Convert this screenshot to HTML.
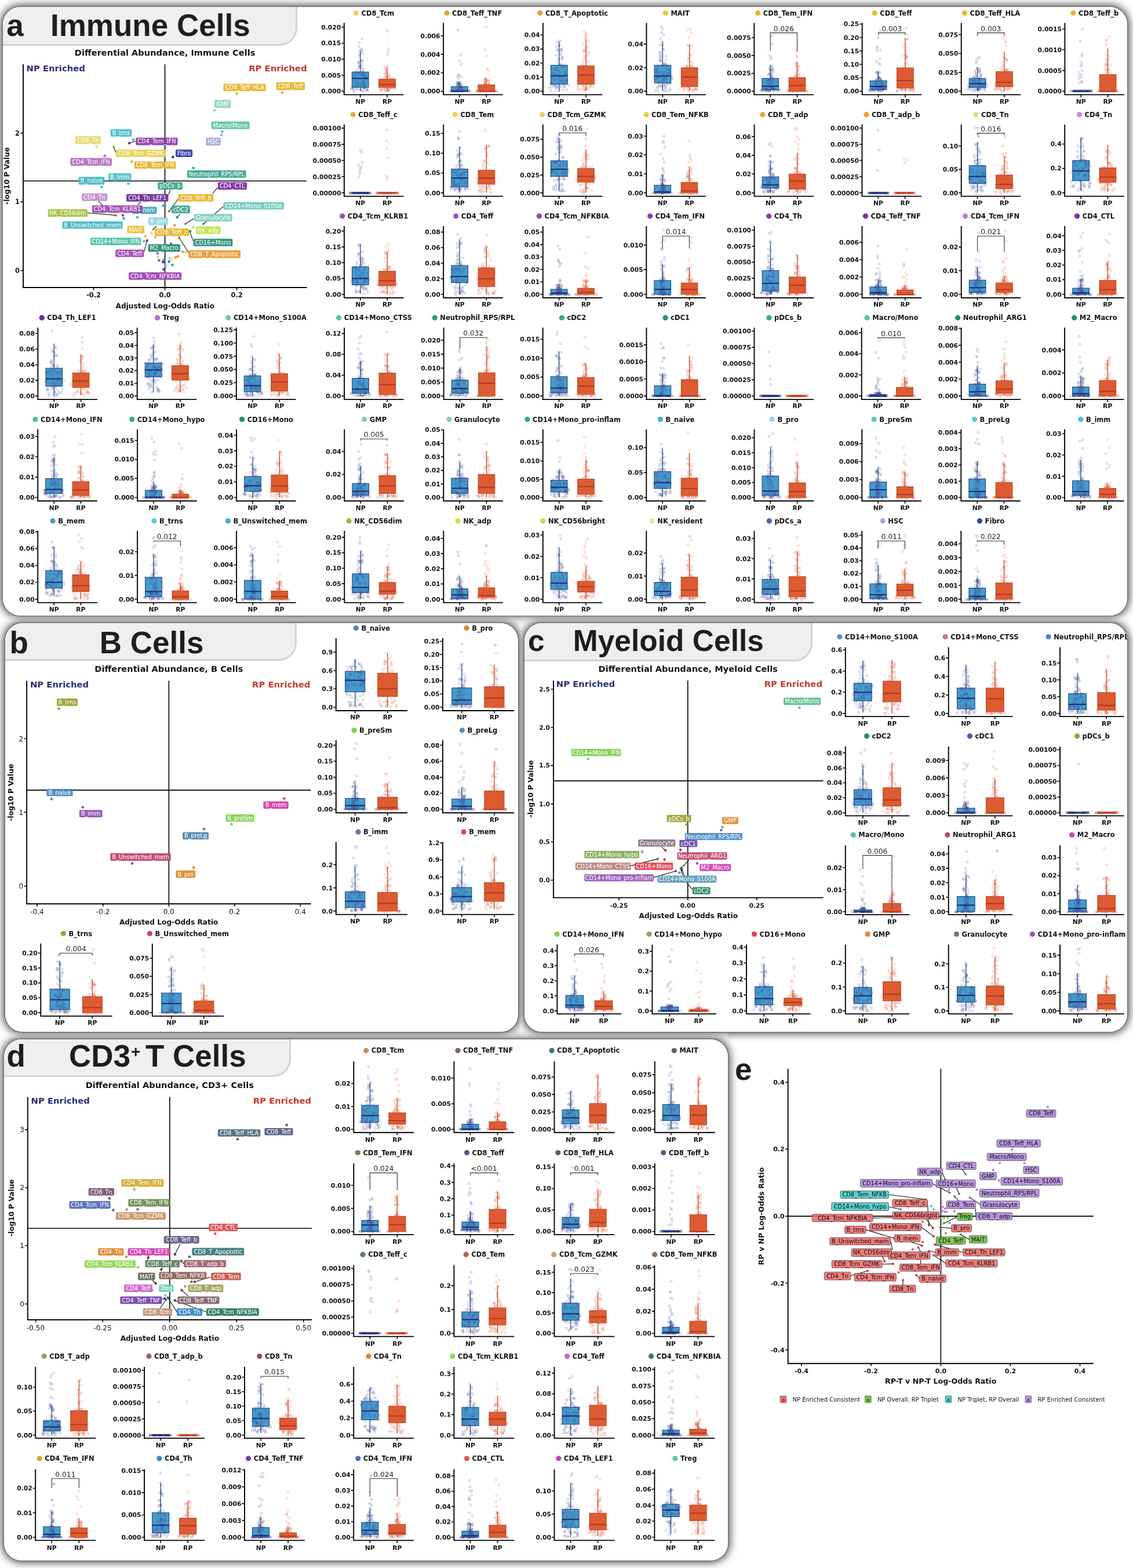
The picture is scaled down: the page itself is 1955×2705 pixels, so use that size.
<!DOCTYPE html><html><head><meta charset="utf-8"><style>
html,body{margin:0;padding:0;background:#fff;}
body{width:1955px;height:2705px;position:relative;overflow:hidden;font-family:"DejaVu Sans","Liberation Sans",sans-serif;}
.sh{position:absolute;border-radius:30px;box-shadow:0 0 0 1.5px #767473,0 0 14px 4px rgba(58,55,55,.85);}
.pn{position:absolute;background:#fff;border-radius:30px;overflow:hidden;}
.gs{position:absolute;background:rgba(255,255,255,.25);filter:blur(1px);}
.tab{position:absolute;left:0;top:0;background:#efefee;border-right:3.5px solid #d4d4d4;border-bottom:3.5px solid #d4d4d4;border-bottom-right-radius:31px;}
.ttl{position:absolute;font-family:"Liberation Sans",Arial,sans-serif;font-weight:bold;font-size:52px;color:#1e1e1e;line-height:1;white-space:nowrap;}
svg{position:absolute;left:0;top:0;}
.t{font-family:"DejaVu Sans",sans-serif;font-weight:bold;fill:#111;}
.k{font-family:"DejaVu Sans",sans-serif;font-weight:bold;fill:#111;}
.kr{font-family:"DejaVu Sans",sans-serif;fill:#111;}
.s{font-family:"DejaVu Sans",sans-serif;font-size:12.2px;fill:#222;}
.lb{font-family:"DejaVu Sans",sans-serif;}
.sp{stroke:#000;stroke-width:1.9;fill:none;}
.tk{stroke:#000;stroke-width:1.6;fill:none;}
</style></head><body><div class="sh" style="left:4.5px;top:11.5px;width:1940.5px;height:1050px"></div><div class="sh" style="left:9px;top:1074.5px;width:885px;height:705.8px"></div><div class="sh" style="left:904.5px;top:1074.5px;width:1040.5px;height:705.8px"></div><div class="sh" style="left:6.5px;top:1792.5px;width:1249.5px;height:899.5px"></div><div class="gs" style="left:4.5px;top:1063px;width:1940.5px;height:10px"></div><div class="gs" style="left:895.5px;top:1073px;width:7.5px;height:708.8px"></div><div class="gs" style="left:6.5px;top:1781.8px;width:1249.5px;height:9.2px"></div><div class="pn" style="left:4.5px;top:11.5px;width:1940.5px;height:1050px"><div class="tab" style="width:505.2px;height:64.4px"></div></div><div class="pn" style="left:9px;top:1074.5px;width:885px;height:705.8px"><div class="tab" style="width:500px;height:62px"></div></div><div class="pn" style="left:904.5px;top:1074.5px;width:1040.5px;height:705.8px"><div class="tab" style="width:494.8px;height:63.1px"></div></div><div class="pn" style="left:6.5px;top:1792.5px;width:1249.5px;height:899.5px"><div class="tab" style="width:492.2px;height:62.3px"></div></div><div class="ttl" style="left:11.2px;top:16.7px;font-size:53px">a</div><div class="ttl" style="left:87px;top:16.7px;font-size:53px">Immune Cells</div><div class="ttl" style="left:16.5px;top:1081.6px;font-size:53px">b</div><div class="ttl" style="left:171.7px;top:1081.6px;font-size:53px">B Cells</div><div class="ttl" style="left:911.1px;top:1080px;font-size:51.5px">c</div><div class="ttl" style="left:988.8px;top:1080px;font-size:51.5px">Myeloid Cells</div><div class="ttl" style="left:11.5px;top:1795.4px;font-size:53px">d</div><div class="ttl" style="left:119.1px;top:1795.4px;font-size:53px">CD3</div><div class="ttl" style="left:226px;top:1801.3px;font-size:28px">+</div><div class="ttl" style="left:250.9px;top:1795.4px;font-size:53px">T Cells</div><div class="ttl" style="left:1268.1px;top:1818.4px;font-size:53px">e</div><svg width="1955" height="2705" viewBox="0 0 1955 2705"><defs><clipPath id="clipc"><rect x="904.5" y="1074.5" width="1040.5" height="706" rx="30"/></clipPath><marker id="mn" markerWidth="8" markerHeight="8" refX="4" refY="4" markerUnits="userSpaceOnUse" overflow="visible"><circle cx="4" cy="4" r="1.75" fill="none" stroke="#404e94" stroke-width="0.6" stroke-opacity="0.6"/></marker><marker id="mr" markerWidth="8" markerHeight="8" refX="4" refY="4" markerUnits="userSpaceOnUse" overflow="visible"><circle cx="4" cy="4" r="1.75" fill="none" stroke="#dc6040" stroke-width="0.6" stroke-opacity="0.6"/></marker></defs><circle cx="614.4" cy="22.5" r="4.6" fill="#e6d760"/><text x="623.5" y="26.6" class="t" style="font-size:11.5px">CD8_Tcm</text><path d="M621.7 88.3V124.2M621.7 150.8V157.4" stroke="#21457e" stroke-width="1.3" fill="none"/><rect x="607.4" y="124.2" width="28.6" height="26.5" fill="#449bcd" stroke="#21457e" stroke-width="1.1"/><path d="M668 115.9V136.4M668 150.8V157.4" stroke="#b8482a" stroke-width="1.3" fill="none"/><rect x="653.7" y="136.4" width="28.6" height="14.4" fill="#dc5b2f" stroke="#b8482a" stroke-width="1.1"/><path d="M593.8 39.6V163.4H696.4" class="sp"/><text x="588.3" y="161.3" class="k" style="font-size:10.75px" text-anchor="end">0.000</text><text x="588.3" y="133.6" class="k" style="font-size:10.75px" text-anchor="end">0.005</text><text x="588.3" y="106" class="k" style="font-size:10.75px" text-anchor="end">0.010</text><text x="588.3" y="78.3" class="k" style="font-size:10.75px" text-anchor="end">0.015</text><text x="588.3" y="50.7" class="k" style="font-size:10.75px" text-anchor="end">0.020</text><text x="621.7" y="178.7" class="k" style="font-size:10.75px" text-anchor="middle">NP</text><text x="668" y="178.7" class="k" style="font-size:10.75px" text-anchor="middle">RP</text><path d="M593.8 157.4h-4.5M593.8 129.8h-4.5M593.8 102.1h-4.5M593.8 74.5h-4.5M593.8 46.8h-4.5M621.7 163.4v4.5M668 163.4v4.5" class="tk"/><circle cx="771" cy="22.5" r="4.6" fill="#e5a236"/><text x="780.1" y="26.6" class="t" style="font-size:11.5px">CD8_Teff_TNF</text><path d="M793 141.5V149.4M793 157.4V157.4" stroke="#21457e" stroke-width="1.3" fill="none"/><rect x="778.7" y="149.4" width="28.6" height="8" fill="#449bcd" stroke="#21457e" stroke-width="1.1"/><path d="M839.3 135.1V146.2M839.3 157.4V157.4" stroke="#b8482a" stroke-width="1.3" fill="none"/><rect x="825" y="146.2" width="28.6" height="11.2" fill="#dc5b2f" stroke="#b8482a" stroke-width="1.1"/><path d="M765.1 39.6V163.4H867.7" class="sp"/><text x="759.6" y="161.3" class="k" style="font-size:10.75px" text-anchor="end">0.000</text><text x="759.6" y="129.4" class="k" style="font-size:10.75px" text-anchor="end">0.002</text><text x="759.6" y="97.5" class="k" style="font-size:10.75px" text-anchor="end">0.004</text><text x="759.6" y="65.6" class="k" style="font-size:10.75px" text-anchor="end">0.006</text><text x="793" y="178.7" class="k" style="font-size:10.75px" text-anchor="middle">NP</text><text x="839.3" y="178.7" class="k" style="font-size:10.75px" text-anchor="middle">RP</text><path d="M765.1 157.4h-4.5M765.1 125.5h-4.5M765.1 93.6h-4.5M765.1 61.7h-4.5M793 163.4v4.5M839.3 163.4v4.5" class="tk"/><circle cx="931.8" cy="22.5" r="4.6" fill="#e49f36"/><text x="940.9" y="26.6" class="t" style="font-size:11.5px">CD8_T_Apoptotic</text><path d="M964.8 72.4V112.5M964.8 145.3V157.4" stroke="#21457e" stroke-width="1.3" fill="none"/><rect x="950.5" y="112.5" width="28.6" height="32.8" fill="#449bcd" stroke="#21457e" stroke-width="1.1"/><path d="M1011.1 67.6V113.7M1011.1 145.3V156.2" stroke="#b8482a" stroke-width="1.3" fill="none"/><rect x="996.8" y="113.7" width="28.6" height="31.6" fill="#dc5b2f" stroke="#b8482a" stroke-width="1.1"/><path d="M936.9 39.6V163.4H1039.5" class="sp"/><text x="931.4" y="161.3" class="k" style="font-size:10.75px" text-anchor="end">0.00</text><text x="931.4" y="137" class="k" style="font-size:10.75px" text-anchor="end">0.01</text><text x="931.4" y="112.7" class="k" style="font-size:10.75px" text-anchor="end">0.02</text><text x="931.4" y="88.4" class="k" style="font-size:10.75px" text-anchor="end">0.03</text><text x="931.4" y="64.2" class="k" style="font-size:10.75px" text-anchor="end">0.04</text><text x="964.8" y="178.7" class="k" style="font-size:10.75px" text-anchor="middle">NP</text><text x="1011.1" y="178.7" class="k" style="font-size:10.75px" text-anchor="middle">RP</text><path d="M936.9 157.4h-4.5M936.9 133.1h-4.5M936.9 108.8h-4.5M936.9 84.6h-4.5M936.9 60.3h-4.5M964.8 163.4v4.5M1011.1 163.4v4.5" class="tk"/><circle cx="1148.3" cy="22.5" r="4.6" fill="#e6c83c"/><text x="1157.4" y="26.6" class="t" style="font-size:11.5px">MAIT</text><path d="M1143.4 72V112.7M1143.4 143.2V157.4" stroke="#21457e" stroke-width="1.3" fill="none"/><rect x="1129.1" y="112.7" width="28.6" height="30.5" fill="#449bcd" stroke="#21457e" stroke-width="1.1"/><path d="M1189.7 78.1V116.8M1189.7 149.3V157.4" stroke="#b8482a" stroke-width="1.3" fill="none"/><rect x="1175.4" y="116.8" width="28.6" height="32.5" fill="#dc5b2f" stroke="#b8482a" stroke-width="1.1"/><path d="M1115.5 39.6V163.4H1218.1" class="sp"/><text x="1110" y="161.3" class="k" style="font-size:10.75px" text-anchor="end">0.00</text><text x="1110" y="120.6" class="k" style="font-size:10.75px" text-anchor="end">0.02</text><text x="1110" y="80" class="k" style="font-size:10.75px" text-anchor="end">0.04</text><text x="1143.4" y="178.7" class="k" style="font-size:10.75px" text-anchor="middle">NP</text><text x="1189.7" y="178.7" class="k" style="font-size:10.75px" text-anchor="middle">RP</text><path d="M1115.5 157.4h-4.5M1115.5 116.8h-4.5M1115.5 76.1h-4.5M1143.4 163.4v4.5M1189.7 163.4v4.5" class="tk"/><circle cx="1307.7" cy="22.5" r="4.6" fill="#e6b933"/><text x="1316.8" y="26.6" class="t" style="font-size:11.5px">CD8_Tem_IFN</text><path d="M1329.2 112.9V135.2M1329.2 154.9V157.4" stroke="#21457e" stroke-width="1.3" fill="none"/><rect x="1314.9" y="135.2" width="28.6" height="19.8" fill="#449bcd" stroke="#21457e" stroke-width="1.1"/><path d="M1375.5 106.7V133.9M1375.5 157.4V157.4" stroke="#b8482a" stroke-width="1.3" fill="none"/><rect x="1361.2" y="133.9" width="28.6" height="23.5" fill="#dc5b2f" stroke="#b8482a" stroke-width="1.1"/><path d="M1301.3 39.6V163.4H1403.9" class="sp"/><text x="1295.8" y="161.3" class="k" style="font-size:10.75px" text-anchor="end">0.0000</text><text x="1295.8" y="130.4" class="k" style="font-size:10.75px" text-anchor="end">0.0025</text><text x="1295.8" y="99.5" class="k" style="font-size:10.75px" text-anchor="end">0.0050</text><text x="1295.8" y="68.6" class="k" style="font-size:10.75px" text-anchor="end">0.0075</text><text x="1329.2" y="178.7" class="k" style="font-size:10.75px" text-anchor="middle">NP</text><text x="1375.5" y="178.7" class="k" style="font-size:10.75px" text-anchor="middle">RP</text><path d="M1301.3 157.4h-4.5M1301.3 126.5h-4.5M1301.3 95.6h-4.5M1301.3 64.7h-4.5M1329.2 163.4v4.5M1375.5 163.4v4.5" class="tk"/><path d="M1329.2 87.4V56.6H1375.5V89" stroke="#333" stroke-width="1.1" fill="none"/><text x="1352.3" y="53.6" class="s" text-anchor="middle">0.026</text><circle cx="1509.2" cy="22.5" r="4.6" fill="#e6bc30"/><text x="1518.3" y="26.6" class="t" style="font-size:11.5px">CD8_Teff</text><path d="M1515.6 124V139.3M1515.6 154.6V157.4" stroke="#21457e" stroke-width="1.3" fill="none"/><rect x="1501.3" y="139.3" width="28.6" height="15.3" fill="#449bcd" stroke="#21457e" stroke-width="1.1"/><path d="M1561.9 67V117.1M1561.9 151.8V157.4" stroke="#b8482a" stroke-width="1.3" fill="none"/><rect x="1547.6" y="117.1" width="28.6" height="34.8" fill="#dc5b2f" stroke="#b8482a" stroke-width="1.1"/><path d="M1487.7 39.6V163.4H1590.3" class="sp"/><text x="1482.2" y="161.3" class="k" style="font-size:10.75px" text-anchor="end">0.00</text><text x="1482.2" y="138.1" class="k" style="font-size:10.75px" text-anchor="end">0.05</text><text x="1482.2" y="114.9" class="k" style="font-size:10.75px" text-anchor="end">0.10</text><text x="1482.2" y="91.7" class="k" style="font-size:10.75px" text-anchor="end">0.15</text><text x="1482.2" y="68.5" class="k" style="font-size:10.75px" text-anchor="end">0.20</text><text x="1482.2" y="45.4" class="k" style="font-size:10.75px" text-anchor="end">0.25</text><text x="1515.6" y="178.7" class="k" style="font-size:10.75px" text-anchor="middle">NP</text><text x="1561.9" y="178.7" class="k" style="font-size:10.75px" text-anchor="middle">RP</text><path d="M1487.7 157.4h-4.5M1487.7 134.2h-4.5M1487.7 111h-4.5M1487.7 87.9h-4.5M1487.7 64.7h-4.5M1487.7 41.5h-4.5M1515.6 163.4v4.5M1561.9 163.4v4.5" class="tk"/><path d="M1515.6 60V56.6H1561.9V60" stroke="#333" stroke-width="1.1" fill="none"/><text x="1538.7" y="53.6" class="s" text-anchor="middle">0.003</text><circle cx="1664.4" cy="22.5" r="4.6" fill="#e6bd33"/><text x="1673.5" y="26.6" class="t" style="font-size:11.5px">CD8_Teff_HLA</text><path d="M1686.6 117.1V135.3M1686.6 150.9V157.4" stroke="#21457e" stroke-width="1.3" fill="none"/><rect x="1672.3" y="135.3" width="28.6" height="15.6" fill="#449bcd" stroke="#21457e" stroke-width="1.1"/><path d="M1732.9 89.7V123.6M1732.9 149.6V157.4" stroke="#b8482a" stroke-width="1.3" fill="none"/><rect x="1718.6" y="123.6" width="28.6" height="26" fill="#dc5b2f" stroke="#b8482a" stroke-width="1.1"/><path d="M1658.7 39.6V163.4H1761.3" class="sp"/><text x="1653.2" y="161.3" class="k" style="font-size:10.75px" text-anchor="end">0.000</text><text x="1653.2" y="128.7" class="k" style="font-size:10.75px" text-anchor="end">0.025</text><text x="1653.2" y="96.2" class="k" style="font-size:10.75px" text-anchor="end">0.050</text><text x="1653.2" y="63.7" class="k" style="font-size:10.75px" text-anchor="end">0.075</text><text x="1686.6" y="178.7" class="k" style="font-size:10.75px" text-anchor="middle">NP</text><text x="1732.9" y="178.7" class="k" style="font-size:10.75px" text-anchor="middle">RP</text><path d="M1658.7 157.4h-4.5M1658.7 124.9h-4.5M1658.7 92.3h-4.5M1658.7 59.8h-4.5M1686.6 163.4v4.5M1732.9 163.4v4.5" class="tk"/><path d="M1686.6 62.2V56.6H1732.9V62.2" stroke="#333" stroke-width="1.1" fill="none"/><text x="1709.7" y="53.6" class="s" text-anchor="middle">0.003</text><circle cx="1851.9" cy="22.5" r="4.6" fill="#e3b831"/><text x="1861" y="26.6" class="t" style="font-size:11.5px">CD8_Teff_b</text><path d="M1865.3 157.4V157.4M1865.3 157.4V157.4" stroke="#21457e" stroke-width="1.3" fill="none"/><rect x="1851" y="157.4" width="28.6" height="0" fill="#449bcd" stroke="#21457e" stroke-width="1.1"/><path d="M1911.6 84.4V128.8M1911.6 157.4V157.4" stroke="#b8482a" stroke-width="1.3" fill="none"/><rect x="1897.3" y="128.8" width="28.6" height="28.6" fill="#dc5b2f" stroke="#b8482a" stroke-width="1.1"/><path d="M1837.4 39.6V163.4H1940" class="sp"/><text x="1831.9" y="161.3" class="k" style="font-size:10.75px" text-anchor="end">0.0000</text><text x="1831.9" y="125.5" class="k" style="font-size:10.75px" text-anchor="end">0.0005</text><text x="1831.9" y="89.7" class="k" style="font-size:10.75px" text-anchor="end">0.0010</text><text x="1831.9" y="53.9" class="k" style="font-size:10.75px" text-anchor="end">0.0015</text><text x="1865.3" y="178.7" class="k" style="font-size:10.75px" text-anchor="middle">NP</text><text x="1911.6" y="178.7" class="k" style="font-size:10.75px" text-anchor="middle">RP</text><path d="M1837.4 157.4h-4.5M1837.4 121.6h-4.5M1837.4 85.8h-4.5M1837.4 50h-4.5M1865.3 163.4v4.5M1911.6 163.4v4.5" class="tk"/><circle cx="609.1" cy="197.7" r="4.6" fill="#e3b42e"/><text x="618.2" y="201.8" class="t" style="font-size:11.5px">CD8_Teff_c</text><path d="M621.8 332.6V332.6M621.8 332.6V332.6" stroke="#21457e" stroke-width="1.3" fill="none"/><rect x="607.5" y="332.6" width="28.6" height="0" fill="#449bcd" stroke="#21457e" stroke-width="1.1"/><path d="M668.1 332.6V332.6M668.1 332.6V332.6" stroke="#b8482a" stroke-width="1.3" fill="none"/><rect x="653.8" y="332.6" width="28.6" height="0" fill="#dc5b2f" stroke="#b8482a" stroke-width="1.1"/><path d="M593.9 214.8V338.6H696.5" class="sp"/><text x="588.4" y="336.5" class="k" style="font-size:10.75px" text-anchor="end">0.00000</text><text x="588.4" y="308.6" class="k" style="font-size:10.75px" text-anchor="end">0.00025</text><text x="588.4" y="280.7" class="k" style="font-size:10.75px" text-anchor="end">0.00050</text><text x="588.4" y="252.8" class="k" style="font-size:10.75px" text-anchor="end">0.00075</text><text x="588.4" y="224.9" class="k" style="font-size:10.75px" text-anchor="end">0.00100</text><text x="621.8" y="353.9" class="k" style="font-size:10.75px" text-anchor="middle">NP</text><text x="668.1" y="353.9" class="k" style="font-size:10.75px" text-anchor="middle">RP</text><path d="M593.9 332.6h-4.5M593.9 304.7h-4.5M593.9 276.8h-4.5M593.9 248.9h-4.5M593.9 221h-4.5M621.8 338.6v4.5M668.1 338.6v4.5" class="tk"/><circle cx="785.3" cy="197.7" r="4.6" fill="#e6d455"/><text x="794.4" y="201.8" class="t" style="font-size:11.5px">CD8_Tem</text><path d="M793.1 254.1V291.6M793.1 322.4V331.2" stroke="#21457e" stroke-width="1.3" fill="none"/><rect x="778.8" y="291.6" width="28.6" height="30.7" fill="#449bcd" stroke="#21457e" stroke-width="1.1"/><path d="M839.4 250.7V293.7M839.4 317.6V332.6" stroke="#b8482a" stroke-width="1.3" fill="none"/><rect x="825.1" y="293.7" width="28.6" height="23.9" fill="#dc5b2f" stroke="#b8482a" stroke-width="1.1"/><path d="M765.2 214.8V338.6H867.8" class="sp"/><text x="759.7" y="336.5" class="k" style="font-size:10.75px" text-anchor="end">0.00</text><text x="759.7" y="302.3" class="k" style="font-size:10.75px" text-anchor="end">0.05</text><text x="759.7" y="268.2" class="k" style="font-size:10.75px" text-anchor="end">0.10</text><text x="759.7" y="234.1" class="k" style="font-size:10.75px" text-anchor="end">0.15</text><text x="793.1" y="353.9" class="k" style="font-size:10.75px" text-anchor="middle">NP</text><text x="839.4" y="353.9" class="k" style="font-size:10.75px" text-anchor="middle">RP</text><path d="M765.2 332.6h-4.5M765.2 298.5h-4.5M765.2 264.3h-4.5M765.2 230.2h-4.5M793.1 338.6v4.5M839.4 338.6v4.5" class="tk"/><circle cx="935.5" cy="197.7" r="4.6" fill="#e6d45a"/><text x="944.6" y="201.8" class="t" style="font-size:11.5px">CD8_Tcm_GZMK</text><path d="M964.7 237.9V277.3M964.7 304.3V330.1" stroke="#21457e" stroke-width="1.3" fill="none"/><rect x="950.4" y="277.3" width="28.6" height="27" fill="#449bcd" stroke="#21457e" stroke-width="1.1"/><path d="M1011 258.8V290.8M1011 314.2V332.6" stroke="#b8482a" stroke-width="1.3" fill="none"/><rect x="996.7" y="290.8" width="28.6" height="23.4" fill="#dc5b2f" stroke="#b8482a" stroke-width="1.1"/><path d="M936.8 214.8V338.6H1039.4" class="sp"/><text x="931.3" y="336.5" class="k" style="font-size:10.75px" text-anchor="end">0.000</text><text x="931.3" y="305.7" class="k" style="font-size:10.75px" text-anchor="end">0.025</text><text x="931.3" y="275" class="k" style="font-size:10.75px" text-anchor="end">0.050</text><text x="931.3" y="244.3" class="k" style="font-size:10.75px" text-anchor="end">0.075</text><text x="964.7" y="353.9" class="k" style="font-size:10.75px" text-anchor="middle">NP</text><text x="1011" y="353.9" class="k" style="font-size:10.75px" text-anchor="middle">RP</text><path d="M936.8 332.6h-4.5M936.8 301.9h-4.5M936.8 271.1h-4.5M936.8 240.4h-4.5M964.7 338.6v4.5M1011 338.6v4.5" class="tk"/><path d="M964.7 234V229.3H1011V235" stroke="#333" stroke-width="1.1" fill="none"/><text x="987.8" y="226.3" class="s" text-anchor="middle">0.016</text><circle cx="1115" cy="197.7" r="4.6" fill="#e6cf4a"/><text x="1124.1" y="201.8" class="t" style="font-size:11.5px">CD8_Tem_NFKB</text><path d="M1143.2 301.6V319.5M1143.2 332.6V332.6" stroke="#21457e" stroke-width="1.3" fill="none"/><rect x="1128.9" y="319.5" width="28.6" height="13.1" fill="#449bcd" stroke="#21457e" stroke-width="1.1"/><path d="M1189.5 287.6V314.7M1189.5 332.6V332.6" stroke="#b8482a" stroke-width="1.3" fill="none"/><rect x="1175.2" y="314.7" width="28.6" height="17.9" fill="#dc5b2f" stroke="#b8482a" stroke-width="1.1"/><path d="M1115.3 214.8V338.6H1217.9" class="sp"/><text x="1109.8" y="336.5" class="k" style="font-size:10.75px" text-anchor="end">0.00</text><text x="1109.8" y="303.8" class="k" style="font-size:10.75px" text-anchor="end">0.01</text><text x="1109.8" y="271.2" class="k" style="font-size:10.75px" text-anchor="end">0.02</text><text x="1109.8" y="238.6" class="k" style="font-size:10.75px" text-anchor="end">0.03</text><text x="1143.2" y="353.9" class="k" style="font-size:10.75px" text-anchor="middle">NP</text><text x="1189.5" y="353.9" class="k" style="font-size:10.75px" text-anchor="middle">RP</text><path d="M1115.3 332.6h-4.5M1115.3 300h-4.5M1115.3 267.3h-4.5M1115.3 234.7h-4.5M1143.2 338.6v4.5M1189.5 338.6v4.5" class="tk"/><circle cx="1315.9" cy="197.7" r="4.6" fill="#e5a83a"/><text x="1325" y="201.8" class="t" style="font-size:11.5px">CD8_T_adp</text><path d="M1329.5 277.6V305.1M1329.5 324.5V332.6" stroke="#21457e" stroke-width="1.3" fill="none"/><rect x="1315.2" y="305.1" width="28.6" height="19.4" fill="#449bcd" stroke="#21457e" stroke-width="1.1"/><path d="M1375.8 264.7V300.3M1375.8 326.1V332.6" stroke="#b8482a" stroke-width="1.3" fill="none"/><rect x="1361.5" y="300.3" width="28.6" height="25.9" fill="#dc5b2f" stroke="#b8482a" stroke-width="1.1"/><path d="M1301.6 214.8V338.6H1404.2" class="sp"/><text x="1296.1" y="336.5" class="k" style="font-size:10.75px" text-anchor="end">0.00</text><text x="1296.1" y="304.1" class="k" style="font-size:10.75px" text-anchor="end">0.02</text><text x="1296.1" y="271.8" class="k" style="font-size:10.75px" text-anchor="end">0.04</text><text x="1296.1" y="239.5" class="k" style="font-size:10.75px" text-anchor="end">0.06</text><text x="1329.5" y="353.9" class="k" style="font-size:10.75px" text-anchor="middle">NP</text><text x="1375.8" y="353.9" class="k" style="font-size:10.75px" text-anchor="middle">RP</text><path d="M1301.6 332.6h-4.5M1301.6 300.3h-4.5M1301.6 267.9h-4.5M1301.6 235.6h-4.5M1329.5 338.6v4.5M1375.8 338.6v4.5" class="tk"/><circle cx="1494.8" cy="197.7" r="4.6" fill="#e4a535"/><text x="1503.9" y="201.8" class="t" style="font-size:11.5px">CD8_T_adp_b</text><path d="M1515.4 332.6V332.6M1515.4 332.6V332.6" stroke="#21457e" stroke-width="1.3" fill="none"/><rect x="1501.1" y="332.6" width="28.6" height="0" fill="#449bcd" stroke="#21457e" stroke-width="1.1"/><path d="M1561.7 332.6V332.6M1561.7 332.6V332.6" stroke="#b8482a" stroke-width="1.3" fill="none"/><rect x="1547.4" y="332.6" width="28.6" height="0" fill="#dc5b2f" stroke="#b8482a" stroke-width="1.1"/><path d="M1487.5 214.8V338.6H1590.1" class="sp"/><text x="1482" y="336.5" class="k" style="font-size:10.75px" text-anchor="end">0.00000</text><text x="1482" y="308.6" class="k" style="font-size:10.75px" text-anchor="end">0.00025</text><text x="1482" y="280.7" class="k" style="font-size:10.75px" text-anchor="end">0.00050</text><text x="1482" y="252.8" class="k" style="font-size:10.75px" text-anchor="end">0.00075</text><text x="1482" y="224.9" class="k" style="font-size:10.75px" text-anchor="end">0.00100</text><text x="1515.4" y="353.9" class="k" style="font-size:10.75px" text-anchor="middle">NP</text><text x="1561.7" y="353.9" class="k" style="font-size:10.75px" text-anchor="middle">RP</text><path d="M1487.5 332.6h-4.5M1487.5 304.7h-4.5M1487.5 276.8h-4.5M1487.5 248.9h-4.5M1487.5 221h-4.5M1515.4 338.6v4.5M1561.7 338.6v4.5" class="tk"/><circle cx="1683.9" cy="197.7" r="4.6" fill="#e6dc78"/><text x="1693" y="201.8" class="t" style="font-size:11.5px">CD8_Tn</text><path d="M1686.6 246V285.7M1686.6 316.4V331" stroke="#21457e" stroke-width="1.3" fill="none"/><rect x="1672.3" y="285.7" width="28.6" height="30.7" fill="#449bcd" stroke="#21457e" stroke-width="1.1"/><path d="M1732.9 269.5V301.9M1732.9 325.3V332.6" stroke="#b8482a" stroke-width="1.3" fill="none"/><rect x="1718.6" y="301.9" width="28.6" height="23.5" fill="#dc5b2f" stroke="#b8482a" stroke-width="1.1"/><path d="M1658.7 214.8V338.6H1761.3" class="sp"/><text x="1653.2" y="336.5" class="k" style="font-size:10.75px" text-anchor="end">0.00</text><text x="1653.2" y="296" class="k" style="font-size:10.75px" text-anchor="end">0.05</text><text x="1653.2" y="255.6" class="k" style="font-size:10.75px" text-anchor="end">0.10</text><text x="1686.6" y="353.9" class="k" style="font-size:10.75px" text-anchor="middle">NP</text><text x="1732.9" y="353.9" class="k" style="font-size:10.75px" text-anchor="middle">RP</text><path d="M1658.7 332.6h-4.5M1658.7 292.1h-4.5M1658.7 251.7h-4.5M1686.6 338.6v4.5M1732.9 338.6v4.5" class="tk"/><path d="M1686.6 232V229.9H1732.9V233.5" stroke="#333" stroke-width="1.1" fill="none"/><text x="1709.7" y="226.9" class="s" text-anchor="middle">0.016</text><circle cx="1862.4" cy="197.7" r="4.6" fill="#c08fd0"/><text x="1871.5" y="201.8" class="t" style="font-size:11.5px">CD4_Tn</text><path d="M1865.1 238V276.9M1865.1 311.6V328.4" stroke="#21457e" stroke-width="1.3" fill="none"/><rect x="1850.8" y="276.9" width="28.6" height="34.7" fill="#449bcd" stroke="#21457e" stroke-width="1.1"/><path d="M1911.4 250.6V289.5M1911.4 314.7V330.5" stroke="#b8482a" stroke-width="1.3" fill="none"/><rect x="1897.1" y="289.5" width="28.6" height="25.2" fill="#dc5b2f" stroke="#b8482a" stroke-width="1.1"/><path d="M1837.2 214.8V338.6H1939.8" class="sp"/><text x="1831.7" y="336.5" class="k" style="font-size:10.75px" text-anchor="end">0.0</text><text x="1831.7" y="294.4" class="k" style="font-size:10.75px" text-anchor="end">0.2</text><text x="1831.7" y="252.4" class="k" style="font-size:10.75px" text-anchor="end">0.4</text><text x="1865.1" y="353.9" class="k" style="font-size:10.75px" text-anchor="middle">NP</text><text x="1911.4" y="353.9" class="k" style="font-size:10.75px" text-anchor="middle">RP</text><path d="M1837.2 332.6h-4.5M1837.2 290.6h-4.5M1837.2 248.5h-4.5M1865.1 338.6v4.5M1911.4 338.6v4.5" class="tk"/><circle cx="590.7" cy="372.8" r="4.6" fill="#9b4bb8"/><text x="599.8" y="376.9" class="t" style="font-size:11.5px">CD4_Tcm_KLRB1</text><path d="M621.8 421.5V460.2M621.8 491.3V506.6" stroke="#21457e" stroke-width="1.3" fill="none"/><rect x="607.5" y="460.2" width="28.6" height="31.1" fill="#449bcd" stroke="#21457e" stroke-width="1.1"/><path d="M668.1 434.1V467.9M668.1 493V507.7" stroke="#b8482a" stroke-width="1.3" fill="none"/><rect x="653.8" y="467.9" width="28.6" height="25.1" fill="#dc5b2f" stroke="#b8482a" stroke-width="1.1"/><path d="M593.9 389.9V513.7H696.5" class="sp"/><text x="588.4" y="511.6" class="k" style="font-size:10.75px" text-anchor="end">0.00</text><text x="588.4" y="484.3" class="k" style="font-size:10.75px" text-anchor="end">0.05</text><text x="588.4" y="457" class="k" style="font-size:10.75px" text-anchor="end">0.10</text><text x="588.4" y="429.7" class="k" style="font-size:10.75px" text-anchor="end">0.15</text><text x="588.4" y="402.5" class="k" style="font-size:10.75px" text-anchor="end">0.20</text><text x="621.8" y="529" class="k" style="font-size:10.75px" text-anchor="middle">NP</text><text x="668.1" y="529" class="k" style="font-size:10.75px" text-anchor="middle">RP</text><path d="M593.9 507.7h-4.5M593.9 480.4h-4.5M593.9 453.1h-4.5M593.9 425.9h-4.5M593.9 398.6h-4.5M621.8 513.7v4.5M668.1 513.7v4.5" class="tk"/><circle cx="786.7" cy="372.8" r="4.6" fill="#a052bf"/><text x="795.8" y="376.9" class="t" style="font-size:11.5px">CD4_Teff</text><path d="M793.1 413.8V458.1M793.1 487.6V507.7" stroke="#21457e" stroke-width="1.3" fill="none"/><rect x="778.8" y="458.1" width="28.6" height="29.5" fill="#449bcd" stroke="#21457e" stroke-width="1.1"/><path d="M839.4 424.5V462.1M839.4 494.3V507.7" stroke="#b8482a" stroke-width="1.3" fill="none"/><rect x="825.1" y="462.1" width="28.6" height="32.2" fill="#dc5b2f" stroke="#b8482a" stroke-width="1.1"/><path d="M765.2 389.9V513.7H867.8" class="sp"/><text x="759.7" y="511.6" class="k" style="font-size:10.75px" text-anchor="end">0.00</text><text x="759.7" y="484.7" class="k" style="font-size:10.75px" text-anchor="end">0.02</text><text x="759.7" y="457.9" class="k" style="font-size:10.75px" text-anchor="end">0.04</text><text x="759.7" y="431.1" class="k" style="font-size:10.75px" text-anchor="end">0.06</text><text x="759.7" y="404.3" class="k" style="font-size:10.75px" text-anchor="end">0.08</text><text x="793.1" y="529" class="k" style="font-size:10.75px" text-anchor="middle">NP</text><text x="839.4" y="529" class="k" style="font-size:10.75px" text-anchor="middle">RP</text><path d="M765.2 507.7h-4.5M765.2 480.9h-4.5M765.2 454h-4.5M765.2 427.2h-4.5M765.2 400.4h-4.5M793.1 513.7v4.5M839.4 513.7v4.5" class="tk"/><circle cx="930.4" cy="372.8" r="4.6" fill="#9b42b7"/><text x="939.5" y="376.9" class="t" style="font-size:11.5px">CD4_Tcm_NFKBIA</text><path d="M964.7 490.5V499.1M964.7 507.7V507.7" stroke="#21457e" stroke-width="1.3" fill="none"/><rect x="950.4" y="499.1" width="28.6" height="8.6" fill="#449bcd" stroke="#21457e" stroke-width="1.1"/><path d="M1011 484.1V497.4M1011 507.7V507.7" stroke="#b8482a" stroke-width="1.3" fill="none"/><rect x="996.7" y="497.4" width="28.6" height="10.3" fill="#dc5b2f" stroke="#b8482a" stroke-width="1.1"/><path d="M936.8 389.9V513.7H1039.4" class="sp"/><text x="931.3" y="511.6" class="k" style="font-size:10.75px" text-anchor="end">0.00</text><text x="931.3" y="490.1" class="k" style="font-size:10.75px" text-anchor="end">0.01</text><text x="931.3" y="468.6" class="k" style="font-size:10.75px" text-anchor="end">0.02</text><text x="931.3" y="447.2" class="k" style="font-size:10.75px" text-anchor="end">0.03</text><text x="931.3" y="425.7" class="k" style="font-size:10.75px" text-anchor="end">0.04</text><text x="931.3" y="404.3" class="k" style="font-size:10.75px" text-anchor="end">0.05</text><text x="964.7" y="529" class="k" style="font-size:10.75px" text-anchor="middle">NP</text><text x="1011" y="529" class="k" style="font-size:10.75px" text-anchor="middle">RP</text><path d="M936.8 507.7h-4.5M936.8 486.2h-4.5M936.8 464.8h-4.5M936.8 443.3h-4.5M936.8 421.9h-4.5M936.8 400.4h-4.5M964.7 513.7v4.5M1011 513.7v4.5" class="tk"/><circle cx="1121.7" cy="372.8" r="4.6" fill="#8e3aae"/><text x="1130.8" y="376.9" class="t" style="font-size:11.5px">CD4_Tem_IFN</text><path d="M1143.2 456.6V483.9M1143.2 507.7V507.7" stroke="#21457e" stroke-width="1.3" fill="none"/><rect x="1128.9" y="483.9" width="28.6" height="23.8" fill="#449bcd" stroke="#21457e" stroke-width="1.1"/><path d="M1189.5 460.9V488.1M1189.5 507.7V507.7" stroke="#b8482a" stroke-width="1.3" fill="none"/><rect x="1175.2" y="488.1" width="28.6" height="19.6" fill="#dc5b2f" stroke="#b8482a" stroke-width="1.1"/><path d="M1115.3 389.9V513.7H1217.9" class="sp"/><text x="1109.8" y="511.6" class="k" style="font-size:10.75px" text-anchor="end">0.000</text><text x="1109.8" y="469" class="k" style="font-size:10.75px" text-anchor="end">0.005</text><text x="1109.8" y="426.5" class="k" style="font-size:10.75px" text-anchor="end">0.010</text><text x="1143.2" y="529" class="k" style="font-size:10.75px" text-anchor="middle">NP</text><text x="1189.5" y="529" class="k" style="font-size:10.75px" text-anchor="middle">RP</text><path d="M1115.3 507.7h-4.5M1115.3 465.1h-4.5M1115.3 422.6h-4.5M1143.2 513.7v4.5M1189.5 513.7v4.5" class="tk"/><path d="M1143.2 429.7V407.3H1189.5V428.2" stroke="#333" stroke-width="1.1" fill="none"/><text x="1166.3" y="404.3" class="s" text-anchor="middle">0.014</text><circle cx="1326.8" cy="372.8" r="4.6" fill="#8e3aae"/><text x="1335.9" y="376.9" class="t" style="font-size:11.5px">CD4_Th</text><path d="M1329.5 416V466.8M1329.5 502.2V507.7" stroke="#21457e" stroke-width="1.3" fill="none"/><rect x="1315.2" y="466.8" width="28.6" height="35.4" fill="#449bcd" stroke="#21457e" stroke-width="1.1"/><path d="M1375.8 439.2V477.9M1375.8 505.5V507.7" stroke="#b8482a" stroke-width="1.3" fill="none"/><rect x="1361.5" y="477.9" width="28.6" height="27.6" fill="#dc5b2f" stroke="#b8482a" stroke-width="1.1"/><path d="M1301.6 389.9V513.7H1404.2" class="sp"/><text x="1296.1" y="511.6" class="k" style="font-size:10.75px" text-anchor="end">0.0000</text><text x="1296.1" y="483.9" class="k" style="font-size:10.75px" text-anchor="end">0.0025</text><text x="1296.1" y="456.3" class="k" style="font-size:10.75px" text-anchor="end">0.0050</text><text x="1296.1" y="428.7" class="k" style="font-size:10.75px" text-anchor="end">0.0075</text><text x="1296.1" y="401.1" class="k" style="font-size:10.75px" text-anchor="end">0.0100</text><text x="1329.5" y="529" class="k" style="font-size:10.75px" text-anchor="middle">NP</text><text x="1375.8" y="529" class="k" style="font-size:10.75px" text-anchor="middle">RP</text><path d="M1301.6 507.7h-4.5M1301.6 480.1h-4.5M1301.6 452.4h-4.5M1301.6 424.8h-4.5M1301.6 397.2h-4.5M1329.5 513.7v4.5M1375.8 513.7v4.5" class="tk"/><circle cx="1493.4" cy="372.8" r="4.6" fill="#7a30a8"/><text x="1502.5" y="376.9" class="t" style="font-size:11.5px">CD4_Teff_TNF</text><path d="M1515.4 482.2V495M1515.4 507.7V507.7" stroke="#21457e" stroke-width="1.3" fill="none"/><rect x="1501.1" y="495" width="28.6" height="12.7" fill="#449bcd" stroke="#21457e" stroke-width="1.1"/><path d="M1561.7 492.7V500.2M1561.7 507.7V507.7" stroke="#b8482a" stroke-width="1.3" fill="none"/><rect x="1547.4" y="500.2" width="28.6" height="7.5" fill="#dc5b2f" stroke="#b8482a" stroke-width="1.1"/><path d="M1487.5 389.9V513.7H1590.1" class="sp"/><text x="1482" y="511.6" class="k" style="font-size:10.75px" text-anchor="end">0.000</text><text x="1482" y="481.6" class="k" style="font-size:10.75px" text-anchor="end">0.002</text><text x="1482" y="451.6" class="k" style="font-size:10.75px" text-anchor="end">0.004</text><text x="1482" y="421.7" class="k" style="font-size:10.75px" text-anchor="end">0.006</text><text x="1515.4" y="529" class="k" style="font-size:10.75px" text-anchor="middle">NP</text><text x="1561.7" y="529" class="k" style="font-size:10.75px" text-anchor="middle">RP</text><path d="M1487.5 507.7h-4.5M1487.5 477.7h-4.5M1487.5 447.8h-4.5M1487.5 417.8h-4.5M1515.4 513.7v4.5M1561.7 513.7v4.5" class="tk"/><circle cx="1665.6" cy="372.8" r="4.6" fill="#b880cc"/><text x="1674.7" y="376.9" class="t" style="font-size:11.5px">CD4_Tcm_IFN</text><path d="M1686.6 460.8V483.2M1686.6 504.4V507.7" stroke="#21457e" stroke-width="1.3" fill="none"/><rect x="1672.3" y="483.2" width="28.6" height="21.2" fill="#449bcd" stroke="#21457e" stroke-width="1.1"/><path d="M1732.9 475.9V488.1M1732.9 504.4V507.7" stroke="#b8482a" stroke-width="1.3" fill="none"/><rect x="1718.6" y="488.1" width="28.6" height="16.3" fill="#dc5b2f" stroke="#b8482a" stroke-width="1.1"/><path d="M1658.7 389.9V513.7H1761.3" class="sp"/><text x="1653.2" y="511.6" class="k" style="font-size:10.75px" text-anchor="end">0.00</text><text x="1653.2" y="470.8" class="k" style="font-size:10.75px" text-anchor="end">0.01</text><text x="1653.2" y="430" class="k" style="font-size:10.75px" text-anchor="end">0.02</text><text x="1686.6" y="529" class="k" style="font-size:10.75px" text-anchor="middle">NP</text><text x="1732.9" y="529" class="k" style="font-size:10.75px" text-anchor="middle">RP</text><path d="M1658.7 507.7h-4.5M1658.7 466.9h-4.5M1658.7 426.1h-4.5M1686.6 513.7v4.5M1732.9 513.7v4.5" class="tk"/><path d="M1686.6 433.3V407.3H1732.9V434.2" stroke="#333" stroke-width="1.1" fill="none"/><text x="1709.7" y="404.3" class="s" text-anchor="middle">0.021</text><circle cx="1858.6" cy="372.8" r="4.6" fill="#7a30a8"/><text x="1867.7" y="376.9" class="t" style="font-size:11.5px">CD4_CTL</text><path d="M1865.1 482.4V497.1M1865.1 507.7V507.7" stroke="#21457e" stroke-width="1.3" fill="none"/><rect x="1850.8" y="497.1" width="28.6" height="10.6" fill="#449bcd" stroke="#21457e" stroke-width="1.1"/><path d="M1911.4 452.1V483.7M1911.4 507.7V507.7" stroke="#b8482a" stroke-width="1.3" fill="none"/><rect x="1897.1" y="483.7" width="28.6" height="24" fill="#dc5b2f" stroke="#b8482a" stroke-width="1.1"/><path d="M1837.2 389.9V513.7H1939.8" class="sp"/><text x="1831.7" y="511.6" class="k" style="font-size:10.75px" text-anchor="end">0.00</text><text x="1831.7" y="486.3" class="k" style="font-size:10.75px" text-anchor="end">0.01</text><text x="1831.7" y="461.1" class="k" style="font-size:10.75px" text-anchor="end">0.02</text><text x="1831.7" y="435.8" class="k" style="font-size:10.75px" text-anchor="end">0.03</text><text x="1831.7" y="410.6" class="k" style="font-size:10.75px" text-anchor="end">0.04</text><text x="1865.1" y="529" class="k" style="font-size:10.75px" text-anchor="middle">NP</text><text x="1911.4" y="529" class="k" style="font-size:10.75px" text-anchor="middle">RP</text><path d="M1837.2 507.7h-4.5M1837.2 482.4h-4.5M1837.2 457.2h-4.5M1837.2 431.9h-4.5M1837.2 406.7h-4.5M1865.1 513.7v4.5M1911.4 513.7v4.5" class="tk"/><circle cx="72.2" cy="548.2" r="4.6" fill="#6a2a9a"/><text x="81.3" y="552.3" class="t" style="font-size:11.5px">CD4_Th_LEF1</text><path d="M93.3 594.1V635.2M93.3 666.2V683.1" stroke="#21457e" stroke-width="1.3" fill="none"/><rect x="79" y="635.2" width="28.6" height="31" fill="#449bcd" stroke="#21457e" stroke-width="1.1"/><path d="M139.6 613V643.3M139.6 668.3V681.8" stroke="#b8482a" stroke-width="1.3" fill="none"/><rect x="125.3" y="643.3" width="28.6" height="25" fill="#dc5b2f" stroke="#b8482a" stroke-width="1.1"/><path d="M65.4 565.3V689.1H168" class="sp"/><text x="59.9" y="687" class="k" style="font-size:10.75px" text-anchor="end">0.00</text><text x="59.9" y="660" class="k" style="font-size:10.75px" text-anchor="end">0.02</text><text x="59.9" y="633" class="k" style="font-size:10.75px" text-anchor="end">0.04</text><text x="59.9" y="606" class="k" style="font-size:10.75px" text-anchor="end">0.06</text><text x="59.9" y="579.1" class="k" style="font-size:10.75px" text-anchor="end">0.08</text><text x="93.3" y="704.4" class="k" style="font-size:10.75px" text-anchor="middle">NP</text><text x="139.6" y="704.4" class="k" style="font-size:10.75px" text-anchor="middle">RP</text><path d="M65.4 683.1h-4.5M65.4 656.1h-4.5M65.4 629.2h-4.5M65.4 602.2h-4.5M65.4 575.2h-4.5M93.3 689.1v4.5M139.6 689.1v4.5" class="tk"/><circle cx="271.6" cy="548.2" r="4.6" fill="#b070c8"/><text x="280.7" y="552.3" class="t" style="font-size:11.5px">Treg</text><path d="M264.6 595.7V626.3M264.6 650.3V676.5" stroke="#21457e" stroke-width="1.3" fill="none"/><rect x="250.3" y="626.3" width="28.6" height="24" fill="#449bcd" stroke="#21457e" stroke-width="1.1"/><path d="M310.9 595.7V630.7M310.9 655.8V676.5" stroke="#b8482a" stroke-width="1.3" fill="none"/><rect x="296.6" y="630.7" width="28.6" height="25.1" fill="#dc5b2f" stroke="#b8482a" stroke-width="1.1"/><path d="M236.7 565.3V689.1H339.3" class="sp"/><text x="231.2" y="687" class="k" style="font-size:10.75px" text-anchor="end">0.00</text><text x="231.2" y="665.1" class="k" style="font-size:10.75px" text-anchor="end">0.01</text><text x="231.2" y="643.3" class="k" style="font-size:10.75px" text-anchor="end">0.02</text><text x="231.2" y="621.5" class="k" style="font-size:10.75px" text-anchor="end">0.03</text><text x="231.2" y="599.6" class="k" style="font-size:10.75px" text-anchor="end">0.04</text><text x="231.2" y="577.8" class="k" style="font-size:10.75px" text-anchor="end">0.05</text><text x="264.6" y="704.4" class="k" style="font-size:10.75px" text-anchor="middle">NP</text><text x="310.9" y="704.4" class="k" style="font-size:10.75px" text-anchor="middle">RP</text><path d="M236.7 683.1h-4.5M236.7 661.3h-4.5M236.7 639.4h-4.5M236.7 617.6h-4.5M236.7 595.7h-4.5M236.7 573.9h-4.5M264.6 689.1v4.5M310.9 689.1v4.5" class="tk"/><circle cx="393.9" cy="548.2" r="4.6" fill="#70c8b0"/><text x="402.9" y="552.3" class="t" style="font-size:11.5px">CD14+Mono_S100A</text><path d="M435.7 615.5V648.4M435.7 675.8V683.1" stroke="#21457e" stroke-width="1.3" fill="none"/><rect x="421.4" y="648.4" width="28.6" height="27.4" fill="#449bcd" stroke="#21457e" stroke-width="1.1"/><path d="M482 611.8V644.7M482 674.9V683.1" stroke="#b8482a" stroke-width="1.3" fill="none"/><rect x="467.7" y="644.7" width="28.6" height="30.1" fill="#dc5b2f" stroke="#b8482a" stroke-width="1.1"/><path d="M407.8 565.3V689.1H510.4" class="sp"/><text x="402.3" y="687" class="k" style="font-size:10.75px" text-anchor="end">0.000</text><text x="402.3" y="664.1" class="k" style="font-size:10.75px" text-anchor="end">0.025</text><text x="402.3" y="641.3" class="k" style="font-size:10.75px" text-anchor="end">0.050</text><text x="402.3" y="618.5" class="k" style="font-size:10.75px" text-anchor="end">0.075</text><text x="402.3" y="595.6" class="k" style="font-size:10.75px" text-anchor="end">0.100</text><text x="402.3" y="572.8" class="k" style="font-size:10.75px" text-anchor="end">0.125</text><text x="435.7" y="704.4" class="k" style="font-size:10.75px" text-anchor="middle">NP</text><text x="482" y="704.4" class="k" style="font-size:10.75px" text-anchor="middle">RP</text><path d="M407.8 683.1h-4.5M407.8 660.3h-4.5M407.8 637.4h-4.5M407.8 614.6h-4.5M407.8 591.7h-4.5M407.8 568.9h-4.5M435.7 689.1v4.5M482 689.1v4.5" class="tk"/><circle cx="584.6" cy="548.2" r="4.6" fill="#5cc0a0"/><text x="593.7" y="552.3" class="t" style="font-size:11.5px">CD14+Mono_CTSS</text><path d="M622 623V652.6M622 678.6V683.1" stroke="#21457e" stroke-width="1.3" fill="none"/><rect x="607.7" y="652.6" width="28.6" height="26" fill="#449bcd" stroke="#21457e" stroke-width="1.1"/><path d="M668.3 609.5V643.6M668.3 680.4V683.1" stroke="#b8482a" stroke-width="1.3" fill="none"/><rect x="654" y="643.6" width="28.6" height="36.8" fill="#dc5b2f" stroke="#b8482a" stroke-width="1.1"/><path d="M594.1 565.3V689.1H696.7" class="sp"/><text x="588.6" y="687" class="k" style="font-size:10.75px" text-anchor="end">0.00</text><text x="588.6" y="651.1" class="k" style="font-size:10.75px" text-anchor="end">0.04</text><text x="588.6" y="615.2" class="k" style="font-size:10.75px" text-anchor="end">0.08</text><text x="588.6" y="579.3" class="k" style="font-size:10.75px" text-anchor="end">0.12</text><text x="622" y="704.4" class="k" style="font-size:10.75px" text-anchor="middle">NP</text><text x="668.3" y="704.4" class="k" style="font-size:10.75px" text-anchor="middle">RP</text><path d="M594.1 683.1h-4.5M594.1 647.2h-4.5M594.1 611.3h-4.5M594.1 575.4h-4.5M622 689.1v4.5M668.3 689.1v4.5" class="tk"/><circle cx="750.2" cy="548.2" r="4.6" fill="#3a9880"/><text x="759.3" y="552.3" class="t" style="font-size:11.5px">Neutrophil_RPS/RPL</text><path d="M793.6 635.9V655.7M793.6 678.3V683.1" stroke="#21457e" stroke-width="1.3" fill="none"/><rect x="779.3" y="655.7" width="28.6" height="22.6" fill="#449bcd" stroke="#21457e" stroke-width="1.1"/><path d="M839.9 598.8V643.1M839.9 683.1V683.1" stroke="#b8482a" stroke-width="1.3" fill="none"/><rect x="825.6" y="643.1" width="28.6" height="40" fill="#dc5b2f" stroke="#b8482a" stroke-width="1.1"/><path d="M765.7 565.3V689.1H868.3" class="sp"/><text x="760.2" y="687" class="k" style="font-size:10.75px" text-anchor="end">0.000</text><text x="760.2" y="662.9" class="k" style="font-size:10.75px" text-anchor="end">0.005</text><text x="760.2" y="638.8" class="k" style="font-size:10.75px" text-anchor="end">0.010</text><text x="760.2" y="614.7" class="k" style="font-size:10.75px" text-anchor="end">0.015</text><text x="760.2" y="590.7" class="k" style="font-size:10.75px" text-anchor="end">0.020</text><text x="793.6" y="704.4" class="k" style="font-size:10.75px" text-anchor="middle">NP</text><text x="839.9" y="704.4" class="k" style="font-size:10.75px" text-anchor="middle">RP</text><path d="M765.7 683.1h-4.5M765.7 659h-4.5M765.7 635h-4.5M765.7 610.9h-4.5M765.7 586.8h-4.5M793.6 689.1v4.5M839.9 689.1v4.5" class="tk"/><path d="M793.6 601.7V582.3H839.9V585" stroke="#333" stroke-width="1.1" fill="none"/><text x="816.7" y="579.3" class="s" text-anchor="middle">0.032</text><circle cx="969.4" cy="548.2" r="4.6" fill="#3aa890"/><text x="978.5" y="552.3" class="t" style="font-size:11.5px">cDC2</text><path d="M964.6 606.8V649.8M964.6 677.9V683.1" stroke="#21457e" stroke-width="1.3" fill="none"/><rect x="950.3" y="649.8" width="28.6" height="28" fill="#449bcd" stroke="#21457e" stroke-width="1.1"/><path d="M1010.9 627.7V651.2M1010.9 679.8V683.1" stroke="#b8482a" stroke-width="1.3" fill="none"/><rect x="996.6" y="651.2" width="28.6" height="28.7" fill="#dc5b2f" stroke="#b8482a" stroke-width="1.1"/><path d="M936.7 565.3V689.1H1039.3" class="sp"/><text x="931.2" y="687" class="k" style="font-size:10.75px" text-anchor="end">0.000</text><text x="931.2" y="654.4" class="k" style="font-size:10.75px" text-anchor="end">0.005</text><text x="931.2" y="621.8" class="k" style="font-size:10.75px" text-anchor="end">0.010</text><text x="931.2" y="589.2" class="k" style="font-size:10.75px" text-anchor="end">0.015</text><text x="964.6" y="704.4" class="k" style="font-size:10.75px" text-anchor="middle">NP</text><text x="1010.9" y="704.4" class="k" style="font-size:10.75px" text-anchor="middle">RP</text><path d="M936.7 683.1h-4.5M936.7 650.5h-4.5M936.7 617.9h-4.5M936.7 585.3h-4.5M964.6 689.1v4.5M1010.9 689.1v4.5" class="tk"/><circle cx="1148.2" cy="548.2" r="4.6" fill="#2a9070"/><text x="1157.3" y="552.3" class="t" style="font-size:11.5px">cDC1</text><path d="M1143.4 644.9V665.5M1143.4 683.1V683.1" stroke="#21457e" stroke-width="1.3" fill="none"/><rect x="1129.1" y="665.5" width="28.6" height="17.6" fill="#449bcd" stroke="#21457e" stroke-width="1.1"/><path d="M1189.7 615.5V654.9M1189.7 683.1V683.1" stroke="#b8482a" stroke-width="1.3" fill="none"/><rect x="1175.4" y="654.9" width="28.6" height="28.2" fill="#dc5b2f" stroke="#b8482a" stroke-width="1.1"/><path d="M1115.5 565.3V689.1H1218.1" class="sp"/><text x="1110" y="687" class="k" style="font-size:10.75px" text-anchor="end">0.0000</text><text x="1110" y="657.6" class="k" style="font-size:10.75px" text-anchor="end">0.0005</text><text x="1110" y="628.2" class="k" style="font-size:10.75px" text-anchor="end">0.0010</text><text x="1110" y="598.8" class="k" style="font-size:10.75px" text-anchor="end">0.0015</text><text x="1143.4" y="704.4" class="k" style="font-size:10.75px" text-anchor="middle">NP</text><text x="1189.7" y="704.4" class="k" style="font-size:10.75px" text-anchor="middle">RP</text><path d="M1115.5 683.1h-4.5M1115.5 653.7h-4.5M1115.5 624.3h-4.5M1115.5 594.9h-4.5M1143.4 689.1v4.5M1189.7 689.1v4.5" class="tk"/><circle cx="1327" cy="548.2" r="4.6" fill="#3aa888"/><text x="1336.1" y="552.3" class="t" style="font-size:11.5px">pDCs_b</text><path d="M1329.4 683.1V683.1M1329.4 683.1V683.1" stroke="#21457e" stroke-width="1.3" fill="none"/><rect x="1315.1" y="683.1" width="28.6" height="0" fill="#449bcd" stroke="#21457e" stroke-width="1.1"/><path d="M1375.7 683.1V683.1M1375.7 683.1V683.1" stroke="#b8482a" stroke-width="1.3" fill="none"/><rect x="1361.4" y="683.1" width="28.6" height="0" fill="#dc5b2f" stroke="#b8482a" stroke-width="1.1"/><path d="M1301.5 565.3V689.1H1404.1" class="sp"/><text x="1296" y="687" class="k" style="font-size:10.75px" text-anchor="end">0.00000</text><text x="1296" y="659" class="k" style="font-size:10.75px" text-anchor="end">0.00025</text><text x="1296" y="631.1" class="k" style="font-size:10.75px" text-anchor="end">0.00050</text><text x="1296" y="603.1" class="k" style="font-size:10.75px" text-anchor="end">0.00075</text><text x="1296" y="575.2" class="k" style="font-size:10.75px" text-anchor="end">0.00100</text><text x="1329.4" y="704.4" class="k" style="font-size:10.75px" text-anchor="middle">NP</text><text x="1375.7" y="704.4" class="k" style="font-size:10.75px" text-anchor="middle">RP</text><path d="M1301.5 683.1h-4.5M1301.5 655.1h-4.5M1301.5 627.2h-4.5M1301.5 599.2h-4.5M1301.5 571.3h-4.5M1329.4 689.1v4.5M1375.7 689.1v4.5" class="tk"/><circle cx="1496.1" cy="548.2" r="4.6" fill="#60c0a8"/><text x="1505.2" y="552.3" class="t" style="font-size:11.5px">Macro/Mono</text><path d="M1514.6 677.6V680.4M1514.6 683.1V683.1" stroke="#21457e" stroke-width="1.3" fill="none"/><rect x="1500.3" y="680.4" width="28.6" height="2.7" fill="#449bcd" stroke="#21457e" stroke-width="1.1"/><path d="M1560.9 650.3V668.2M1560.9 683.1V683.1" stroke="#b8482a" stroke-width="1.3" fill="none"/><rect x="1546.6" y="668.2" width="28.6" height="14.9" fill="#dc5b2f" stroke="#b8482a" stroke-width="1.1"/><path d="M1486.7 565.3V689.1H1589.3" class="sp"/><text x="1481.2" y="687" class="k" style="font-size:10.75px" text-anchor="end">0.000</text><text x="1481.2" y="650.6" class="k" style="font-size:10.75px" text-anchor="end">0.002</text><text x="1481.2" y="614.2" class="k" style="font-size:10.75px" text-anchor="end">0.004</text><text x="1481.2" y="577.8" class="k" style="font-size:10.75px" text-anchor="end">0.006</text><text x="1514.6" y="704.4" class="k" style="font-size:10.75px" text-anchor="middle">NP</text><text x="1560.9" y="704.4" class="k" style="font-size:10.75px" text-anchor="middle">RP</text><path d="M1486.7 683.1h-4.5M1486.7 646.7h-4.5M1486.7 610.3h-4.5M1486.7 573.9h-4.5M1514.6 689.1v4.5M1560.9 689.1v4.5" class="tk"/><path d="M1514.6 584V582.6H1560.9V584" stroke="#333" stroke-width="1.1" fill="none"/><text x="1537.7" y="579.6" class="s" text-anchor="middle">0.010</text><circle cx="1652.7" cy="548.2" r="4.6" fill="#2a8870"/><text x="1661.8" y="552.3" class="t" style="font-size:11.5px">Neutrophil_ARG1</text><path d="M1686.5 633.5V662.7M1686.5 683.1V683.1" stroke="#21457e" stroke-width="1.3" fill="none"/><rect x="1672.2" y="662.7" width="28.6" height="20.4" fill="#449bcd" stroke="#21457e" stroke-width="1.1"/><path d="M1732.8 626.3V656.9M1732.8 678.7V683.1" stroke="#b8482a" stroke-width="1.3" fill="none"/><rect x="1718.5" y="656.9" width="28.6" height="21.9" fill="#dc5b2f" stroke="#b8482a" stroke-width="1.1"/><path d="M1658.6 565.3V689.1H1761.2" class="sp"/><text x="1653.1" y="687" class="k" style="font-size:10.75px" text-anchor="end">0.000</text><text x="1653.1" y="657.8" class="k" style="font-size:10.75px" text-anchor="end">0.002</text><text x="1653.1" y="628.7" class="k" style="font-size:10.75px" text-anchor="end">0.004</text><text x="1653.1" y="599.5" class="k" style="font-size:10.75px" text-anchor="end">0.006</text><text x="1653.1" y="570.4" class="k" style="font-size:10.75px" text-anchor="end">0.008</text><text x="1686.5" y="704.4" class="k" style="font-size:10.75px" text-anchor="middle">NP</text><text x="1732.8" y="704.4" class="k" style="font-size:10.75px" text-anchor="middle">RP</text><path d="M1658.6 683.1h-4.5M1658.6 654h-4.5M1658.6 624.8h-4.5M1658.6 595.6h-4.5M1658.6 566.5h-4.5M1686.5 689.1v4.5M1732.8 689.1v4.5" class="tk"/><circle cx="1853.7" cy="548.2" r="4.6" fill="#2a9070"/><text x="1862.8" y="552.3" class="t" style="font-size:11.5px">M2_Macro</text><path d="M1864.9 649.3V667.6M1864.9 683.1V683.1" stroke="#21457e" stroke-width="1.3" fill="none"/><rect x="1850.6" y="667.6" width="28.6" height="15.5" fill="#449bcd" stroke="#21457e" stroke-width="1.1"/><path d="M1911.2 621.5V656.3M1911.2 683.1V683.1" stroke="#b8482a" stroke-width="1.3" fill="none"/><rect x="1896.9" y="656.3" width="28.6" height="26.8" fill="#dc5b2f" stroke="#b8482a" stroke-width="1.1"/><path d="M1837 565.3V689.1H1939.6" class="sp"/><text x="1831.5" y="687" class="k" style="font-size:10.75px" text-anchor="end">0.000</text><text x="1831.5" y="647.2" class="k" style="font-size:10.75px" text-anchor="end">0.002</text><text x="1831.5" y="607.5" class="k" style="font-size:10.75px" text-anchor="end">0.004</text><text x="1864.9" y="704.4" class="k" style="font-size:10.75px" text-anchor="middle">NP</text><text x="1911.2" y="704.4" class="k" style="font-size:10.75px" text-anchor="middle">RP</text><path d="M1837 683.1h-4.5M1837 643.4h-4.5M1837 603.6h-4.5M1864.9 689.1v4.5M1911.2 689.1v4.5" class="tk"/><circle cx="61" cy="723.4" r="4.6" fill="#50c0a0"/><text x="70.1" y="727.5" class="t" style="font-size:11.5px">CD14+Mono_IFN</text><path d="M93.1 789.7V825.6M93.1 851.3V858.3" stroke="#21457e" stroke-width="1.3" fill="none"/><rect x="78.8" y="825.6" width="28.6" height="25.7" fill="#449bcd" stroke="#21457e" stroke-width="1.1"/><path d="M139.4 803.8V830.9M139.4 854.8V858.3" stroke="#b8482a" stroke-width="1.3" fill="none"/><rect x="125.1" y="830.9" width="28.6" height="23.9" fill="#dc5b2f" stroke="#b8482a" stroke-width="1.1"/><path d="M65.2 740.5V864.3H167.8" class="sp"/><text x="59.7" y="862.2" class="k" style="font-size:10.75px" text-anchor="end">0.00</text><text x="59.7" y="827" class="k" style="font-size:10.75px" text-anchor="end">0.01</text><text x="59.7" y="791.8" class="k" style="font-size:10.75px" text-anchor="end">0.02</text><text x="59.7" y="756.7" class="k" style="font-size:10.75px" text-anchor="end">0.03</text><text x="93.1" y="879.6" class="k" style="font-size:10.75px" text-anchor="middle">NP</text><text x="139.4" y="879.6" class="k" style="font-size:10.75px" text-anchor="middle">RP</text><path d="M65.2 858.3h-4.5M65.2 823.1h-4.5M65.2 788h-4.5M65.2 752.8h-4.5M93.1 864.3v4.5M139.4 864.3v4.5" class="tk"/><circle cx="227.8" cy="723.4" r="4.6" fill="#3aa888"/><text x="236.9" y="727.5" class="t" style="font-size:11.5px">CD14+Mono_hypo</text><path d="M265 833.3V845.8M265 858.3V858.3" stroke="#21457e" stroke-width="1.3" fill="none"/><rect x="250.7" y="845.8" width="28.6" height="12.5" fill="#449bcd" stroke="#21457e" stroke-width="1.1"/><path d="M311.3 846.5V852.4M311.3 858.3V858.3" stroke="#b8482a" stroke-width="1.3" fill="none"/><rect x="297" y="852.4" width="28.6" height="5.9" fill="#dc5b2f" stroke="#b8482a" stroke-width="1.1"/><path d="M237.1 740.5V864.3H339.7" class="sp"/><text x="231.6" y="862.2" class="k" style="font-size:10.75px" text-anchor="end">0.000</text><text x="231.6" y="829.3" class="k" style="font-size:10.75px" text-anchor="end">0.005</text><text x="231.6" y="796.4" class="k" style="font-size:10.75px" text-anchor="end">0.010</text><text x="231.6" y="763.6" class="k" style="font-size:10.75px" text-anchor="end">0.015</text><text x="265" y="879.6" class="k" style="font-size:10.75px" text-anchor="middle">NP</text><text x="311.3" y="879.6" class="k" style="font-size:10.75px" text-anchor="middle">RP</text><path d="M237.1 858.3h-4.5M237.1 825.4h-4.5M237.1 792.6h-4.5M237.1 759.7h-4.5M265 864.3v4.5M311.3 864.3v4.5" class="tk"/><circle cx="417.6" cy="723.4" r="4.6" fill="#2a8a70"/><text x="426.7" y="727.5" class="t" style="font-size:11.5px">CD16+Mono</text><path d="M436 788.4V822M436 847.5V858.3" stroke="#21457e" stroke-width="1.3" fill="none"/><rect x="421.7" y="822" width="28.6" height="25.6" fill="#449bcd" stroke="#21457e" stroke-width="1.1"/><path d="M482.3 778.9V819.3M482.3 848.9V858.3" stroke="#b8482a" stroke-width="1.3" fill="none"/><rect x="468" y="819.3" width="28.6" height="29.6" fill="#dc5b2f" stroke="#b8482a" stroke-width="1.1"/><path d="M408.1 740.5V864.3H510.7" class="sp"/><text x="402.6" y="862.2" class="k" style="font-size:10.75px" text-anchor="end">0.00</text><text x="402.6" y="835.3" class="k" style="font-size:10.75px" text-anchor="end">0.01</text><text x="402.6" y="808.4" class="k" style="font-size:10.75px" text-anchor="end">0.02</text><text x="402.6" y="781.5" class="k" style="font-size:10.75px" text-anchor="end">0.03</text><text x="402.6" y="754.6" class="k" style="font-size:10.75px" text-anchor="end">0.04</text><text x="436" y="879.6" class="k" style="font-size:10.75px" text-anchor="middle">NP</text><text x="482.3" y="879.6" class="k" style="font-size:10.75px" text-anchor="middle">RP</text><path d="M408.1 858.3h-4.5M408.1 831.4h-4.5M408.1 804.5h-4.5M408.1 777.6h-4.5M408.1 750.7h-4.5M436 864.3v4.5M482.3 864.3v4.5" class="tk"/><circle cx="628.7" cy="723.4" r="4.6" fill="#80d0c0"/><text x="637.8" y="727.5" class="t" style="font-size:11.5px">GMP</text><path d="M622.2 804.6V834.1M622.2 854.3V858.3" stroke="#21457e" stroke-width="1.3" fill="none"/><rect x="607.9" y="834.1" width="28.6" height="20.3" fill="#449bcd" stroke="#21457e" stroke-width="1.1"/><path d="M668.5 782.8V820.5M668.5 851.3V858.3" stroke="#b8482a" stroke-width="1.3" fill="none"/><rect x="654.2" y="820.5" width="28.6" height="30.8" fill="#dc5b2f" stroke="#b8482a" stroke-width="1.1"/><path d="M594.3 740.5V864.3H696.9" class="sp"/><text x="588.8" y="862.2" class="k" style="font-size:10.75px" text-anchor="end">0.00</text><text x="588.8" y="822.4" class="k" style="font-size:10.75px" text-anchor="end">0.02</text><text x="588.8" y="782.7" class="k" style="font-size:10.75px" text-anchor="end">0.04</text><text x="622.2" y="879.6" class="k" style="font-size:10.75px" text-anchor="middle">NP</text><text x="668.5" y="879.6" class="k" style="font-size:10.75px" text-anchor="middle">RP</text><path d="M594.3 858.3h-4.5M594.3 818.5h-4.5M594.3 778.8h-4.5M622.2 864.3v4.5M668.5 864.3v4.5" class="tk"/><path d="M622.2 760.3V757.3H668.5V760.3" stroke="#333" stroke-width="1.1" fill="none"/><text x="645.3" y="754.3" class="s" text-anchor="middle">0.005</text><circle cx="775" cy="723.4" r="4.6" fill="#80d0c0"/><text x="784.1" y="727.5" class="t" style="font-size:11.5px">Granulocyte</text><path d="M793.2 796.4V824.9M793.2 851.3V858.3" stroke="#21457e" stroke-width="1.3" fill="none"/><rect x="778.9" y="824.9" width="28.6" height="26.4" fill="#449bcd" stroke="#21457e" stroke-width="1.1"/><path d="M839.5 778.9V818.6M839.5 851.3V858.3" stroke="#b8482a" stroke-width="1.3" fill="none"/><rect x="825.2" y="818.6" width="28.6" height="32.7" fill="#dc5b2f" stroke="#b8482a" stroke-width="1.1"/><path d="M765.3 740.5V864.3H867.9" class="sp"/><text x="759.8" y="862.2" class="k" style="font-size:10.75px" text-anchor="end">0.00</text><text x="759.8" y="838.8" class="k" style="font-size:10.75px" text-anchor="end">0.01</text><text x="759.8" y="815.4" class="k" style="font-size:10.75px" text-anchor="end">0.02</text><text x="759.8" y="792.1" class="k" style="font-size:10.75px" text-anchor="end">0.03</text><text x="759.8" y="768.7" class="k" style="font-size:10.75px" text-anchor="end">0.04</text><text x="759.8" y="745.4" class="k" style="font-size:10.75px" text-anchor="end">0.05</text><text x="793.2" y="879.6" class="k" style="font-size:10.75px" text-anchor="middle">NP</text><text x="839.5" y="879.6" class="k" style="font-size:10.75px" text-anchor="middle">RP</text><path d="M765.3 858.3h-4.5M765.3 834.9h-4.5M765.3 811.6h-4.5M765.3 788.2h-4.5M765.3 764.9h-4.5M765.3 741.5h-4.5M793.2 864.3v4.5M839.5 864.3v4.5" class="tk"/><circle cx="910" cy="723.4" r="4.6" fill="#3aa888"/><text x="919.1" y="727.5" class="t" style="font-size:11.5px">CD14+Mono_pro-inflam</text><path d="M964.7 810.8V828.5M964.7 848.8V858.3" stroke="#21457e" stroke-width="1.3" fill="none"/><rect x="950.4" y="828.5" width="28.6" height="20.3" fill="#449bcd" stroke="#21457e" stroke-width="1.1"/><path d="M1011 793.7V826.6M1011 852.6V858.3" stroke="#b8482a" stroke-width="1.3" fill="none"/><rect x="996.7" y="826.6" width="28.6" height="26" fill="#dc5b2f" stroke="#b8482a" stroke-width="1.1"/><path d="M936.8 740.5V864.3H1039.4" class="sp"/><text x="931.3" y="862.2" class="k" style="font-size:10.75px" text-anchor="end">0.000</text><text x="931.3" y="830.5" class="k" style="font-size:10.75px" text-anchor="end">0.005</text><text x="931.3" y="798.8" class="k" style="font-size:10.75px" text-anchor="end">0.010</text><text x="931.3" y="767.2" class="k" style="font-size:10.75px" text-anchor="end">0.015</text><text x="964.7" y="879.6" class="k" style="font-size:10.75px" text-anchor="middle">NP</text><text x="1011" y="879.6" class="k" style="font-size:10.75px" text-anchor="middle">RP</text><path d="M936.8 858.3h-4.5M936.8 826.6h-4.5M936.8 795h-4.5M936.8 763.3h-4.5M964.7 864.3v4.5M1011 864.3v4.5" class="tk"/><circle cx="1139.5" cy="723.4" r="4.6" fill="#48b8c8"/><text x="1148.6" y="727.5" class="t" style="font-size:11.5px">B_naive</text><path d="M1143.2 774V813.6M1143.2 842.8V856.6" stroke="#21457e" stroke-width="1.3" fill="none"/><rect x="1128.9" y="813.6" width="28.6" height="29.2" fill="#449bcd" stroke="#21457e" stroke-width="1.1"/><path d="M1189.5 782.6V824.8M1189.5 854.9V858.3" stroke="#b8482a" stroke-width="1.3" fill="none"/><rect x="1175.2" y="824.8" width="28.6" height="30.1" fill="#dc5b2f" stroke="#b8482a" stroke-width="1.1"/><path d="M1115.3 740.5V864.3H1217.9" class="sp"/><text x="1109.8" y="862.2" class="k" style="font-size:10.75px" text-anchor="end">0.00</text><text x="1109.8" y="819.2" class="k" style="font-size:10.75px" text-anchor="end">0.05</text><text x="1109.8" y="776.2" class="k" style="font-size:10.75px" text-anchor="end">0.10</text><text x="1143.2" y="879.6" class="k" style="font-size:10.75px" text-anchor="middle">NP</text><text x="1189.5" y="879.6" class="k" style="font-size:10.75px" text-anchor="middle">RP</text><path d="M1115.3 858.3h-4.5M1115.3 815.3h-4.5M1115.3 772.3h-4.5M1143.2 864.3v4.5M1189.5 864.3v4.5" class="tk"/><circle cx="1332.4" cy="723.4" r="4.6" fill="#90d8e0"/><text x="1341.5" y="727.5" class="t" style="font-size:11.5px">B_pro</text><path d="M1329.4 770.7V821.2M1329.4 854.7V858.3" stroke="#21457e" stroke-width="1.3" fill="none"/><rect x="1315.1" y="821.2" width="28.6" height="33.5" fill="#449bcd" stroke="#21457e" stroke-width="1.1"/><path d="M1375.7 797.5V833M1375.7 858.3V858.3" stroke="#b8482a" stroke-width="1.3" fill="none"/><rect x="1361.4" y="833" width="28.6" height="25.3" fill="#dc5b2f" stroke="#b8482a" stroke-width="1.1"/><path d="M1301.5 740.5V864.3H1404.1" class="sp"/><text x="1296" y="862.2" class="k" style="font-size:10.75px" text-anchor="end">0.000</text><text x="1296" y="836.4" class="k" style="font-size:10.75px" text-anchor="end">0.005</text><text x="1296" y="810.6" class="k" style="font-size:10.75px" text-anchor="end">0.010</text><text x="1296" y="784.8" class="k" style="font-size:10.75px" text-anchor="end">0.015</text><text x="1296" y="759.1" class="k" style="font-size:10.75px" text-anchor="end">0.020</text><text x="1329.4" y="879.6" class="k" style="font-size:10.75px" text-anchor="middle">NP</text><text x="1375.7" y="879.6" class="k" style="font-size:10.75px" text-anchor="middle">RP</text><path d="M1301.5 858.3h-4.5M1301.5 832.5h-4.5M1301.5 806.8h-4.5M1301.5 781h-4.5M1301.5 755.2h-4.5M1329.4 864.3v4.5M1375.7 864.3v4.5" class="tk"/><circle cx="1508.1" cy="723.4" r="4.6" fill="#60c8d0"/><text x="1517.2" y="727.5" class="t" style="font-size:11.5px">B_preSm</text><path d="M1515.2 806.7V831.5M1515.2 858.3V858.3" stroke="#21457e" stroke-width="1.3" fill="none"/><rect x="1500.9" y="831.5" width="28.6" height="26.8" fill="#449bcd" stroke="#21457e" stroke-width="1.1"/><path d="M1561.5 813.9V839.7M1561.5 858.3V858.3" stroke="#b8482a" stroke-width="1.3" fill="none"/><rect x="1547.2" y="839.7" width="28.6" height="18.6" fill="#dc5b2f" stroke="#b8482a" stroke-width="1.1"/><path d="M1487.3 740.5V864.3H1589.9" class="sp"/><text x="1481.8" y="862.2" class="k" style="font-size:10.75px" text-anchor="end">0.000</text><text x="1481.8" y="831.2" class="k" style="font-size:10.75px" text-anchor="end">0.003</text><text x="1481.8" y="800.2" class="k" style="font-size:10.75px" text-anchor="end">0.006</text><text x="1481.8" y="769.3" class="k" style="font-size:10.75px" text-anchor="end">0.009</text><text x="1515.2" y="879.6" class="k" style="font-size:10.75px" text-anchor="middle">NP</text><text x="1561.5" y="879.6" class="k" style="font-size:10.75px" text-anchor="middle">RP</text><path d="M1487.3 858.3h-4.5M1487.3 827.3h-4.5M1487.3 796.4h-4.5M1487.3 765.4h-4.5M1515.2 864.3v4.5M1561.5 864.3v4.5" class="tk"/><circle cx="1681.5" cy="723.4" r="4.6" fill="#60c8d0"/><text x="1690.6" y="727.5" class="t" style="font-size:11.5px">B_preLg</text><path d="M1686.2 796.7V826.1M1686.2 858.3V858.3" stroke="#21457e" stroke-width="1.3" fill="none"/><rect x="1671.9" y="826.1" width="28.6" height="32.2" fill="#449bcd" stroke="#21457e" stroke-width="1.1"/><path d="M1732.5 799.5V832.3M1732.5 858.3V858.3" stroke="#b8482a" stroke-width="1.3" fill="none"/><rect x="1718.2" y="832.3" width="28.6" height="26" fill="#dc5b2f" stroke="#b8482a" stroke-width="1.1"/><path d="M1658.3 740.5V864.3H1760.9" class="sp"/><text x="1652.8" y="862.2" class="k" style="font-size:10.75px" text-anchor="end">0.000</text><text x="1652.8" y="834.2" class="k" style="font-size:10.75px" text-anchor="end">0.001</text><text x="1652.8" y="806.2" class="k" style="font-size:10.75px" text-anchor="end">0.002</text><text x="1652.8" y="778.2" class="k" style="font-size:10.75px" text-anchor="end">0.003</text><text x="1652.8" y="750.2" class="k" style="font-size:10.75px" text-anchor="end">0.004</text><text x="1686.2" y="879.6" class="k" style="font-size:10.75px" text-anchor="middle">NP</text><text x="1732.5" y="879.6" class="k" style="font-size:10.75px" text-anchor="middle">RP</text><path d="M1658.3 858.3h-4.5M1658.3 830.3h-4.5M1658.3 802.3h-4.5M1658.3 774.3h-4.5M1658.3 746.3h-4.5M1686.2 864.3v4.5M1732.5 864.3v4.5" class="tk"/><circle cx="1864.8" cy="723.4" r="4.6" fill="#50c0c8"/><text x="1873.9" y="727.5" class="t" style="font-size:11.5px">B_imm</text><path d="M1864.9 794.1V829.3M1864.9 854.6V858.3" stroke="#21457e" stroke-width="1.3" fill="none"/><rect x="1850.6" y="829.3" width="28.6" height="25.3" fill="#449bcd" stroke="#21457e" stroke-width="1.1"/><path d="M1911.2 833.4V842.5M1911.2 858.3V858.3" stroke="#b8482a" stroke-width="1.3" fill="none"/><rect x="1896.9" y="842.5" width="28.6" height="15.8" fill="#dc5b2f" stroke="#b8482a" stroke-width="1.1"/><path d="M1837 740.5V864.3H1939.6" class="sp"/><text x="1831.5" y="862.2" class="k" style="font-size:10.75px" text-anchor="end">0.00</text><text x="1831.5" y="825.5" class="k" style="font-size:10.75px" text-anchor="end">0.01</text><text x="1831.5" y="788.8" class="k" style="font-size:10.75px" text-anchor="end">0.02</text><text x="1831.5" y="752.2" class="k" style="font-size:10.75px" text-anchor="end">0.03</text><text x="1864.9" y="879.6" class="k" style="font-size:10.75px" text-anchor="middle">NP</text><text x="1911.2" y="879.6" class="k" style="font-size:10.75px" text-anchor="middle">RP</text><path d="M1837 858.3h-4.5M1837 821.6h-4.5M1837 785h-4.5M1837 748.3h-4.5M1864.9 864.3v4.5M1911.2 864.3v4.5" class="tk"/><circle cx="91.1" cy="898.7" r="4.6" fill="#40a8b0"/><text x="100.2" y="902.8" class="t" style="font-size:11.5px">B_mem</text><path d="M93.1 943.5V984.2M93.1 1014.7V1027.8" stroke="#21457e" stroke-width="1.3" fill="none"/><rect x="78.8" y="984.2" width="28.6" height="30.5" fill="#449bcd" stroke="#21457e" stroke-width="1.1"/><path d="M139.4 968.2V991.5M139.4 1020.5V1033.6" stroke="#b8482a" stroke-width="1.3" fill="none"/><rect x="125.1" y="991.5" width="28.6" height="29" fill="#dc5b2f" stroke="#b8482a" stroke-width="1.1"/><path d="M65.2 915.8V1039.6H167.8" class="sp"/><text x="59.7" y="1037.5" class="k" style="font-size:10.75px" text-anchor="end">0.00</text><text x="59.7" y="1008.4" class="k" style="font-size:10.75px" text-anchor="end">0.02</text><text x="59.7" y="979.4" class="k" style="font-size:10.75px" text-anchor="end">0.04</text><text x="59.7" y="950.3" class="k" style="font-size:10.75px" text-anchor="end">0.06</text><text x="59.7" y="921.3" class="k" style="font-size:10.75px" text-anchor="end">0.08</text><text x="93.1" y="1054.9" class="k" style="font-size:10.75px" text-anchor="middle">NP</text><text x="139.4" y="1054.9" class="k" style="font-size:10.75px" text-anchor="middle">RP</text><path d="M65.2 1033.6h-4.5M65.2 1004.5h-4.5M65.2 975.5h-4.5M65.2 946.4h-4.5M65.2 917.4h-4.5M93.1 1039.6v4.5M139.4 1039.6v4.5" class="tk"/><circle cx="265.8" cy="898.7" r="4.6" fill="#60c8d8"/><text x="274.9" y="902.8" class="t" style="font-size:11.5px">B_trns</text><path d="M265 955.8V995.9M265 1029.5V1033.6" stroke="#21457e" stroke-width="1.3" fill="none"/><rect x="250.7" y="995.9" width="28.6" height="33.6" fill="#449bcd" stroke="#21457e" stroke-width="1.1"/><path d="M311.3 1005.8V1019.3M311.3 1033.6V1033.6" stroke="#b8482a" stroke-width="1.3" fill="none"/><rect x="297" y="1019.3" width="28.6" height="14.3" fill="#dc5b2f" stroke="#b8482a" stroke-width="1.1"/><path d="M237.1 915.8V1039.6H339.7" class="sp"/><text x="231.6" y="1037.5" class="k" style="font-size:10.75px" text-anchor="end">0.00</text><text x="231.6" y="996.5" class="k" style="font-size:10.75px" text-anchor="end">0.01</text><text x="231.6" y="955.6" class="k" style="font-size:10.75px" text-anchor="end">0.02</text><text x="265" y="1054.9" class="k" style="font-size:10.75px" text-anchor="middle">NP</text><text x="311.3" y="1054.9" class="k" style="font-size:10.75px" text-anchor="middle">RP</text><path d="M237.1 1033.6h-4.5M237.1 992.6h-4.5M237.1 951.7h-4.5M265 1039.6v4.5M311.3 1039.6v4.5" class="tk"/><path d="M265 935V933.2H311.3V942.2" stroke="#333" stroke-width="1.1" fill="none"/><text x="288.1" y="930.2" class="s" text-anchor="middle">0.012</text><circle cx="393.4" cy="898.7" r="4.6" fill="#40b0c0"/><text x="402.5" y="902.8" class="t" style="font-size:11.5px">B_Unswitched_mem</text><path d="M436 955.2V1001.1M436 1033.6V1033.6" stroke="#21457e" stroke-width="1.3" fill="none"/><rect x="421.7" y="1001.1" width="28.6" height="32.5" fill="#449bcd" stroke="#21457e" stroke-width="1.1"/><path d="M482.3 1002.6V1019.6M482.3 1033.6V1033.6" stroke="#b8482a" stroke-width="1.3" fill="none"/><rect x="468" y="1019.6" width="28.6" height="14" fill="#dc5b2f" stroke="#b8482a" stroke-width="1.1"/><path d="M408.1 915.8V1039.6H510.7" class="sp"/><text x="402.6" y="1037.5" class="k" style="font-size:10.75px" text-anchor="end">0.000</text><text x="402.6" y="1007.9" class="k" style="font-size:10.75px" text-anchor="end">0.002</text><text x="402.6" y="978.3" class="k" style="font-size:10.75px" text-anchor="end">0.004</text><text x="402.6" y="948.8" class="k" style="font-size:10.75px" text-anchor="end">0.006</text><text x="436" y="1054.9" class="k" style="font-size:10.75px" text-anchor="middle">NP</text><text x="482.3" y="1054.9" class="k" style="font-size:10.75px" text-anchor="middle">RP</text><path d="M408.1 1033.6h-4.5M408.1 1004h-4.5M408.1 974.5h-4.5M408.1 944.9h-4.5M436 1039.6v4.5M482.3 1039.6v4.5" class="tk"/><circle cx="602.1" cy="898.7" r="4.6" fill="#a0b840"/><text x="611.2" y="902.8" class="t" style="font-size:11.5px">NK_CD56dim</text><path d="M622.2 950.9V989.9M622.2 1022.4V1033.6" stroke="#21457e" stroke-width="1.3" fill="none"/><rect x="607.9" y="989.9" width="28.6" height="32.5" fill="#449bcd" stroke="#21457e" stroke-width="1.1"/><path d="M668.5 977.6V1004.8M668.5 1025.1V1033.6" stroke="#b8482a" stroke-width="1.3" fill="none"/><rect x="654.2" y="1004.8" width="28.6" height="20.3" fill="#dc5b2f" stroke="#b8482a" stroke-width="1.1"/><path d="M594.3 915.8V1039.6H696.9" class="sp"/><text x="588.8" y="1037.5" class="k" style="font-size:10.75px" text-anchor="end">0.00</text><text x="588.8" y="1010.8" class="k" style="font-size:10.75px" text-anchor="end">0.05</text><text x="588.8" y="984.1" class="k" style="font-size:10.75px" text-anchor="end">0.10</text><text x="588.8" y="957.4" class="k" style="font-size:10.75px" text-anchor="end">0.15</text><text x="588.8" y="930.8" class="k" style="font-size:10.75px" text-anchor="end">0.20</text><text x="622.2" y="1054.9" class="k" style="font-size:10.75px" text-anchor="middle">NP</text><text x="668.5" y="1054.9" class="k" style="font-size:10.75px" text-anchor="middle">RP</text><path d="M594.3 1033.6h-4.5M594.3 1006.9h-4.5M594.3 980.2h-4.5M594.3 953.6h-4.5M594.3 926.9h-4.5M622.2 1039.6v4.5M668.5 1039.6v4.5" class="tk"/><circle cx="790.1" cy="898.7" r="4.6" fill="#c8e048"/><text x="799.2" y="902.8" class="t" style="font-size:11.5px">NK_adp</text><path d="M793.2 994.3V1015.8M793.2 1032.3V1033.6" stroke="#21457e" stroke-width="1.3" fill="none"/><rect x="778.9" y="1015.8" width="28.6" height="16.5" fill="#449bcd" stroke="#21457e" stroke-width="1.1"/><path d="M839.5 993V1013.9M839.5 1030.5V1033.6" stroke="#b8482a" stroke-width="1.3" fill="none"/><rect x="825.2" y="1013.9" width="28.6" height="16.5" fill="#dc5b2f" stroke="#b8482a" stroke-width="1.1"/><path d="M765.3 915.8V1039.6H867.9" class="sp"/><text x="759.8" y="1037.5" class="k" style="font-size:10.75px" text-anchor="end">0.00</text><text x="759.8" y="1011.2" class="k" style="font-size:10.75px" text-anchor="end">0.01</text><text x="759.8" y="985" class="k" style="font-size:10.75px" text-anchor="end">0.02</text><text x="759.8" y="958.8" class="k" style="font-size:10.75px" text-anchor="end">0.03</text><text x="759.8" y="932.6" class="k" style="font-size:10.75px" text-anchor="end">0.04</text><text x="793.2" y="1054.9" class="k" style="font-size:10.75px" text-anchor="middle">NP</text><text x="839.5" y="1054.9" class="k" style="font-size:10.75px" text-anchor="middle">RP</text><path d="M765.3 1033.6h-4.5M765.3 1007.4h-4.5M765.3 981.1h-4.5M765.3 954.9h-4.5M765.3 928.7h-4.5M793.2 1039.6v4.5M839.5 1039.6v4.5" class="tk"/><circle cx="936.8" cy="898.7" r="4.6" fill="#c0dc50"/><text x="945.9" y="902.8" class="t" style="font-size:11.5px">NK_CD56bright</text><path d="M964.7 945V987.4M964.7 1017V1031.8" stroke="#21457e" stroke-width="1.3" fill="none"/><rect x="950.4" y="987.4" width="28.6" height="29.5" fill="#449bcd" stroke="#21457e" stroke-width="1.1"/><path d="M1011 976.4V1002.9M1011 1021.4V1033.6" stroke="#b8482a" stroke-width="1.3" fill="none"/><rect x="996.7" y="1002.9" width="28.6" height="18.5" fill="#dc5b2f" stroke="#b8482a" stroke-width="1.1"/><path d="M936.8 915.8V1039.6H1039.4" class="sp"/><text x="931.3" y="1037.5" class="k" style="font-size:10.75px" text-anchor="end">0.00</text><text x="931.3" y="1000.5" class="k" style="font-size:10.75px" text-anchor="end">0.01</text><text x="931.3" y="963.6" class="k" style="font-size:10.75px" text-anchor="end">0.02</text><text x="931.3" y="926.7" class="k" style="font-size:10.75px" text-anchor="end">0.03</text><text x="964.7" y="1054.9" class="k" style="font-size:10.75px" text-anchor="middle">NP</text><text x="1011" y="1054.9" class="k" style="font-size:10.75px" text-anchor="middle">RP</text><path d="M936.8 1033.6h-4.5M936.8 996.7h-4.5M936.8 959.7h-4.5M936.8 922.8h-4.5M964.7 1039.6v4.5M1011 1039.6v4.5" class="tk"/><circle cx="1125.2" cy="898.7" r="4.6" fill="#d8eca0"/><text x="1134.3" y="902.8" class="t" style="font-size:11.5px">NK_resident</text><path d="M1143.2 972V1004.6M1143.2 1027.6V1033.6" stroke="#21457e" stroke-width="1.3" fill="none"/><rect x="1128.9" y="1004.6" width="28.6" height="23.1" fill="#449bcd" stroke="#21457e" stroke-width="1.1"/><path d="M1189.5 956.1V995.8M1189.5 1028.8V1033.6" stroke="#b8482a" stroke-width="1.3" fill="none"/><rect x="1175.2" y="995.8" width="28.6" height="33" fill="#dc5b2f" stroke="#b8482a" stroke-width="1.1"/><path d="M1115.3 915.8V1039.6H1217.9" class="sp"/><text x="1109.8" y="1037.5" class="k" style="font-size:10.75px" text-anchor="end">0.00</text><text x="1109.8" y="997.7" class="k" style="font-size:10.75px" text-anchor="end">0.01</text><text x="1109.8" y="958" class="k" style="font-size:10.75px" text-anchor="end">0.02</text><text x="1143.2" y="1054.9" class="k" style="font-size:10.75px" text-anchor="middle">NP</text><text x="1189.5" y="1054.9" class="k" style="font-size:10.75px" text-anchor="middle">RP</text><path d="M1115.3 1033.6h-4.5M1115.3 993.8h-4.5M1115.3 954.1h-4.5M1143.2 1039.6v4.5M1189.5 1039.6v4.5" class="tk"/><circle cx="1327.3" cy="898.7" r="4.6" fill="#5060b8"/><text x="1336.4" y="902.8" class="t" style="font-size:11.5px">pDCs_a</text><path d="M1329.4 965.4V999.3M1329.4 1025.6V1033.6" stroke="#21457e" stroke-width="1.3" fill="none"/><rect x="1315.1" y="999.3" width="28.6" height="26.2" fill="#449bcd" stroke="#21457e" stroke-width="1.1"/><path d="M1375.7 951.4V994.8M1375.7 1029.4V1033.6" stroke="#b8482a" stroke-width="1.3" fill="none"/><rect x="1361.4" y="994.8" width="28.6" height="34.6" fill="#dc5b2f" stroke="#b8482a" stroke-width="1.1"/><path d="M1301.5 915.8V1039.6H1404.1" class="sp"/><text x="1296" y="1037.5" class="k" style="font-size:10.75px" text-anchor="end">0.00</text><text x="1296" y="1002.5" class="k" style="font-size:10.75px" text-anchor="end">0.01</text><text x="1296" y="967.5" class="k" style="font-size:10.75px" text-anchor="end">0.02</text><text x="1296" y="932.6" class="k" style="font-size:10.75px" text-anchor="end">0.03</text><text x="1329.4" y="1054.9" class="k" style="font-size:10.75px" text-anchor="middle">NP</text><text x="1375.7" y="1054.9" class="k" style="font-size:10.75px" text-anchor="middle">RP</text><path d="M1301.5 1033.6h-4.5M1301.5 998.6h-4.5M1301.5 963.7h-4.5M1301.5 928.7h-4.5M1329.4 1039.6v4.5M1375.7 1039.6v4.5" class="tk"/><circle cx="1523.2" cy="898.7" r="4.6" fill="#a0a8d8"/><text x="1532.3" y="902.8" class="t" style="font-size:11.5px">HSC</text><path d="M1515.2 975.1V1007.1M1515.2 1032.5V1033.6" stroke="#21457e" stroke-width="1.3" fill="none"/><rect x="1500.9" y="1007.1" width="28.6" height="25.4" fill="#449bcd" stroke="#21457e" stroke-width="1.1"/><path d="M1561.5 980.7V1007.6M1561.5 1028.1V1033.6" stroke="#b8482a" stroke-width="1.3" fill="none"/><rect x="1547.2" y="1007.6" width="28.6" height="20.5" fill="#dc5b2f" stroke="#b8482a" stroke-width="1.1"/><path d="M1487.3 915.8V1039.6H1589.9" class="sp"/><text x="1481.8" y="1037.5" class="k" style="font-size:10.75px" text-anchor="end">0.00</text><text x="1481.8" y="1015.4" class="k" style="font-size:10.75px" text-anchor="end">0.01</text><text x="1481.8" y="993.3" class="k" style="font-size:10.75px" text-anchor="end">0.02</text><text x="1481.8" y="971.3" class="k" style="font-size:10.75px" text-anchor="end">0.03</text><text x="1481.8" y="949.2" class="k" style="font-size:10.75px" text-anchor="end">0.04</text><text x="1481.8" y="927.2" class="k" style="font-size:10.75px" text-anchor="end">0.05</text><text x="1515.2" y="1054.9" class="k" style="font-size:10.75px" text-anchor="middle">NP</text><text x="1561.5" y="1054.9" class="k" style="font-size:10.75px" text-anchor="middle">RP</text><path d="M1487.3 1033.6h-4.5M1487.3 1011.5h-4.5M1487.3 989.5h-4.5M1487.3 967.4h-4.5M1487.3 945.4h-4.5M1487.3 923.3h-4.5M1515.2 1039.6v4.5M1561.5 1039.6v4.5" class="tk"/><path d="M1515.2 946.4V933.2H1561.5V947.3" stroke="#333" stroke-width="1.1" fill="none"/><text x="1538.3" y="930.2" class="s" text-anchor="middle">0.011</text><circle cx="1690.5" cy="898.7" r="4.6" fill="#3040a0"/><text x="1699.6" y="902.8" class="t" style="font-size:11.5px">Fibro</text><path d="M1686.2 997.9V1014.5M1686.2 1033.6V1033.6" stroke="#21457e" stroke-width="1.3" fill="none"/><rect x="1671.9" y="1014.5" width="28.6" height="19.1" fill="#449bcd" stroke="#21457e" stroke-width="1.1"/><path d="M1732.5 966.9V1005.5M1732.5 1033.6V1033.6" stroke="#b8482a" stroke-width="1.3" fill="none"/><rect x="1718.2" y="1005.5" width="28.6" height="28.1" fill="#dc5b2f" stroke="#b8482a" stroke-width="1.1"/><path d="M1658.3 915.8V1039.6H1760.9" class="sp"/><text x="1652.8" y="1037.5" class="k" style="font-size:10.75px" text-anchor="end">0.000</text><text x="1652.8" y="1013.6" class="k" style="font-size:10.75px" text-anchor="end">0.001</text><text x="1652.8" y="989.8" class="k" style="font-size:10.75px" text-anchor="end">0.002</text><text x="1652.8" y="966" class="k" style="font-size:10.75px" text-anchor="end">0.003</text><text x="1652.8" y="942.2" class="k" style="font-size:10.75px" text-anchor="end">0.004</text><text x="1686.2" y="1054.9" class="k" style="font-size:10.75px" text-anchor="middle">NP</text><text x="1732.5" y="1054.9" class="k" style="font-size:10.75px" text-anchor="middle">RP</text><path d="M1658.3 1033.6h-4.5M1658.3 1009.8h-4.5M1658.3 985.9h-4.5M1658.3 962.1h-4.5M1658.3 938.3h-4.5M1686.2 1039.6v4.5M1732.5 1039.6v4.5" class="tk"/><path d="M1686.2 934.7V933.2H1732.5V939.8" stroke="#333" stroke-width="1.1" fill="none"/><text x="1709.3" y="930.2" class="s" text-anchor="middle">0.022</text><text x="284.6" y="96.2" class="t" style="font-size:14.6px" text-anchor="middle">Differential Abundance, Immune Cells</text><text x="45.5" y="123.2" class="t" style="font-size:14.8px;fill:#2a2d78">NP Enriched</text><text x="529.5" y="123.2" class="t" style="font-size:14.8px;fill:#c0392b" text-anchor="end">RP Enriched</text><path d="M40 111V496H529.5" class="sp"/><path d="M284.6 111V496M40 312.3H529.5" stroke="#000" stroke-width="1.6" fill="none"/><text x="161.6" y="513.1" class="k" style="font-size:11.4px" text-anchor="middle">-0.2</text><text x="284.6" y="513.1" class="k" style="font-size:11.4px" text-anchor="middle">0.0</text><text x="408.6" y="513.1" class="k" style="font-size:11.4px" text-anchor="middle">0.2</text><text x="34" y="470.8" class="k" style="font-size:11.4px" text-anchor="end">0</text><text x="34" y="352.2" class="k" style="font-size:11.4px" text-anchor="end">1</text><text x="34" y="233.7" class="k" style="font-size:11.4px" text-anchor="end">2</text><path d="M161.6 496v4.5M284.6 496v4.5M408.6 496v4.5M40 466.7h-4.5M40 348.1h-4.5M40 229.6h-4.5" class="tk"/><text x="284.8" y="531.6" class="t" style="font-size:12.2px" text-anchor="middle">Adjusted Log-Odds Ratio</text><text transform="translate(11.3 303.5) rotate(-90)" class="t" style="font-size:12.2px" text-anchor="middle" y="4.4">-log10 P Value</text><circle cx="408.6" cy="161.6" r="2.3" fill="#e6b52c"/><circle cx="486.9" cy="159.9" r="2.3" fill="#e6b52c"/><circle cx="370" cy="190.3" r="2.3" fill="#8fd4c2"/><circle cx="383.3" cy="227.2" r="2.3" fill="#5ec2a8"/><circle cx="382" cy="233" r="2.3" fill="#a6acdc"/><circle cx="229.9" cy="240.9" r="2.3" fill="#4bbfc9"/><circle cx="223.1" cy="247" r="2.3" fill="#8b3aa8"/><circle cx="166.4" cy="252.8" r="2.3" fill="#e6d76c"/><circle cx="195.8" cy="252.8" r="2.3" fill="#e6d152"/><circle cx="180.7" cy="268.9" r="2.3" fill="#b46ec0"/><circle cx="298.3" cy="270.9" r="2.3" fill="#2e3c9c"/><circle cx="227.2" cy="278.8" r="2.3" fill="#e6b030"/><circle cx="333.8" cy="289.7" r="2.3" fill="#3aa58c"/><circle cx="175.6" cy="322.5" r="2.3" fill="#44b8c6"/><circle cx="221.4" cy="316.7" r="2.3" fill="#4bc0c8"/><circle cx="284.6" cy="353.4" r="2.3" fill="#3aa68c"/><circle cx="291.4" cy="364.8" r="2.3" fill="#e6b52c"/><circle cx="200.4" cy="371.7" r="2.3" fill="#a6bf3c"/><circle cx="212.1" cy="371.4" r="2.3" fill="#9b4ab0"/><circle cx="213.6" cy="376.7" r="2.3" fill="#3aa8b3"/><circle cx="237" cy="374.7" r="2.3" fill="#40b6c6"/><circle cx="305.5" cy="375" r="2.3" fill="#3aa68c"/><circle cx="301.3" cy="388.5" r="2.3" fill="#e89a2e"/><circle cx="319.3" cy="386.5" r="2.3" fill="#7fd0bf"/><circle cx="350.9" cy="386.5" r="2.3" fill="#6ecab6"/><circle cx="333.4" cy="392.3" r="2.3" fill="#c6df46"/><circle cx="264.3" cy="396.1" r="2.3" fill="#8fd6e0"/><circle cx="261.7" cy="401.9" r="2.3" fill="#e6d76c"/><circle cx="267.8" cy="409.5" r="2.3" fill="#e6c23a"/><circle cx="251" cy="407.5" r="2.3" fill="#e6c23a"/><circle cx="328" cy="399.1" r="2.3" fill="#2a8f78"/><circle cx="309" cy="409.8" r="2.3" fill="#e89a2e"/><circle cx="253.8" cy="414.7" r="2.3" fill="#a04ab8"/><circle cx="248.4" cy="416.2" r="2.3" fill="#52c2a8"/><circle cx="295.2" cy="420.5" r="2.3" fill="#2a8a72"/><circle cx="315.1" cy="434.2" r="2.3" fill="#a6bf3c"/><circle cx="320.4" cy="434.7" r="2.3" fill="#e6d152"/><circle cx="271.9" cy="437.3" r="2.3" fill="#b070c8"/><circle cx="272.4" cy="443.1" r="2.3" fill="#e6d76c"/><circle cx="302.9" cy="444.1" r="2.3" fill="#e89a2e"/><circle cx="307" cy="442.3" r="2.3" fill="#e89a2e"/><circle cx="293" cy="445.7" r="2.3" fill="#8fd6e0"/><circle cx="297.5" cy="448" r="2.3" fill="#d8eca0"/><circle cx="274.4" cy="449" r="2.3" fill="#9b4ab0"/><circle cx="282.7" cy="448.7" r="2.3" fill="#3aa68c"/><circle cx="281.2" cy="452.1" r="2.3" fill="#6a2a9a"/><circle cx="291.7" cy="451.3" r="2.3" fill="#5060b8"/><circle cx="286.1" cy="458.6" r="2.3" fill="#80d0c0"/><circle cx="297.5" cy="457.1" r="2.3" fill="#3aa888"/><circle cx="282" cy="464.7" r="2.3" fill="#9b40b0"/><circle cx="176.6" cy="280" r="2.3" fill="#b46ec0"/><circle cx="281.7" cy="354.8" r="2.3" fill="#3aa888"/><path d="M223.1 247L234.4 243.3M195.8 252.8L199.9 263M151 367.3L200.2 371.4M293.7 328L290.5 336M243.4 348.5L237.3 353.4M307.5 343.5L291.4 364.8M375.3 323.6L366.9 333.9M310.5 369.4L305.5 375M386 355.7L350.9 386.5M334.9 377L319.3 386.5M270.1 390L264.3 396.1M328 401.4L333.4 415.9M309 409.8L325.8 436.5M253.8 414.7L248.7 434.2M169.8 346.8L177 354.3" stroke="#111" stroke-width="1.1" fill="none"/><rect x="385.4" y="144.5" width="73.8" height="12.7" rx="2.2" fill="#e6b52c" fill-opacity="0.92"/><text x="422.3" y="154.4" class="lb" style="font-size:9.8px" fill="#fff" text-anchor="middle">CD8_Teff_HLA</text><rect x="476.6" y="141.8" width="49.5" height="13.6" rx="2.2" fill="#e6b52c" fill-opacity="0.92"/><text x="501.4" y="152.1" class="lb" style="font-size:9.8px" fill="#fff" text-anchor="middle">CD8_Teff</text><rect x="370" y="172.5" width="28.4" height="13.7" rx="2.2" fill="#8fd4c2" fill-opacity="0.92"/><text x="384.2" y="182.9" class="lb" style="font-size:9.8px" fill="#fff" text-anchor="middle">GMP</text><rect x="364.5" y="209.4" width="66" height="13.4" rx="2.2" fill="#5ec2a8" fill-opacity="0.92"/><text x="397.5" y="219.6" class="lb" style="font-size:9.8px" fill="#fff" text-anchor="middle">Macro/Mono</text><rect x="355.3" y="237.4" width="25.7" height="13.7" rx="2.2" fill="#a6acdc" fill-opacity="0.92"/><text x="368.1" y="247.8" class="lb" style="font-size:9.8px" fill="#fff" text-anchor="middle">HSC</text><rect x="190.6" y="222.8" width="36.9" height="12.9" rx="2.2" fill="#4bbfc9" fill-opacity="0.92"/><text x="209.1" y="232.8" class="lb" style="font-size:9.8px" fill="#fff" text-anchor="middle">B_trns</text><rect x="129.8" y="235" width="44.4" height="13.4" rx="2.2" fill="#e6d76c" fill-opacity="0.92"/><text x="152" y="245.2" class="lb" style="font-size:9.8px" fill="#fff" text-anchor="middle">CD8_Tn</text><rect x="234.4" y="237.4" width="72.1" height="13" rx="2.2" fill="#8b3aa8" fill-opacity="0.92"/><text x="270.4" y="247.4" class="lb" style="font-size:9.8px" fill="#fff" text-anchor="middle">CD4_Tem_IFN</text><rect x="199.9" y="257.9" width="86.4" height="13" rx="2.2" fill="#e6d152" fill-opacity="0.92"/><text x="243.1" y="267.9" class="lb" style="font-size:9.8px" fill="#fff" text-anchor="middle">CD8_Tcm_GZMK</text><rect x="303" y="257.9" width="29.1" height="13" rx="2.2" fill="#2e3c9c" fill-opacity="0.92"/><text x="317.6" y="267.9" class="lb" style="font-size:9.8px" fill="#fff" text-anchor="middle">Fibro</text><rect x="121.3" y="272.6" width="71.7" height="13.4" rx="2.2" fill="#b46ec0" fill-opacity="0.92"/><text x="157.2" y="282.8" class="lb" style="font-size:9.8px" fill="#fff" text-anchor="middle">CD4_Tcm_IFN</text><rect x="231.6" y="278.4" width="71.8" height="12.7" rx="2.2" fill="#e6b030" fill-opacity="0.92"/><text x="267.5" y="288.3" class="lb" style="font-size:9.8px" fill="#fff" text-anchor="middle">CD8_Tem_IFN</text><rect x="322.9" y="293.8" width="101.8" height="13" rx="2.2" fill="#3aa58c" fill-opacity="0.92"/><text x="373.8" y="303.8" class="lb" style="font-size:9.8px" fill="#fff" text-anchor="middle">Neutrophil_RPS/RPL</text><rect x="187.2" y="299" width="39.3" height="12.9" rx="2.2" fill="#4bc0c8" fill-opacity="0.92"/><text x="206.8" y="309" class="lb" style="font-size:9.8px" fill="#fff" text-anchor="middle">B_imm</text><rect x="135.6" y="305.1" width="44.8" height="13.3" rx="2.2" fill="#44b8c6" fill-opacity="0.92"/><text x="158" y="315.3" class="lb" style="font-size:9.8px" fill="#fff" text-anchor="middle">B_naive</text><rect x="272.3" y="314.3" width="42.7" height="13" rx="2.2" fill="#3aa68c" fill-opacity="0.92"/><text x="293.6" y="324.3" class="lb" style="font-size:9.8px" fill="#fff" text-anchor="middle">pDCs_b</text><rect x="375.8" y="314.3" width="50.2" height="13" rx="2.2" fill="#7a2fa0" fill-opacity="0.92"/><text x="400.9" y="324.3" class="lb" style="font-size:9.8px" fill="#fff" text-anchor="middle">CD4_CTL</text><rect x="141.1" y="333.8" width="44.1" height="13" rx="2.2" fill="#c08ccb" fill-opacity="0.92"/><text x="163.1" y="343.8" class="lb" style="font-size:9.8px" fill="#fff" text-anchor="middle">CD4_Tn</text><rect x="228.2" y="356.7" width="42.4" height="12.3" rx="2.2" fill="#3aa8b3" fill-opacity="0.92"/><text x="249.4" y="366.4" class="lb" style="font-size:9.8px" fill="#fff" text-anchor="middle">B_mem</text><rect x="158.9" y="354.3" width="87.1" height="13" rx="2.2" fill="#9b4ab0" fill-opacity="0.92"/><text x="202.4" y="364.3" class="lb" style="font-size:9.8px" fill="#fff" text-anchor="middle">CD4_Tcm_KLRB1</text><rect x="218" y="334.8" width="72.4" height="13" rx="2.2" fill="#6a2a9a" fill-opacity="0.92"/><text x="254.2" y="344.8" class="lb" style="font-size:9.8px" fill="#fff" text-anchor="middle">CD4_Th_LEF1</text><rect x="307.5" y="334.8" width="60.8" height="13" rx="2.2" fill="#e6b52c" fill-opacity="0.92"/><text x="337.9" y="344.8" class="lb" style="font-size:9.8px" fill="#fff" text-anchor="middle">CD8_Teff_b</text><rect x="295.9" y="354.6" width="32.1" height="13.4" rx="2.2" fill="#3aa68c" fill-opacity="0.92"/><text x="311.9" y="364.8" class="lb" style="font-size:9.8px" fill="#fff" text-anchor="middle">cDC2</text><rect x="385.4" y="348.5" width="104.5" height="13" rx="2.2" fill="#6ecab6" fill-opacity="0.92"/><text x="437.6" y="358.5" class="lb" style="font-size:9.8px" fill="#fff" text-anchor="middle">CD14+Mono_S100A</text><rect x="82.7" y="361.1" width="68.3" height="13" rx="2.2" fill="#a6bf3c" fill-opacity="0.92"/><text x="116.8" y="371.1" class="lb" style="font-size:9.8px" fill="#fff" text-anchor="middle">NK_CD56dim</text><rect x="334.8" y="369" width="66" height="13" rx="2.2" fill="#7fd0bf" fill-opacity="0.92"/><text x="367.8" y="379" class="lb" style="font-size:9.8px" fill="#fff" text-anchor="middle">Granulocyte</text><rect x="107.6" y="382" width="103.9" height="12.6" rx="2.2" fill="#40b6c6" fill-opacity="0.92"/><text x="159.6" y="391.8" class="lb" style="font-size:9.8px" fill="#fff" text-anchor="middle">B_Unswitched_mem</text><rect x="256.2" y="375.1" width="33.5" height="13.3" rx="2.2" fill="#8fd6e0" fill-opacity="0.92"/><text x="272.9" y="385.3" class="lb" style="font-size:9.8px" fill="#fff" text-anchor="middle">B_pro</text><rect x="219.3" y="389.5" width="29.8" height="13" rx="2.2" fill="#e6c23a" fill-opacity="0.92"/><text x="234.2" y="399.5" class="lb" style="font-size:9.8px" fill="#fff" text-anchor="middle">MAIT</text><rect x="338.2" y="390.5" width="42.1" height="13.3" rx="2.2" fill="#c6df46" fill-opacity="0.92"/><text x="359.2" y="400.7" class="lb" style="font-size:9.8px" fill="#fff" text-anchor="middle">NK_adp</text><rect x="267.2" y="393.9" width="59.1" height="13.3" rx="2.2" fill="#e6b52c" fill-opacity="0.92"/><text x="296.8" y="404.1" class="lb" style="font-size:9.8px" fill="#fff" text-anchor="middle">CD8_Teff_c</text><rect x="156.1" y="410" width="87.2" height="13" rx="2.2" fill="#52c2a8" fill-opacity="0.92"/><text x="199.7" y="420" class="lb" style="font-size:9.8px" fill="#fff" text-anchor="middle">CD14+Mono_IFN</text><rect x="333.8" y="411.7" width="67.6" height="13" rx="2.2" fill="#2a8f78" fill-opacity="0.92"/><text x="367.6" y="421.7" class="lb" style="font-size:9.8px" fill="#fff" text-anchor="middle">CD16+Mono</text><rect x="255.5" y="421.2" width="55.4" height="13.4" rx="2.2" fill="#2a8a72" fill-opacity="0.92"/><text x="283.2" y="431.4" class="lb" style="font-size:9.8px" fill="#fff" text-anchor="middle">M2_Macro</text><rect x="199.2" y="430.5" width="49.2" height="13" rx="2.2" fill="#a04ab8" fill-opacity="0.92"/><text x="223.8" y="440.5" class="lb" style="font-size:9.8px" fill="#fff" text-anchor="middle">CD4_Teff</text><rect x="325.2" y="431.8" width="89.9" height="13.4" rx="2.2" fill="#e89a2e" fill-opacity="0.92"/><text x="370.1" y="442" class="lb" style="font-size:9.8px" fill="#fff" text-anchor="middle">CD8_T_Apoptotic</text><rect x="222.1" y="469.8" width="91.2" height="13" rx="2.2" fill="#9b40b0" fill-opacity="0.92"/><text x="267.7" y="479.8" class="lb" style="font-size:9.8px" fill="#fff" text-anchor="middle">CD4_Tcm_NFKBIA</text><circle cx="614.3" cy="1083.6" r="4.6" fill="#4a88c8"/><text x="623.4" y="1087.7" class="t" style="font-size:11.5px">B_naive</text><path d="M612.7 1137.7V1158.2M612.7 1193.6V1218.9" stroke="#21457e" stroke-width="1.3" fill="none"/><rect x="595.7" y="1158.2" width="34" height="35.4" fill="#449bcd" stroke="#21457e" stroke-width="1.1"/><path d="M668.8 1127.1V1161.4M668.8 1201.5V1220" stroke="#b8482a" stroke-width="1.3" fill="none"/><rect x="651.8" y="1161.4" width="34" height="40.1" fill="#dc5b2f" stroke="#b8482a" stroke-width="1.1"/><path d="M579.8 1100.8V1226H703.1" class="sp"/><text x="574.3" y="1223.9" class="k" style="font-size:10.75px" text-anchor="end">0.0</text><text x="574.3" y="1192.2" class="k" style="font-size:10.75px" text-anchor="end">0.3</text><text x="574.3" y="1160.5" class="k" style="font-size:10.75px" text-anchor="end">0.6</text><text x="574.3" y="1128.9" class="k" style="font-size:10.75px" text-anchor="end">0.9</text><text x="612.7" y="1241.4" class="k" style="font-size:10.75px" text-anchor="middle">NP</text><text x="668.8" y="1241.4" class="k" style="font-size:10.75px" text-anchor="middle">RP</text><path d="M579.8 1220h-4.5M579.8 1188.3h-4.5M579.8 1156.7h-4.5M579.8 1125h-4.5M612.7 1226v4.5M668.8 1226v4.5" class="tk"/><circle cx="805.1" cy="1083.6" r="4.6" fill="#e08830"/><text x="814.2" y="1087.7" class="t" style="font-size:11.5px">B_pro</text><path d="M796.8 1147.3V1186.8M796.8 1215.5V1220" stroke="#21457e" stroke-width="1.3" fill="none"/><rect x="779.8" y="1186.8" width="34" height="28.6" fill="#449bcd" stroke="#21457e" stroke-width="1.1"/><path d="M852.9 1147.3V1184.6M852.9 1220V1220" stroke="#b8482a" stroke-width="1.3" fill="none"/><rect x="835.9" y="1184.6" width="34" height="35.4" fill="#dc5b2f" stroke="#b8482a" stroke-width="1.1"/><path d="M763.9 1100.8V1226H887.2" class="sp"/><text x="758.4" y="1223.9" class="k" style="font-size:10.75px" text-anchor="end">0.00</text><text x="758.4" y="1201.1" class="k" style="font-size:10.75px" text-anchor="end">0.05</text><text x="758.4" y="1178.4" class="k" style="font-size:10.75px" text-anchor="end">0.10</text><text x="758.4" y="1155.7" class="k" style="font-size:10.75px" text-anchor="end">0.15</text><text x="758.4" y="1133" class="k" style="font-size:10.75px" text-anchor="end">0.20</text><text x="758.4" y="1110.3" class="k" style="font-size:10.75px" text-anchor="end">0.25</text><text x="796.8" y="1241.4" class="k" style="font-size:10.75px" text-anchor="middle">NP</text><text x="852.9" y="1241.4" class="k" style="font-size:10.75px" text-anchor="middle">RP</text><path d="M763.9 1220h-4.5M763.9 1197.3h-4.5M763.9 1174.6h-4.5M763.9 1151.8h-4.5M763.9 1129.1h-4.5M763.9 1106.4h-4.5M796.8 1226v4.5M852.9 1226v4.5" class="tk"/><circle cx="611" cy="1259.8" r="4.6" fill="#80d050"/><text x="620.1" y="1263.9" class="t" style="font-size:11.5px">B_preSm</text><path d="M612.7 1350.9V1377.4M612.7 1396.2V1396.2" stroke="#21457e" stroke-width="1.3" fill="none"/><rect x="595.7" y="1377.4" width="34" height="18.8" fill="#449bcd" stroke="#21457e" stroke-width="1.1"/><path d="M668.8 1352V1375.2M668.8 1396.2V1396.2" stroke="#b8482a" stroke-width="1.3" fill="none"/><rect x="651.8" y="1375.2" width="34" height="21" fill="#dc5b2f" stroke="#b8482a" stroke-width="1.1"/><path d="M579.8 1277V1402.2H703.1" class="sp"/><text x="574.3" y="1400.1" class="k" style="font-size:10.75px" text-anchor="end">0.00</text><text x="574.3" y="1372.4" class="k" style="font-size:10.75px" text-anchor="end">0.05</text><text x="574.3" y="1344.8" class="k" style="font-size:10.75px" text-anchor="end">0.10</text><text x="574.3" y="1317.1" class="k" style="font-size:10.75px" text-anchor="end">0.15</text><text x="574.3" y="1289.5" class="k" style="font-size:10.75px" text-anchor="end">0.20</text><text x="612.7" y="1417.6" class="k" style="font-size:10.75px" text-anchor="middle">NP</text><text x="668.8" y="1417.6" class="k" style="font-size:10.75px" text-anchor="middle">RP</text><path d="M579.8 1396.2h-4.5M579.8 1368.5h-4.5M579.8 1340.9h-4.5M579.8 1313.2h-4.5M579.8 1285.6h-4.5M612.7 1402.2v4.5M668.8 1402.2v4.5" class="tk"/><circle cx="797.4" cy="1259.8" r="4.6" fill="#5a90b8"/><text x="806.5" y="1263.9" class="t" style="font-size:11.5px">B_preLg</text><path d="M796.8 1358.9V1378.2M796.8 1396.2V1396.2" stroke="#21457e" stroke-width="1.3" fill="none"/><rect x="779.8" y="1378.2" width="34" height="18" fill="#449bcd" stroke="#21457e" stroke-width="1.1"/><path d="M852.9 1314.6V1364.4M852.9 1396.2V1396.2" stroke="#b8482a" stroke-width="1.3" fill="none"/><rect x="835.9" y="1364.4" width="34" height="31.8" fill="#dc5b2f" stroke="#b8482a" stroke-width="1.1"/><path d="M763.9 1277V1402.2H887.2" class="sp"/><text x="758.4" y="1400.1" class="k" style="font-size:10.75px" text-anchor="end">0.00</text><text x="758.4" y="1372.4" class="k" style="font-size:10.75px" text-anchor="end">0.02</text><text x="758.4" y="1344.8" class="k" style="font-size:10.75px" text-anchor="end">0.04</text><text x="758.4" y="1317.1" class="k" style="font-size:10.75px" text-anchor="end">0.06</text><text x="758.4" y="1289.5" class="k" style="font-size:10.75px" text-anchor="end">0.08</text><text x="796.8" y="1417.6" class="k" style="font-size:10.75px" text-anchor="middle">NP</text><text x="852.9" y="1417.6" class="k" style="font-size:10.75px" text-anchor="middle">RP</text><path d="M763.9 1396.2h-4.5M763.9 1368.5h-4.5M763.9 1340.9h-4.5M763.9 1313.2h-4.5M763.9 1285.6h-4.5M796.8 1402.2v4.5M852.9 1402.2v4.5" class="tk"/><circle cx="618" cy="1435.2" r="4.6" fill="#9060b0"/><text x="627.1" y="1439.3" class="t" style="font-size:11.5px">B_imm</text><path d="M612.7 1495.6V1538.4M612.7 1565.6V1571.6" stroke="#21457e" stroke-width="1.3" fill="none"/><rect x="595.7" y="1538.4" width="34" height="27.2" fill="#449bcd" stroke="#21457e" stroke-width="1.1"/><path d="M668.8 1495.6V1539.6M668.8 1571.6V1571.6" stroke="#b8482a" stroke-width="1.3" fill="none"/><rect x="651.8" y="1539.6" width="34" height="32" fill="#dc5b2f" stroke="#b8482a" stroke-width="1.1"/><path d="M579.8 1452.4V1577.6H703.1" class="sp"/><text x="574.3" y="1575.5" class="k" style="font-size:10.75px" text-anchor="end">0.0</text><text x="574.3" y="1535.5" class="k" style="font-size:10.75px" text-anchor="end">0.1</text><text x="574.3" y="1495.5" class="k" style="font-size:10.75px" text-anchor="end">0.2</text><text x="612.7" y="1593" class="k" style="font-size:10.75px" text-anchor="middle">NP</text><text x="668.8" y="1593" class="k" style="font-size:10.75px" text-anchor="middle">RP</text><path d="M579.8 1571.6h-4.5M579.8 1531.6h-4.5M579.8 1491.6h-4.5M612.7 1577.6v4.5M668.8 1577.6v4.5" class="tk"/><circle cx="800.2" cy="1435.2" r="4.6" fill="#d040a8"/><text x="809.3" y="1439.3" class="t" style="font-size:11.5px">B_mem</text><path d="M796.8 1495.2V1531M796.8 1555.9V1569.6" stroke="#21457e" stroke-width="1.3" fill="none"/><rect x="779.8" y="1531" width="34" height="25" fill="#449bcd" stroke="#21457e" stroke-width="1.1"/><path d="M852.9 1478.6V1522.6M852.9 1555V1568.7" stroke="#b8482a" stroke-width="1.3" fill="none"/><rect x="835.9" y="1522.6" width="34" height="32.3" fill="#dc5b2f" stroke="#b8482a" stroke-width="1.1"/><path d="M763.9 1452.4V1577.6H887.2" class="sp"/><text x="758.4" y="1575.5" class="k" style="font-size:10.75px" text-anchor="end">0.0</text><text x="758.4" y="1546.1" class="k" style="font-size:10.75px" text-anchor="end">0.3</text><text x="758.4" y="1516.7" class="k" style="font-size:10.75px" text-anchor="end">0.6</text><text x="758.4" y="1487.3" class="k" style="font-size:10.75px" text-anchor="end">0.9</text><text x="758.4" y="1458" class="k" style="font-size:10.75px" text-anchor="end">1.2</text><text x="796.8" y="1593" class="k" style="font-size:10.75px" text-anchor="middle">NP</text><text x="852.9" y="1593" class="k" style="font-size:10.75px" text-anchor="middle">RP</text><path d="M763.9 1571.6h-4.5M763.9 1542.2h-4.5M763.9 1512.8h-4.5M763.9 1483.5h-4.5M763.9 1454.1h-4.5M796.8 1577.6v4.5M852.9 1577.6v4.5" class="tk"/><circle cx="109.3" cy="1610.5" r="4.6" fill="#a0a030"/><text x="118.4" y="1614.6" class="t" style="font-size:11.5px">B_trns</text><path d="M103.2 1658.6V1706.3M103.2 1741.8V1746.9" stroke="#21457e" stroke-width="1.3" fill="none"/><rect x="86.2" y="1706.3" width="34" height="35.4" fill="#449bcd" stroke="#21457e" stroke-width="1.1"/><path d="M159.3 1690.4V1719.2M159.3 1746.9V1746.9" stroke="#b8482a" stroke-width="1.3" fill="none"/><rect x="142.3" y="1719.2" width="34" height="27.7" fill="#dc5b2f" stroke="#b8482a" stroke-width="1.1"/><path d="M70.3 1627.7V1752.9H193.6" class="sp"/><text x="64.8" y="1750.8" class="k" style="font-size:10.75px" text-anchor="end">0.00</text><text x="64.8" y="1725.1" class="k" style="font-size:10.75px" text-anchor="end">0.05</text><text x="64.8" y="1699.4" class="k" style="font-size:10.75px" text-anchor="end">0.10</text><text x="64.8" y="1673.7" class="k" style="font-size:10.75px" text-anchor="end">0.15</text><text x="64.8" y="1648.1" class="k" style="font-size:10.75px" text-anchor="end">0.20</text><text x="103.2" y="1768.3" class="k" style="font-size:10.75px" text-anchor="middle">NP</text><text x="159.3" y="1768.3" class="k" style="font-size:10.75px" text-anchor="middle">RP</text><path d="M70.3 1746.9h-4.5M70.3 1721.2h-4.5M70.3 1695.6h-4.5M70.3 1669.9h-4.5M70.3 1644.2h-4.5M103.2 1752.9v4.5M159.3 1752.9v4.5" class="tk"/><path d="M103.2 1648.6V1644.2H159.3V1648.6" stroke="#333" stroke-width="1.1" fill="none"/><text x="131.3" y="1641.2" class="s" text-anchor="middle">0.004</text><circle cx="258.4" cy="1610.5" r="4.6" fill="#c04878"/><text x="267.6" y="1614.6" class="t" style="font-size:11.5px">B_Unswitched_mem</text><path d="M295.7 1669.3V1713.1M295.7 1746.9V1746.9" stroke="#21457e" stroke-width="1.3" fill="none"/><rect x="278.7" y="1713.1" width="34" height="33.8" fill="#449bcd" stroke="#21457e" stroke-width="1.1"/><path d="M351.8 1699.3V1726.9M351.8 1746.9V1746.9" stroke="#b8482a" stroke-width="1.3" fill="none"/><rect x="334.8" y="1726.9" width="34" height="20" fill="#dc5b2f" stroke="#b8482a" stroke-width="1.1"/><path d="M262.8 1627.7V1752.9H386.1" class="sp"/><text x="257.3" y="1750.8" class="k" style="font-size:10.75px" text-anchor="end">0.000</text><text x="257.3" y="1719.5" class="k" style="font-size:10.75px" text-anchor="end">0.025</text><text x="257.3" y="1688.2" class="k" style="font-size:10.75px" text-anchor="end">0.050</text><text x="257.3" y="1656.9" class="k" style="font-size:10.75px" text-anchor="end">0.075</text><text x="295.7" y="1768.3" class="k" style="font-size:10.75px" text-anchor="middle">NP</text><text x="351.8" y="1768.3" class="k" style="font-size:10.75px" text-anchor="middle">RP</text><path d="M262.8 1746.9h-4.5M262.8 1715.6h-4.5M262.8 1684.3h-4.5M262.8 1653h-4.5M295.7 1752.9v4.5M351.8 1752.9v4.5" class="tk"/><circle cx="1448.8" cy="1098.5" r="4.6" fill="#5898b8"/><text x="1458" y="1102.6" class="t" style="font-size:11.5px">CD14+Mono_S100A</text><path d="M1488.9 1141.3V1178.8M1488.9 1209V1229.1" stroke="#21457e" stroke-width="1.3" fill="none"/><rect x="1473.6" y="1178.8" width="30.6" height="30.2" fill="#449bcd" stroke="#21457e" stroke-width="1.1"/><path d="M1539 1139.5V1175.1M1539 1210.8V1230.9" stroke="#b8482a" stroke-width="1.3" fill="none"/><rect x="1523.7" y="1175.1" width="30.6" height="35.7" fill="#dc5b2f" stroke="#b8482a" stroke-width="1.1"/><path d="M1458.8 1116.4V1236.1H1569.4" class="sp"/><text x="1453.3" y="1234.8" class="k" style="font-size:10.75px" text-anchor="end">0.0</text><text x="1453.3" y="1198.2" class="k" style="font-size:10.75px" text-anchor="end">0.2</text><text x="1453.3" y="1161.6" class="k" style="font-size:10.75px" text-anchor="end">0.4</text><text x="1453.3" y="1125.1" class="k" style="font-size:10.75px" text-anchor="end">0.6</text><text x="1488.9" y="1252" class="k" style="font-size:10.75px" text-anchor="middle">NP</text><text x="1539" y="1252" class="k" style="font-size:10.75px" text-anchor="middle">RP</text><path d="M1458.8 1230.9h-4.5M1458.8 1194.3h-4.5M1458.8 1157.8h-4.5M1458.8 1121.2h-4.5M1488.9 1236.1v4.5M1539 1236.1v4.5" class="tk"/><circle cx="1631.2" cy="1098.5" r="4.6" fill="#b88078"/><text x="1640.3" y="1102.6" class="t" style="font-size:11.5px">CD14+Mono_CTSS</text><path d="M1666.8 1147.9V1187M1666.8 1222.9V1230.9" stroke="#21457e" stroke-width="1.3" fill="none"/><rect x="1651.5" y="1187" width="30.6" height="35.9" fill="#449bcd" stroke="#21457e" stroke-width="1.1"/><path d="M1716.9 1142.3V1187M1716.9 1227.7V1230.9" stroke="#b8482a" stroke-width="1.3" fill="none"/><rect x="1701.6" y="1187" width="30.6" height="40.7" fill="#dc5b2f" stroke="#b8482a" stroke-width="1.1"/><path d="M1636.7 1116.4V1236.1H1747.3" class="sp"/><text x="1631.2" y="1234.8" class="k" style="font-size:10.75px" text-anchor="end">0.0</text><text x="1631.2" y="1202.8" class="k" style="font-size:10.75px" text-anchor="end">0.2</text><text x="1631.2" y="1170.9" class="k" style="font-size:10.75px" text-anchor="end">0.4</text><text x="1631.2" y="1139" class="k" style="font-size:10.75px" text-anchor="end">0.6</text><text x="1666.8" y="1252" class="k" style="font-size:10.75px" text-anchor="middle">NP</text><text x="1716.9" y="1252" class="k" style="font-size:10.75px" text-anchor="middle">RP</text><path d="M1636.7 1230.9h-4.5M1636.7 1199h-4.5M1636.7 1167h-4.5M1636.7 1135.1h-4.5M1666.8 1236.1v4.5M1716.9 1236.1v4.5" class="tk"/><circle cx="1809.1" cy="1098.5" r="4.6" fill="#4a88c8"/><text x="1818.2" y="1102.6" class="t" style="font-size:11.5px" clip-path="url(#clipc)">Neutrophil_RPS/RPL</text><path d="M1859.1 1162.2V1196.6M1859.1 1223.9V1230.9" stroke="#21457e" stroke-width="1.3" fill="none"/><rect x="1843.8" y="1196.6" width="30.6" height="27.4" fill="#449bcd" stroke="#21457e" stroke-width="1.1"/><path d="M1909.2 1155.2V1194.8M1909.2 1225.1V1230.9" stroke="#b8482a" stroke-width="1.3" fill="none"/><rect x="1893.9" y="1194.8" width="30.6" height="30.3" fill="#dc5b2f" stroke="#b8482a" stroke-width="1.1"/><path d="M1829 1116.4V1236.1H1939.6" class="sp"/><text x="1823.5" y="1234.8" class="k" style="font-size:10.75px" text-anchor="end">0.00</text><text x="1823.5" y="1205.7" class="k" style="font-size:10.75px" text-anchor="end">0.05</text><text x="1823.5" y="1176.6" class="k" style="font-size:10.75px" text-anchor="end">0.10</text><text x="1823.5" y="1147.5" class="k" style="font-size:10.75px" text-anchor="end">0.15</text><text x="1859.1" y="1252" class="k" style="font-size:10.75px" text-anchor="middle">NP</text><text x="1909.2" y="1252" class="k" style="font-size:10.75px" text-anchor="middle">RP</text><path d="M1829 1230.9h-4.5M1829 1201.8h-4.5M1829 1172.7h-4.5M1829 1143.6h-4.5M1859.1 1236.1v4.5M1909.2 1236.1v4.5" class="tk"/><circle cx="1495.5" cy="1269.8" r="4.6" fill="#2a8a68"/><text x="1504.6" y="1273.9" class="t" style="font-size:11.5px">cDC2</text><path d="M1488.9 1320.8V1362.1M1488.9 1389.3V1402.2" stroke="#21457e" stroke-width="1.3" fill="none"/><rect x="1473.6" y="1362.1" width="30.6" height="27.1" fill="#449bcd" stroke="#21457e" stroke-width="1.1"/><path d="M1539 1316.9V1358.9M1539 1390.6V1402.2" stroke="#b8482a" stroke-width="1.3" fill="none"/><rect x="1523.7" y="1358.9" width="30.6" height="31.7" fill="#dc5b2f" stroke="#b8482a" stroke-width="1.1"/><path d="M1458.8 1287.7V1407.4H1569.4" class="sp"/><text x="1453.3" y="1406.1" class="k" style="font-size:10.75px" text-anchor="end">0.00</text><text x="1453.3" y="1380.2" class="k" style="font-size:10.75px" text-anchor="end">0.02</text><text x="1453.3" y="1354.4" class="k" style="font-size:10.75px" text-anchor="end">0.04</text><text x="1453.3" y="1328.5" class="k" style="font-size:10.75px" text-anchor="end">0.06</text><text x="1453.3" y="1302.7" class="k" style="font-size:10.75px" text-anchor="end">0.08</text><text x="1488.9" y="1423.3" class="k" style="font-size:10.75px" text-anchor="middle">NP</text><text x="1539" y="1423.3" class="k" style="font-size:10.75px" text-anchor="middle">RP</text><path d="M1458.8 1402.2h-4.5M1458.8 1376.3h-4.5M1458.8 1350.5h-4.5M1458.8 1324.7h-4.5M1458.8 1298.8h-4.5M1488.9 1407.4v4.5M1539 1407.4v4.5" class="tk"/><circle cx="1673.4" cy="1269.8" r="4.6" fill="#6a48b0"/><text x="1682.5" y="1273.9" class="t" style="font-size:11.5px">cDC1</text><path d="M1666.8 1384.1V1394.2M1666.8 1402.2V1402.2" stroke="#21457e" stroke-width="1.3" fill="none"/><rect x="1651.5" y="1394.2" width="30.6" height="8" fill="#449bcd" stroke="#21457e" stroke-width="1.1"/><path d="M1716.9 1343.9V1376.1M1716.9 1402.2V1402.2" stroke="#b8482a" stroke-width="1.3" fill="none"/><rect x="1701.6" y="1376.1" width="30.6" height="26.1" fill="#dc5b2f" stroke="#b8482a" stroke-width="1.1"/><path d="M1636.7 1287.7V1407.4H1747.3" class="sp"/><text x="1631.2" y="1406.1" class="k" style="font-size:10.75px" text-anchor="end">0.000</text><text x="1631.2" y="1375.9" class="k" style="font-size:10.75px" text-anchor="end">0.003</text><text x="1631.2" y="1345.7" class="k" style="font-size:10.75px" text-anchor="end">0.006</text><text x="1631.2" y="1315.6" class="k" style="font-size:10.75px" text-anchor="end">0.009</text><text x="1666.8" y="1423.3" class="k" style="font-size:10.75px" text-anchor="middle">NP</text><text x="1716.9" y="1423.3" class="k" style="font-size:10.75px" text-anchor="middle">RP</text><path d="M1636.7 1402.2h-4.5M1636.7 1372h-4.5M1636.7 1341.9h-4.5M1636.7 1311.7h-4.5M1666.8 1407.4v4.5M1716.9 1407.4v4.5" class="tk"/><circle cx="1858.5" cy="1269.8" r="4.6" fill="#a0a030"/><text x="1867.6" y="1273.9" class="t" style="font-size:11.5px">pDCs_b</text><path d="M1859.1 1402.2V1402.2M1859.1 1402.2V1402.2" stroke="#21457e" stroke-width="1.3" fill="none"/><rect x="1843.8" y="1402.2" width="30.6" height="0" fill="#449bcd" stroke="#21457e" stroke-width="1.1"/><path d="M1909.2 1402.2V1402.2M1909.2 1402.2V1402.2" stroke="#b8482a" stroke-width="1.3" fill="none"/><rect x="1893.9" y="1402.2" width="30.6" height="0" fill="#dc5b2f" stroke="#b8482a" stroke-width="1.1"/><path d="M1829 1287.7V1407.4H1939.6" class="sp"/><text x="1823.5" y="1406.1" class="k" style="font-size:10.75px" text-anchor="end">0.00000</text><text x="1823.5" y="1378.8" class="k" style="font-size:10.75px" text-anchor="end">0.00025</text><text x="1823.5" y="1351.6" class="k" style="font-size:10.75px" text-anchor="end">0.00050</text><text x="1823.5" y="1324.4" class="k" style="font-size:10.75px" text-anchor="end">0.00075</text><text x="1823.5" y="1297.2" class="k" style="font-size:10.75px" text-anchor="end">0.00100</text><text x="1859.1" y="1423.3" class="k" style="font-size:10.75px" text-anchor="middle">NP</text><text x="1909.2" y="1423.3" class="k" style="font-size:10.75px" text-anchor="middle">RP</text><path d="M1829 1402.2h-4.5M1829 1375h-4.5M1829 1347.8h-4.5M1829 1320.5h-4.5M1829 1293.3h-4.5M1859.1 1407.4v4.5M1909.2 1407.4v4.5" class="tk"/><circle cx="1472.2" cy="1440.3" r="4.6" fill="#5cc090"/><text x="1481.3" y="1444.4" class="t" style="font-size:11.5px">Macro/Mono</text><path d="M1488.9 1565.9V1569.7M1488.9 1572.7V1572.7" stroke="#21457e" stroke-width="1.3" fill="none"/><rect x="1473.6" y="1569.7" width="30.6" height="3" fill="#449bcd" stroke="#21457e" stroke-width="1.1"/><path d="M1539 1542.3V1558.6M1539 1572.7V1572.7" stroke="#b8482a" stroke-width="1.3" fill="none"/><rect x="1523.7" y="1558.6" width="30.6" height="14.1" fill="#dc5b2f" stroke="#b8482a" stroke-width="1.1"/><path d="M1458.8 1458.2V1577.9H1569.4" class="sp"/><text x="1453.3" y="1576.6" class="k" style="font-size:10.75px" text-anchor="end">0.00</text><text x="1453.3" y="1538.6" class="k" style="font-size:10.75px" text-anchor="end">0.01</text><text x="1453.3" y="1500.6" class="k" style="font-size:10.75px" text-anchor="end">0.02</text><text x="1488.9" y="1593.8" class="k" style="font-size:10.75px" text-anchor="middle">NP</text><text x="1539" y="1593.8" class="k" style="font-size:10.75px" text-anchor="middle">RP</text><path d="M1458.8 1572.7h-4.5M1458.8 1534.7h-4.5M1458.8 1496.7h-4.5M1488.9 1577.9v4.5M1539 1577.9v4.5" class="tk"/><path d="M1488.9 1499V1475.6H1539V1571" stroke="#333" stroke-width="1.1" fill="none"/><text x="1513.9" y="1472.6" class="s" text-anchor="middle">0.006</text><circle cx="1634.8" cy="1440.3" r="4.6" fill="#c04868"/><text x="1643.9" y="1444.4" class="t" style="font-size:11.5px">Neutrophil_ARG1</text><path d="M1666.8 1509.1V1546.5M1666.8 1572.7V1572.7" stroke="#21457e" stroke-width="1.3" fill="none"/><rect x="1651.5" y="1546.5" width="30.6" height="26.2" fill="#449bcd" stroke="#21457e" stroke-width="1.1"/><path d="M1716.9 1519.1V1546.5M1716.9 1569V1572.7" stroke="#b8482a" stroke-width="1.3" fill="none"/><rect x="1701.6" y="1546.5" width="30.6" height="22.4" fill="#dc5b2f" stroke="#b8482a" stroke-width="1.1"/><path d="M1636.7 1458.2V1577.9H1747.3" class="sp"/><text x="1631.2" y="1576.6" class="k" style="font-size:10.75px" text-anchor="end">0.00</text><text x="1631.2" y="1551.6" class="k" style="font-size:10.75px" text-anchor="end">0.01</text><text x="1631.2" y="1526.7" class="k" style="font-size:10.75px" text-anchor="end">0.02</text><text x="1631.2" y="1501.8" class="k" style="font-size:10.75px" text-anchor="end">0.03</text><text x="1631.2" y="1476.9" class="k" style="font-size:10.75px" text-anchor="end">0.04</text><text x="1666.8" y="1593.8" class="k" style="font-size:10.75px" text-anchor="middle">NP</text><text x="1716.9" y="1593.8" class="k" style="font-size:10.75px" text-anchor="middle">RP</text><path d="M1636.7 1572.7h-4.5M1636.7 1547.8h-4.5M1636.7 1522.8h-4.5M1636.7 1497.9h-4.5M1636.7 1473h-4.5M1666.8 1577.9v4.5M1716.9 1577.9v4.5" class="tk"/><circle cx="1849.7" cy="1440.3" r="4.6" fill="#d040a8"/><text x="1858.8" y="1444.4" class="t" style="font-size:11.5px">M2_Macro</text><path d="M1859.1 1527.7V1552.5M1859.1 1572.7V1572.7" stroke="#21457e" stroke-width="1.3" fill="none"/><rect x="1843.8" y="1552.5" width="30.6" height="20.2" fill="#449bcd" stroke="#21457e" stroke-width="1.1"/><path d="M1909.2 1513.7V1544.7M1909.2 1572.7V1572.7" stroke="#b8482a" stroke-width="1.3" fill="none"/><rect x="1893.9" y="1544.7" width="30.6" height="28" fill="#dc5b2f" stroke="#b8482a" stroke-width="1.1"/><path d="M1829 1458.2V1577.9H1939.6" class="sp"/><text x="1823.5" y="1576.6" class="k" style="font-size:10.75px" text-anchor="end">0.00</text><text x="1823.5" y="1545.5" class="k" style="font-size:10.75px" text-anchor="end">0.01</text><text x="1823.5" y="1514.4" class="k" style="font-size:10.75px" text-anchor="end">0.02</text><text x="1823.5" y="1483.4" class="k" style="font-size:10.75px" text-anchor="end">0.03</text><text x="1859.1" y="1593.8" class="k" style="font-size:10.75px" text-anchor="middle">NP</text><text x="1909.2" y="1593.8" class="k" style="font-size:10.75px" text-anchor="middle">RP</text><path d="M1829 1572.7h-4.5M1829 1541.6h-4.5M1829 1510.6h-4.5M1829 1479.5h-4.5M1859.1 1577.9v4.5M1909.2 1577.9v4.5" class="tk"/><circle cx="961.2" cy="1611.5" r="4.6" fill="#80d050"/><text x="970.3" y="1615.6" class="t" style="font-size:11.5px">CD14+Mono_IFN</text><path d="M991.5 1682.9V1717.2M991.5 1738.7V1743.9" stroke="#21457e" stroke-width="1.3" fill="none"/><rect x="976.2" y="1717.2" width="30.6" height="21.5" fill="#449bcd" stroke="#21457e" stroke-width="1.1"/><path d="M1041.6 1710.2V1726.3M1041.6 1741.3V1743.9" stroke="#b8482a" stroke-width="1.3" fill="none"/><rect x="1026.3" y="1726.3" width="30.6" height="15.1" fill="#dc5b2f" stroke="#b8482a" stroke-width="1.1"/><path d="M961.4 1629.4V1749.1H1072" class="sp"/><text x="955.9" y="1747.8" class="k" style="font-size:10.75px" text-anchor="end">0.0</text><text x="955.9" y="1721.8" class="k" style="font-size:10.75px" text-anchor="end">0.1</text><text x="955.9" y="1695.9" class="k" style="font-size:10.75px" text-anchor="end">0.2</text><text x="955.9" y="1669.9" class="k" style="font-size:10.75px" text-anchor="end">0.3</text><text x="955.9" y="1644" class="k" style="font-size:10.75px" text-anchor="end">0.4</text><text x="991.5" y="1765" class="k" style="font-size:10.75px" text-anchor="middle">NP</text><text x="1041.6" y="1765" class="k" style="font-size:10.75px" text-anchor="middle">RP</text><path d="M961.4 1743.9h-4.5M961.4 1718h-4.5M961.4 1692h-4.5M961.4 1666h-4.5M961.4 1640.1h-4.5M991.5 1749.1v4.5M1041.6 1749.1v4.5" class="tk"/><path d="M991.5 1649.8V1645.6H1041.6V1649.8" stroke="#333" stroke-width="1.1" fill="none"/><text x="1016.5" y="1642.6" class="s" text-anchor="middle">0.026</text><circle cx="1120.1" cy="1611.5" r="4.6" fill="#8aa860"/><text x="1129.2" y="1615.6" class="t" style="font-size:11.5px">CD14+Mono_hypo</text><path d="M1155.5 1733.6V1737M1155.5 1743.9V1743.9" stroke="#21457e" stroke-width="1.3" fill="none"/><rect x="1140.2" y="1737" width="30.6" height="6.9" fill="#449bcd" stroke="#21457e" stroke-width="1.1"/><path d="M1205.6 1738.8V1741.2M1205.6 1743.9V1743.9" stroke="#b8482a" stroke-width="1.3" fill="none"/><rect x="1190.3" y="1741.2" width="30.6" height="2.7" fill="#dc5b2f" stroke="#b8482a" stroke-width="1.1"/><path d="M1125.4 1629.4V1749.1H1236" class="sp"/><text x="1119.9" y="1747.8" class="k" style="font-size:10.75px" text-anchor="end">0.0</text><text x="1119.9" y="1713.5" class="k" style="font-size:10.75px" text-anchor="end">0.1</text><text x="1119.9" y="1679.2" class="k" style="font-size:10.75px" text-anchor="end">0.2</text><text x="1119.9" y="1645" class="k" style="font-size:10.75px" text-anchor="end">0.3</text><text x="1155.5" y="1765" class="k" style="font-size:10.75px" text-anchor="middle">NP</text><text x="1205.6" y="1765" class="k" style="font-size:10.75px" text-anchor="middle">RP</text><path d="M1125.4 1743.9h-4.5M1125.4 1709.6h-4.5M1125.4 1675.4h-4.5M1125.4 1641.1h-4.5M1155.5 1749.1v4.5M1205.6 1749.1v4.5" class="tk"/><circle cx="1301.5" cy="1611.5" r="4.6" fill="#e04050"/><text x="1310.6" y="1615.6" class="t" style="font-size:11.5px">CD16+Mono</text><path d="M1318.1 1664V1702M1318.1 1733.4V1743.9" stroke="#21457e" stroke-width="1.3" fill="none"/><rect x="1302.8" y="1702" width="30.6" height="31.4" fill="#449bcd" stroke="#21457e" stroke-width="1.1"/><path d="M1368.2 1708.1V1721.9M1368.2 1734.8V1743.9" stroke="#b8482a" stroke-width="1.3" fill="none"/><rect x="1352.9" y="1721.9" width="30.6" height="12.9" fill="#dc5b2f" stroke="#b8482a" stroke-width="1.1"/><path d="M1288 1629.4V1749.1H1398.6" class="sp"/><text x="1282.5" y="1747.8" class="k" style="font-size:10.75px" text-anchor="end">0.0</text><text x="1282.5" y="1720.2" class="k" style="font-size:10.75px" text-anchor="end">0.1</text><text x="1282.5" y="1692.7" class="k" style="font-size:10.75px" text-anchor="end">0.2</text><text x="1282.5" y="1665.1" class="k" style="font-size:10.75px" text-anchor="end">0.3</text><text x="1282.5" y="1637.6" class="k" style="font-size:10.75px" text-anchor="end">0.4</text><text x="1318.1" y="1765" class="k" style="font-size:10.75px" text-anchor="middle">NP</text><text x="1368.2" y="1765" class="k" style="font-size:10.75px" text-anchor="middle">RP</text><path d="M1288 1743.9h-4.5M1288 1716.4h-4.5M1288 1688.8h-4.5M1288 1661.2h-4.5M1288 1633.7h-4.5M1318.1 1749.1v4.5M1368.2 1749.1v4.5" class="tk"/><circle cx="1497.2" cy="1611.5" r="4.6" fill="#e08830"/><text x="1506.3" y="1615.6" class="t" style="font-size:11.5px">GMP</text><path d="M1488.9 1666.9V1703.5M1488.9 1731.5V1743.9" stroke="#21457e" stroke-width="1.3" fill="none"/><rect x="1473.6" y="1703.5" width="30.6" height="28" fill="#449bcd" stroke="#21457e" stroke-width="1.1"/><path d="M1539 1651.2V1693.6M1539 1726.6V1743.9" stroke="#b8482a" stroke-width="1.3" fill="none"/><rect x="1523.7" y="1693.6" width="30.6" height="33" fill="#dc5b2f" stroke="#b8482a" stroke-width="1.1"/><path d="M1458.8 1629.4V1749.1H1569.4" class="sp"/><text x="1453.3" y="1747.8" class="k" style="font-size:10.75px" text-anchor="end">0.0</text><text x="1453.3" y="1706.6" class="k" style="font-size:10.75px" text-anchor="end">0.1</text><text x="1453.3" y="1665.4" class="k" style="font-size:10.75px" text-anchor="end">0.2</text><text x="1488.9" y="1765" class="k" style="font-size:10.75px" text-anchor="middle">NP</text><text x="1539" y="1765" class="k" style="font-size:10.75px" text-anchor="middle">RP</text><path d="M1458.8 1743.9h-4.5M1458.8 1702.7h-4.5M1458.8 1661.5h-4.5M1488.9 1749.1v4.5M1539 1749.1v4.5" class="tk"/><circle cx="1650.4" cy="1611.5" r="4.6" fill="#807080"/><text x="1659.5" y="1615.6" class="t" style="font-size:11.5px">Granulocyte</text><path d="M1666.8 1662.8V1702.1M1666.8 1728.9V1743.9" stroke="#21457e" stroke-width="1.3" fill="none"/><rect x="1651.5" y="1702.1" width="30.6" height="26.8" fill="#449bcd" stroke="#21457e" stroke-width="1.1"/><path d="M1716.9 1650.6V1700.9M1716.9 1733.8V1743.9" stroke="#b8482a" stroke-width="1.3" fill="none"/><rect x="1701.6" y="1700.9" width="30.6" height="32.8" fill="#dc5b2f" stroke="#b8482a" stroke-width="1.1"/><path d="M1636.7 1629.4V1749.1H1747.3" class="sp"/><text x="1631.2" y="1747.8" class="k" style="font-size:10.75px" text-anchor="end">0.0</text><text x="1631.2" y="1707.2" class="k" style="font-size:10.75px" text-anchor="end">0.1</text><text x="1631.2" y="1666.7" class="k" style="font-size:10.75px" text-anchor="end">0.2</text><text x="1666.8" y="1765" class="k" style="font-size:10.75px" text-anchor="middle">NP</text><text x="1716.9" y="1765" class="k" style="font-size:10.75px" text-anchor="middle">RP</text><path d="M1636.7 1743.9h-4.5M1636.7 1703.3h-4.5M1636.7 1662.8h-4.5M1666.8 1749.1v4.5M1716.9 1749.1v4.5" class="tk"/><circle cx="1781.4" cy="1611.5" r="4.6" fill="#9858b8"/><text x="1790.5" y="1615.6" class="t" style="font-size:11.5px">CD14+Mono_pro-inflam</text><path d="M1859.1 1679.7V1714.4M1859.1 1737.5V1743.9" stroke="#21457e" stroke-width="1.3" fill="none"/><rect x="1843.8" y="1714.4" width="30.6" height="23.1" fill="#449bcd" stroke="#21457e" stroke-width="1.1"/><path d="M1909.2 1684.8V1715.7M1909.2 1740.7V1743.9" stroke="#b8482a" stroke-width="1.3" fill="none"/><rect x="1893.9" y="1715.7" width="30.6" height="25" fill="#dc5b2f" stroke="#b8482a" stroke-width="1.1"/><path d="M1829 1629.4V1749.1H1939.6" class="sp"/><text x="1823.5" y="1747.8" class="k" style="font-size:10.75px" text-anchor="end">0.00</text><text x="1823.5" y="1715.7" class="k" style="font-size:10.75px" text-anchor="end">0.05</text><text x="1823.5" y="1683.6" class="k" style="font-size:10.75px" text-anchor="end">0.10</text><text x="1823.5" y="1651.5" class="k" style="font-size:10.75px" text-anchor="end">0.15</text><text x="1859.1" y="1765" class="k" style="font-size:10.75px" text-anchor="middle">NP</text><text x="1909.2" y="1765" class="k" style="font-size:10.75px" text-anchor="middle">RP</text><path d="M1829 1743.9h-4.5M1829 1711.8h-4.5M1829 1679.7h-4.5M1829 1647.6h-4.5M1859.1 1749.1v4.5M1909.2 1749.1v4.5" class="tk"/><circle cx="631.6" cy="1812.3" r="4.6" fill="#c09060"/><text x="640.7" y="1816.4" class="t" style="font-size:11.5px">CD8_Tcm</text><path d="M638.4 1867.2V1906.8M638.4 1936.4V1948.3" stroke="#21457e" stroke-width="1.3" fill="none"/><rect x="623.9" y="1906.8" width="29" height="29.7" fill="#449bcd" stroke="#21457e" stroke-width="1.1"/><path d="M685.4 1894.9V1919.8M685.4 1939.2V1948.3" stroke="#b8482a" stroke-width="1.3" fill="none"/><rect x="670.9" y="1919.8" width="29" height="19.4" fill="#dc5b2f" stroke="#b8482a" stroke-width="1.1"/><path d="M610.3 1830.7V1953.7H714.2" class="sp"/><text x="604.8" y="1952.2" class="k" style="font-size:10.75px" text-anchor="end">0.00</text><text x="604.8" y="1912.6" class="k" style="font-size:10.75px" text-anchor="end">0.01</text><text x="604.8" y="1873.1" class="k" style="font-size:10.75px" text-anchor="end">0.02</text><text x="638.4" y="1969.8" class="k" style="font-size:10.75px" text-anchor="middle">NP</text><text x="685.4" y="1969.8" class="k" style="font-size:10.75px" text-anchor="middle">RP</text><path d="M610.3 1948.3h-4.5M610.3 1908.8h-4.5M610.3 1869.2h-4.5M638.4 1953.7v4.5M685.4 1953.7v4.5" class="tk"/><circle cx="790" cy="1812.3" r="4.6" fill="#806070"/><text x="799.1" y="1816.4" class="t" style="font-size:11.5px">CD8_Teff_TNF</text><path d="M811.5 1930.6V1939.5M811.5 1948.3V1948.3" stroke="#21457e" stroke-width="1.3" fill="none"/><rect x="797" y="1939.5" width="29" height="8.8" fill="#449bcd" stroke="#21457e" stroke-width="1.1"/><path d="M858.5 1920V1935.1M858.5 1948.3V1948.3" stroke="#b8482a" stroke-width="1.3" fill="none"/><rect x="844" y="1935.1" width="29" height="13.2" fill="#dc5b2f" stroke="#b8482a" stroke-width="1.1"/><path d="M783.4 1830.7V1953.7H887.3" class="sp"/><text x="777.9" y="1952.2" class="k" style="font-size:10.75px" text-anchor="end">0.000</text><text x="777.9" y="1908" class="k" style="font-size:10.75px" text-anchor="end">0.005</text><text x="777.9" y="1863.9" class="k" style="font-size:10.75px" text-anchor="end">0.010</text><text x="811.5" y="1969.8" class="k" style="font-size:10.75px" text-anchor="middle">NP</text><text x="858.5" y="1969.8" class="k" style="font-size:10.75px" text-anchor="middle">RP</text><path d="M783.4 1948.3h-4.5M783.4 1904.2h-4.5M783.4 1860h-4.5M811.5 1953.7v4.5M858.5 1953.7v4.5" class="tk"/><circle cx="952.1" cy="1812.3" r="4.6" fill="#3a7878"/><text x="961.2" y="1816.4" class="t" style="font-size:11.5px">CD8_T_Apoptotic</text><path d="M984.6 1883.3V1914.6M984.6 1938.7V1948.3" stroke="#21457e" stroke-width="1.3" fill="none"/><rect x="970.1" y="1914.6" width="29" height="24.1" fill="#449bcd" stroke="#21457e" stroke-width="1.1"/><path d="M1031.6 1854.4V1903.8M1031.6 1937.5V1948.3" stroke="#b8482a" stroke-width="1.3" fill="none"/><rect x="1017.1" y="1903.8" width="29" height="33.7" fill="#dc5b2f" stroke="#b8482a" stroke-width="1.1"/><path d="M956.5 1830.7V1953.7H1060.4" class="sp"/><text x="951" y="1952.2" class="k" style="font-size:10.75px" text-anchor="end">0.000</text><text x="951" y="1922.1" class="k" style="font-size:10.75px" text-anchor="end">0.025</text><text x="951" y="1892" class="k" style="font-size:10.75px" text-anchor="end">0.050</text><text x="951" y="1861.9" class="k" style="font-size:10.75px" text-anchor="end">0.075</text><text x="984.6" y="1969.8" class="k" style="font-size:10.75px" text-anchor="middle">NP</text><text x="1031.6" y="1969.8" class="k" style="font-size:10.75px" text-anchor="middle">RP</text><path d="M956.5 1948.3h-4.5M956.5 1918.2h-4.5M956.5 1888.1h-4.5M956.5 1858h-4.5M984.6 1953.7v4.5M1031.6 1953.7v4.5" class="tk"/><circle cx="1163.3" cy="1812.3" r="4.6" fill="#606850"/><text x="1172.4" y="1816.4" class="t" style="font-size:11.5px">MAIT</text><path d="M1157.9 1870.3V1905.5M1157.9 1933.2V1948.3" stroke="#21457e" stroke-width="1.3" fill="none"/><rect x="1143.4" y="1905.5" width="29" height="27.7" fill="#449bcd" stroke="#21457e" stroke-width="1.1"/><path d="M1204.9 1860.2V1906.8M1204.9 1940.1V1948.3" stroke="#b8482a" stroke-width="1.3" fill="none"/><rect x="1190.4" y="1906.8" width="29" height="33.4" fill="#dc5b2f" stroke="#b8482a" stroke-width="1.1"/><path d="M1129.8 1830.7V1953.7H1233.7" class="sp"/><text x="1124.3" y="1952.2" class="k" style="font-size:10.75px" text-anchor="end">0.000</text><text x="1124.3" y="1920.7" class="k" style="font-size:10.75px" text-anchor="end">0.025</text><text x="1124.3" y="1889.2" class="k" style="font-size:10.75px" text-anchor="end">0.050</text><text x="1124.3" y="1857.8" class="k" style="font-size:10.75px" text-anchor="end">0.075</text><text x="1157.9" y="1969.8" class="k" style="font-size:10.75px" text-anchor="middle">NP</text><text x="1204.9" y="1969.8" class="k" style="font-size:10.75px" text-anchor="middle">RP</text><path d="M1129.8 1948.3h-4.5M1129.8 1916.8h-4.5M1129.8 1885.4h-4.5M1129.8 1853.9h-4.5M1157.9 1953.7v4.5M1204.9 1953.7v4.5" class="tk"/><circle cx="617.3" cy="1988.5" r="4.6" fill="#6a8a50"/><text x="626.4" y="1992.6" class="t" style="font-size:11.5px">CD8_Tem_IFN</text><path d="M638.4 2080.6V2105.3M638.4 2124.5V2124.5" stroke="#21457e" stroke-width="1.3" fill="none"/><rect x="623.9" y="2105.3" width="29" height="19.2" fill="#449bcd" stroke="#21457e" stroke-width="1.1"/><path d="M685.4 2063.1V2098.2M685.4 2124.5V2124.5" stroke="#b8482a" stroke-width="1.3" fill="none"/><rect x="670.9" y="2098.2" width="29" height="26.3" fill="#dc5b2f" stroke="#b8482a" stroke-width="1.1"/><path d="M610.3 2006.9V2129.9H714.2" class="sp"/><text x="604.8" y="2128.4" class="k" style="font-size:10.75px" text-anchor="end">0.000</text><text x="604.8" y="2088.5" class="k" style="font-size:10.75px" text-anchor="end">0.005</text><text x="604.8" y="2048.6" class="k" style="font-size:10.75px" text-anchor="end">0.010</text><text x="638.4" y="2146" class="k" style="font-size:10.75px" text-anchor="middle">NP</text><text x="685.4" y="2146" class="k" style="font-size:10.75px" text-anchor="middle">RP</text><path d="M610.3 2124.5h-4.5M610.3 2084.6h-4.5M610.3 2044.7h-4.5M638.4 2129.9v4.5M685.4 2129.9v4.5" class="tk"/><path d="M638.4 2053.1V2023.4H685.4V2053.1" stroke="#333" stroke-width="1.1" fill="none"/><text x="661.9" y="2020.4" class="s" text-anchor="middle">0.024</text><circle cx="805.5" cy="1988.5" r="4.6" fill="#505a80"/><text x="814.6" y="1992.6" class="t" style="font-size:11.5px">CD8_Teff</text><path d="M811.5 2090.5V2108.1M811.5 2121.7V2124.5" stroke="#21457e" stroke-width="1.3" fill="none"/><rect x="797" y="2108.1" width="29" height="13.6" fill="#449bcd" stroke="#21457e" stroke-width="1.1"/><path d="M858.5 2056.6V2086.3M858.5 2118.8V2124.5" stroke="#b8482a" stroke-width="1.3" fill="none"/><rect x="844" y="2086.3" width="29" height="32.5" fill="#dc5b2f" stroke="#b8482a" stroke-width="1.1"/><path d="M783.4 2006.9V2129.9H887.3" class="sp"/><text x="777.9" y="2128.4" class="k" style="font-size:10.75px" text-anchor="end">0.0</text><text x="777.9" y="2100.1" class="k" style="font-size:10.75px" text-anchor="end">0.1</text><text x="777.9" y="2071.8" class="k" style="font-size:10.75px" text-anchor="end">0.2</text><text x="777.9" y="2043.5" class="k" style="font-size:10.75px" text-anchor="end">0.3</text><text x="777.9" y="2015.2" class="k" style="font-size:10.75px" text-anchor="end">0.4</text><text x="811.5" y="2146" class="k" style="font-size:10.75px" text-anchor="middle">NP</text><text x="858.5" y="2146" class="k" style="font-size:10.75px" text-anchor="middle">RP</text><path d="M783.4 2124.5h-4.5M783.4 2096.2h-4.5M783.4 2067.9h-4.5M783.4 2039.6h-4.5M783.4 2011.3h-4.5M811.5 2129.9v4.5M858.5 2129.9v4.5" class="tk"/><path d="M811.5 2027.8V2023.4H858.5V2027.8" stroke="#333" stroke-width="1.1" fill="none"/><text x="835" y="2020.4" class="s" text-anchor="middle"><0.001</text><circle cx="962.8" cy="1988.5" r="4.6" fill="#4a6878"/><text x="971.9" y="1992.6" class="t" style="font-size:11.5px">CD8_Teff_HLA</text><path d="M984.6 2076.4V2100.1M984.6 2118.6V2124.5" stroke="#21457e" stroke-width="1.3" fill="none"/><rect x="970.1" y="2100.1" width="29" height="18.5" fill="#449bcd" stroke="#21457e" stroke-width="1.1"/><path d="M1031.6 2052V2086M1031.6 2116.4V2124.5" stroke="#b8482a" stroke-width="1.3" fill="none"/><rect x="1017.1" y="2086" width="29" height="30.3" fill="#dc5b2f" stroke="#b8482a" stroke-width="1.1"/><path d="M956.5 2006.9V2129.9H1060.4" class="sp"/><text x="951" y="2128.4" class="k" style="font-size:10.75px" text-anchor="end">0.00</text><text x="951" y="2091.4" class="k" style="font-size:10.75px" text-anchor="end">0.05</text><text x="951" y="2054.4" class="k" style="font-size:10.75px" text-anchor="end">0.10</text><text x="951" y="2017.4" class="k" style="font-size:10.75px" text-anchor="end">0.15</text><text x="984.6" y="2146" class="k" style="font-size:10.75px" text-anchor="middle">NP</text><text x="1031.6" y="2146" class="k" style="font-size:10.75px" text-anchor="middle">RP</text><path d="M956.5 2124.5h-4.5M956.5 2087.5h-4.5M956.5 2050.5h-4.5M956.5 2013.5h-4.5M984.6 2129.9v4.5M1031.6 2129.9v4.5" class="tk"/><path d="M984.6 2027.2V2023.4H1031.6V2027.2" stroke="#333" stroke-width="1.1" fill="none"/><text x="1008.1" y="2020.4" class="s" text-anchor="middle">0.001</text><circle cx="1144.9" cy="1988.5" r="4.6" fill="#5a5a80"/><text x="1154" y="1992.6" class="t" style="font-size:11.5px">CD8_Teff_b</text><path d="M1157.9 2124.5V2124.5M1157.9 2124.5V2124.5" stroke="#21457e" stroke-width="1.3" fill="none"/><rect x="1143.4" y="2124.5" width="29" height="0" fill="#449bcd" stroke="#21457e" stroke-width="1.1"/><path d="M1204.9 2061.4V2095.5M1204.9 2124.5V2124.5" stroke="#b8482a" stroke-width="1.3" fill="none"/><rect x="1190.4" y="2095.5" width="29" height="29" fill="#dc5b2f" stroke="#b8482a" stroke-width="1.1"/><path d="M1129.8 2006.9V2129.9H1233.7" class="sp"/><text x="1124.3" y="2128.4" class="k" style="font-size:10.75px" text-anchor="end">0.000</text><text x="1124.3" y="2091.2" class="k" style="font-size:10.75px" text-anchor="end">0.001</text><text x="1124.3" y="2054.1" class="k" style="font-size:10.75px" text-anchor="end">0.002</text><text x="1124.3" y="2017" class="k" style="font-size:10.75px" text-anchor="end">0.003</text><text x="1157.9" y="2146" class="k" style="font-size:10.75px" text-anchor="middle">NP</text><text x="1204.9" y="2146" class="k" style="font-size:10.75px" text-anchor="middle">RP</text><path d="M1129.8 2124.5h-4.5M1129.8 2087.4h-4.5M1129.8 2050.2h-4.5M1129.8 2013.1h-4.5M1157.9 2129.9v4.5M1204.9 2129.9v4.5" class="tk"/><circle cx="626.1" cy="2164.2" r="4.6" fill="#5a8060"/><text x="635.2" y="2168.3" class="t" style="font-size:11.5px">CD8_Teff_c</text><path d="M638.4 2300.2V2300.2M638.4 2300.2V2300.2" stroke="#21457e" stroke-width="1.3" fill="none"/><rect x="623.9" y="2300.2" width="29" height="0" fill="#449bcd" stroke="#21457e" stroke-width="1.1"/><path d="M685.4 2300.2V2300.2M685.4 2300.2V2300.2" stroke="#b8482a" stroke-width="1.3" fill="none"/><rect x="670.9" y="2300.2" width="29" height="0" fill="#dc5b2f" stroke="#b8482a" stroke-width="1.1"/><path d="M610.3 2182.6V2305.6H714.2" class="sp"/><text x="604.8" y="2304.1" class="k" style="font-size:10.75px" text-anchor="end">0.00000</text><text x="604.8" y="2276.1" class="k" style="font-size:10.75px" text-anchor="end">0.00025</text><text x="604.8" y="2248.1" class="k" style="font-size:10.75px" text-anchor="end">0.00050</text><text x="604.8" y="2220.1" class="k" style="font-size:10.75px" text-anchor="end">0.00075</text><text x="604.8" y="2192.1" class="k" style="font-size:10.75px" text-anchor="end">0.00100</text><text x="638.4" y="2321.7" class="k" style="font-size:10.75px" text-anchor="middle">NP</text><text x="685.4" y="2321.7" class="k" style="font-size:10.75px" text-anchor="middle">RP</text><path d="M610.3 2300.2h-4.5M610.3 2272.2h-4.5M610.3 2244.2h-4.5M610.3 2216.2h-4.5M610.3 2188.2h-4.5M638.4 2305.6v4.5M685.4 2305.6v4.5" class="tk"/><circle cx="804.2" cy="2164.2" r="4.6" fill="#c06050"/><text x="813.3" y="2168.3" class="t" style="font-size:11.5px">CD8_Tem</text><path d="M811.5 2226.1V2263.2M811.5 2289.1V2300.2" stroke="#21457e" stroke-width="1.3" fill="none"/><rect x="797" y="2263.2" width="29" height="25.9" fill="#449bcd" stroke="#21457e" stroke-width="1.1"/><path d="M858.5 2217.9V2256.2M858.5 2285.8V2300.2" stroke="#b8482a" stroke-width="1.3" fill="none"/><rect x="844" y="2256.2" width="29" height="29.6" fill="#dc5b2f" stroke="#b8482a" stroke-width="1.1"/><path d="M783.4 2182.6V2305.6H887.3" class="sp"/><text x="777.9" y="2304.1" class="k" style="font-size:10.75px" text-anchor="end">0.0</text><text x="777.9" y="2262.9" class="k" style="font-size:10.75px" text-anchor="end">0.1</text><text x="777.9" y="2221.8" class="k" style="font-size:10.75px" text-anchor="end">0.2</text><text x="811.5" y="2321.7" class="k" style="font-size:10.75px" text-anchor="middle">NP</text><text x="858.5" y="2321.7" class="k" style="font-size:10.75px" text-anchor="middle">RP</text><path d="M783.4 2300.2h-4.5M783.4 2259.1h-4.5M783.4 2217.9h-4.5M811.5 2305.6v4.5M858.5 2305.6v4.5" class="tk"/><circle cx="955.8" cy="2164.2" r="4.6" fill="#d0a060"/><text x="964.9" y="2168.3" class="t" style="font-size:11.5px">CD8_Tcm_GZMK</text><path d="M984.6 2206.7V2248.2M984.6 2277.7V2294.6" stroke="#21457e" stroke-width="1.3" fill="none"/><rect x="970.1" y="2248.2" width="29" height="29.5" fill="#449bcd" stroke="#21457e" stroke-width="1.1"/><path d="M1031.6 2229.9V2260.9M1031.6 2281.9V2300.2" stroke="#b8482a" stroke-width="1.3" fill="none"/><rect x="1017.1" y="2260.9" width="29" height="21.1" fill="#dc5b2f" stroke="#b8482a" stroke-width="1.1"/><path d="M956.5 2182.6V2305.6H1060.4" class="sp"/><text x="951" y="2304.1" class="k" style="font-size:10.75px" text-anchor="end">0.00</text><text x="951" y="2268.9" class="k" style="font-size:10.75px" text-anchor="end">0.05</text><text x="951" y="2233.8" class="k" style="font-size:10.75px" text-anchor="end">0.10</text><text x="951" y="2198.7" class="k" style="font-size:10.75px" text-anchor="end">0.15</text><text x="984.6" y="2321.7" class="k" style="font-size:10.75px" text-anchor="middle">NP</text><text x="1031.6" y="2321.7" class="k" style="font-size:10.75px" text-anchor="middle">RP</text><path d="M956.5 2300.2h-4.5M956.5 2265.1h-4.5M956.5 2229.9h-4.5M956.5 2194.8h-4.5M984.6 2305.6v4.5M1031.6 2305.6v4.5" class="tk"/><path d="M984.6 2200.3V2197H1031.6V2200.3" stroke="#333" stroke-width="1.1" fill="none"/><text x="1008.1" y="2194" class="s" text-anchor="middle">0.023</text><circle cx="1129.7" cy="2164.2" r="4.6" fill="#8a7058"/><text x="1138.8" y="2168.3" class="t" style="font-size:11.5px">CD8_Tem_NFKB</text><path d="M1157.5 2279.3V2289.7M1157.5 2300.2V2300.2" stroke="#21457e" stroke-width="1.3" fill="none"/><rect x="1143" y="2289.7" width="29" height="10.5" fill="#449bcd" stroke="#21457e" stroke-width="1.1"/><path d="M1204.5 2248.8V2279.3M1204.5 2300.2V2300.2" stroke="#b8482a" stroke-width="1.3" fill="none"/><rect x="1190" y="2279.3" width="29" height="20.9" fill="#dc5b2f" stroke="#b8482a" stroke-width="1.1"/><path d="M1129.4 2182.6V2305.6H1233.3" class="sp"/><text x="1123.9" y="2304.1" class="k" style="font-size:10.75px" text-anchor="end">0.00</text><text x="1123.9" y="2266" class="k" style="font-size:10.75px" text-anchor="end">0.02</text><text x="1123.9" y="2227.9" class="k" style="font-size:10.75px" text-anchor="end">0.04</text><text x="1123.9" y="2189.9" class="k" style="font-size:10.75px" text-anchor="end">0.06</text><text x="1157.5" y="2321.7" class="k" style="font-size:10.75px" text-anchor="middle">NP</text><text x="1204.5" y="2321.7" class="k" style="font-size:10.75px" text-anchor="middle">RP</text><path d="M1129.4 2300.2h-4.5M1129.4 2262.1h-4.5M1129.4 2224.1h-4.5M1129.4 2186h-4.5M1157.5 2305.6v4.5M1204.5 2305.6v4.5" class="tk"/><circle cx="76.1" cy="2339.7" r="4.6" fill="#98a058"/><text x="85.2" y="2343.8" class="t" style="font-size:11.5px">CD8_T_adp</text><path d="M89.3 2424.4V2450.9M89.3 2468.3V2475.7" stroke="#21457e" stroke-width="1.3" fill="none"/><rect x="74.8" y="2450.9" width="29" height="17.4" fill="#449bcd" stroke="#21457e" stroke-width="1.1"/><path d="M136.3 2382.2V2433.5M136.3 2468.3V2475.7" stroke="#b8482a" stroke-width="1.3" fill="none"/><rect x="121.8" y="2433.5" width="29" height="34.7" fill="#dc5b2f" stroke="#b8482a" stroke-width="1.1"/><path d="M61.2 2358.1V2481.1H165.1" class="sp"/><text x="55.7" y="2479.6" class="k" style="font-size:10.75px" text-anchor="end">0.00</text><text x="55.7" y="2438.2" class="k" style="font-size:10.75px" text-anchor="end">0.05</text><text x="55.7" y="2396.9" class="k" style="font-size:10.75px" text-anchor="end">0.10</text><text x="89.3" y="2497.2" class="k" style="font-size:10.75px" text-anchor="middle">NP</text><text x="136.3" y="2497.2" class="k" style="font-size:10.75px" text-anchor="middle">RP</text><path d="M61.2 2475.7h-4.5M61.2 2434.3h-4.5M61.2 2393h-4.5M89.3 2481.1v4.5M136.3 2481.1v4.5" class="tk"/><circle cx="257" cy="2339.7" r="4.6" fill="#a06068"/><text x="266.1" y="2343.8" class="t" style="font-size:11.5px">CD8_T_adp_b</text><path d="M277.2 2475.7V2475.7M277.2 2475.7V2475.7" stroke="#21457e" stroke-width="1.3" fill="none"/><rect x="262.7" y="2475.7" width="29" height="0" fill="#449bcd" stroke="#21457e" stroke-width="1.1"/><path d="M324.2 2475.7V2475.7M324.2 2475.7V2475.7" stroke="#b8482a" stroke-width="1.3" fill="none"/><rect x="309.7" y="2475.7" width="29" height="0" fill="#dc5b2f" stroke="#b8482a" stroke-width="1.1"/><path d="M249.1 2358.1V2481.1H353" class="sp"/><text x="243.6" y="2479.6" class="k" style="font-size:10.75px" text-anchor="end">0.00000</text><text x="243.6" y="2451.6" class="k" style="font-size:10.75px" text-anchor="end">0.00025</text><text x="243.6" y="2423.6" class="k" style="font-size:10.75px" text-anchor="end">0.00050</text><text x="243.6" y="2395.6" class="k" style="font-size:10.75px" text-anchor="end">0.00075</text><text x="243.6" y="2367.7" class="k" style="font-size:10.75px" text-anchor="end">0.00100</text><text x="277.2" y="2497.2" class="k" style="font-size:10.75px" text-anchor="middle">NP</text><text x="324.2" y="2497.2" class="k" style="font-size:10.75px" text-anchor="middle">RP</text><path d="M249.1 2475.7h-4.5M249.1 2447.7h-4.5M249.1 2419.8h-4.5M249.1 2391.8h-4.5M249.1 2363.8h-4.5M277.2 2481.1v4.5M324.2 2481.1v4.5" class="tk"/><circle cx="447.8" cy="2339.7" r="4.6" fill="#7a5070"/><text x="456.9" y="2343.8" class="t" style="font-size:11.5px">CD8_Tn</text><path d="M450.1 2388.3V2429.2M450.1 2460.7V2472.2" stroke="#21457e" stroke-width="1.3" fill="none"/><rect x="435.6" y="2429.2" width="29" height="31.5" fill="#449bcd" stroke="#21457e" stroke-width="1.1"/><path d="M497.1 2415.8V2446.2M497.1 2466.2V2475.7" stroke="#b8482a" stroke-width="1.3" fill="none"/><rect x="482.6" y="2446.2" width="29" height="20" fill="#dc5b2f" stroke="#b8482a" stroke-width="1.1"/><path d="M422 2358.1V2481.1H525.9" class="sp"/><text x="416.5" y="2479.6" class="k" style="font-size:10.75px" text-anchor="end">0.00</text><text x="416.5" y="2454.6" class="k" style="font-size:10.75px" text-anchor="end">0.05</text><text x="416.5" y="2429.6" class="k" style="font-size:10.75px" text-anchor="end">0.10</text><text x="416.5" y="2404.6" class="k" style="font-size:10.75px" text-anchor="end">0.15</text><text x="416.5" y="2379.7" class="k" style="font-size:10.75px" text-anchor="end">0.20</text><text x="450.1" y="2497.2" class="k" style="font-size:10.75px" text-anchor="middle">NP</text><text x="497.1" y="2497.2" class="k" style="font-size:10.75px" text-anchor="middle">RP</text><path d="M422 2475.7h-4.5M422 2450.7h-4.5M422 2425.8h-4.5M422 2400.8h-4.5M422 2375.8h-4.5M450.1 2481.1v4.5M497.1 2481.1v4.5" class="tk"/><path d="M450.1 2377.7V2374.2H497.1V2378.5" stroke="#333" stroke-width="1.1" fill="none"/><text x="473.6" y="2371.2" class="s" text-anchor="middle">0.015</text><circle cx="636" cy="2339.7" r="4.6" fill="#e08830"/><text x="645.1" y="2343.8" class="t" style="font-size:11.5px">CD4_Tn</text><path d="M638.3 2393.8V2417.2M638.3 2449.4V2471.3" stroke="#21457e" stroke-width="1.3" fill="none"/><rect x="623.8" y="2417.2" width="29" height="32.2" fill="#449bcd" stroke="#21457e" stroke-width="1.1"/><path d="M685.3 2389.4V2425.9M685.3 2454.5V2472.8" stroke="#b8482a" stroke-width="1.3" fill="none"/><rect x="670.8" y="2425.9" width="29" height="28.5" fill="#dc5b2f" stroke="#b8482a" stroke-width="1.1"/><path d="M610.2 2358.1V2481.1H714.1" class="sp"/><text x="604.7" y="2479.6" class="k" style="font-size:10.75px" text-anchor="end">0.0</text><text x="604.7" y="2450.3" class="k" style="font-size:10.75px" text-anchor="end">0.2</text><text x="604.7" y="2421" class="k" style="font-size:10.75px" text-anchor="end">0.4</text><text x="604.7" y="2391.8" class="k" style="font-size:10.75px" text-anchor="end">0.6</text><text x="638.3" y="2497.2" class="k" style="font-size:10.75px" text-anchor="middle">NP</text><text x="685.3" y="2497.2" class="k" style="font-size:10.75px" text-anchor="middle">RP</text><path d="M610.2 2475.7h-4.5M610.2 2446.4h-4.5M610.2 2417.2h-4.5M610.2 2387.9h-4.5M638.3 2481.1v4.5M685.3 2481.1v4.5" class="tk"/><circle cx="780.9" cy="2339.7" r="4.6" fill="#90d850"/><text x="790" y="2343.8" class="t" style="font-size:11.5px">CD4_Tcm_KLRB1</text><path d="M811.5 2388.4V2428M811.5 2459.4V2475.7" stroke="#21457e" stroke-width="1.3" fill="none"/><rect x="797" y="2428" width="29" height="31.4" fill="#449bcd" stroke="#21457e" stroke-width="1.1"/><path d="M858.5 2408.6V2436.1M858.5 2459.1V2475.7" stroke="#b8482a" stroke-width="1.3" fill="none"/><rect x="844" y="2436.1" width="29" height="23" fill="#dc5b2f" stroke="#b8482a" stroke-width="1.1"/><path d="M783.4 2358.1V2481.1H887.3" class="sp"/><text x="777.9" y="2479.6" class="k" style="font-size:10.75px" text-anchor="end">0.0</text><text x="777.9" y="2444.2" class="k" style="font-size:10.75px" text-anchor="end">0.1</text><text x="777.9" y="2408.9" class="k" style="font-size:10.75px" text-anchor="end">0.2</text><text x="777.9" y="2373.6" class="k" style="font-size:10.75px" text-anchor="end">0.3</text><text x="811.5" y="2497.2" class="k" style="font-size:10.75px" text-anchor="middle">NP</text><text x="858.5" y="2497.2" class="k" style="font-size:10.75px" text-anchor="middle">RP</text><path d="M783.4 2475.7h-4.5M783.4 2440.4h-4.5M783.4 2405h-4.5M783.4 2369.7h-4.5M811.5 2481.1v4.5M858.5 2481.1v4.5" class="tk"/><circle cx="978.6" cy="2339.7" r="4.6" fill="#d060c8"/><text x="987.7" y="2343.8" class="t" style="font-size:11.5px">CD4_Teff</text><path d="M984.6 2395.6V2427.6M984.6 2457V2475.7" stroke="#21457e" stroke-width="1.3" fill="none"/><rect x="970.1" y="2427.6" width="29" height="29.4" fill="#449bcd" stroke="#21457e" stroke-width="1.1"/><path d="M1031.6 2392.9V2424.1M1031.6 2459.7V2475.7" stroke="#b8482a" stroke-width="1.3" fill="none"/><rect x="1017.1" y="2424.1" width="29" height="35.6" fill="#dc5b2f" stroke="#b8482a" stroke-width="1.1"/><path d="M956.5 2358.1V2481.1H1060.4" class="sp"/><text x="951" y="2479.6" class="k" style="font-size:10.75px" text-anchor="end">0.00</text><text x="951" y="2444" class="k" style="font-size:10.75px" text-anchor="end">0.04</text><text x="951" y="2408.4" class="k" style="font-size:10.75px" text-anchor="end">0.08</text><text x="951" y="2372.8" class="k" style="font-size:10.75px" text-anchor="end">0.12</text><text x="984.6" y="2497.2" class="k" style="font-size:10.75px" text-anchor="middle">NP</text><text x="1031.6" y="2497.2" class="k" style="font-size:10.75px" text-anchor="middle">RP</text><path d="M956.5 2475.7h-4.5M956.5 2440.1h-4.5M956.5 2404.5h-4.5M956.5 2368.9h-4.5M984.6 2481.1v4.5M1031.6 2481.1v4.5" class="tk"/><circle cx="1123.6" cy="2339.7" r="4.6" fill="#2a8060"/><text x="1132.7" y="2343.8" class="t" style="font-size:11.5px">CD4_Tcm_NFKBIA</text><path d="M1157.5 2457.6V2467.2M1157.5 2475.7V2475.7" stroke="#21457e" stroke-width="1.3" fill="none"/><rect x="1143" y="2467.2" width="29" height="8.5" fill="#449bcd" stroke="#21457e" stroke-width="1.1"/><path d="M1204.5 2453V2465.5M1204.5 2475.7V2475.7" stroke="#b8482a" stroke-width="1.3" fill="none"/><rect x="1190" y="2465.5" width="29" height="10.2" fill="#dc5b2f" stroke="#b8482a" stroke-width="1.1"/><path d="M1129.4 2358.1V2481.1H1233.3" class="sp"/><text x="1123.9" y="2479.6" class="k" style="font-size:10.75px" text-anchor="end">0.000</text><text x="1123.9" y="2451.2" class="k" style="font-size:10.75px" text-anchor="end">0.025</text><text x="1123.9" y="2422.9" class="k" style="font-size:10.75px" text-anchor="end">0.050</text><text x="1123.9" y="2394.6" class="k" style="font-size:10.75px" text-anchor="end">0.075</text><text x="1123.9" y="2366.3" class="k" style="font-size:10.75px" text-anchor="end">0.100</text><text x="1157.5" y="2497.2" class="k" style="font-size:10.75px" text-anchor="middle">NP</text><text x="1204.5" y="2497.2" class="k" style="font-size:10.75px" text-anchor="middle">RP</text><path d="M1129.4 2475.7h-4.5M1129.4 2447.4h-4.5M1129.4 2419.1h-4.5M1129.4 2390.7h-4.5M1129.4 2362.4h-4.5M1157.5 2481.1v4.5M1204.5 2481.1v4.5" class="tk"/><circle cx="68.2" cy="2516" r="4.6" fill="#d0a828"/><text x="77.3" y="2520.1" class="t" style="font-size:11.5px">CD4_Tem_IFN</text><path d="M89.3 2607.6V2633.8M89.3 2652V2652" stroke="#21457e" stroke-width="1.3" fill="none"/><rect x="74.8" y="2633.8" width="29" height="18.2" fill="#449bcd" stroke="#21457e" stroke-width="1.1"/><path d="M136.3 2620.3V2635.9M136.3 2652V2652" stroke="#b8482a" stroke-width="1.3" fill="none"/><rect x="121.8" y="2635.9" width="29" height="16.1" fill="#dc5b2f" stroke="#b8482a" stroke-width="1.1"/><path d="M61.2 2534.4V2657.4H165.1" class="sp"/><text x="55.7" y="2655.9" class="k" style="font-size:10.75px" text-anchor="end">0.00</text><text x="55.7" y="2613.6" class="k" style="font-size:10.75px" text-anchor="end">0.01</text><text x="55.7" y="2571.4" class="k" style="font-size:10.75px" text-anchor="end">0.02</text><text x="89.3" y="2673.5" class="k" style="font-size:10.75px" text-anchor="middle">NP</text><text x="136.3" y="2673.5" class="k" style="font-size:10.75px" text-anchor="middle">RP</text><path d="M61.2 2652h-4.5M61.2 2609.8h-4.5M61.2 2567.5h-4.5M89.3 2657.4v4.5M136.3 2657.4v4.5" class="tk"/><path d="M89.3 2567V2550.8H136.3V2567" stroke="#333" stroke-width="1.1" fill="none"/><text x="112.8" y="2547.8" class="s" text-anchor="middle">0.011</text><circle cx="274.9" cy="2516" r="4.6" fill="#3a88c8"/><text x="284" y="2520.1" class="t" style="font-size:11.5px">CD4_Th</text><path d="M277.2 2558.1V2609.7M277.2 2644.3V2652" stroke="#21457e" stroke-width="1.3" fill="none"/><rect x="262.7" y="2609.7" width="29" height="34.6" fill="#449bcd" stroke="#21457e" stroke-width="1.1"/><path d="M324.2 2590.5V2618.9M324.2 2646.6V2652" stroke="#b8482a" stroke-width="1.3" fill="none"/><rect x="309.7" y="2618.9" width="29" height="27.7" fill="#dc5b2f" stroke="#b8482a" stroke-width="1.1"/><path d="M249.1 2534.4V2657.4H353" class="sp"/><text x="243.6" y="2655.9" class="k" style="font-size:10.75px" text-anchor="end">0.000</text><text x="243.6" y="2617.4" class="k" style="font-size:10.75px" text-anchor="end">0.005</text><text x="243.6" y="2578.9" class="k" style="font-size:10.75px" text-anchor="end">0.010</text><text x="243.6" y="2540.5" class="k" style="font-size:10.75px" text-anchor="end">0.015</text><text x="277.2" y="2673.5" class="k" style="font-size:10.75px" text-anchor="middle">NP</text><text x="324.2" y="2673.5" class="k" style="font-size:10.75px" text-anchor="middle">RP</text><path d="M249.1 2652h-4.5M249.1 2613.5h-4.5M249.1 2575.1h-4.5M249.1 2536.6h-4.5M277.2 2657.4v4.5M324.2 2657.4v4.5" class="tk"/><circle cx="428.6" cy="2516" r="4.6" fill="#7040a8"/><text x="437.7" y="2520.1" class="t" style="font-size:11.5px">CD4_Teff_TNF</text><path d="M450.1 2617.1V2635.1M450.1 2652V2652" stroke="#21457e" stroke-width="1.3" fill="none"/><rect x="435.6" y="2635.1" width="29" height="16.9" fill="#449bcd" stroke="#21457e" stroke-width="1.1"/><path d="M497.1 2634.6V2644.3M497.1 2652V2652" stroke="#b8482a" stroke-width="1.3" fill="none"/><rect x="482.6" y="2644.3" width="29" height="7.7" fill="#dc5b2f" stroke="#b8482a" stroke-width="1.1"/><path d="M422 2534.4V2657.4H525.9" class="sp"/><text x="416.5" y="2655.9" class="k" style="font-size:10.75px" text-anchor="end">0.000</text><text x="416.5" y="2626.8" class="k" style="font-size:10.75px" text-anchor="end">0.003</text><text x="416.5" y="2597.8" class="k" style="font-size:10.75px" text-anchor="end">0.006</text><text x="416.5" y="2568.7" class="k" style="font-size:10.75px" text-anchor="end">0.009</text><text x="416.5" y="2539.7" class="k" style="font-size:10.75px" text-anchor="end">0.012</text><text x="450.1" y="2673.5" class="k" style="font-size:10.75px" text-anchor="middle">NP</text><text x="497.1" y="2673.5" class="k" style="font-size:10.75px" text-anchor="middle">RP</text><path d="M422 2652h-4.5M422 2622.9h-4.5M422 2593.9h-4.5M422 2564.9h-4.5M422 2535.8h-4.5M450.1 2657.4v4.5M497.1 2657.4v4.5" class="tk"/><circle cx="617.7" cy="2516" r="4.6" fill="#5868b8"/><text x="626.8" y="2520.1" class="t" style="font-size:11.5px">CD4_Tcm_IFN</text><path d="M638.3 2602.4V2626.4M638.3 2647.1V2652" stroke="#21457e" stroke-width="1.3" fill="none"/><rect x="623.8" y="2626.4" width="29" height="20.8" fill="#449bcd" stroke="#21457e" stroke-width="1.1"/><path d="M685.3 2611.3V2629.9M685.3 2647.1V2652" stroke="#b8482a" stroke-width="1.3" fill="none"/><rect x="670.8" y="2629.9" width="29" height="17.3" fill="#dc5b2f" stroke="#b8482a" stroke-width="1.1"/><path d="M610.2 2534.4V2657.4H714.1" class="sp"/><text x="604.7" y="2655.9" class="k" style="font-size:10.75px" text-anchor="end">0.00</text><text x="604.7" y="2628.9" class="k" style="font-size:10.75px" text-anchor="end">0.01</text><text x="604.7" y="2601.9" class="k" style="font-size:10.75px" text-anchor="end">0.02</text><text x="604.7" y="2574.9" class="k" style="font-size:10.75px" text-anchor="end">0.03</text><text x="604.7" y="2548" class="k" style="font-size:10.75px" text-anchor="end">0.04</text><text x="638.3" y="2673.5" class="k" style="font-size:10.75px" text-anchor="middle">NP</text><text x="685.3" y="2673.5" class="k" style="font-size:10.75px" text-anchor="middle">RP</text><path d="M610.2 2652h-4.5M610.2 2625h-4.5M610.2 2598.1h-4.5M610.2 2571.1h-4.5M610.2 2544.1h-4.5M638.3 2657.4v4.5M685.3 2657.4v4.5" class="tk"/><path d="M638.3 2582.2V2550.8H685.3V2582.2" stroke="#333" stroke-width="1.1" fill="none"/><text x="661.8" y="2547.8" class="s" text-anchor="middle">0.024</text><circle cx="805.4" cy="2516" r="4.6" fill="#e05858"/><text x="814.5" y="2520.1" class="t" style="font-size:11.5px">CD4_CTL</text><path d="M811.5 2628.2V2641.4M811.5 2652V2652" stroke="#21457e" stroke-width="1.3" fill="none"/><rect x="797" y="2641.4" width="29" height="10.6" fill="#449bcd" stroke="#21457e" stroke-width="1.1"/><path d="M858.5 2609.1V2631.1M858.5 2652V2652" stroke="#b8482a" stroke-width="1.3" fill="none"/><rect x="844" y="2631.1" width="29" height="20.9" fill="#dc5b2f" stroke="#b8482a" stroke-width="1.1"/><path d="M783.4 2534.4V2657.4H887.3" class="sp"/><text x="777.9" y="2655.9" class="k" style="font-size:10.75px" text-anchor="end">0.00</text><text x="777.9" y="2629.4" class="k" style="font-size:10.75px" text-anchor="end">0.02</text><text x="777.9" y="2602.9" class="k" style="font-size:10.75px" text-anchor="end">0.04</text><text x="777.9" y="2576.4" class="k" style="font-size:10.75px" text-anchor="end">0.06</text><text x="777.9" y="2549.9" class="k" style="font-size:10.75px" text-anchor="end">0.08</text><text x="811.5" y="2673.5" class="k" style="font-size:10.75px" text-anchor="middle">NP</text><text x="858.5" y="2673.5" class="k" style="font-size:10.75px" text-anchor="middle">RP</text><path d="M783.4 2652h-4.5M783.4 2625.5h-4.5M783.4 2599h-4.5M783.4 2572.5h-4.5M783.4 2546h-4.5M811.5 2657.4v4.5M858.5 2657.4v4.5" class="tk"/><circle cx="963.9" cy="2516" r="4.6" fill="#c040b0"/><text x="973" y="2520.1" class="t" style="font-size:11.5px">CD4_Th_LEF1</text><path d="M984.6 2559.2V2603.7M984.6 2635.1V2652" stroke="#21457e" stroke-width="1.3" fill="none"/><rect x="970.1" y="2603.7" width="29" height="31.4" fill="#449bcd" stroke="#21457e" stroke-width="1.1"/><path d="M1031.6 2570.4V2610.4M1031.6 2639.2V2649.6" stroke="#b8482a" stroke-width="1.3" fill="none"/><rect x="1017.1" y="2610.4" width="29" height="28.8" fill="#dc5b2f" stroke="#b8482a" stroke-width="1.1"/><path d="M956.5 2534.4V2657.4H1060.4" class="sp"/><text x="951" y="2655.9" class="k" style="font-size:10.75px" text-anchor="end">0.00</text><text x="951" y="2615.9" class="k" style="font-size:10.75px" text-anchor="end">0.05</text><text x="951" y="2575.9" class="k" style="font-size:10.75px" text-anchor="end">0.10</text><text x="984.6" y="2673.5" class="k" style="font-size:10.75px" text-anchor="middle">NP</text><text x="1031.6" y="2673.5" class="k" style="font-size:10.75px" text-anchor="middle">RP</text><path d="M956.5 2652h-4.5M956.5 2612h-4.5M956.5 2572h-4.5M984.6 2657.4v4.5M1031.6 2657.4v4.5" class="tk"/><circle cx="1165" cy="2516" r="4.6" fill="#60c8a0"/><text x="1174.1" y="2520.1" class="t" style="font-size:11.5px">Treg</text><path d="M1157.5 2569.1V2595.2M1157.5 2616.6V2646.7" stroke="#21457e" stroke-width="1.3" fill="none"/><rect x="1143" y="2595.2" width="29" height="21.4" fill="#449bcd" stroke="#21457e" stroke-width="1.1"/><path d="M1204.5 2571.8V2596.7M1204.5 2623.2V2646.5" stroke="#b8482a" stroke-width="1.3" fill="none"/><rect x="1190" y="2596.7" width="29" height="26.5" fill="#dc5b2f" stroke="#b8482a" stroke-width="1.1"/><path d="M1129.4 2534.4V2657.4H1233.3" class="sp"/><text x="1123.9" y="2655.9" class="k" style="font-size:10.75px" text-anchor="end">0.00</text><text x="1123.9" y="2628.2" class="k" style="font-size:10.75px" text-anchor="end">0.02</text><text x="1123.9" y="2600.6" class="k" style="font-size:10.75px" text-anchor="end">0.04</text><text x="1123.9" y="2572.9" class="k" style="font-size:10.75px" text-anchor="end">0.06</text><text x="1123.9" y="2545.3" class="k" style="font-size:10.75px" text-anchor="end">0.08</text><text x="1157.5" y="2673.5" class="k" style="font-size:10.75px" text-anchor="middle">NP</text><text x="1204.5" y="2673.5" class="k" style="font-size:10.75px" text-anchor="middle">RP</text><path d="M1129.4 2652h-4.5M1129.4 2624.3h-4.5M1129.4 2596.7h-4.5M1129.4 2569.1h-4.5M1129.4 2541.4h-4.5M1157.5 2657.4v4.5M1204.5 2657.4v4.5" class="tk"/><text x="291.4" y="1159" class="t" style="font-size:14.6px" text-anchor="middle">Differential Abundance, B Cells</text><text x="51.9" y="1185.7" class="t" style="font-size:14.8px;fill:#2a2d78">NP Enriched</text><text x="535.4" y="1185.7" class="t" style="font-size:14.8px;fill:#c0392b" text-anchor="end">RP Enriched</text><path d="M46.1 1174.2V1559.2H536.4" class="sp"/><path d="M291.4 1174.2V1559.2M46.1 1363.1H536.4" stroke="#000" stroke-width="1.6" fill="none"/><text x="63.9" y="1577" class="kr" style="font-size:12.0px" text-anchor="middle">-0.4</text><text x="177.7" y="1577" class="kr" style="font-size:12.0px" text-anchor="middle">-0.2</text><text x="291.4" y="1577" class="kr" style="font-size:12.0px" text-anchor="middle">0.0</text><text x="404.8" y="1577" class="kr" style="font-size:12.0px" text-anchor="middle">0.2</text><text x="518.3" y="1577" class="kr" style="font-size:12.0px" text-anchor="middle">0.4</text><text x="40.1" y="1533.1" class="kr" style="font-size:12.0px" text-anchor="end">0</text><text x="40.1" y="1405.7" class="kr" style="font-size:12.0px" text-anchor="end">1</text><text x="40.1" y="1278.6" class="kr" style="font-size:12.0px" text-anchor="end">2</text><path d="M63.9 1559.2v4.5M177.7 1559.2v4.5M291.4 1559.2v4.5M404.8 1559.2v4.5M518.3 1559.2v4.5M46.1 1528.8h-4.5M46.1 1401.4h-4.5M46.1 1274.3h-4.5" class="tk"/><text x="291.2" y="1595.4" class="t" style="font-size:12.2px" text-anchor="middle">Adjusted Log-Odds Ratio</text><text transform="translate(18.8 1367.2) rotate(-90)" class="t" style="font-size:12.2px" text-anchor="middle" y="4.4">-log10 P Value</text><circle cx="101.5" cy="1222.7" r="2.3" fill="#9c9c2c"/><circle cx="88.8" cy="1378.5" r="2.3" fill="#4a88c8"/><circle cx="142.8" cy="1392.5" r="2.3" fill="#9050b0"/><circle cx="490.3" cy="1377.5" r="2.3" fill="#d03ca0"/><circle cx="399.7" cy="1421.9" r="2.3" fill="#80d450"/><circle cx="351.9" cy="1430.4" r="2.3" fill="#5088b0"/><circle cx="228.2" cy="1489.5" r="2.3" fill="#c04070"/><circle cx="334.1" cy="1496.7" r="2.3" fill="#e08830"/><rect x="98" y="1205" width="35.9" height="12.9" rx="2.2" fill="#9c9c2c" fill-opacity="0.92"/><text x="116" y="1215" class="lb" style="font-size:9.8px" fill="#fff" text-anchor="middle">B_trns</text><rect x="80.3" y="1361.1" width="45.4" height="12.3" rx="2.2" fill="#4a88c8" fill-opacity="0.92"/><text x="103" y="1370.8" class="lb" style="font-size:9.8px" fill="#fff" text-anchor="middle">B_naive</text><rect x="136.7" y="1397.3" width="39.9" height="12.6" rx="2.2" fill="#9050b0" fill-opacity="0.92"/><text x="156.6" y="1407.1" class="lb" style="font-size:9.8px" fill="#fff" text-anchor="middle">B_imm</text><rect x="454.4" y="1382.6" width="43.4" height="12.6" rx="2.2" fill="#d03ca0" fill-opacity="0.92"/><text x="476.1" y="1392.4" class="lb" style="font-size:9.8px" fill="#fff" text-anchor="middle">B_mem</text><rect x="389.5" y="1404.8" width="49.2" height="12.7" rx="2.2" fill="#80d450" fill-opacity="0.92"/><text x="414.1" y="1414.7" class="lb" style="font-size:9.8px" fill="#fff" text-anchor="middle">B_preSm</text><rect x="315" y="1435.6" width="45.1" height="12.6" rx="2.2" fill="#5088b0" fill-opacity="0.92"/><text x="337.6" y="1445.4" class="lb" style="font-size:9.8px" fill="#fff" text-anchor="middle">B_preLg</text><rect x="190.3" y="1472.1" width="104.5" height="13" rx="2.2" fill="#c04070" fill-opacity="0.92"/><text x="242.6" y="1482.1" class="lb" style="font-size:9.8px" fill="#fff" text-anchor="middle">B_Unswitched_mem</text><rect x="303.4" y="1501.5" width="33.8" height="13" rx="2.2" fill="#e08830" fill-opacity="0.92"/><text x="320.3" y="1511.5" class="lb" style="font-size:9.8px" fill="#fff" text-anchor="middle">B_pro</text><text x="1187.3" y="1158.7" class="t" style="font-size:14.6px" text-anchor="middle">Differential Abundance, Myeloid Cells</text><text x="959.8" y="1185.3" class="t" style="font-size:14.8px;fill:#2a2d78">NP Enriched</text><text x="1419" y="1185.3" class="t" style="font-size:14.8px;fill:#c0392b" text-anchor="end">RP Enriched</text><path d="M955 1174.1V1548.6H1420.6" class="sp"/><path d="M1186.8 1174.1V1548.6M955 1347.1H1420.6" stroke="#000" stroke-width="1.6" fill="none"/><text x="1068.1" y="1565.9" class="k" style="font-size:10.6px" text-anchor="middle">-0.25</text><text x="1186.8" y="1565.9" class="k" style="font-size:10.6px" text-anchor="middle">0.00</text><text x="1305.8" y="1565.9" class="k" style="font-size:10.6px" text-anchor="middle">0.25</text><text x="949" y="1522.3" class="k" style="font-size:10.6px" text-anchor="end">0.0</text><text x="949" y="1456.3" class="k" style="font-size:10.6px" text-anchor="end">0.5</text><text x="949" y="1390.7" class="k" style="font-size:10.6px" text-anchor="end">1.0</text><text x="949" y="1324.4" class="k" style="font-size:10.6px" text-anchor="end">1.5</text><text x="949" y="1258.8" class="k" style="font-size:10.6px" text-anchor="end">2.0</text><text x="949" y="1192.8" class="k" style="font-size:10.6px" text-anchor="end">2.5</text><path d="M1068.1 1548.6v4.5M1186.8 1548.6v4.5M1305.8 1548.6v4.5M955 1518.5h-4.5M955 1452.5h-4.5M955 1386.9h-4.5M955 1320.6h-4.5M955 1255h-4.5M955 1189h-4.5" class="tk"/><text x="1187.8" y="1584.4" class="t" style="font-size:12.2px" text-anchor="middle">Adjusted Log-Odds Ratio</text><text transform="translate(915.5 1361) rotate(-90)" class="t" style="font-size:12.2px" text-anchor="middle" y="4.4">-log10 P Value</text><circle cx="1379.5" cy="1220.7" r="2.3" fill="#5cc090"/><circle cx="1014.8" cy="1309.3" r="2.3" fill="#80d050"/><circle cx="1184.6" cy="1422.5" r="2.3" fill="#a0a030"/><circle cx="1246.6" cy="1426.7" r="2.3" fill="#e08830"/><circle cx="1244.4" cy="1432.2" r="2.3" fill="#4a88c8"/><circle cx="1174.2" cy="1466.1" r="2.3" fill="#6a48b0"/><circle cx="1148.3" cy="1467.1" r="2.3" fill="#887080"/><circle cx="1107.9" cy="1469.4" r="2.3" fill="#8aa860"/><circle cx="1146.7" cy="1482.9" r="2.3" fill="#e04050"/><circle cx="1135.1" cy="1481.6" r="2.3" fill="#b88078"/><circle cx="1203" cy="1489.4" r="2.3" fill="#d040b0"/><circle cx="1174.9" cy="1497.8" r="2.3" fill="#c04868"/><circle cx="1166.1" cy="1502.7" r="2.3" fill="#9858b8"/><circle cx="1172.3" cy="1505.6" r="2.3" fill="#5898b8"/><circle cx="1176.5" cy="1500" r="2.3" fill="#2a8a68"/><path d="M1141.9 1461.3L1148.3 1467.1M1088.5 1493.6L1135.1 1481.6M1188.8 1484L1174.9 1497.8M1128 1513.6L1166.1 1502.7M1178.1 1510.4L1174.9 1500M1194.9 1534.7L1186.2 1524.3M1186.2 1524.3L1176.5 1500" stroke="#111" stroke-width="1.1" fill="none"/><rect x="1352.1" y="1203.5" width="64.3" height="12.7" rx="2.2" fill="#5cc090" fill-opacity="0.92"/><text x="1384.2" y="1213.4" class="lb" style="font-size:9.8px" fill="#fff" text-anchor="middle">Macro/Mono</text><rect x="985.7" y="1292.1" width="85.7" height="12.3" rx="2.2" fill="#80d050" fill-opacity="0.92"/><text x="1028.6" y="1301.8" class="lb" style="font-size:9.8px" fill="#fff" text-anchor="middle">CD14+Mono_IFN</text><rect x="1150.6" y="1405.7" width="42" height="12.6" rx="2.2" fill="#a0a030" fill-opacity="0.92"/><text x="1171.6" y="1415.5" class="lb" style="font-size:9.8px" fill="#fff" text-anchor="middle">pDCs_b</text><rect x="1246" y="1409.5" width="28.1" height="12.3" rx="2.2" fill="#e08830" fill-opacity="0.92"/><text x="1260" y="1419.2" class="lb" style="font-size:9.8px" fill="#fff" text-anchor="middle">GMP</text><rect x="1182" y="1437" width="98.9" height="12.3" rx="2.2" fill="#4a88c8" fill-opacity="0.92"/><text x="1231.5" y="1446.7" class="lb" style="font-size:9.8px" fill="#fff" text-anchor="middle">Neutrophil_RPS/RPL</text><rect x="1101.1" y="1448.3" width="64.4" height="12.3" rx="2.2" fill="#887080" fill-opacity="0.92"/><text x="1133.3" y="1458" class="lb" style="font-size:9.8px" fill="#fff" text-anchor="middle">Granulocyte</text><rect x="1172.3" y="1449" width="31" height="12.3" rx="2.2" fill="#6a48b0" fill-opacity="0.92"/><text x="1187.8" y="1458.7" class="lb" style="font-size:9.8px" fill="#fff" text-anchor="middle">cDC1</text><rect x="1008.3" y="1467.7" width="94.8" height="13" rx="2.2" fill="#8aa860" fill-opacity="0.92"/><text x="1055.7" y="1477.7" class="lb" style="font-size:9.8px" fill="#fff" text-anchor="middle">CD14+Mono_hypo</text><rect x="1168.4" y="1470.3" width="86.3" height="12.7" rx="2.2" fill="#c04868" fill-opacity="0.92"/><text x="1211.6" y="1480.2" class="lb" style="font-size:9.8px" fill="#fff" text-anchor="middle">Neutrophil_ARG1</text><rect x="992.8" y="1488.1" width="95.7" height="12.6" rx="2.2" fill="#b88078" fill-opacity="0.92"/><text x="1040.7" y="1497.9" class="lb" style="font-size:9.8px" fill="#fff" text-anchor="middle">CD14+Mono_CTSS</text><rect x="1095" y="1488.1" width="66.3" height="12.6" rx="2.2" fill="#e04050" fill-opacity="0.92"/><text x="1128.2" y="1497.9" class="lb" style="font-size:9.8px" fill="#fff" text-anchor="middle">CD16+Mono</text><rect x="1207.2" y="1490.4" width="54" height="12.3" rx="2.2" fill="#d040b0" fill-opacity="0.92"/><text x="1234.2" y="1500.1" class="lb" style="font-size:9.8px" fill="#fff" text-anchor="middle">M2_Macro</text><rect x="1008.3" y="1508.2" width="119.7" height="12.3" rx="2.2" fill="#9858b8" fill-opacity="0.92"/><text x="1068.2" y="1517.9" class="lb" style="font-size:9.8px" fill="#fff" text-anchor="middle">CD14+Mono_pro-inflam</text><rect x="1134.4" y="1510.4" width="101.9" height="12.3" rx="2.2" fill="#5898b8" fill-opacity="0.92"/><text x="1185.3" y="1520.1" class="lb" style="font-size:9.8px" fill="#fff" text-anchor="middle">CD14+Mono_S100A</text><rect x="1194.9" y="1530.2" width="30.7" height="12.6" rx="2.2" fill="#2a8a68" fill-opacity="0.92"/><text x="1210.2" y="1540" class="lb" style="font-size:9.8px" fill="#fff" text-anchor="middle">cDC2</text><text x="292.8" y="1877.3" class="t" style="font-size:14.6px" text-anchor="middle">Differential Abundance, CD3+ Cells</text><text x="53.6" y="1903.9" class="t" style="font-size:14.8px;fill:#2a2d78">NP Enriched</text><text x="537.1" y="1903.9" class="t" style="font-size:14.8px;fill:#c0392b" text-anchor="end">RP Enriched</text><path d="M47.8 1892.5V2276.8H538.1" class="sp"/><path d="M292.8 1892.5V2276.8M47.8 2119H538.1" stroke="#000" stroke-width="1.6" fill="none"/><text x="61.5" y="2294.6" class="kr" style="font-size:12.0px" text-anchor="middle">-0.50</text><text x="177" y="2294.6" class="kr" style="font-size:12.0px" text-anchor="middle">-0.25</text><text x="292.8" y="2294.6" class="kr" style="font-size:12.0px" text-anchor="middle">0.00</text><text x="408.3" y="2294.6" class="kr" style="font-size:12.0px" text-anchor="middle">0.25</text><text x="523.7" y="2294.6" class="kr" style="font-size:12.0px" text-anchor="middle">0.50</text><text x="41.8" y="2253.8" class="kr" style="font-size:12.0px" text-anchor="end">0</text><text x="41.8" y="2153" class="kr" style="font-size:12.0px" text-anchor="end">1</text><text x="41.8" y="2053.3" class="kr" style="font-size:12.0px" text-anchor="end">2</text><text x="41.8" y="1953.2" class="kr" style="font-size:12.0px" text-anchor="end">3</text><path d="M61.5 2276.8v4.5M177 2276.8v4.5M292.8 2276.8v4.5M408.3 2276.8v4.5M523.7 2276.8v4.5M47.8 2249.5h-4.5M47.8 2148.7h-4.5M47.8 2049h-4.5M47.8 1948.9h-4.5" class="tk"/><text x="292.9" y="2312.7" class="t" style="font-size:12.2px" text-anchor="middle">Adjusted Log-Odds Ratio</text><text transform="translate(19.8 2083.8) rotate(-90)" class="t" style="font-size:12.2px" text-anchor="middle" y="4.4">-log10 P Value</text><circle cx="494.7" cy="1940.7" r="2.3" fill="#505a80"/><circle cx="410" cy="1965.3" r="2.3" fill="#4a6878"/><circle cx="231.6" cy="2052" r="2.3" fill="#d0a828"/><circle cx="188.9" cy="2067.4" r="2.3" fill="#7a5070"/><circle cx="195.4" cy="2087.6" r="2.3" fill="#5068b8"/><circle cx="218.7" cy="2086.2" r="2.3" fill="#c89060"/><circle cx="237.4" cy="2086.2" r="2.3" fill="#6a8a50"/><circle cx="371.4" cy="2128.2" r="2.3" fill="#e05050"/><circle cx="301.7" cy="2164.1" r="2.3" fill="#5a5a80"/><circle cx="218" cy="2168.2" r="2.3" fill="#e08830"/><circle cx="327" cy="2168.2" r="2.3" fill="#3a7878"/><circle cx="238.1" cy="2186.3" r="2.3" fill="#90d850"/><circle cx="312.6" cy="2175.4" r="2.3" fill="#a06068"/><circle cx="268.9" cy="2214.3" r="2.3" fill="#606850"/><circle cx="330.4" cy="2211.2" r="2.3" fill="#8a6050"/><circle cx="335.8" cy="2211.2" r="2.3" fill="#c05848"/><circle cx="319.4" cy="2219.1" r="2.3" fill="#a0a058"/><circle cx="313.6" cy="2225.6" r="2.3" fill="#806070"/><circle cx="285.3" cy="2234.2" r="2.3" fill="#70d0b0"/><circle cx="289.7" cy="2238.6" r="2.3" fill="#3a88c8"/><circle cx="287" cy="2241.7" r="2.3" fill="#c09070"/><circle cx="301.7" cy="2243.4" r="2.3" fill="#2a7858"/><circle cx="284" cy="2240" r="2.3" fill="#7040a8"/><circle cx="256" cy="2170" r="2.3" fill="#d040b0"/><circle cx="278" cy="2190" r="2.3" fill="#5a8060"/><circle cx="262" cy="2226" r="2.3" fill="#d060c8"/><path d="M310.9 2146.3L301.7 2164.1M256.2 2166.1L254.5 2172.6M280.2 2186.3L278.4 2193.1M263.1 2208.5L268.9 2214.3M364.2 2202.7L335.8 2211.2M324.6 2235.9L313.6 2225.6M276 2257L287 2241.7M305.1 2263.2L289.7 2238.6M356 2263.2L338.2 2257M338.2 2257L301.7 2243.4M279.5 2241L287 2241.7M317 2180L312.6 2175.4" stroke="#111" stroke-width="1.1" fill="none"/><rect x="375.8" y="1948.2" width="73.5" height="12.6" rx="2.2" fill="#4a6878" fill-opacity="0.92"/><text x="412.6" y="1958" class="lb" style="font-size:9.8px" fill="#fff" text-anchor="middle">CD8_Teff_HLA</text><rect x="456.4" y="1946.1" width="49.2" height="12.3" rx="2.2" fill="#505a80" fill-opacity="0.92"/><text x="481" y="1955.8" class="lb" style="font-size:9.8px" fill="#fff" text-anchor="middle">CD8_Teff</text><rect x="209.4" y="2034.3" width="72.8" height="13" rx="2.2" fill="#d0a828" fill-opacity="0.92"/><text x="245.8" y="2044.3" class="lb" style="font-size:9.8px" fill="#fff" text-anchor="middle">CD4_Tem_IFN</text><rect x="152.7" y="2049.7" width="44.4" height="12.9" rx="2.2" fill="#7a5070" fill-opacity="0.92"/><text x="174.9" y="2059.7" class="lb" style="font-size:9.8px" fill="#fff" text-anchor="middle">CD8_Tn</text><rect x="221.4" y="2068.4" width="71.7" height="13" rx="2.2" fill="#6a8a50" fill-opacity="0.92"/><text x="257.2" y="2078.4" class="lb" style="font-size:9.8px" fill="#fff" text-anchor="middle">CD8_Tem_IFN</text><rect x="119.6" y="2071.9" width="71" height="13.3" rx="2.2" fill="#5068b8" fill-opacity="0.92"/><text x="155.1" y="2082.1" class="lb" style="font-size:9.8px" fill="#fff" text-anchor="middle">CD4_Tcm_IFN</text><rect x="199.9" y="2091.3" width="86.1" height="13" rx="2.2" fill="#c89060" fill-opacity="0.92"/><text x="242.9" y="2101.3" class="lb" style="font-size:9.8px" fill="#fff" text-anchor="middle">CD8_Tcm_GZMK</text><rect x="360.4" y="2111.1" width="49.6" height="13" rx="2.2" fill="#e05050" fill-opacity="0.92"/><text x="385.2" y="2121.1" class="lb" style="font-size:9.8px" fill="#fff" text-anchor="middle">CD4_CTL</text><rect x="282.9" y="2132.3" width="60.8" height="13" rx="2.2" fill="#5a5a80" fill-opacity="0.92"/><text x="313.3" y="2142.3" class="lb" style="font-size:9.8px" fill="#fff" text-anchor="middle">CD8_Teff_b</text><rect x="169.1" y="2153.2" width="44.4" height="12.9" rx="2.2" fill="#e08830" fill-opacity="0.92"/><text x="191.3" y="2163.2" class="lb" style="font-size:9.8px" fill="#fff" text-anchor="middle">CD4_Tn</text><rect x="220.4" y="2153.2" width="72.7" height="12.9" rx="2.2" fill="#d040b0" fill-opacity="0.92"/><text x="256.8" y="2163.2" class="lb" style="font-size:9.8px" fill="#fff" text-anchor="middle">CD4_Th_LEF1</text><rect x="331.4" y="2152.8" width="89.8" height="13" rx="2.2" fill="#3a7878" fill-opacity="0.92"/><text x="376.3" y="2162.8" class="lb" style="font-size:9.8px" fill="#fff" text-anchor="middle">CD8_T_Apoptotic</text><rect x="145.9" y="2174.3" width="88.1" height="13" rx="2.2" fill="#90d850" fill-opacity="0.92"/><text x="189.9" y="2184.3" class="lb" style="font-size:9.8px" fill="#fff" text-anchor="middle">CD4_Tcm_KLRB1</text><rect x="250.4" y="2173.7" width="59.8" height="12.6" rx="2.2" fill="#5a8060" fill-opacity="0.92"/><text x="280.3" y="2183.5" class="lb" style="font-size:9.8px" fill="#fff" text-anchor="middle">CD8_Teff_c</text><rect x="317" y="2173.7" width="73.2" height="12.6" rx="2.2" fill="#a06068" fill-opacity="0.92"/><text x="353.6" y="2183.5" class="lb" style="font-size:9.8px" fill="#fff" text-anchor="middle">CD8_T_adp_b</text><rect x="238.1" y="2195.5" width="29.4" height="13" rx="2.2" fill="#606850" fill-opacity="0.92"/><text x="252.8" y="2205.5" class="lb" style="font-size:9.8px" fill="#fff" text-anchor="middle">MAIT</text><rect x="274.3" y="2194.2" width="82" height="12.6" rx="2.2" fill="#8a6050" fill-opacity="0.92"/><text x="315.3" y="2204" class="lb" style="font-size:9.8px" fill="#fff" text-anchor="middle">CD8_Tem_NFKB</text><rect x="364.2" y="2195.5" width="51.6" height="13" rx="2.2" fill="#c05848" fill-opacity="0.92"/><text x="390" y="2205.5" class="lb" style="font-size:9.8px" fill="#fff" text-anchor="middle">CD8_Tem</text><rect x="214.2" y="2216" width="48.9" height="13" rx="2.2" fill="#d060c8" fill-opacity="0.92"/><text x="238.7" y="2226" class="lb" style="font-size:9.8px" fill="#fff" text-anchor="middle">CD4_Teff</text><rect x="274.3" y="2216" width="25.3" height="13" rx="2.2" fill="#70d0b0" fill-opacity="0.92"/><text x="287" y="2226" class="lb" style="font-size:9.8px" fill="#fff" text-anchor="middle">Treg</text><rect x="324.6" y="2216" width="60.8" height="13" rx="2.2" fill="#a0a058" fill-opacity="0.92"/><text x="355" y="2226" class="lb" style="font-size:9.8px" fill="#fff" text-anchor="middle">CD8_T_adp</text><rect x="207.4" y="2236.5" width="72.1" height="13" rx="2.2" fill="#7040a8" fill-opacity="0.92"/><text x="243.4" y="2246.5" class="lb" style="font-size:9.8px" fill="#fff" text-anchor="middle">CD4_Teff_TNF</text><rect x="306.5" y="2236.5" width="72" height="13" rx="2.2" fill="#806070" fill-opacity="0.92"/><text x="342.5" y="2246.5" class="lb" style="font-size:9.8px" fill="#fff" text-anchor="middle">CD8_Teff_TNF</text><rect x="246.7" y="2257" width="50.5" height="13" rx="2.2" fill="#c09070" fill-opacity="0.92"/><text x="271.9" y="2267" class="lb" style="font-size:9.8px" fill="#fff" text-anchor="middle">CD8_Tcm</text><rect x="304.8" y="2257" width="44.4" height="13" rx="2.2" fill="#3a88c8" fill-opacity="0.92"/><text x="327" y="2267" class="lb" style="font-size:9.8px" fill="#fff" text-anchor="middle">CD4_Th</text><rect x="356" y="2257" width="90.9" height="13" rx="2.2" fill="#2a7858" fill-opacity="0.92"/><text x="401.4" y="2267" class="lb" style="font-size:9.8px" fill="#fff" text-anchor="middle">CD4_Tcm_NFKBIA</text><text x="1623.4" y="1835.3" class="t" style="font-size:14.6px" text-anchor="middle"></text><path d="M1359.7 1843.7V2352.2H1886.8" class="sp"/><path d="M1623.4 1843.7V2352.2M1359.7 2098.1H1886.8" stroke="#000" stroke-width="1.6" fill="none"/><text x="1383" y="2368.7" class="k" style="font-size:11.0px" text-anchor="middle">-0.4</text><text x="1503" y="2368.7" class="k" style="font-size:11.0px" text-anchor="middle">-0.2</text><text x="1623.4" y="2368.7" class="k" style="font-size:11.0px" text-anchor="middle">0.0</text><text x="1743.4" y="2368.7" class="k" style="font-size:11.0px" text-anchor="middle">0.2</text><text x="1863.5" y="2368.7" class="k" style="font-size:11.0px" text-anchor="middle">0.4</text><text x="1353.7" y="1871" class="k" style="font-size:11.0px" text-anchor="end">0.4</text><text x="1353.7" y="1986.4" class="k" style="font-size:11.0px" text-anchor="end">0.2</text><text x="1353.7" y="2102.1" class="k" style="font-size:11.0px" text-anchor="end">0.0</text><text x="1353.7" y="2217.5" class="k" style="font-size:11.0px" text-anchor="end">-0.2</text><text x="1353.7" y="2332.8" class="k" style="font-size:11.0px" text-anchor="end">-0.4</text><path d="M1383 2352.2v4.5M1503 2352.2v4.5M1623.4 2352.2v4.5M1743.4 2352.2v4.5M1863.5 2352.2v4.5M1359.7 1867h-4.5M1359.7 1982.4h-4.5M1359.7 2098.1h-4.5M1359.7 2213.5h-4.5M1359.7 2328.8h-4.5" class="tk"/><text x="1623.2" y="2386.8" class="t" style="font-size:12.6px" text-anchor="middle">RP-T v NP-T Log-Odds Ratio</text><text transform="translate(1313 2098) rotate(-90)" class="t" style="font-size:12.6px" text-anchor="middle" y="4.5">RP v NP Log-Odds Ratio</text><circle cx="1807.9" cy="1909.4" r="2.1" fill="#b080d8"/><circle cx="1746.4" cy="1983.2" r="2.1" fill="#b080d8"/><circle cx="1725.2" cy="2006.5" r="2.1" fill="#b080d8"/><circle cx="1767.6" cy="2006.5" r="2.1" fill="#b080d8"/><circle cx="1713.8" cy="2018.4" r="2.1" fill="#b080d8"/><circle cx="1666.3" cy="2026" r="2.1" fill="#b080d8"/><circle cx="1723.5" cy="2036.2" r="2.1" fill="#b080d8"/><circle cx="1685.4" cy="2052.3" r="2.1" fill="#b080d8"/><circle cx="1638.7" cy="2057.4" r="2.1" fill="#b080d8"/><circle cx="1655.2" cy="2060" r="2.1" fill="#b080d8"/><circle cx="1646.8" cy="2063.8" r="2.1" fill="#b080d8"/><circle cx="1673.5" cy="2065.9" r="2.1" fill="#b080d8"/><circle cx="1626.8" cy="2082" r="2.1" fill="#b080d8"/><circle cx="1631" cy="2085" r="2.1" fill="#b080d8"/><circle cx="1625.6" cy="2088.4" r="2.1" fill="#b080d8"/><circle cx="1633.2" cy="2090.5" r="2.1" fill="#b080d8"/><circle cx="1646.8" cy="2089.6" r="2.1" fill="#b080d8"/><circle cx="1637.4" cy="2052.3" r="2.1" fill="#b080d8"/><circle cx="1629.8" cy="2090.5" r="2.1" fill="#b080d8"/><circle cx="1631" cy="2035.4" r="2.1" fill="#b080d8"/><circle cx="1606.9" cy="2080.7" r="2.1" fill="#48c8c8"/><circle cx="1611.1" cy="2086.3" r="2.1" fill="#48c8c8"/><circle cx="1554.7" cy="2086.3" r="2.1" fill="#48c8c8"/><circle cx="1628.9" cy="2101.1" r="2.1" fill="#70c040"/><circle cx="1635.3" cy="2101.1" r="2.1" fill="#70c040"/><circle cx="1638.3" cy="2109.6" r="2.1" fill="#70c040"/><circle cx="1628.1" cy="2110.4" r="2.1" fill="#70c040"/><circle cx="1631.9" cy="2127.4" r="2.1" fill="#70c040"/><circle cx="1657.4" cy="2129.5" r="2.1" fill="#70c040"/><circle cx="1592" cy="2107.5" r="2.1" fill="#e85858"/><circle cx="1602.7" cy="2113.8" r="2.1" fill="#e85858"/><circle cx="1609.9" cy="2118.9" r="2.1" fill="#e85858"/><circle cx="1622.6" cy="2117.2" r="2.1" fill="#e85858"/><circle cx="1611.1" cy="2132.9" r="2.1" fill="#e85858"/><circle cx="1592" cy="2142.7" r="2.1" fill="#e85858"/><circle cx="1590.8" cy="2149" r="2.1" fill="#e85858"/><circle cx="1612.8" cy="2146.9" r="2.1" fill="#e85858"/><circle cx="1584.4" cy="2152" r="2.1" fill="#e85858"/><circle cx="1574.7" cy="2155.4" r="2.1" fill="#e85858"/><circle cx="1602.7" cy="2158.3" r="2.1" fill="#e85858"/><circle cx="1611.1" cy="2165.6" r="2.1" fill="#e85858"/><circle cx="1526.3" cy="2176.2" r="2.1" fill="#e85858"/><circle cx="1541.2" cy="2180.4" r="2.1" fill="#e85858"/><circle cx="1497.5" cy="2192.3" r="2.1" fill="#e85858"/><circle cx="1550.5" cy="2195.2" r="2.1" fill="#e85858"/><circle cx="1581" cy="2199.5" r="2.1" fill="#e85858"/><circle cx="1558.1" cy="2208" r="2.1" fill="#e85858"/><circle cx="1597.1" cy="2069.3" r="2.1" fill="#e85858"/><circle cx="1543.3" cy="2136.3" r="2.1" fill="#e85858"/><path d="M1660.8 2017.6L1666.3 2026M1626 2022.6L1631 2035.4M1608.6 2041.7L1638.7 2057.4M1650.2 2048.9L1655.2 2060M1654.4 2071.8L1646.8 2063.8M1691.7 2078.2L1673.5 2065.9M1684.1 2098.1L1683.2 2085M1533.5 2060.8L1597.1 2069.3M1533.5 2082L1554.7 2086.3M1506 2101.1L1624.7 2099M1598.4 2103.2L1609.9 2118.9M1600.5 2075.6L1602.7 2113.8M1494.1 2121.4L1543.3 2136.3M1589.9 2117.2L1611.1 2132.9M1641.7 2118.9L1622.6 2117.2M1571.7 2142.7L1592 2149M1536.9 2141.4L1539.9 2156.2M1672.2 2138L1657.4 2129.5M1651.4 2099L1628.9 2110.4M1614.1 2160.5L1602.7 2158.3M1661.6 2160.5L1612.8 2146.9M1631.9 2179.5L1611.1 2165.6M1588.6 2159.6L1584.4 2152M1522.1 2180.8L1541.2 2180.4M1522.9 2167.7L1526.3 2176.2M1467.8 2200.8L1497.5 2192.3M1588.6 2180.4L1588.6 2173.2M1586.5 2205.8L1581 2199.5M1558.1 2216.9L1558.1 2208M1631.9 2140L1626 2133" stroke="#111" stroke-width="1.1" fill="none"/><rect x="1771" y="1914.5" width="50.9" height="12.7" rx="2" fill="#b48de0" fill-opacity="0.92" stroke="#4a4a4a" stroke-width="0.8"/><text x="1796.5" y="1924.3" class="lb" style="font-size:9.8px" fill="#111" text-anchor="middle">CD8_Teff</text><rect x="1720.1" y="1966.2" width="75.1" height="12.8" rx="2" fill="#b48de0" fill-opacity="0.92" stroke="#4a4a4a" stroke-width="0.8"/><text x="1757.7" y="1976.1" class="lb" style="font-size:9.8px" fill="#111" text-anchor="middle">CD8_Teff_HLA</text><rect x="1703.2" y="1989.6" width="67.8" height="12.7" rx="2" fill="#b48de0" fill-opacity="0.92" stroke="#4a4a4a" stroke-width="0.8"/><text x="1737.1" y="1999.4" class="lb" style="font-size:9.8px" fill="#111" text-anchor="middle">Macro/Mono</text><rect x="1633.2" y="2004.8" width="50.9" height="12.8" rx="2" fill="#b48de0" fill-opacity="0.92" stroke="#4a4a4a" stroke-width="0.8"/><text x="1658.7" y="2014.7" class="lb" style="font-size:9.8px" fill="#111" text-anchor="middle">CD4_CTL</text><rect x="1765.9" y="2012" width="26.7" height="12.8" rx="2" fill="#b48de0" fill-opacity="0.92" stroke="#4a4a4a" stroke-width="0.8"/><text x="1779.2" y="2021.9" class="lb" style="font-size:9.8px" fill="#111" text-anchor="middle">HSC</text><rect x="1583.2" y="2015" width="42.8" height="12.7" rx="2" fill="#b48de0" fill-opacity="0.92" stroke="#4a4a4a" stroke-width="0.8"/><text x="1604.6" y="2024.8" class="lb" style="font-size:9.8px" fill="#111" text-anchor="middle">NK_adp</text><rect x="1690.4" y="2022.6" width="28.9" height="12.8" rx="2" fill="#b48de0" fill-opacity="0.92" stroke="#4a4a4a" stroke-width="0.8"/><text x="1704.8" y="2032.5" class="lb" style="font-size:9.8px" fill="#111" text-anchor="middle">GMP</text><rect x="1727.3" y="2031.1" width="106.1" height="13.6" rx="2" fill="#b48de0" fill-opacity="0.92" stroke="#4a4a4a" stroke-width="0.8"/><text x="1780.3" y="2041.4" class="lb" style="font-size:9.8px" fill="#111" text-anchor="middle">CD14+Mono_S100A</text><rect x="1484.8" y="2034.5" width="123.8" height="13.6" rx="2" fill="#b48de0" fill-opacity="0.92" stroke="#4a4a4a" stroke-width="0.8"/><text x="1546.7" y="2044.8" class="lb" style="font-size:9.8px" fill="#111" text-anchor="middle">CD14+Mono_pro-inflam</text><rect x="1615.4" y="2035.4" width="67.8" height="13.5" rx="2" fill="#b48de0" fill-opacity="0.92" stroke="#4a4a4a" stroke-width="0.8"/><text x="1649.3" y="2045.7" class="lb" style="font-size:9.8px" fill="#111" text-anchor="middle">CD16+Mono</text><rect x="1690.4" y="2051.5" width="102.6" height="13.6" rx="2" fill="#b48de0" fill-opacity="0.92" stroke="#4a4a4a" stroke-width="0.8"/><text x="1741.7" y="2061.8" class="lb" style="font-size:9.8px" fill="#111" text-anchor="middle">Neutrophil_RPS/RPL</text><rect x="1633.2" y="2071.8" width="50" height="13.2" rx="2" fill="#b48de0" fill-opacity="0.92" stroke="#4a4a4a" stroke-width="0.8"/><text x="1658.2" y="2081.9" class="lb" style="font-size:9.8px" fill="#111" text-anchor="middle">CD8_Tem</text><rect x="1691.7" y="2071.8" width="67.4" height="13.2" rx="2" fill="#b48de0" fill-opacity="0.92" stroke="#4a4a4a" stroke-width="0.8"/><text x="1725.4" y="2081.9" class="lb" style="font-size:9.8px" fill="#111" text-anchor="middle">Granulocyte</text><rect x="1684.1" y="2091.8" width="62.3" height="12.7" rx="2" fill="#b48de0" fill-opacity="0.92" stroke="#4a4a4a" stroke-width="0.8"/><text x="1715.2" y="2101.7" class="lb" style="font-size:9.8px" fill="#111" text-anchor="middle">CD8_T_adp</text><rect x="1450" y="2054.5" width="83.5" height="12.7" rx="2" fill="#4ccccc" fill-opacity="0.92" stroke="#4a4a4a" stroke-width="0.8"/><text x="1491.8" y="2064.3" class="lb" style="font-size:9.8px" fill="#111" text-anchor="middle">CD8_Tem_NFKB</text><rect x="1434.7" y="2074.8" width="98.8" height="13.6" rx="2" fill="#4ccccc" fill-opacity="0.92" stroke="#4a4a4a" stroke-width="0.8"/><text x="1484.1" y="2085.1" class="lb" style="font-size:9.8px" fill="#111" text-anchor="middle">CD14+Mono_hypo</text><rect x="1539.9" y="2069.3" width="60.6" height="12.7" rx="2" fill="#f07070" fill-opacity="0.92" stroke="#4a4a4a" stroke-width="0.8"/><text x="1570.2" y="2079.2" class="lb" style="font-size:9.8px" fill="#111" text-anchor="middle">CD8_Teff_c</text><rect x="1401.2" y="2094.7" width="104.8" height="12.8" rx="2" fill="#f07070" fill-opacity="0.92" stroke="#4a4a4a" stroke-width="0.8"/><text x="1453.6" y="2104.6" class="lb" style="font-size:9.8px" fill="#111" text-anchor="middle">CD4_Tcm_NFKBIA</text><rect x="1539.9" y="2090.5" width="80.6" height="12.7" rx="2" fill="#f07070" fill-opacity="0.92" stroke="#4a4a4a" stroke-width="0.8"/><text x="1580.2" y="2100.3" class="lb" style="font-size:9.8px" fill="#111" text-anchor="middle">NK_CD56bright</text><rect x="1457.6" y="2115.1" width="36.5" height="12.7" rx="2" fill="#f07070" fill-opacity="0.92" stroke="#4a4a4a" stroke-width="0.8"/><text x="1475.8" y="2124.9" class="lb" style="font-size:9.8px" fill="#111" text-anchor="middle">B_trns</text><rect x="1500.5" y="2110.4" width="89.4" height="12.8" rx="2" fill="#f07070" fill-opacity="0.92" stroke="#4a4a4a" stroke-width="0.8"/><text x="1545.2" y="2120.3" class="lb" style="font-size:9.8px" fill="#111" text-anchor="middle">CD14+Mono_IFN</text><rect x="1641.7" y="2112.5" width="34.7" height="12.8" rx="2" fill="#f07070" fill-opacity="0.92" stroke="#4a4a4a" stroke-width="0.8"/><text x="1659.1" y="2122.4" class="lb" style="font-size:9.8px" fill="#111" text-anchor="middle">B_pro</text><rect x="1431.8" y="2135" width="105.1" height="12.7" rx="2" fill="#f07070" fill-opacity="0.92" stroke="#4a4a4a" stroke-width="0.8"/><text x="1484.3" y="2144.8" class="lb" style="font-size:9.8px" fill="#111" text-anchor="middle">B_Unswitched_mem</text><rect x="1543.3" y="2129.9" width="44.5" height="12.8" rx="2" fill="#f07070" fill-opacity="0.92" stroke="#4a4a4a" stroke-width="0.8"/><text x="1565.5" y="2139.8" class="lb" style="font-size:9.8px" fill="#111" text-anchor="middle">B_mem</text><rect x="1469.1" y="2154.1" width="69.5" height="13.6" rx="2" fill="#f07070" fill-opacity="0.92" stroke="#4a4a4a" stroke-width="0.8"/><text x="1503.8" y="2164.4" class="lb" style="font-size:9.8px" fill="#111" text-anchor="middle">NK_CD56dim</text><rect x="1532.7" y="2159.6" width="72.1" height="12.8" rx="2" fill="#f07070" fill-opacity="0.92" stroke="#4a4a4a" stroke-width="0.8"/><text x="1568.8" y="2169.5" class="lb" style="font-size:9.8px" fill="#111" text-anchor="middle">CD4_Tem_IFN</text><rect x="1614.1" y="2154.1" width="40.3" height="12.7" rx="2" fill="#f07070" fill-opacity="0.92" stroke="#4a4a4a" stroke-width="0.8"/><text x="1634.2" y="2163.9" class="lb" style="font-size:9.8px" fill="#111" text-anchor="middle">B_imm</text><rect x="1661.6" y="2154.1" width="72.5" height="12.7" rx="2" fill="#f07070" fill-opacity="0.92" stroke="#4a4a4a" stroke-width="0.8"/><text x="1697.8" y="2163.9" class="lb" style="font-size:9.8px" fill="#111" text-anchor="middle">CD4_Th_LEF1</text><rect x="1435.1" y="2174.5" width="87" height="12.7" rx="2" fill="#f07070" fill-opacity="0.92" stroke="#4a4a4a" stroke-width="0.8"/><text x="1478.6" y="2184.3" class="lb" style="font-size:9.8px" fill="#111" text-anchor="middle">CD8_Tcm_GZMK</text><rect x="1631.9" y="2173.2" width="89.1" height="12.7" rx="2" fill="#f07070" fill-opacity="0.92" stroke="#4a4a4a" stroke-width="0.8"/><text x="1676.5" y="2183.1" class="lb" style="font-size:9.8px" fill="#111" text-anchor="middle">CD4_Tcm_KLRB1</text><rect x="1552.6" y="2180.4" width="72.1" height="12.7" rx="2" fill="#f07070" fill-opacity="0.92" stroke="#4a4a4a" stroke-width="0.8"/><text x="1588.7" y="2190.2" class="lb" style="font-size:9.8px" fill="#111" text-anchor="middle">CD8_Tem_IFN</text><rect x="1422.4" y="2194.4" width="45.4" height="13.6" rx="2" fill="#f07070" fill-opacity="0.92" stroke="#4a4a4a" stroke-width="0.8"/><text x="1445.1" y="2204.7" class="lb" style="font-size:9.8px" fill="#111" text-anchor="middle">CD4_Tn</text><rect x="1474.2" y="2196.5" width="72.1" height="13.6" rx="2" fill="#f07070" fill-opacity="0.92" stroke="#4a4a4a" stroke-width="0.8"/><text x="1510.2" y="2206.8" class="lb" style="font-size:9.8px" fill="#111" text-anchor="middle">CD4_Tcm_IFN</text><rect x="1586.5" y="2199.5" width="45.8" height="12.7" rx="2" fill="#f07070" fill-opacity="0.92" stroke="#4a4a4a" stroke-width="0.8"/><text x="1609.4" y="2209.3" class="lb" style="font-size:9.8px" fill="#111" text-anchor="middle">B_naive</text><rect x="1534.8" y="2216.9" width="45.4" height="12.7" rx="2" fill="#f07070" fill-opacity="0.92" stroke="#4a4a4a" stroke-width="0.8"/><text x="1557.5" y="2226.8" class="lb" style="font-size:9.8px" fill="#111" text-anchor="middle">CD8_Tn</text><rect x="1651.4" y="2092.6" width="26.3" height="12.7" rx="2" fill="#74c448" fill-opacity="0.92" stroke="#4a4a4a" stroke-width="0.8"/><text x="1664.6" y="2102.4" class="lb" style="font-size:9.8px" fill="#111" text-anchor="middle">Treg</text><rect x="1615.4" y="2133.8" width="50.4" height="12.7" rx="2" fill="#74c448" fill-opacity="0.92" stroke="#4a4a4a" stroke-width="0.8"/><text x="1640.6" y="2143.7" class="lb" style="font-size:9.8px" fill="#111" text-anchor="middle">CD4_Teff</text><rect x="1672.2" y="2131.6" width="31" height="12.8" rx="2" fill="#74c448" fill-opacity="0.92" stroke="#4a4a4a" stroke-width="0.8"/><text x="1687.7" y="2141.5" class="lb" style="font-size:9.8px" fill="#111" text-anchor="middle">MAIT</text><rect x="1346" y="2408" width="11" height="12" rx="1.5" fill="#f07070" stroke="#555" stroke-width="0.6"/><text x="1351.5" y="2417.5" class="lb" style="font-size:8.5px" fill="#222" text-anchor="middle">a</text><text x="1367.5" y="2417.8" class="lb" style="font-size:10px" fill="#111">NP Enriched Consistent</text><rect x="1492.4" y="2408" width="11" height="12" rx="1.5" fill="#74c448" stroke="#555" stroke-width="0.6"/><text x="1497.9" y="2417.5" class="lb" style="font-size:8.5px" fill="#222" text-anchor="middle">a</text><text x="1513.9" y="2417.8" class="lb" style="font-size:10px" fill="#111">NP Overall, RP Triplet</text><rect x="1631" y="2408" width="11" height="12" rx="1.5" fill="#4ccccc" stroke="#555" stroke-width="0.6"/><text x="1636.5" y="2417.5" class="lb" style="font-size:8.5px" fill="#222" text-anchor="middle">a</text><text x="1652.5" y="2417.8" class="lb" style="font-size:10px" fill="#111">NP Triplet, RP Overall</text><rect x="1768.9" y="2408" width="11" height="12" rx="1.5" fill="#b48de0" stroke="#555" stroke-width="0.6"/><text x="1774.4" y="2417.5" class="lb" style="font-size:8.5px" fill="#222" text-anchor="middle">a</text><text x="1790.4" y="2417.8" class="lb" style="font-size:10px" fill="#111">RP Enriched Consistent</text><path d="M622 155l-11 2 23-2 0 2 -23 0 14 0 8-4 -18-1 2 2 11-2 -20 1 22-1 -7-1 -12 2 -4-1 21-1 -19 0 17 3 3-2 -22 1 26 2 -19-7 4-3 12-8 -3 8 -15-5 15 8 -5-3 7 0 -11 4 12 1 -5-10 -1 6 -9-5 8 3 -6 5 12-8 -1 7 0-6 -1-2 -13 8 2-5 2-16 12 3 -5-2 -14 0 7-3 7 5 -1-2 6 6 -18-1 3-7 16 4 -11-4 -7-2 16 3 -2 3 -14 1 18 4 -2-9 -1 6 2 3 -4-10 -6-19 6 17 -6-10 1-19 3 17 -3 4 -3-7 7-20 -3 26 -6 8 8-5 1-25 -1 13 -4-8 6 26 -5-8 -2-6 -1 9 5-12 4 13 -2-15 -4-16 7 69 -5-71 1-2 -5-4 1-7 5-6 171 90 13 0 -33 0 33 0 -30 0 11 0 7 0 9 0 -26 0 12 0 -9 0 7 0 0 0 -10 0 2 0 20 0 9 0 -18 0 5 0 10 0 -20 0 7 0 -5 0 -5 0 -1 0 2 0 13 0 -11 0 3 0 6 0 3 0 -11 0 20 0 -23 0 3 0 11 0 -10 0 -5 0 5 0 -6 0 9 0 -15 0 14-2 0-4 0 4 -1-3 1 5 3-6 -5 3 2-3 0-1 -1 4 6 0 -2-4 2 6 -8 1 6-5 -4-1 -1 5 7-4 -1-2 -4 2 5 2 -5-9 2 3 -3-5 1 1 1 1 1-1 -3-1 -2 3 0-4 5 7 -3-4 -1 3 0 0 -1-6 3 1 0 0 -3 2 4 3 -3-1 6-2 1 2 -3-6 5 16 -8-22 5-2 -7-1 4-2 -2-1 5-18 -3-6 2-10 -5-43 176 99 8-1 -23 7 9-6 -2-4 11 2 -14-1 -6 4 11-6 14 3 -11 3 -1-3 9 6 -12-4 19 4 -5-9 -19 2 27-1 -23 10 1-9 -10 1 15-5 -12 1 18-5 -19 3 16-3 11-1 -20-2 14 7 -5-12 -2 4 -10-4 23 7 -8-7 -19 12 24-2 -17-10 7 0 0 0 3 7 -15-4 22 4 0-17 1 4 -5-10 -1-2 -4 17 -12-4 22 2 -15-12 8-4 -14 14 2 3 5-2 -10-4 6-4 -5-1 7 2 15 6 -18 1 17-14 -16 4 6 5 1-44 -4 6 4-7 5 22 -1-14 -2 3 -7 6 7 17 1-26 -6 1 7-3 -5 18 -1 4 -3-33 0 7 6 15 4 3 -2-5 2 18 -5 0 4-9 -4-30 -1 85 2-87 190 83 -7-9 -14 6 11-2 2 4 3 5 6-13 -9 13 -10-11 10 5 -7-3 -3 0 7 8 -11-4 18-7 -21 11 11-6 3-4 8-1 -5 2 8 9 -8-19 -15-1 26 1 -31-3 19-1 -10-1 7 8 8-9 -20 5 13 0 3-2 11-3 -21 3 12 5 -14 3 24-7 -16-1 -6 7 -1-9 -3 1 10 5 1-13 0 4 6-1 -18-5 2-3 5 4 6-11 -4 0 1 16 10-2 -20-2 4 0 -1-12 16 7 -1-5 -2 10 -16-4 0 9 22-4 -21-9 22 4 -17-27 1-16 3 6 6 19 -10-5 1 7 -1 0 12 7 -8 1 -4-9 12 8 -10-15 -2-6 0 10 0-11 10 7 -4-12 2 25 -1 0 -3-32 4 32 -4-38 -7 85 4-91 5-6 -4-4 2-6 -2-4 173 110 11 1 -5-1 6-1 1 2 2-2 -8 2 7 0 18-2 -24 0 23 1 -14 1 -16 0 -1-2 27 2 -21-2 8 2 -13-1 26 1 -5 0 -13-1 -2-1 9-4 6 3 -2-2 -3 2 -2-3 8 3 -7 0 3-1 -10 1 11 0 -13-3 1 3 15 0 -2-2 -13 2 7-4 -6 4 12 0 -1 1 -3-5 -3-13 3 2 1-3 -3 1 -5 4 10-5 -5 0 -3 1 -2 3 0-3 2 9 7 0 -4-3 -2 2 -1-7 8 3 -6-3 2 10 4-5 -10 1 5-2 2-16 -6 4 4-9 0 0 0 6 5-5 -3 6 0 4 0-12 1-6 0 18 1-14 0 1 -5 9 -1-10 3 14 4-7 -7 2 4 8 1-4 -1-10 -1-8 -6 44 5-55 2-3 -4-3 5-20 0-14 192 93 -6 0 -19 1 25-1 -19 0 6 2 -1-2 11 1 -18-1 5 1 9 1 -11-2 -3 2 3-2 14 2 -12 0 -7-1 22-1 -6 0 -3 1 2-1 5-2 -4-1 -6-3 6 1 -2 4 8 0 -4-5 -14 3 1 2 18-1 -2 1 1-2 -11 2 -1-3 14 1 -12 2 12 0 -8-5 1 3 -2 1 -6-3 8-10 -6 2 -1 0 2 2 -4 3 12 2 1-5 -3 0 -6 3 2 2 4-6 -1 5 -6-4 8-2 2 4 -9 3 -2-5 12 1 -11-1 -4-2 14 6 -5-14 -5-8 8 12 -7-1 3-3 -4 5 4-5 4 3 -5-2 -2-10 3 7 2-7 -3 2 -1 10 6-1 -6-12 4 11 -4-5 -2 8 6 0 1-2 -3-12 5 33 -2-46 -3-2 -4-3 6-4 -5-14 6-2 -6-3 1-2 1-16 4-12 181 103 -9-5 -1 4 -8 0 -7-2 12 1 10-1 -16-2 12 2 -6 0 -15-1 15 2 -3 2 -5-5 12 2 -2 1 -1 1 11-2 -23 3 -6-1 18 0 -18-7 27 0 -23 0 6-2 10-1 4 2 -12-2 5 5 16-1 -7-1 6-3 -12 6 -6-1 6-3 -2-1 -14 2 15 0 -17 2 27 1 -1-6 -21 3 1-10 13-1 -11 4 12 3 -13-5 5 1 4 3 -11-4 5 0 6-1 0 6 -5-4 -10 3 14-1 4-3 -1 3 3-5 -2-1 9 5 -10-3 -1-2 1-16 -4-2 -3 15 3 1 -6-1 11-15 -11 17 12-1 1-4 -10 2 6-8 -6-2 9 7 1 1 -2-5 -6 2 -3-2 2 4 4-5 2 11 0-13 -4-5 -6 40 4-49 1-3 2-4 3-2 164 58 21 0 -5 0 5 0 -15 0 15 0 -7 0 2 0 -5 0 10 0 -9 0 14 0 -22 0 3 0 15 0 6 0 -17 0 -4 0 3 0 13 0 -4 0 2 0 -15 0 23 0 -24 0 18 0 -5 0 -3 0 -16 0 1 0 26 0 -1 0 -24 0 26 0 -23 0 0 0 16 0 2 0 6 0 -2 0 -24 0 10 0 -11 0 24 0 -12 0 7 0 -16 0 -3 0 16 0 8 0 -2 0 -4 0 -9 0 -16 0 35 0 -5 0 -17 0 13 0 -9 0 12 0 -14 0 5 0 -15 0 11 0 18 0 -33 0 7 0 0 0 -1 0 4 0 3 0 21 0 -29 0 -3 0 6 0 26 0 -11 0 3 0 7 0 -30 0 22 0 -6 0 -2 0 -1 0 -3-14 4-1 1-2 -5-4 4-2 -4-3 4-2 -4-4 5-3 -2-8 2-3 -2-4 2-10 0-4 -3-22 4-21 -1232 283 -4 0 -17 0 13 0 -3 0 -16 0 13 0 -9 0 -5 0 3 0 16 0 -17 0 15 0 -21 0 12 0 13 0 8 0 -1 0 -30 0 10 0 4 0 -3 0 18 0 -30 0 28 0 -5 0 6 0 -30 0 31 0 -1 0 -2 0 1 0 -8 0 -3 0 12 0 -22 0 8 0 9 0 -3 0 4 0 -7 0 0 0 -11 0 22 0 -8 0 -9 0 15 0 -7 0 -15 0 8 0 -14 0 33 0 -25 0 18 0 -3 0 9 0 1 0 2 0 -2 0 -7 0 -10 0 -10 0 -2 0 11 0 3 0 2 0 9 0 7 0 -17 0 4 0 -1 0 4 0 7 0 -23 0 5 0 0 0 14 0 -9 0 -12 0 3 0 -2 0 5 0 0 0 0 0 1-28 2-6 0-4 1-4 1-3 -4-3 6-5 -1-17 -2-4 186 66 -23 3 21-3 -15 4 1-4 -12-2 22 1 -10 0 2 2 -7-3 5 3 -3-1 14 0 -25-2 18 2 -11 1 17 1 -7 0 -13-1 -4-2 9 0 9-13 1-4 6 8 -20 6 0-8 11 2 10 3 -9 0 -11-1 -2-1 3 4 19-6 -17 5 4-2 -7-5 14 5 -17-7 3 8 7 1 -2 0 7-9 0-10 -12-5 12 8 -10-2 6 5 -8-10 6-1 1 7 -9-5 6-1 16 1 -4 4 3-3 -12 9 5-7 -7 1 4-1 5 7 0-9 3 8 0-12 -9-15 2-2 -6 13 9 1 -8-20 5-16 -4 12 -3 19 6 4 4-25 -3 13 -2-15 3 15 -5-10 1 16 6 2 -4-21 -1 3 3 18 1-2 -7-25 4-5 0 77 -2-91 0-1 0-2 2-10 169 98 12 4 -3-11 -3-1 -1 3 -3-11 7 20 -1-3 -8-16 12 0 -17 2 16-3 -13 10 2-9 -3 18 8-20 5-1 -17 19 0-3 13 6 -10-8 13-25 -18 1 1-2 5 4 17-5 -12 10 10-2 -13-4 15 1 -5 4 -20-5 28 6 -27-10 -1 10 16-4 7-2 -3 1 -16-5 6 8 19-5 0-4 -12-14 -9 1 -4-2 4 3 2-1 11 1 -12 8 5-5 0-7 -4 1 11 7 -18-6 4 2 17 3 2-2 -12 5 2-3 -9-5 -5 9 15 3 11 1 -16-15 3-23 -1-8 2 12 -1-17 2 2 -1 20 -8 3 4-26 8 31 -11-27 11 28 -9-15 5 1 -5-13 3 18 1-11 -3 1 6-3 0 4 -2-1 -4-15 6 92 -5-96 2-2 180 101 -4 0 0 0 14 0 -15 0 -5 0 7 0 -13 0 1 0 0 0 -6 0 5 0 12 0 2 0 -5 0 -9 0 30 0 -7 0 -25 0 19 0 4 0 -6-1 -1 0 5 0 -13 0 16 0 -12-1 0 0 -2 0 5 0 -1 1 -7-1 15 1 -3 0 -8-1 13 1 -1-1 -15 2 8-1 5 0 0-1 -3 0 1-11 -5 5 5-3 -3 3 2 3 -1-1 0-1 2-3 -1 0 -4 7 1-8 1 3 0 2 0-6 1 2 -5 5 1-4 5 5 -3-9 -2 8 6-1 -3-24 3 9 -7-1 2 5 3-5 -2 8 1 0 0 0 -3-8 2 8 1 0 1-12 2 4 -4-8 1 17 -3-2 1-2 1 0 0-7 -3-2 2 12 0-17 1 31 2-36 0-4 -2-3 3-10 -2-6 -4-8 7-12 -2-8 -1-2 2-9 176 91 8 3 -1-2 -3 0 -8 3 21-5 -13 5 -1-4 1 4 15-4 -22 0 6 5 9-1 -8 1 -2-1 -4 2 18-5 -6 4 -5-1 -10 1 18 0 -7-12 15 4 -8 1 -14-4 -3 1 9 1 5-2 -19 4 0-3 24 3 -15 0 4-3 -10 2 24-3 -16 1 18 3 -18-3 17-1 -18-1 17 2 2-1 -18-2 4-5 -6-4 1 2 13-1 -13-2 4 6 5 4 1-10 -2 1 -6 9 12-9 -10-2 3 2 5-4 -10 11 5 0 -2 0 2-9 9 8 -12-4 1-13 5-18 -5 19 3-8 -4 4 7 9 1-3 -4 4 -1-5 -3-5 0-6 2 2 4 10 -6 4 7-4 -7-22 0 6 6 6 -5 4 3 2 -1-5 0-14 4 55 -5-63 0-2 3-16 -5-2 2-3 191 86 2 0 -16 0 4 0 7 0 -10 0 7 0 14 0 -3 0 -15 0 -5 0 7 0 6 0 -16 0 30 0 -21 0 9 0 9 0 -1 0 -3 0 4 0 -18 0 -2 0 -4 0 4 0 9 0 15 0 -2 0 -5 0 -8 0 -9 0 10 0 -14 0 -5 0 30 0 -29 0 31 0 -16 0 -7 0 -4 0 5 0 12 0 2 0 2 0 -4 0 -18 0 3 0 -7 0 29 0 -10 0 11 0 -23 0 6 0 11 0 -24 0 11 0 -6 0 -1 0 11 0 -5 0 -10 0 31 0 -1 0 -29 0 13 0 -14 0 29 0 -28 0 17 0 7 0 5 0 -22 0 8 0 11 0 3 0 -14 0 -3 0 -7 0 -5 0 -2 0 32 0 -18 0 -7 0 5 0 3-39 3-35 -2-34 164 100 1-4 6-1 15 0 -25 0 4 1 10 2 -7-7 10 10 -13-2 5 7 11-2 -13-6 -7 0 0 5 22-10 -4 4 -4 6 4 1 -11-1 11-6 -10-16 -7 1 -5-1 29 9 -12-8 -10 9 7-9 6 5 -1 0 -20-4 4 2 6 6 12 0 1-3 -10 2 13-1 -11-9 -11 1 13 10 11 0 -26-8 1-10 24 1 -22-9 3 6 20-1 -25 0 21-6 -1 10 1-2 -1 2 3 2 -18-2 20-12 -2 13 -7-7 -13-1 10 2 -2 6 -1-2 -8-6 12-6 -1-18 -3-19 -1 1 1 26 1-20 5 26 -3-6 3-16 1 5 -8 18 7-21 2 13 -10 4 -1-8 7 4 6 11 -4-6 -8-12 2 16 5-28 -7 22 5-32 -2 85 4-95 -1-2 -1-3 0-10 -4-1 167 102 15-3 6-2 -6 10 16-12 0 2 -18 7 -14-10 23 8 -1-1 8 2 -23-7 24 6 -17-9 16 5 -1-6 -10 2 -16 6 8 8 9-9 -16 3 9-13 9-7 -9-4 2 13 9-9 -8-6 9 13 -25-11 23 7 -5-10 8 3 -26 13 12-9 -7-1 7-2 17 5 3 3 -7-5 -21 4 17-4 -14-6 16-14 2 6 -18 6 17-13 -16 5 23-7 -12 11 -17 3 23-10 6 1 -7-7 1 10 -20-8 7 14 19 1 -24-9 21 1 -22-7 23 2 -9 9 12-3 -14-19 -1 8 3 0 0-24 0 10 -10-1 12-1 -6-17 0-4 0 38 2-29 5 29 -13-5 7 4 -6-7 8-30 -8 13 9 24 0-5 -7 6 3-23 2-16 1 90 -1251 163 11 1 6 12 -13 0 -7-12 11 0 3 1 -6 10 10-5 -18 2 4 2 -2 2 15-8 -3 3 -14 5 11-8 2 2 -12-4 17 6 -7-5 -1-1 -7-9 -1 1 -7 1 3-3 -5 0 21 1 0 2 5-6 -24 3 14 6 -9-9 3 5 -6 3 27-7 -8 5 -13 3 4-9 10 3 3 0 -16 3 13-4 -9-7 -6-2 17-3 -4-5 -13-1 5 1 -9-3 0-1 6 3 -4-4 13 10 1-9 -5 9 -11-2 3 11 6-2 10-18 -17 1 14 16 -1-6 -6 4 -1-29 5 2 0-14 -7 7 6 10 -2 8 -1 0 3-15 1 11 -1-7 -1 8 1-4 -5-28 0 14 -3 18 3-34 9 31 -12-1 9 6 1-12 -7-9 3-15 6 85 163-11 2 2 0 8 4-11 -13 1 10 10 -7-15 -1 14 17-14 -5 11 1-5 -4 5 1 4 -9-9 10 5 -4-14 6 16 -11-2 14 4 -9-3 2-5 6-18 -13-3 0 3 9 5 -8-1 -10-6 -1 0 10 1 13 4 -6-2 -6 6 -8-2 2 0 23 2 -20-1 3-2 17 3 -29-9 31 3 -29-1 25-2 -3-15 -6 7 -13 1 5-4 6 5 6-2 6 6 -24-12 3-1 3 1 -5 2 11 0 -7-2 5 1 3-3 -3 2 -8 1 5-2 -3 7 15-4 -6 1 -1-45 -2 3 4 28 -1-2 -4-14 0 17 0-6 9-3 -3 12 0-38 0 38 -1-37 -5 22 0 14 0-9 -1-6 -1 11 1-32 7 37 -10 0 3-30 3-13 -6 94 9-97 -5-7 189 104 -16 0 11 0 8 0 -27 0 0 0 20 0 -25 0 9 0 17 0 -14 0 20 0 -32 0 3 0 -2 0 -3 0 18 0 9 0 -24 0 28 0 3 0 -15-2 -2 1 2 1 -6-1 1-1 7 1 -1 0 -1-1 -1 1 -5 0 4 0 -3 1 1-2 2 0 -5 0 3 0 2 0 -4 0 1 0 -2 1 2-1 6-4 -3 2 0-4 -4 1 1 4 3-3 3 0 -2 2 -3-2 2 3 3-2 -7-4 3 2 -2 0 4-2 2 2 -2 0 -2 2 5 2 -3-3 -4 1 1-7 0 3 5-3 1-4 -2 6 -3-1 5-5 -8 0 3 5 2 2 -3 0 -2-5 6 1 -5 0 2-4 -1 8 4 0 1-3 -6-4 -1 5 2-1 2-5 6 17 -5-22 1-2 -1-2 -1-22 1-4 2-2 -4-2 0-2 -1-2 3-18 -3-6 193 84 -7 0 1 0 -23 0 27 0 -11 0 -7 0 13 0 -11 0 7 0 1 0 9 0 -11 0 10 0 -1 0 -14 0 3 0 4 0 -20 0 3 0 26 0 -10-9 -3 8 -1-2 -2-4 4 1 -1 5 4-3 -6 1 6 0 0-2 1 1 -7-3 3-1 0 0 2 6 -6-2 0-3 3 2 3 0 -4 1 2 3 1-10 -4-3 2-1 -2-7 1 3 4 6 -2 3 2-4 -4-5 1 10 -1-13 -1 12 2-11 0 12 3-2 -2-12 -2 1 4 2 -4 1 3-5 2 12 -7-12 6-12 -2 11 2 1 -1 0 1 0 -1-8 -1-3 3 8 -7 2 5-14 3 11 -4 0 3-22 -4 7 2 13 -2-16 1 17 2-19 -3-2 0 26 0-27 4 51 -5-56 5-4 1-4 -5-13 0-2 -1-11 5-4 -1-17 185 107 -4 1 0 1 5-1 -17 1 29-2 -19 4 2-5 7 1 -3 3 0 0 0-4 1 0 -2 1 -5 0 -2 3 -8-2 0-1 27 0 -1 1 -20 1 4-11 6 4 1 3 -9-2 12 0 -12-10 12 4 -12 6 15 2 0-2 -3 1 0-3 -11-7 1 6 11-2 -13 5 7-11 2 8 2-2 -11-2 17 4 -4-25 -10 4 7 1 -8 2 7 7 -1-16 -5 10 3-13 3 19 -4-10 -1 7 8 1 -6 3 -1-3 7-13 1 7 -11 5 10-6 -2 0 -5-1 -4 7 4-31 3-20 -1 31 -4 2 0-3 0-15 2 11 7 6 -1 0 -7-23 6 16 -6-27 1 22 -2 9 4 6 -3-26 7 23 1-18 -3 1 1 1 -3 18 0-50 -5 92 3-105 3-2 178 107 21 0 -14 0 11 0 -10 0 8 0 -23 0 8 0 -2 0 17 0 -3 0 -1 0 12 0 -25 0 22 0 2 0 -1 0 -11 0 13 0 -28 0 23 0 -10-2 -4 0 2 1 3 0 -6-2 0 0 -1 1 7 0 -5 0 5 0 -2 1 4 0 0-1 -2 1 2 0 -5 1 4-1 0 0 -9-2 4 1 3 0 -4-9 4 7 1 0 0-3 0 1 -7-7 7 1 -4 8 -2-9 -1 2 7 5 -4-4 4 2 -7-5 8 7 -3-3 0-3 -3 0 3 5 -3 1 -1 0 4-7 0-2 4-8 0 9 -3-9 3 0 -2 2 2 6 -1-2 -6 0 2-4 0-4 1 6 -3 3 -2 1 4 1 2-9 -6-2 7 2 -3 7 4-2 -2-8 -15 26 16-29 0-4 -6-2 0-1 6-2 -3-7 2-8 -2-10 -1-3 1-18 179 81 -18 0 0 0 -2 2 25-1 -25-1 19 1 -7 1 12-1 -2 0 -9-1 8 1 6-1 -7 0 -16 2 -5-1 3 1 12-1 0 1 -8-3 -3 1 1-2 6-2 11 1 -6 1 -7-1 4 2 -8-6 5 6 2 0 4-1 0-6 -1 7 0-6 3 3 0 3 -9-5 6-1 1 3 1 1 4 2 -16-4 4-9 2-5 -1 8 2-9 -5 4 8 5 -2-10 -4-1 2 8 7-5 -3 3 5-1 -10 1 11-3 -6 3 -6 7 6-12 2 0 -7 9 0-7 1 4 4-13 0-1 3 3 -1 1 -4 2 0-10 5 8 -2-1 -5-10 4 9 -4-10 3 15 -1-18 5 7 0-11 -6 1 1 13 3-5 1 10 -7-5 5-5 -3-9 7 47 -2-58 -6-1 5-15 0-32 172 106 -9 0 8 0 20 0 1 0 -7 0 -11 0 8 0 2 0 7 0 -32 0 31 0 -6 0 -24 0 8 0 3 0 6 0 -6 0 2 0 20 0 -27 0 11 0 -3-2 2 1 6 0 -11 0 0-1 1-1 2 0 -3 1 2 0 1-1 8 3 -11-2 0 0 7 1 -8 0 11-1 -5 0 5 0 -3 1 -7 0 9-4 -6-5 -1 1 6 5 -3 0 -3-3 4 3 2-4 -1 2 1 1 -3-1 2 1 -4-1 1-4 1 5 2 2 -5-6 3 6 4-1 -3-5 0 3 -2-8 0-9 2 6 -1-8 4 0 -3 14 2 0 -3-14 1 12 1-6 -5 3 -1 3 0-7 3-4 2-1 -3 14 7-4 -9-10 6 1 -1 9 3-7 -2-4 -9 26 10-28 -3-3 3-2 -4-6 4-17 -5-10 -1-8 1-2 4-3 -2-20 3-7 -1768 271 0 7 -17-8 8-4 -10 5 21 4 -18 2 14-12 -16 4 3 11 7 1 -1-16 4 2 0 8 -13-10 16 14 -8-9 4 5 -6-10 19 5 -1 5 -15-21 0-1 -11 2 17 7 8-5 -5-5 -21 5 16 7 -3-4 18-6 -13 7 5 0 -1-8 -3 2 6 8 2-5 -13 3 5-7 -10 6 14-8 -9 8 -10-9 -2-11 17 0 -7 3 15 0 -16 4 8-7 7-2 -11-4 4 9 -7-5 10 10 -12-12 13 6 1 2 -16-1 -5-3 -1 1 24-3 -12 0 -8 1 14-6 2-4 -8-24 -3-3 -2 21 1-3 2 8 4-20 -2 21 -4-7 0 11 9-4 0-17 -2-15 -3 16 2-15 -7 26 4 3 0 2 -1-24 5 6 -3-19 3 89 -6-112 180 97 3 3 -1 1 -11-5 -1-4 12-8 -17 7 12-6 -11 4 17 12 2 3 -10-19 3 4 -11 10 -2-18 5 3 12 20 2 0 -15-9 3-8 -6 6 4-23 -2 1 11-3 -11 8 10-2 -13 5 11-2 15-1 -14 1 -5-1 -6-2 3-4 10 3 10-4 -22 6 14-5 -3 2 -2 1 8 5 -24-10 2 2 -1-15 28 11 -6 1 5-12 -10 9 2 0 -18 0 22-2 -7-1 1 4 -4-7 -1 7 -8-4 24 4 -3-2 -18-6 -3 2 12 3 -3 0 8 5 8-10 -21-2 2-8 6-11 -7 6 1-13 1 11 4-14 -1 15 -1-4 2 15 5-4 -13 2 10-1 -5-20 4 19 7 6 -18 1 1-5 8-21 5 20 -7-4 1-20 -2 81 4-83 0-5 -1-6 162 100 7-5 17 1 -5-3 -14 1 15 0 -22 2 16 2 3-5 8 2 -18-2 18 2 -5 4 -16-1 -1 1 -4-3 1 2 9 1 -11 0 -4-2 4-3 -2-11 17 2 -8 1 13 2 -5-2 7-1 -22 2 19 6 -4-3 -5-6 9 0 -2 3 -8 0 9 2 -9-1 -1 1 0-4 8 1 7 1 -2-4 -11 3 -2-8 13 2 -6 2 -11-1 12 1 -14-9 7 8 0-11 5 1 -11 3 3-4 -1 7 7 4 -8-6 -1-6 -1 12 12-6 -6 6 13-6 -5 2 -9-9 3-25 6 20 -1 0 -3 2 -3-1 6-26 -7 16 4 11 3 0 -9-11 7 11 -5-10 5 2 0-20 1 13 0 13 -5-23 -4 25 5-16 0 16 -3-2 2-31 0 68 1-85 -2-4 5-13 168 98 20 4 0-1 -6 0 17 1 -31-4 19 4 -5 0 8-3 -10 0 3 0 17 0 -10 0 9-1 -5 3 -2-3 -20 3 6 0 7 1 9-4 -4 4 4-7 -16-4 -4 5 0 0 1 0 14 0 -7-2 4 1 6 1 0 2 2-3 -16-3 -2 5 18-5 -21 5 5-2 -4-4 19 1 -6 2 -4 1 10-2 -15-5 0 0 1-9 4 2 -4 8 11-12 -2 9 1 3 -1 0 -3-8 4-1 -5 4 -3-12 10 15 -4-4 -5-7 -2 6 11 3 -10-4 1-3 6 6 -7-13 1-25 2 15 3-5 -3-8 2 9 0 1 -6-7 7-8 -2 6 -3 5 2-8 2 18 2 7 -2-5 1 5 -2-13 -2 13 -2-3 1-14 -2 0 4-12 -7 60 5-65 0-7 3-1 -5-8 2-10 0-9 3-3 177 103 3-1 -23-2 7 0 8 1 -6-1 16 2 -14 0 -14 0 0-1 2 0 13 2 18-5 -27 1 -4 2 27-2 -21 2 13 0 -14 2 12-4 2 2 5-9 -8-1 -7 3 -3-2 5 5 8 1 2-2 1-4 -10 6 6-5 -9 4 -5-6 14 1 -12 0 -1 5 16 1 -5-5 6 0 2 3 -3 1 -11 0 1-15 4 7 6-9 -7 10 -1-7 -6-7 14 6 -9-4 -1 5 4 2 -5-2 0 1 3 0 3-6 7 1 -4 11 0-1 -6-6 -6 6 1 0 2-10 5-17 -3 11 -2 2 1-7 4-9 -6 14 8-3 -3-11 4 3 -6 10 4 4 -5-15 5 2 -1 9 3 1 3 2 -1 0 -9-7 4-9 -6 14 2-10 4-7 -5 47 6-49 -2-13 4-3 -4-10 -1-4 163 76 -4 3 19-2 9 2 -29 0 15-2 -4 1 6 1 11-3 -2 2 -27-4 13 3 6-1 -2-2 -16 2 23-1 2 0 -25 4 9-1 6-4 -12 1 8-2 15 1 -22-2 16 0 -14 1 7-2 10-1 -5-1 2-2 -3 1 0-2 0-1 -7 1 5 0 4 8 -1-6 8 1 -14 4 -7-6 4 6 -3 0 15-11 -12-11 7 0 3 6 2 2 -6-9 -3-2 7 16 -1-13 -3-5 -1 6 -2-2 0-3 1 13 4-8 4 0 -5 11 0-5 -3 3 -6-5 10 7 -1-34 -1-13 -5 21 3-2 0 10 2-22 2-9 -4 1 -2 30 2-15 0 3 3 8 -6-31 0-1 2 2 7 16 -9 4 3 13 4-6 -6 5 8-39 -5-1 7 76 -4-90 -6-16 1-5 169 111 23 0 -3 0 -16 0 12 0 -21 0 10 0 4 0 -5 0 19 0 -28 0 8 0 12 0 -19 0 27 0 -26 0 9 0 16 0 -14 0 22 0 -29 0 1 0 6 0 10 0 2 0 -14 0 -8 0 15 0 8 0 3 0 -8 0 -19 0 23 0 -1 0 -9 0 -9 0 22 0 0 0 -15 0 2 0 -1 0 19 0 -16-9 -2-2 -1 6 4-12 -4 2 4 11 -2 0 -2 2 6-13 -3 7 2-5 -2-1 0-1 0 14 -1-7 2 7 -3-13 6 4 -4 7 -3 0 0 0 5-28 -5 4 8-10 -1 19 0 0 -5-7 6-10 0 4 -5 4 0-7 -4 15 2-11 6 6 -2-6 -1-6 -1 18 0-15 3 15 -5-4 -2-15 1 1 4-2 -9 38 10-47 -5-1 3-11 3-6 -1-1 -2-16 2-2 -4-6 191 90 4 0 -20 0 29 0 -11 0 -10 0 -5 0 22 0 -27 0 18 0 5 0 -10 0 1 0 -8 0 12 0 -20 0 26 0 -11 0 19 0 -7 0 -3 0 1 0 6 0 -11 0 -17 0 9 0 -3 0 -7 0 18 0 11 0 -18 0 0 0 0 0 1 0 20 0 -9 0 -24 0 17 0 -8 0 -3 0 7 0 9 0 5 0 -11 0 4 0 11 0 -22 0 11 0 -3 0 -5 0 -11 0 23 0 7 0 1 0 -27 0 0 0 -1 0 6 0 16 0 -12 0 5 0 9 0 -7 0 -16 0 13 0 -2 0 -8 0 22 0 -24 0 9 0 18 0 -29 0 -2 0 16 0 0 0 -8 0 16 0 -8 0 -12 0 7 0 -14 0 14 0 16 0 -24 0 12-20 -1-9 0-23 -2-24 182 76 14 0 -5 0 -18 0 -3 0 0 0 33 0 0 0 -3 0 1 0 -29 0 12 0 15 0 -1 0 -24 0 5 0 -1 0 9 0 -12 0 29 0 -29 0 18 0 -18 0 19 0 -17 0 12 0 -6 0 18 0 -2 0 -22 0 20 0 -10 0 -7 0 14 0 -10 0 18 0 -2 0 -23 0 11 0 8 0 -18 0 21 0 -12 0 -2-1 5 1 -3-2 2-1 -5 2 7 0 -3 0 4 1 -5-1 -3-1 4 1 -4-1 2 0 -2 1 0-1 6 1 -1 0 -3-1 4 0 1 1 -1-4 0 1 -5-1 7 1 -7 1 5 0 -3-1 5 0 -9-1 4 2 3-1 -4 0 -3 0 8-1 0 1 -4 0 2-1 3 1 -6 1 5-1 -1 1 -2-2 -11 5 11-7 2-2 -1-2 -5-2 2-1 -2-2 1-2 3-2 0-4 0-3 3-2 -4-2 2-34 -5-10 7-21 184 96 2 0 0 0 -29 0 4 0 3 0 13 0 -5 0 -12 0 -7 0 33 0 -7 0 4 0 -11 0 9 0 -16 0 9 0 -17 0 17 0 -15 0 24 0 -19-1 7 1 -3-3 2 0 -6-1 4 4 5-2 -5 1 0-1 4 0 -6-4 1 4 -2 0 8-4 -6 5 5-4 -8-1 5 1 -2 3 0 0 4 0 -2-12 -5-6 5 6 -1 2 2 0 1-5 1-3 -3 10 -2-7 5 5 -7-8 0 9 3-3 3 5 -4 1 4-5 -2-3 -1 5 2 1 -3-10 3 13 1-16 -3-21 -4 10 1-3 1-5 7-4 -6 19 5 5 0-1 -5-21 3 23 1-19 -6 3 1 10 1-18 4 14 -1-9 2 18 -1 0 0-20 -3-2 1-5 6 49 -6-52 0-6 -2-9 1-1 1-8 -1-4 167 80 26 0 -2 0 -14 0 12 0 -4 0 5 0 -24 0 27 0 -2 0 -18 0 2 0 -8 0 -5 0 31 0 -27 0 19 0 6 0 -14 0 8 0 -16 0 7-1 7-2 -7 3 5-2 -1-2 4 1 0 2 -1-1 -3 2 -3-3 3 2 4 1 -9-3 8 1 1-1 -3 0 1 2 3 1 -2-2 -2-1 -4 1 4-5 1-7 -6 2 -1 5 5-8 3 10 -1-5 -4 1 2 4 -2-7 0-3 1 7 1 2 2-1 -5 2 0-1 4-9 -4 7 1-5 4 3 -6 0 4-15 3 9 -1 0 -7 0 8-13 -3 0 1-3 1 8 -1-1 -6 10 1-9 1 2 -1-10 6 12 1-7 0-3 -8 11 5 0 -6-4 9 1 0-8 -4-4 7 34 -10-38 4-4 1-4 1-2 -4-10 -1-9 0-22 -1-14 -1776 271 4 4 19-2 -27 4 14-1 -11-3 3 5 7-2 -15-4 17 3 -18-3 25 5 -9 0 7 1 -6-3 -11 2 4 0 -9-5 -3 0 32 4 -22 0 3-8 18-2 -30 5 12-6 17 3 -30-2 15 0 5 0 -20 4 9-5 -9 2 16 3 -11-5 -3 1 -1 1 30-2 0 5 -2-5 -1 2 -28-2 10 4 0-16 14-4 -10-3 5 6 -3 3 -5 3 8 3 -6-9 1 3 -1 1 6-3 -1 2 6 1 -6-3 -11 9 5-15 11 9 -5-6 -5-1 1-2 4 12 -2-47 -3 3 4 22 2 6 -7-19 10 15 -5-23 -5-1 8 21 -4-3 0-16 3 5 -2-9 -5 19 7 9 -6-3 4 1 0-8 -3-11 -1 22 1-30 2-2 -2 68 1-72 2-2 -2-14 3-1 -3-6 3-10 174 105 11 0 0 0 -22 0 -6 0 30 0 -20 0 16 0 -18 0 1 0 8 0 -9 0 5 0 -12 0 7 0 14 0 -15 0 24 0 -13 0 -1 0 -15 0 -1 0 20 0 9 0 -8 0 -12 0 21 0 -13 0 -23 0 35 0 -34 0 27 0 -23 0 22 0 -10 0 -4 0 20 0 -20 0 12 0 -21 0 29 0 -3 0 -14-4 5-5 -1-2 2 0 -2 0 -6 3 0 0 2 8 5-1 -1-7 0 1 1 3 -6 2 7-6 -3 6 3-8 -5-1 -2 1 7 10 -4-4 -3 4 0-12 7-5 -4 4 3-6 -5-2 -1 5 6 1 -7 3 4-6 1 5 -3-3 5-5 -6 2 6 1 -3 1 2 4 1-7 -6 6 4-2 0-1 3 0 -4-8 11 25 -10-26 -3-3 1-4 2-3 0-1 0-5 0-2 0-21 2-8 -4-2 4-4 -2-16 -4-7 179 100 -3-1 8-4 -11 5 -12-5 14 0 3-3 -2 2 -7 7 11-2 2-1 -20 0 21-5 -2-1 -22 4 24 6 -22-5 21 1 5 0 -28-3 10 3 -6-14 -3 0 4 0 4-2 -8 2 7 0 -6-1 21 3 3 3 4 0 -3 2 -14-5 7 1 2-4 -3 6 -17 2 27-9 -18 9 6 0 -5-7 -8 1 7-8 11-1 -11 5 15-2 -13-4 -5 6 2-6 12 3 3 1 -16-7 15 4 -20 3 8-6 1 8 5 0 6-3 -19 1 21-7 -8 9 6-15 -6 5 3-7 -5 2 4-9 -2-4 2 13 -6-20 5 2 -1 12 -3-3 3-1 -6-10 -1 13 6-23 2 29 0-11 -3-2 -5-19 5 27 5-6 -6 8 0-10 1-20 -1 70 -2-78 0-20 5-3 -6-2 178 100 15 2 -9-2 8 1 -10 2 11-2 2 2 7-3 -27 2 12-2 -5 1 -5 2 20-3 5 1 -19 0 22 1 -20-1 -3 0 -7 1 12-1 10 0 -16-7 0 1 8 4 9-2 -14-4 1 1 -5-1 6 1 -8 5 5-2 1-4 5 4 3-1 -9 3 -2-3 8-1 -11 0 15 0 -9 1 9 3 1-4 -4-10 1 4 -6 0 -1-2 13-6 -2 2 -8 7 1-3 -4-2 -2 4 9-3 5-5 -4 1 -9-2 12 1 -7 1 -5 5 7 0 -4-7 9 10 2-11 -10-5 3-11 -3 4 0 4 5 0 -1-15 -4 21 3-27 -3 29 2-25 0 11 -3 14 3-12 -2 6 0-19 -1 2 3 22 -2-7 -2-17 9 6 -5 11 -1-21 3 53 -5-55 2-3 -2-7 3-3 -3-11 4-13 179 87 -2 0 -10 5 1-2 16-4 0 6 -18-6 1 0 12 4 -6 1 2-4 -11 0 15 0 -2 1 -6 1 11-2 -10 1 13 2 -19 2 4-3 -13 3 5-9 18-5 4 1 -2 3 -3-2 4-3 -1 3 -24-2 6 4 10-5 -11 4 -7 2 28-5 -26 5 8 1 13 0 -1-3 -8-4 4 8 -9 0 3-1 2-9 1-1 9-4 -3-5 2-1 -8-2 1 7 -7 2 -4-4 10-3 8-5 -9 1 -2 13 1-6 -6-7 6 7 -7-5 11-2 -1 4 -1-1 1 9 -1-20 2 6 0-4 -6 0 6-13 0-5 -5 10 7 7 0 5 -7-12 0 0 0 13 6-21 -2 19 -6-5 10 6 -2-7 -6-1 -1-2 7-8 -7 14 3-24 8 62 -8-73 -1-1 0-26 180 92 -21 3 26 4 1-7 -22 5 11 2 -3-5 14-3 -21 3 10-1 -4 1 -6 0 3 5 2-8 2 5 14-4 1 1 -3 0 -2 5 4-2 -22 3 18-12 -1 3 -20-7 28 5 -18-5 12 1 -19 3 8-3 -4 0 -2 0 20 4 -20-2 23 1 -29 1 24 1 -21 1 20 0 6-5 -6 2 -8 1 -14-3 23-9 -10-2 3 8 -6-7 -11 6 22-4 -14 2 -8-3 21 0 -18 6 18-10 -1 7 -5-2 6-2 -7 2 -9-2 2 2 0 3 8 2 -14-11 20 5 -9-5 1-8 2-6 6 10 -11-2 10 0 -3-7 -9 7 4-8 -3-1 0 10 9-2 -5-7 5 11 -14 1 14-6 -6-1 6 2 2 3 -1-4 -7 5 2-15 6 47 -7-48 0-14 1-7 -3-29 182 88 0 2 12-3 0 3 -7-3 -1 1 -13 7 13-3 0 0 0-2 -9 3 15-3 -12 5 -11-6 7 4 2 1 8 2 -11-4 4-5 -1-4 0 10 -13-12 18-7 -12 1 15-2 -3 9 -2-8 -14-1 5 7 19-3 -14-4 -10 0 19 9 9-7 -2-2 -29 0 16 8 9-6 -22 1 9 4 -4-1 12 1 0-17 0 1 2 0 -13-7 17 0 -19 13 19-4 -17-3 -4-3 5 11 1 1 13 0 -5-12 -3 7 4-7 -13 8 -1-11 7 4 13 8 -4-9 -15 2 14-23 -9 2 6 8 -6 4 4-13 2 2 -8 8 3-17 -2 11 3 8 1-4 4-19 0 9 -10 13 5-31 6 31 -3-28 2 27 -3-20 -2 6 0 14 1-36 -1 83 0-91 175 89 21 2 -6-2 -12 3 12-2 -2 2 3 0 1-2 -16 0 28 2 -16-1 17-1 -27 1 -1-1 13 2 -6 0 18-2 -9 1 -14-1 22 1 -1-2 -3-1 0-7 -13 6 9-5 -14 4 16 1 -4-2 4 0 1-1 -6-3 0 3 7 3 -11 1 8 0 -11-5 2 2 13 2 -3 1 -10-4 2-2 -8 6 9-23 -5-8 9-1 1 20 -4-1 2-19 -4 4 2 2 -3 15 7-5 -9-8 6 7 -6-15 5 11 -4-8 -1 2 7 5 0-10 -5 14 -1-1 2 3 3-54 -6 28 0 9 8-9 -2-35 -4 29 5 2 -3-11 3-9 -2 25 1-9 0-26 2 16 -7 8 5-21 -4 35 2 2 -2-36 3 17 -1 8 -4 12 6-48 1 87 -5-105 6-5 182 110 -13 0 29 0 -31 0 23 0 -1 0 -24 0 9 0 -4 0 19 0 -7 0 15 0 -8 0 -11 0 -4 0 6 0 -5 0 -10 0 14 0 5 0 -14 0 13-5 -3 0 0 3 -1-8 0 6 1-5 3 1 -2 3 -1-4 2 3 -2-2 4-1 -2 3 -3-6 7 7 -5-3 4 0 -3 3 1-7 -1 12 -1-5 1-9 -1-3 -1-4 0 2 0-3 3 8 -2-6 4-2 -6 3 0 2 0 1 2 2 2-6 -1-2 -2-2 1 7 0 4 5-5 -6-3 3-5 0 7 -3-27 5 16 -5-16 -2 19 2-5 1-14 -2 16 3 0 1-12 -4 0 4-2 -5-1 1 17 0 0 7-12 -6-4 4 15 2-20 -5 22 -1-16 7 4 -4-12 -5 51 1-69 6-8 -6-3 4-14 -4-8 188 102 -4 0 -9 0 13 0 1 0 -12 0 -3 0 -8 0 -4 0 3 0 14 0 0 0 9 0 -27 0 27 0 -12 0 7 0 -14 0 21 0 -24 0 17 0 -11-6 -1-2 6 4 -3 2 -3-5 7 0 -7 0 6 7 -4-1 3-5 2-2 -4 4 -2 0 4-4 2 8 0-8 1 3 -7 2 3 1 -4-5 5 5 -2-29 2 3 0 13 -2 3 2-17 -4 15 6 2 -6-10 6-2 0 3 -6 5 3 2 0-15 1 0 -6-1 7 1 -3 12 -4 2 5-13 -2 1 0 4 -1-23 4 5 -6 8 5-23 4 19 -2-22 -5 14 4 7 -5 4 -1-18 5-9 3 17 0 7 -5-12 1-7 0 11 -4-2 2-12 7 19 -7 8 1-12 0-17 18 61 -14-92 -6-2 3-6 2-12 189 110 -2 0 -24-1 26 1 -18-1 14 3 -20-3 24 1 -28 0 32 2 -10 0 -5-2 5 1 -12 1 -8-1 30 0 -12 0 10-1 -15-1 5 2 -2-2 -10-3 13-3 -5 1 -3 4 10 0 -13-6 17 3 -3-1 -1 2 -2 0 -16 3 16-2 -13-1 15 0 -7 2 6 0 -10-1 -6 1 9-4 12 4 -11 0 -5-20 -1 2 7 7 -1-7 -3 8 -2-14 2 3 -2 13 0-5 10 1 -7 5 6-2 -6 2 4-13 0 7 2-4 -4 3 -2 6 0-6 2-1 2-7 -2-24 -1-5 4 21 -4-3 5-15 -1 21 0 1 -4-24 -2 10 -1 4 7-6 -5-6 0-6 5 2 -6-7 2 19 1-4 -3-11 4 0 0 29 -1-1 0-33 0 64 1-68 2-16 -5-13 5-2 -1764 268 -12-7 -3 5 12-5 -19 6 9-10 9 2 -20 5 15 5 6-7 -17 1 5 4 -9-3 19 4 -20-10 20 11 -6-8 -2-3 13 2 -13-4 -1 9 20-19 -12 1 -6 2 11 6 -24-5 10 1 -7-1 -4 1 3-5 0 1 29 3 -24 0 -6 5 27 1 -18-2 7-3 -15-2 16 4 -10-2 1 0 3-5 -4-21 16 2 -20 11 19-8 -7-5 7 1 -17 5 4 1 1 13 -2-2 14-13 -8 8 2-6 8-7 -6 8 2 3 3-5 -14 8 9-4 -15 9 9-4 2-54 -1 28 -5 11 4-10 -4 5 1-21 8 24 -1-7 -6-7 4 10 5-1 -8-32 5 16 -1-4 1 15 -7-3 5 0 -5-1 4 12 0-11 -1 5 0-30 -5 84 3-93 170 99 21-1 -18 0 10 0 -10-1 17 0 -6-2 -23 1 20-1 3 3 -24-3 26 2 -10-1 5 0 -22 0 15 0 2 1 -7 0 13 1 -15-2 0-1 12-5 -1-1 -9-3 2 2 -1 5 2-6 7 3 -5 0 8-1 -10 0 8 0 -11-2 4 6 9-5 -9 0 -2 0 -2 0 2 5 14-2 -5-3 -8 1 8-23 -9 5 7 1 -4-9 1 11 -5-10 9 14 -8-15 6-1 3 16 -5 1 5-7 -6-1 3 11 2-13 1-5 -4 16 2 4 -2-9 4 7 -10 3 9-32 -5-29 0 36 1-3 0 1 3-21 -8 23 7-33 2 6 0-9 -3 29 1-12 -5 15 3-7 2-2 -1-21 -2 28 2 1 -1-18 -2 3 6 0 -3-19 -4 78 3-90 3-3 -4-12 2-2 183 107 -10 0 -9 0 8 0 -18 0 28 0 -29 0 20 0 -21 0 10 0 23 0 -27 0 -6 0 34 0 -3 0 -16 0 11 0 -10 0 -5 0 23 0 -18 0 6-6 -3-7 0 2 2 10 -4-7 -3 2 8 4 0-10 -4 2 -2 5 -1 2 3-1 0-9 -2 10 4 1 -2-1 -1 0 4-8 0 1 -7 7 4-9 -4-4 4-3 2 1 -3-10 3 2 -4-5 3 17 -1-8 -1-10 0 4 4 11 -2-3 -2-11 0 15 4-8 -3-8 4 17 -2-17 -5 9 2 3 -1-5 1-14 5 1 -8-20 5 8 -5 3 1-29 1 38 1-6 -1-18 5-5 -5 17 2-23 -2 9 -2-12 5 36 -4-26 3-2 -1 31 0-20 -1 21 1-30 0-13 10 79 -10-86 4-3 -6-2 195 85 -20-2 15 5 -6-2 4-2 14-4 1 7 -24 3 6-2 5-7 -9 1 5 6 15-4 -24-4 10 3 3-3 -1 7 5 2 -2-9 10 7 -11-7 -14-6 26-1 -2 6 -17-2 -11-5 25-1 -15 0 4 4 5-3 -13 7 0-2 9-1 1 3 2-1 8 0 -5-1 -16 1 24-1 -1 1 -2-3 0 3 -4-16 -10-7 13 11 -13-11 -4 4 -1-8 2 6 6 6 5-10 -8 7 3 4 -4-11 4-5 -2 2 7 0 -6-2 4 1 5 4 -5-4 -9 6 1 1 2-12 2-6 2-13 0 21 0-19 3-1 0-2 -7 6 7-6 1-10 -4 30 -2-18 4-8 1 11 -8 11 4-5 -2-10 0-8 6-2 -7 9 5-14 0-2 -4 83 2-96 0-3 0-8 168 106 0-1 15 1 -5 0 -4 0 2 0 -14 0 -2 0 6 0 -7-1 27 1 -22 0 20 0 -28 0 12 0 12-1 -23 1 2 0 11 0 5 0 6 0 -12-2 3-1 3 0 0-2 -5 0 -4 3 12 0 -7-4 -2 4 4-3 -7-1 8-1 0 2 3 3 -8 1 8-6 1 5 -2-1 0-1 -7 3 2-5 2-9 -4 5 8-3 -8 6 2-4 5 3 0-3 -3 3 4-1 -5-7 4 9 -3-5 -4 0 7-5 -2 6 -5 4 1-7 -1-1 -1 0 6 0 1 1 -6-20 1 12 3-2 2-11 1 15 -8-13 7 5 -1 9 -5-18 3 12 4 7 -4-2 2-4 -3 1 4-6 -1 9 2-11 -7 9 7 4 0 0 -7-7 2-14 -2 40 4-61 -3-15 -1-6 188 71 -12 1 -3-3 1 8 -3-11 13 1 -3 1 1 7 -16-6 13 9 -12-12 19 2 -14 7 13 3 3 0 -8-2 6 3 -12 0 11-1 -7-10 -11 4 -3-9 15 1 -10-7 8 4 -6-2 16-3 -15 1 -12 1 15 2 -2 3 -13-9 26 5 -3-2 -4-2 1 0 10 8 -25-7 7 7 9 2 -3-6 -6-5 7-18 -6 6 14-6 -18 8 4 4 -7-12 15 3 -4 6 -11 5 0-4 -2 7 16-3 1-11 2 6 0-2 -2 10 5-4 -13 3 12 0 -8-5 0 2 -5-43 8 20 1-1 -7-21 4 18 -2 1 0-7 2-16 0 35 -2-5 3-3 -5 7 -1-15 4 2 -2-15 4 14 1 9 -6-2 1-20 3 27 -7-2 2-39 4 87 1-102 -1-6 173 104 1 0 7 0 -21 3 23 0 5-2 0 0 -8 1 -6-2 -10 2 22-1 4 0 -7 2 -8 1 -1-3 8 0 -16 4 6-3 -11 1 14-1 -4 1 2-6 10 2 7-3 -25-2 0 4 21-1 -11-4 10 6 -12-2 5 2 10-3 -14-2 0 0 13 4 1 1 -1-2 -4 1 -6 1 -14-6 27 4 -17 0 5-10 7-1 -10-8 -8 10 4 3 1-6 12-2 -4-2 -8 2 7 2 0-8 5 1 -6 2 -2 0 3 11 -8-5 13-7 0 1 -6 8 2 0 -6-7 3-8 2-15 -1 17 -6 2 1-32 0 14 7 16 -3-13 -4-8 -1 17 1-6 0 7 5-19 -3 23 2-23 -5 19 7-13 -6 13 5-6 2-14 -7 24 3-32 -3 62 3-65 1-3 -4-6 193 70 -7 3 -1-5 -7-2 3 3 17-3 -15 0 1 7 21-5 -32 2 6-1 4 3 -7-2 16 2 -1-6 12 6 -23 1 -4-6 11 5 4 2 0-5 -15-12 18 1 4 6 3 2 -19-7 19 5 -2-5 3 2 -7-5 8 1 -18 8 12 0 -3-5 2-3 7 7 -16-8 -8 5 20-3 -22-2 23 8 -4-6 -12-17 0 3 -1 11 14-8 -18-3 1 4 10-6 -10 11 12-8 -3 5 10 3 -1 1 2-4 -14-5 0 10 2 1 4-12 1 8 5-6 -14 10 4-6 2-15 5 0 -4-11 -1-4 -5 13 6-24 2 26 -4 1 -1-18 4 12 2-19 -6 13 1 12 2-5 -4-12 5 0 -5-13 3 33 6 0 -9-7 3-13 -1-14 7 69 -3-74 -5-14 180 87 5 0 17 0 -30 1 24-1 0 0 -20 0 13 0 13 0 -24 0 24 0 -14 0 8 0 -8 0 9 0 -3 0 3 0 -19 0 21 0 4 0 -11 1 -3-4 -4 2 2 0 1-3 0-2 2 5 -5-4 0 2 -2-1 10 1 -5 0 4-1 -2 0 -1-1 1 3 2-2 -10 3 8-4 0 1 2-2 -3 3 -1-8 1-6 -4-7 6 16 -3-7 3-8 -5 8 -3-3 3-6 5-1 -8 2 2 1 5 8 -2-9 -4 11 7-11 -7 3 6 7 -5-8 1 8 2-5 -5-32 5-1 -4-4 3 28 -4-2 5-6 0 4 3-7 -2 0 2 12 -3 0 1 0 -3-3 1-12 -1 15 4-8 -1 6 0 2 1-15 1 15 -6-23 1-9 6 59 -8-62 0-2 0-5 3-23 2-3 -3-5 177 100 10 0 -7 0 9 0 -20 0 9 0 5 0 -15 0 -8 0 20 0 -21 0 0 0 -5 0 34 0 -31 0 0 0 -3 0 30 0 -4 0 -11 0 8 0 -5-2 -3-2 1 1 -1 2 -1-4 3 3 -3 0 8-3 1 1 -5 0 2 1 -3 1 -1-2 0 4 3-1 2-1 1 0 -9 0 3-3 7 1 -6-1 2 0 3-9 0-2 -8 1 1 5 0-7 3 12 1-13 3 1 -8 9 6 0 -6 1 1-2 5-4 -3 1 -2-1 5 7 -5-4 7-1 -8-8 2 1 0-14 6 8 -3-10 3 7 -1 7 1-10 -7 5 5-4 -4 7 -1-9 4-2 -1 10 4-3 -4-5 0 1 3-3 1 0 -4 0 1 13 3-10 -3 0 -1-6 -13 36 14-39 1-9 -3-5 2-31 -2-9 3-7 -1-8 -3-2 -1080 292 22-8 -12-5 5 14 -12-13 2 14 -6 1 18-18 -16 16 16-2 -21-16 4 15 18 1 0 0 4 4 -25-8 3-12 13 9 9-10 -20 13 -8-14 29-21 -18 5 18 0 -1-5 1 17 -5-12 -17-5 -7 7 15-2 5 2 8-5 -25 9 22-4 -21 0 25 2 -30-8 26 5 -26 11 14-13 16-2 -5-4 -1-15 3 1 -13 2 -7 2 -3 8 19 0 -22-1 5 2 2-9 16 6 -24-1 34 1 -26-7 24-3 -11 1 0 6 3-5 -10 8 8-10 -1-2 6 6 -24-13 27 6 -7-12 -9 0 -10 12 6-3 18-2 -20-1 2 5 7-6 8-3 -11 1 2-5 -2-3 3 11 10-2 0 8 -18-7 17 8 -4-13 -9 5 4-12 1 81 183-3 -15 0 4 2 -1-2 -4 0 -5 1 26-1 5 4 5-3 -8 1 7 1 -17 0 -12 0 -4 0 6-3 15 3 -11-1 14 1 7 1 -16-3 -6 0 9-4 -11-4 -3 4 5-1 2 2 11-2 -4 2 -5-2 18 3 -2-4 -21-1 1-1 18 3 -15-3 15 6 -16 0 -2-5 7-1 9 6 -15-6 13 4 -6-8 -4-18 7 19 -1-7 -6-11 -2 11 6-7 4-2 1 6 -10-9 -1 14 12 7 -8-9 1-6 5 6 -10-6 2 13 -1-1 0-11 2 3 3 9 1-20 4 0 -9-7 8 6 -6-12 7 8 1-6 -5-2 0-17 0 30 1-4 0 1 -2-12 -3 0 9 1 -10-19 10 34 0-11 0-8 -7-21 6 16 -4-16 0 73 1-75 -2-20 1-14 -169 285 -26 0 22 0 -6 0 -7 0 -3 0 19 0 6 0 -6 0 -10 0 -16 0 0 0 14 0 -10 0 -1 0 -8 0 17 0 14 0 -34 0 17 0 1 0 -1-5 -1-1 -2 6 7-1 5-3 -6 0 -1 1 -4-2 9 3 -1-1 0 3 -4-1 -2 1 -2-2 0 0 6-3 -5 2 9-2 -6 2 -1 1 -3 0 7-13 -5 3 3 5 -4-4 -1 0 3-5 5 1 1-3 -8 10 1-6 7-4 -6 2 -1 3 4-4 -4 2 -2-1 4 8 -3-3 4-5 4 5 -4 3 -1-22 4 2 -1 4 -4-8 0 8 6 5 -7-2 0-9 5 10 -2 0 -3 1 5-8 -5-12 -1-1 5 3 -7 18 1-19 5 4 -3 10 5 5 0-20 -4-6 -1 45 1-47 2-1 2-9 1-30 -4-17 3-9 179 113 13 0 5 0 -34 0 39 0 -13 0 -3 0 -11 0 23 0 -33 0 23 0 -18 0 -7 0 14 0 12 0 -21 0 27 0 -4 0 -25 0 34 0 -35 0 22-5 -10 3 9 0 1-1 -5 0 5-1 -11 4 4-3 7 0 -9-1 9 0 1 3 -6 0 -2-2 -1 2 4-1 -1 1 3 0 3-3 -6 2 0 2 3-16 1 6 -5 3 -4-8 9 0 -7 8 0-7 3 3 0-1 3-3 -1 6 -5 4 5-8 -4 0 3 0 -6-1 3-2 5 0 0 4 -2 7 1-3 1-12 2-14 -2 13 -4-4 5 4 -8-9 6-6 -8 6 10 8 -2-10 0 9 1 1 -8-4 10 2 0-7 -5 13 5-5 -5-5 -4 6 8 4 -8-16 5-3 20 37 -25-47 5-4 2-4 1-10 -6-8 2-24 -3-15 -180 285 9 1 -12-3 -15 0 29 3 0-3 -8-1 7 1 -27 1 17 3 1 0 -9-1 2 1 6-1 17-4 -7 2 -1-1 -3 1 -8 2 12-1 -24-2 26-3 -25-7 9 4 6-2 -8-3 18 3 -23 4 9-1 12-1 -10-3 4-1 7 6 -2-7 -4 2 -15 0 21 6 -11-2 -11-7 13 4 -16 0 25 0 -18-19 1 12 -5-7 14 3 5-4 -3 2 -13-7 6 2 -6 11 14-13 0 1 -4 13 -9 1 11-8 -6-3 -9 3 19-1 -20 4 20 1 1-8 -16-1 10-3 -2 0 -8-1 10-8 0-20 -6-7 -3 14 9 22 1-21 -1 20 -7-13 -3 6 1 8 -1-17 10 17 0-28 -10 20 5-17 -3 13 3 10 -1 1 1-41 -6 76 10-78 -3-2 -3-12 6-18 -3-2 187 101 -18-1 15-1 1 8 -16 1 27 1 0-10 -21 2 24 6 -29 1 15 0 -16-9 15 2 1-3 -12 7 9-2 2-5 5 4 0 4 -15 0 8-2 7-15 -24 2 35-4 -7 8 4-4 -21 1 -10-3 1-1 0 2 13 4 22 0 -37-2 31 1 -11-5 -19 8 -1-6 23-1 7 5 -10-1 -4-5 -2 0 0-12 9 0 4 4 -5 4 -5-8 -9 8 -3-4 1 2 12-9 10 5 -13 3 -10 1 5-11 -5 3 20 6 -14 1 9 4 -7-1 -2-12 11 9 -12 0 4-14 -1-10 5 14 -6-8 0 6 0 2 6-26 -7 22 11-2 -2-21 -3 16 -3-16 4 17 0 1 -4-16 -2 22 11 3 -9-3 9 3 1-22 2 18 -6-32 -3 75 -2-84 7-3 -1-2 -692 264 5-2 -9-1 17 2 -31 0 25-2 -1 3 3-1 -25-1 5 2 -5 1 16-4 -19 0 24 4 5 0 -29-2 11 1 12 1 -15 0 20 1 -4-3 -8-7 -3 0 9-6 -11-2 6-3 0 6 -8 2 10-8 2 16 0-3 1-2 1-4 -2-3 -5 6 -5-8 12 10 -4-2 -8 0 1-1 4 0 -5-5 3-5 -3-6 5-7 -7 6 3 3 -3-4 -3-2 16-7 -9 1 5 8 -4 2 0 4 6-15 -4 8 0 4 -7-13 8 12 -6 5 1-2 3-9 4-4 -3-17 -5-22 2 3 7 5 -4-16 -4 26 4-23 3 13 -1 28 -7-47 0 39 4-34 1 30 3-22 -8 2 4 26 -5-29 8 13 -3 7 1 12 -5-18 3-26 10 88 -11-99 215 99 -39 0 10 0 1 0 12 0 16 0 -24 0 10 0 15 0 -11 0 11 0 -6 0 -8 0 -13 0 -10 0 1 0 19 0 0 0 8 0 -23 0 19 0 -10-1 3-8 0 4 2-8 -6 3 2 6 -4 1 2 0 2-1 -3-3 4-6 0 10 0-1 -3-11 1 11 4 2 1-2 -1-6 0 8 -1-5 -2 6 4-18 -3-13 3 12 -1-4 0-6 -3 5 -1 5 -3 0 3 2 3-13 -4 15 0-1 6-13 -7 0 8-3 -7 12 -1 4 1-8 4 2 -5-4 4 5 -2-12 0-21 -2 9 2-8 5-4 -4-16 4 27 -8-15 8 16 -3 8 4-33 -2 17 -4-20 4 24 0-16 3-7 -6 25 -3 3 4-13 5 19 -7-22 2-17 8 78 -12-90 0-3 6-2 -2-3 1191-428 -9-3 11 1 -13-7 9 8 0-7 16 14 -8-5 -9-3 19-1 -7-1 -9-8 -4 5 17 9 -16-6 14-5 -8 0 0 6 2 7 -11-3 7-6 -16-18 9 0 7 3 12-4 -20 9 16-8 -22-1 27 12 -14-7 -13 4 9 1 -11-6 0 7 27-4 -11-1 2-5 -12 11 14-10 -10 7 10-1 -1 0 -5-19 -7 2 0 2 26-5 -21-3 17 11 1-3 -27 4 24-5 -24 5 20-9 -22-4 9-2 21 4 2-1 -11 10 0-7 2 1 -17 8 -5-5 25-6 -2-7 -16 1 9-35 0 31 -7-14 3-10 2 28 3-29 1 7 -3 15 -2-19 4-2 -1 27 1-3 -5-8 1-10 3 23 -3-26 2-1 -4 20 11-5 -7-25 -7 88 194-5 2 1 -23-1 16 5 9 1 -9-5 1 6 -4-1 12-7 -6 1 -8 1 -14 5 10-2 12-3 -1 3 0 3 8-2 -6-5 -15 4 23-3 -17-2 -4-15 13-2 0 15 -4-14 2 13 -5-3 -10-7 7 5 -7 3 10 2 0-7 6 5 -5 2 -11-2 6-1 4-4 1-5 -11 2 8 6 4-10 -6 1 -5-7 -2 1 9-4 -5-6 7 7 -4 0 -5-9 5 9 -4-11 -1 0 10 10 5 7 -8-13 3 12 -7-1 3-4 8-8 3 0 -19 14 9-16 4 15 1-27 0 7 -1-16 -2 7 3-7 2 17 -5-3 2-9 -2-11 -1 25 2-28 -4 26 6-8 -2 6 -1-28 -4 4 2-4 -3 27 -1-17 3 17 5-1 -3-32 -6 83 214 0 0-6 -25 0 10 4 -1-3 4 1 9-3 -4 6 -25-5 23 5 -20-4 6 0 -2 2 14 2 -9 1 7-5 -17 3 24-1 -2-1 3 2 -4-4 -10-5 -5-3 8 3 -10-4 12 5 -14-3 6 2 21 1 -19-2 6 3 -1-7 7 1 -21 4 21-5 -15 3 13 0 -5-2 -15 1 15 5 13 2 -12-3 -3-22 -4 15 11-11 4 9 -14-14 4 7 -3 2 0-2 0 9 -1-10 11-2 3 10 -7-8 -8 5 -2 2 17-1 -11-13 -5 17 13-17 -1 4 -6 7 4-18 -3-3 -4 7 0-14 1-9 5 20 -1-21 -7-2 12 28 -6-27 3 5 -7 18 0-22 0 24 8 2 -4-25 -5 1 -1 22 2-9 5-11 -1-7 0-5 1 69 -2-89 -1-4 0-1 -364 258 10-1 -24 7 -3-2 24-5 -3-2 -14 5 -5-2 20-5 -9-1 0 9 -14-6 18-1 7 6 -8-6 -6 1 -13 1 2-1 18 2 -7-1 -7-1 23-3 -7-3 -13-4 22 7 -12-7 10-2 -30 7 33-1 -4-5 -10 1 -21 2 34 4 -19-8 -7 3 -6 5 13-3 14 2 -24-3 -2-5 23 3 1 6 1-17 0-4 -15 8 4 3 -1-5 -1-2 14-1 -10-4 -3 9 10 1 -5 2 2-13 -17 2 2 7 3-2 3 5 3-10 -3 11 -5-11 -2 4 21 3 -7-14 -3-30 7 30 -7 2 4-10 -9-1 6 11 2-14 -2-3 5 6 -10-7 -3 18 7-10 6 10 -10-16 10 10 -3-34 -9 37 6-23 -4 22 4-24 -1-13 6 81 -6-84 -3-19 7-5 189 108 -15 0 3 0 -6 0 13 0 -19 0 8 0 -16 0 17 0 -9 0 21 0 -20 0 20 0 4 0 -7 0 -8 0 10 0 -18 0 -10 0 35 0 -4 0 -29 0 27 0 -1 0 -5 0 -18 0 5 0 15 0 -1 0 -16 0 -7 0 10 0 -8 0 22 0 0 0 -13 0 1 0 2 0 -7 0 4 0 -4 0 -3 0 15-2 -2-5 -1-1 2 0 2 4 -2 4 2-5 0 3 -1 0 -5 1 5-6 -4 0 -1 3 6 2 -6-1 3 3 -3-7 6 2 -5 5 -1-1 1-6 5-1 -3 0 -2-9 3 8 -4-5 -1 1 0 3 6-4 0 6 -7-2 4-1 0 0 -2-1 4 2 0 1 -4-5 0 0 6-2 -7 7 2-9 5 9 -4-9 3 18 1-19 -6-7 1-9 0-10 -1-5 3-5 -3-20 4-5 2-3 -6-2 181 85 1 0 -2 0 29 0 -25 0 -6 0 4 0 -6 0 21 0 -13 0 13 0 -4 0 -15 0 27 0 -16 0 -1 0 -1 0 22 0 -6 0 6 0 -29 0 10 0 15 0 -17 0 -3 0 7 0 -13 0 32 0 3 0 -9 0 -23 0 16 0 7 0 -19 0 0 0 -2 0 3 0 -2 0 -5 0 1 0 32 0 -4 0 -3 0 -8 0 14 0 -36 0 26 0 11 0 -8 0 -23 0 9 0 22 0 -5 0 -20 0 19 0 7 0 -1 0 -20 0 -1 0 -1 0 -4 0 -8 0 2 0 13 0 -13 0 5 0 26 0 -3 0 -28 0 7 0 -5 0 28 0 -6 0 0 0 -16 0 15 0 -3 0 4 0 -3 0 -16 0 17 0 9 0 -9 0 -23 0 17-84 -371 255 14 0 -12 0 11 0 -31 0 28 0 -30 0 32 0 -17 0 -2 0 7 0 -3 0 0 0 -1 0 -11 0 23 0 -4 0 -8 0 3 0 -13 0 25 0 -4 0 -2 0 0 0 -7 0 -10 0 19 0 1 0 -13 0 17 0 4 0 -31 0 0 0 19 0 -16 0 25 0 -12 0 13 0 -5 0 2 0 -24 0 25 0 -13 0 1-3 -1 3 -1-3 -2 2 4 1 -5-2 7-1 1 0 -2 1 -1 0 -1 1 3 1 -3-1 1-2 3 0 0 0 -2 0 -1 2 -5-1 0 0 6-4 -5 1 3-1 1-1 1 2 -3-1 -3 1 4 1 -1-1 3-2 -6 3 7-3 -2 2 -1 0 -1 1 -3-1 6 0 2 0 -6 0 0 0 -1 0 3-2 -4 7 1-10 6-2 0-3 -4-4 1-2 -2-2 4-12 -3-11 -3-4 3-11 -3-12 179 73 -4 0 -9 0 -2 0 3 0 -3 0 28 0 -4 0 -1 0 -14 0 19 0 -3 0 4 0 -16 0 -3 0 -8 0 10 0 -12 0 3 0 26 0 -16 0 4-7 3-2 1 8 -5-10 -3 8 4-2 5 4 -7-4 7-5 -2 5 0 5 -1-8 -6-1 3 7 5 1 -5-8 2 0 -2 1 0 2 4 5 -4-9 1-4 -2-6 2 0 1-1 -2-4 4 8 2-6 0 8 -3-2 0-4 0-5 -1 12 4-3 -2-8 1 12 -4-1 5-10 -2 12 0-1 0-1 -4-11 2-5 -4-9 8 2 -9-20 8 25 -5-4 1-9 1-3 1 6 3-19 -4 34 -5-12 9-20 -8 19 5 13 -5-14 1 5 5 8 -1-25 -6-3 5 0 1-8 1 64 -4-66 2-4 -1-5 3-11 -1-18 207 104 -30 0 -2 0 31 0 1 0 -15 0 5 0 2 0 -2 0 4 0 1 0 -17 0 23 0 -33 0 28 0 -21 0 9 0 -2 0 -4 0 -4 0 22 0 -6-2 -4-2 -4 2 -1-3 4 1 0-1 5 4 -1-4 -3-1 0 2 -7 1 6 2 -6-4 5 4 -5-2 3 2 8-3 -4 0 -1-1 -1 1 -5-1 2-9 0 4 6-10 -1 7 -5-5 6 9 -3-6 2 0 0-4 2 4 -1 0 -7 7 5-1 3-5 -2-2 -1 0 3 3 -3-7 -1 4 -1 8 4-9 -5-21 4 9 -4 7 4-2 1 3 -2-1 -1-11 -4 12 6-3 2-10 -3-11 -2 9 1 14 2-6 -2-1 4 8 -2-12 -2-2 -1 12 3-1 -5-14 4-7 3 45 -2-73 -2-2 0-8 -2-18 1-8 -875 278 7 2 -7-4 19-1 -5 0 4 3 -11-2 7 2 -2 1 3 0 -11-3 18 0 -24-1 18 1 4-1 -12 1 -9-1 11 4 11 0 -3 0 4-3 -28-6 24 3 -17-3 17 3 -13 1 -1-2 6-1 -17 0 31 1 -24 0 15 1 -9 0 13-2 -14 2 -10-1 21 2 7-1 -29-3 31 2 -21 0 18-2 -15-16 3 15 -8-1 10-9 2-1 -11-3 8 9 -8-9 0 9 13 2 -1-5 -8-3 -6 0 11 8 -9 4 -2-9 0-1 10 3 -9-1 2-4 2-3 0-30 4 20 -4 0 -2-24 4 28 -1-11 5 12 -8-26 1 11 5-4 0 17 0 0 -4-8 -2 12 4-2 1-6 -2-11 -2 19 5-4 -6 4 6-21 -1-12 -8 61 11-71 -4-15 163 86 3 0 -2 0 0 0 -14 0 21 0 -7 0 -4 0 -7 0 25 0 -27 0 -5 0 21 0 -1 0 11 0 -30 0 10 0 4 0 -5 0 -10 0 28 0 -4 0 -6 0 -18 0 23 0 -15 0 16 0 -16 0 22 0 -10 0 -12 0 -2 0 -6 0 1 0 32 0 4 0 -4 0 -16 0 -2 0 14 0 -29 0 24 0 -6-4 4-2 -6 0 5 5 -3 0 0-5 -2 0 4 2 -5-2 7 0 -5 3 -2 1 5-3 -5 2 4-1 -3-1 -1 2 8 3 -6-5 5-1 -4 4 -4-6 9 1 -5-1 -3-2 -1 2 7 0 2-1 -6 2 -1-1 3 0 -1 0 2-2 1 2 1-1 -1 0 -1 1 2 0 1 1 -7-3 1 3 4 0 -2-3 2 10 -4-21 2-13 2-4 -6-3 0-4 3-3 3-2 -2-34 1-2 -3-8 5-12 163 96 -11 10 -10-2 10-2 18-4 -11 0 -4 0 16 0 -18 6 23-8 -12 6 -1 2 -17-6 -2-1 1 2 24-2 4 7 -13 1 12-2 -3-4 -15-2 -5-4 26-8 -1 2 -21-2 16 3 -14 1 11 5 -15-5 -1-1 17 0 -21-2 3 9 -3-4 8 3 -8-4 12-1 5-4 5 6 -22-3 17-3 -9 10 -3-27 10 14 -13-16 21 13 -3-8 -11 2 12-9 -2 11 -4-10 -5 8 3 8 10-12 1 8 -15-6 3-4 12 1 -20 7 -2 0 17-9 0 18 -7-15 -4-30 3 14 -5 11 6-24 2 6 -3-8 9 22 -3-19 -6-10 5 33 -6-38 5 37 -2-17 -7 13 11 5 -6-6 5-21 0 1 -3 6 -3 18 -4 2 8-38 -5 80 3-92 160 85 -5 3 19-5 -6 4 0-4 9 3 -1 2 -18 0 19-4 -10 4 5-4 6 8 9-5 -24-2 8 2 -3 0 2 4 -10-4 17-6 3 9 -25-6 8-13 16 2 -13-5 13 6 -15 4 3-6 -4 3 -1-4 2 5 -7 0 26-4 -22 6 -5-8 17 6 -16-2 0-3 -1-1 17 6 11-9 -24 1 2-1 -2-7 6 4 -4-3 0-7 1 4 22-2 0 7 -13-6 -2 6 -3 0 14-6 -6 1 -5 4 11-4 6 3 -19-7 9-2 -11 5 -8-4 10 11 10-11 -9-29 5 19 -4 3 -3-18 4-5 2 15 -8 9 5-30 -5 34 7-11 6 11 1-1 -7-25 3-4 0 25 0-17 -3 22 1-34 0 35 4-29 -9 27 2-35 11 77 -11-89 194 80 -12-1 9 3 -1-3 1 10 -5-1 3-11 3 1 -15 1 13-3 0-1 -16 13 0-2 13-4 3-7 -16 9 10-1 -14-4 4 1 3 7 9-11 5-4 -21 1 -4-5 10 2 5 1 -16 1 -1-1 11-6 20 0 -21 6 11-4 -11-3 -5 7 28 0 -5-9 -3 9 -14-3 8 5 13-2 -19-4 19 6 -23-19 6-4 -11 7 -1-7 24 2 -22 6 2-7 18-1 -3 9 3-11 -2 3 -16 0 0 11 18-4 -22 4 24-14 -1 7 -10 1 -9 0 19 3 0 0 -14-27 5-5 -1 1 -3 11 -2-20 -1 17 9 3 0 0 -2 0 -5-17 5 6 0 0 5 5 -7-1 -3-13 5 14 -1-4 -1-4 -7 19 8-33 -3 35 4-38 -9 81 7-83 207 77 -21 0 14 0 -3 2 -1-1 9 1 -23 3 20-2 -21-3 19 1 -5 0 6 2 -17 3 17-4 -16-1 4 0 21 3 -30 0 15 1 -8-3 11 1 9-12 -13 0 -7 3 2-3 18 8 -26-6 14 1 -4 5 -4-2 -4-5 10 5 -12-6 9 7 -2-2 -8-2 22 1 -11 4 5-5 -2 2 3-1 -18-1 20-5 -3-3 1-6 -3 0 -11 1 14 5 7 1 -8-10 -4 3 9 6 -1-1 -5-6 1-1 -13 8 10-2 8 6 -19 0 20 0 -11 0 11-9 1 9 -10-38 -1 6 5 15 -10 3 0-1 5 0 4-10 0-20 -6 29 4-5 -1-2 2-4 -4-17 6 24 -7-18 4 7 5 17 -5-4 3 0 0 1 -3-9 -1-22 2 64 0-79 -3-5 4-16 -2-6 3-1 -1236 310 20-1 5 1 -22-10 10 3 13 3 -16 0 3 0 -6 3 -2-8 19 2 -24 2 22-3 -22 8 11-3 17 1 -17-6 15 2 -21 2 4-4 0 4 19-9 -22-1 11-6 -4-1 -1 9 -8-1 -9 1 19-10 -8 5 -10 6 16-8 -16 7 4-7 12 6 4-2 11-7 -1 4 -28 3 17 0 -9-4 -10-1 22-14 -1 9 -13-7 7-4 -11 4 10-6 7 11 5 1 -13-5 11-5 -18 12 13-3 -7 1 16-4 0-9 -17 4 -6 3 14 2 -13 1 17 2 -17-1 6-27 1 5 -3 2 8-3 2 10 -6-35 1 3 1 24 -5 8 1-28 1-3 5 6 -9 19 10-18 -7 12 6-3 -6-19 7 10 -8 24 10-10 -4 3 0-32 -9 81 5-87 -1-4 1-17 161 108 19 0 2 0 4 0 -13 0 -1 0 -13 0 4 0 5 0 2 0 -1 0 -4 0 9 0 8 0 9 0 -18 0 14 0 -29 0 18 0 0 0 -17 0 19 0 -2 0 13 0 -16 0 10 0 2 0 4 0 -28 0 31 0 -24 0 23 0 -11 0 -16 0 -6 0 11 0 -10 0 3 0 11 0 0 0 -7 0 -1 0 14-3 -1 2 1 0 -3-2 -1-4 4 1 -4 5 4-1 -7-6 0 0 3 5 1 0 -2-4 3 2 -5-3 2 3 0 5 -1-1 3-7 2 5 0 1 2-10 -2-5 0 2 -1 1 2 5 -6-3 -2 3 7-3 0-5 -4 8 -3 0 8 0 -3-3 3 3 -4-6 -2 5 -2-3 6 2 -3-6 -1 6 -1-3 4-3 -14 17 14-24 -1-7 2-8 -1-3 -2-33 0-4 1-25 163 96 20 0 -17 4 -5 3 3-6 8 6 16-3 -14 0 11 3 -14-6 4 4 -14-4 29 6 -14-6 -4 4 -8 0 0-1 0-1 14 1 -10-2 15-1 -14-9 12 5 7 0 -14-1 8-7 -7 4 5 4 -1-4 3 4 -24 0 7-6 -5 3 23 0 -1-2 -9-1 3 5 -1-7 3 9 -20-2 29-6 -26 6 10-16 8-5 -11 1 10 2 -2 7 -5-3 -9 5 22-11 -3 9 -16-5 6 8 0-8 5-1 -9 4 6-3 4 6 4-3 -12 2 -1-8 7 1 -6 3 2-8 3 2 3-24 -6 13 4 1 0 9 -5-9 1-10 -4 19 7-30 -4 2 3 20 3-6 0-2 -2 10 4 4 -5-25 3 17 -6 2 6 8 4-2 -6-29 6 65 174-14 -4 2 -5 5 13 5 -12-6 5 6 -16-6 10 6 -4-6 7 6 1 1 8-9 -13 9 3-11 5 12 0-10 -5 6 10-5 0 7 -2-1 -12-4 -12-9 4-5 22 5 -9-7 -14 0 27 2 -23 2 12 2 1-1 11 0 0-1 -4 1 -24 1 20-3 -13 1 17-2 -25 0 1 0 -1 3 25-3 -28 6 16-20 1 6 6-8 -13 0 7 5 7-2 -9-2 4 12 -1-5 2 5 7-13 -8-1 -3 11 -1-13 3 6 -5-8 9 10 4 6 -16-7 8 1 -2-5 3-34 -3 18 -2-3 7 9 -5-11 -1-6 3-11 1 32 -5 0 -1-21 7-13 1 34 -7-34 -1 27 7-18 -1 23 -3-1 0-1 4-1 0-20 0-3 -3-7 -4 78 6-85 -5-8 3-5 0-9 -2-3 -536 286 26 0 3 0 -22 0 17 0 -22 0 8 0 23 0 -14 0 -2 0 2 0 7 0 8 0 -26 0 -3 0 0 0 20 0 6 0 -8 0 -21 0 11 0 9-5 0-3 -2-2 -2 5 -4 3 5-7 -4 5 5-1 -5 1 1-4 3 3 -4 5 6-2 0 2 0 0 -4-10 -2 10 4-7 3-1 -3 7 2-1 -6-15 4 4 2-1 -2-3 0 5 0 0 -3-4 -1-2 2 2 -3 4 7-5 -1 0 2 1 -6-2 3 2 4 3 -8-5 5 5 2-1 -7 1 4-5 0-4 -4-2 5-9 -6-1 3 0 -2 4 6 5 -1-17 1 13 1-11 -4 14 -1-6 0 13 0-15 5 15 -7-12 7-4 -2 4 3 7 -8-3 0 8 3-24 5 43 -5-54 4-1 0-2 -6-36 189 93 -19-2 4 2 -13-2 -1 0 29 2 0-2 -13 0 -13 0 24 1 -17 1 -6-2 12 1 2 1 -12-1 24 1 -6-1 0 0 -15 0 23-1 -9 1 -11-4 13 0 1 2 -19-3 14 1 -8 2 6 0 6 0 -8 0 5-3 -14 3 8-3 -5 3 -1 1 15-2 -12-3 4 3 -10-2 2 2 10 0 4 0 -7-4 -3-6 4 0 -1 1 7 4 -3-5 3 0 -10 6 -3 1 8-3 2 2 1-7 2 2 -13 2 1 0 -1-2 8-3 -6 3 0 4 8-3 1 0 -3-12 -4 5 2-10 -2 8 1-1 -2-1 3 5 -5 0 5-14 3 2 -1 8 1 4 -1-11 -1 11 3 0 -5-3 6 5 -5-3 -5-9 4 3 -1 5 1-13 7 33 -5-46 0-3 0-1 -4-12 3-3 -2-2 1-7 -2-8 174 78 6 1 0 2 -1-3 -5 0 -4-1 0 5 -10-1 6-3 -5-1 2 4 23-4 -23 1 6-1 -8 1 7 4 3-3 -10-2 22 5 -9-4 4 4 -8-10 13 2 -14 2 -5-2 18-3 9 3 -24 0 24-3 -3 5 -24 0 1-2 25 1 -19-5 20 2 -14-1 1 2 9 0 -3 1 -11 2 -6-2 8 0 7-4 -11-3 8 1 -12-8 12 0 4 4 1 4 -17-1 18-3 -15-4 3 0 12 3 1 4 -2-3 -14-4 3 1 -1 4 -5 0 6 4 9-8 -15 0 12-26 -1 17 2-12 -9 12 7-15 3 20 -4-17 -3 15 1-9 -2-10 2 5 -6 15 6-13 2 2 2 1 1-10 -7 4 2 1 1 15 -3-7 5-14 -1-1 -5 48 7-110 162 110 25 0 -3 0 -26 0 -1 0 19 0 -13 0 -1 0 19 0 -26 0 12 0 6 0 9 0 -8 0 6 0 -5 0 -13 0 0 0 25 0 0 0 -21 0 11 0 -12 0 3 0 19 0 -19 0 9 0 -23 0 22 0 -17 0 23 0 -25 0 9 0 4 0 -9 0 22 0 -18 0 10 0 -21 0 11 0 -12 0 5 0 24 0 -30 0 14 0 -1 0 -13 0 6 0 27 0 -19 0 1 0 3 0 -3 0 3 0 -11 0 12 0 3 0 -17 0 13 0 12 0 -21 0 3 0 18 0 -16 0 9 0 4 0 4 0 -8 0 7 0 1 0 -15 0 9 0 -19 0 7 0 15 0 -25 0 5 0 1 0 18 0 -19 0 -5 0 20 0 11 0 -16 0 -3-11 4-1 1-6 -1-4 -3-7 3-8 -2-3 3-11 0-15 -5-8 3-11 1-11 0-7 -525 279 -5 0 16 0 10 0 -7 0 -25 0 -2 0 6 0 -5 0 3 0 -3 0 5 0 -1 0 -1 0 1 0 13 0 -17 0 -1 0 34 0 -25 0 22 0 -19 0 13 0 -24 0 6 0 22 0 -27 0 4 0 16 0 -11 0 12 0 -19 0 25 0 2 0 -5 0 -9 0 -8 0 22 0 -21 0 9 0 1 0 -3 0 -14 0 20 0 -6 0 -15 0 20 0 -11 0 4 0 11 0 -18 0 24 0 -12 0 -3 0 -1 0 6 0 13 0 -34 0 -1 0 5 0 -3 0 25 0 -4 0 -12 0 14 0 -16 0 15 0 -2 0 1 0 -9 0 4 0 -7 0 19 0 -19 0 -2 0 -9 0 15 0 2 0 12 0 -25 0 18 0 4 0 -14 0 -4 0 10-37 3-17 -3-4 2-3 -2-17 1-15 0-5 -4-8 1-2 170 101 19 1 -6-2 -21 6 17 0 7-1 -6 2 7-3 -17-7 -8 6 22 1 -4-6 -17 0 16 4 -18 1 15 2 -14 1 20-4 -13-4 1 7 6-1 8-19 -4 2 -16-1 8 2 2 7 -14-3 6-4 -1 7 5-8 19-1 -7 4 -1 1 -6-3 14 0 -26 6 9-1 -7 2 22 0 -16-6 11-1 -10 7 12-21 -11 0 6 8 4-10 3 8 -22 1 16-4 9-5 -29 6 24 5 -15-6 11 0 -5-4 -13 0 21 3 -4 1 -3 4 1-1 -5-2 1-3 -10 3 8-37 5-2 -4 5 7 23 -2-32 1 14 -3 1 -4 17 6 3 -1-2 -2-21 3 15 -6-2 6-9 1 6 -2-4 2-14 -4 2 -7 28 5-14 -2 12 3-33 8 74 -6-86 0-4 -2-7 3-8 174 95 8 3 -1-11 -7 8 7-4 -17 5 0-13 19 4 -6 0 3 12 -13-13 13-1 -10 14 -4-16 6 2 9 0 -19 0 14 9 -14-10 18 5 3 2 -12-19 -3 7 10-2 5 3 -23-4 25 2 -25 2 13-3 -10-3 19-2 -8 5 5 0 -12-2 19 8 1-8 -2-1 3 0 -19 0 -5 7 8-1 -12-5 7-6 -4-16 10 9 0-2 8-6 -19 5 4 2 -3-5 18-3 3 3 -11 6 9-2 -2 0 -4-5 -14 8 19 1 2 6 -5-8 -2 6 -15-10 17 13 -8-19 5-9 -7-16 8 25 -4-9 3-10 -6 12 4-12 2-17 -4 35 4-16 0 11 -3-23 -7 27 3-10 2 13 6-11 -1-1 -9-1 3 7 4-5 -1-30 -4 88 5-104 -3-2 166 111 19 0 -18 0 13 0 -4 0 -2 0 4 0 -18 0 22 0 -10 0 20 0 -11 0 -2 0 -5 0 -13 0 1 0 6 0 13 0 -1 0 2 0 -18 0 8-1 -2-1 4 1 0 0 3 1 -6 0 8 0 -2-1 -5 1 -1-1 8-1 -11 2 4-1 7 1 1-1 -12 1 7-2 -1 1 -2-1 -2 2 3-1 3-1 2-3 -3-1 -2-3 -1 3 2 1 -1 2 -1-7 -1 1 1 2 -1-3 5 2 -2-2 -2 0 5 1 -4 2 2 2 0 0 0 2 -3-7 5 2 -6-12 2 2 4 4 -1 3 -3 0 4 1 -6-8 7 5 -8 1 3 1 5-6 -4-3 5 6 -4-2 2-1 -2 4 3-1 -3-6 1 9 -2-3 1-4 -1-3 3 21 -5-25 1-3 4-4 -1-2 -2-4 0-4 -2-5 5-12 -3-2 0-9 -1-2 2-17 -1064 261 2-3 -21 5 29-1 -11 2 -17-4 1-3 -2 7 7-4 17 0 -20-2 14 2 -1-2 -8 7 9-5 -19 3 11-6 2 3 -6 3 -7-3 18-1 0-7 -3 1 -13 2 18-2 3 1 0 1 -10 1 10-5 -13 0 10 4 11-3 -1-1 0 4 -2 2 -14-5 -10 0 24 0 -2 2 3 2 -18 1 -10-1 24-15 -13 7 14 1 -18-5 8-2 -12 0 12 5 9-7 -19 9 -2-6 22 4 1-6 -3 0 0 3 3 4 -20-8 19 7 -5-2 -1-3 2-2 -5 7 2-15 2 3 -8-4 1-14 3 6 -3 14 4-16 -6-8 0 1 4 25 0-18 6 15 -2 2 -9-19 4-4 -4 24 4-23 0 1 0 16 3-11 0-3 -4-6 8 52 -9-53 4-11 -4-2 4-13 -4-2 1-6 2-2 -4-2 2-9 1-5 4-3 193 108 -26 0 5 0 20 0 -16 0 24 0 -7 0 -21 0 8 0 13 0 -9 0 -3 0 2 0 -17 0 18 0 5 0 12 0 -28 0 22 0 3 0 -1 0 -22 0 2 0 -1 0 -3 0 28 0 -26 0 12 0 -7 0 -1 0 9 0 10 0 -25 0 -2 0 0 0 13 0 -6 0 23 0 -27 0 23 0 -27 0 4 0 -7 0 5 0 27 0 -17 0 14 0 -11 0 1 0 12 0 -4 0 2 0 -25 0 11 0 -1 0 12 0 -19 0 22 0 0 0 -6 0 5 0 -8 0 -20 0 32 0 -3 0 -13 0 9 0 -26 0 30 0 -4 0 -9 0 18 0 -18 0 -10 0 4 0 -11 0 18 0 3 0 -6 0 15 0 -13 0 -1 0 9 0 -4 0 -6-57 1-50 192 93 -13-1 -15 6 7 1 -5-6 1 8 -3-3 -5 1 2-6 21 8 -2-3 -4-2 -7 4 16-7 -10 3 8 2 -10-6 11 10 5-9 -11 5 -5 0 2-8 0-1 -8-10 8 0 -6 6 0 1 7-2 -3 1 4 0 -12-2 4 3 4 4 4 2 -10-7 -1 7 2-3 -2-5 9-5 -7 10 21-1 -29-6 14-10 -2-1 -7-7 8 13 0-4 9-1 -7-2 0-1 2 6 6-10 -18-4 1 15 8 1 11-2 -13-7 -3 5 7-3 -1 7 -3-7 15-1 -12 6 -2-17 3-5 -4-1 6-33 -9 39 6-29 0 15 1-8 0 17 -3-4 7 9 -7 0 8-2 -2-18 -7-4 2-3 -4 21 3-27 -2 5 1-7 0 29 4-33 -6 84 3-85 188 81 8-3 4-1 -18-11 17 15 -12 0 12-3 -6-15 4 12 -8 5 10-4 -8-1 3 0 2 3 -4-3 -10-1 14 6 -1-7 -10 5 5 5 -8-10 23-17 -24 0 -2 0 -4 3 24-4 2-4 -19 1 24 1 -20-2 -3-3 -6 6 29 8 -14-6 6 1 -17-8 6 7 8-1 -5-4 -1 0 -11 9 2-7 12-7 10-11 -17 6 3-6 3-1 14 3 -20-2 -4-1 0 10 12-1 3 0 2 4 -2-3 -4-14 9 10 -8 6 11-15 -28 8 23 7 -24-9 0-2 19-20 -2 10 -7 3 9-20 -3 20 -10-1 0-1 9-15 11 14 -3-1 -1-9 -1 1 -12 5 9 8 -1-19 -4 16 -5-2 -2 2 6-14 -3 13 3-7 4-11 7 77 165-10 13 9 -8 4 -16-14 -2 10 15 1 -11 0 18 0 -2-10 1 8 -21 6 24-9 -15 0 9 0 -16 9 6-12 13 7 -15-3 7 1 3 5 -8-12 4-4 -11-5 13-3 -13 4 9 0 13-1 -16-3 -3 3 3 5 2-8 3 10 -6-4 1-3 12-4 -17 9 3 1 -7-9 18 1 5 4 1 5 2-10 -18-9 3-6 -2-5 10 9 -9-5 13-2 -2 15 -14-16 12 0 -13 14 1-7 3-6 10 10 -14-8 7 7 7 3 5-3 -13 7 -8 1 13-4 -12-10 14-29 3 18 -11-18 9 23 -6-23 8 15 -5-27 -2 24 1-5 2-17 -9 33 11-4 -3-21 -1 15 -2-17 8 25 -7-16 -1 16 0-6 1 4 -3-18 2-18 9 88 161-14 0 10 8 3 7-12 -3 4 -8-3 6 4 -17 4 12 2 -9-2 0-10 14-4 -15 8 10-1 -12 2 12-6 6-3 2 13 -10-2 -8-9 18 8 -14-24 16-1 -8 8 -14-7 -5 12 3 0 -3-7 25 1 0 4 -14-10 -4 4 16 3 3-6 -13 3 19-4 -9 10 -10 2 -6-13 -3 2 19 3 -12 3 -8-21 18 6 9-4 -17-1 13 5 -2 6 -8-13 8 12 -6-1 -11-5 4 3 1 4 -4-4 18-10 5 3 -4 6 -22-8 7 8 3 2 16-11 -11 8 0-15 1 4 -6-15 1 5 8 12 -2-15 1 14 -5-21 -1-1 -8 23 1-12 11-3 -11 3 0 13 8-29 2 3 -12 19 15-8 -10-14 6 24 0-3 -2-24 -1 80 -1-98 4-3 182 101 -28 0 12 0 22 0 -3 0 -7 0 -24 0 24 0 2 0 -14 0 -8 0 -1 0 30 0 -24 0 -1 0 26 0 -14 0 1 0 8 0 -17 0 19 0 -11-1 0 0 -7-1 -1 1 2 1 4-2 0 1 1-1 -6 0 8 0 -3 1 3 0 -10-1 11 0 -10 0 5 1 1 0 2 0 2-1 -1 0 -3 0 0-5 -3 2 2 2 -1-6 0 1 -4 0 5 5 0-4 1 3 1-1 1-1 -5 3 4-1 -1-4 -4 5 6-2 -6-1 0-2 -1 1 6 1 -6-1 2-5 1 2 0-7 5 7 -3-6 1 1 -2 3 2-6 -3 6 -1-4 -2 0 7 7 -3-9 1 8 -2-1 1-2 0-2 -4 4 5-1 -6-3 0 6 6-9 7 18 -7-29 2-9 -6-1 4-1 0-6 2-11 0-4 -7-5 5-14 -2-3 3-10 -6-14 6-4 -1056 287 -19 0 14 0 -8 0 -8 0 5 0 10 0 -5 0 -20 0 33 0 -12 0 5 0 -8 0 -16 0 26 0 -14 0 6 0 -12 0 10 0 -18 0 32 0 -16-5 -5 3 4-2 1 2 -2 0 2-1 -1 1 6 1 -8-2 0 1 4 1 4-3 -10 3 4 0 2-3 5 1 -5 1 -5-1 3 2 0-2 -3 1 7-10 -5-4 2 3 0-4 3-1 -6 6 4 2 -2-3 5-3 0 8 -1-5 -2 2 -4-2 5 4 2-7 -1 7 1 2 -2-2 -5 2 7-2 -4-1 1-8 4-8 -3-2 -3 7 3-7 -5 8 5 0 0-24 0 17 -3 1 0 6 2-6 0 6 0 1 0-22 2 1 0 10 -6-7 6 6 -5-2 2-8 0-3 -4 44 2-46 5-9 -2-9 -1-1 4-26 0-2 175 93 0-2 13-5 9 2 -17 4 -8-6 20 0 -24 3 26 3 -20-4 5 5 11-4 -18 2 7-3 -9 4 7-3 2-1 7 4 -3-6 -11 5 6-3 13-4 -15-4 8-8 -5 7 -6 0 8 5 4-4 10 3 -3-6 -13-2 11 6 -3-8 -10 2 10 1 -1-1 -10 5 11-1 -1-5 10 3 -21 5 10-2 -1-17 5 5 1 2 -8-3 3-3 6-1 1 1 -6-1 5-9 0 2 -14 10 8-6 -4 6 4 4 0-8 -5-10 9 0 -4 9 -2-7 2 16 2-7 -3-25 0 10 -1-32 4-12 -4 37 5-20 -4 15 1-24 0 26 0-20 2 0 2 29 -9 3 0-12 4 0 -2-9 -1 19 4-31 -2 32 -1-19 3-14 -1-17 -1 94 1-110 170 110 2 0 -14 0 15 0 -9 0 -5 0 23 0 -6 0 -16 0 -1 0 20 0 10 0 -25 0 26 0 -9 0 -13 0 -10 0 15 0 -9 0 20 0 -21 0 7-1 5 1 -3-3 -1 2 2-2 -2 0 -4 0 4 1 7 0 -9 0 8 0 -2-1 -5 3 5-2 0 1 -5-2 8 3 -5-1 1-1 5 0 -12 0 8-1 -6-8 1-1 5 6 0 2 -4-8 4 0 1-2 1-2 -2 12 -6-4 2 0 -1-7 4-1 3 5 -5 0 -3-4 2 4 1 6 -3-5 4-2 5-16 -6-5 -2 3 3 13 -3-1 6 1 -5-1 -2-6 3-4 3 4 -4 2 6-5 -5 10 1-14 4 12 -7-2 0 1 0-5 5 0 -3 4 -1 2 1-16 16 35 -14-41 -4-12 3-3 2-8 -4-3 -1-22 7-15 -4-1 3-5 197 108 -10-1 -12 0 12 2 -13-1 26 1 -1-3 -21-1 16 4 -11-1 14 2 -24-3 6 1 12 0 -21 1 1 1 14-4 -4 2 -2-2 7 2 12 2 -23-5 0-2 3 1 16-2 -16 0 0 0 4 1 16 1 -20-1 20-4 -12-1 -14 3 21 2 1 1 -17-1 16-1 -13-3 14 1 -9 5 -11 0 16-6 3-8 -13-3 -1 0 13 2 -7 6 7 0 -1 1 -6-3 8-2 -10 1 1-4 -5-4 1 4 -2-4 5 2 10 10 -7-11 -2 4 -7 1 13 4 2-10 -5-23 -2 21 -3-10 -1-1 6 1 1 5 -1 0 -2-5 3 10 -6-11 1 11 -1-4 2-12 4 5 -4 1 0 9 4-2 -3-12 -3 8 9 7 -2-10 -4-13 -6 50 9-54 -1-3 -3-2 4-6 -3-13 1-27 2-3 181 108 -12 0 11 0 -22 0 -5 0 12 0 -10 0 6 0 8 0 3 0 -17 0 28 0 -8 0 -16 0 1 0 8 0 11 0 -12 0 -10 0 -1 0 15 0 -3-1 7 1 1-3 -6 3 1-1 -3-1 4 0 4 2 -11-1 6 0 -4 1 7-1 0 1 -5-1 7 1 -10 0 5 0 5-2 -9 0 -2 1 2 0 5-6 2 0 0 1 -3 2 -1 0 3 1 1-5 -2-1 -3 5 2-6 -2 3 1-1 -2 0 5 2 0-1 -5-3 5 5 -1 1 -2-6 -1 4 3 2 -4-8 6-2 -3-9 -4-1 1 7 5 6 0-11 1-1 -4 11 3-2 -1-1 2-5 -7-1 3-1 -3 9 4 2 0-2 -5-10 0 10 0-7 1 4 2-8 -12 24 11-25 1-5 5-6 -5-6 2-14 -1-9 -2-1 0-3 5-4 -3-7 3-1 -3-6 -1-11 186 91 -20-9 6 7 10 0 -18-1 1 0 6-5 -1 1 17 12 -22 0 5 0 16-1 -11-6 -5 9 13-16 -18 13 22-2 -6-3 5-6 -11 8 11-3 -7-13 -13 2 2 2 -8-8 2 7 6-8 -7 9 9-7 -1 0 6 3 -7 2 12-8 -21 1 14 6 9 3 -5-8 -13 8 0-11 3-1 -1 8 -3-6 12-12 -5-3 -6 10 20-10 -9 9 -6 0 12-4 6 6 -12 0 -13-9 15-1 -12-1 10-1 3 11 -8-6 9 1 -13 2 -5-6 23 3 -22-2 21 7 -2-15 -5-35 1 5 1 25 -6 0 -2 2 0-14 8-25 0 17 -5 20 -1-4 6-21 -5 6 -4 13 8-10 -1-17 -1 14 4-10 -4 30 3-13 -11 17 8-44 6 93 -5-106 1-4 176 88 -7 12 -7-2 5-15 -4 0 15 18 -1-15 -8 10 -2-11 3 1 -2 5 2-16 1 0 -1 10 -2-3 -5-6 11 15 -3-10 -2 4 9 12 -9-8 9-25 5 2 -11 5 13-2 -16-6 4 7 -2 0 -5 4 -8-5 -1 2 20-1 6-4 -11 3 -8-6 17 10 -17-4 1-5 -2 3 21 6 -25 0 11-8 -1-2 -5 0 16-5 -26-1 21 4 11-4 -5 5 -17-3 17-1 3 2 -6-7 -17 2 8 5 -13-4 12 6 17-3 -27 0 4-4 -1-1 -4 1 23-1 -15-16 -2 13 3-19 -2 17 5-17 4 19 -7-1 7-22 -2 0 -3 3 10 15 -5 7 -2-12 -9 11 13 1 -4-24 1 13 -5 10 7-6 -5-2 3 5 -2-22 -2 78" fill="none" stroke="none" marker-start="url(#mn)" marker-mid="url(#mn)" marker-end="url(#mn)"/><path d="M666 157l4-3 -12 2 6-2 9-1 -4-1 2 2 -13 1 4-1 -6 1 14 2 10-6 1 1 -17 0 6 4 4-5 -16 2 13 2 6-4 5 1 -13 5 -13-8 19-3 2 3 -16-2 16 3 -1-1 -5 0 9-2 -11-1 7 5 -24-2 14 1 -5-3 14 4 -2-4 10 0 -4 3 -20 0 -1-3 20 2 -6 0 -13-3 10-6 -5-1 11-1 -5-1 0 1 4 4 -12 3 17-4 -16 0 15-4 -1 7 -5-7 -2 6 -11 1 10-2 3 0 -6 1 -6 1 18-7 -5 6 1-7 0 0 -8-2 1 1 -3-9 7 9 -4-10 -3-5 8 11 -5 1 0 3 -2-5 2-9 -3-5 6 12 0 3 -4-6 3 8 -2-11 1 5 -2 5 1-16 -2 41 4-43 -1-19 1-4 2-4 -1-3 0-30 -3-2 172 105 -15 0 9 0 6 0 0 0 7 0 3 0 -20 0 -4 0 1 0 -2 0 30 0 -13 0 16 0 -32 0 20 0 -1 0 12 0 -8 0 6 0 -8 0 8 0 -32 0 30 0 -15 0 20 0 -21 0 11 0 -12 0 3 0 -9 0 17 0 6 0 -29 0 34 0 -29 0 3 0 4 0 -5 0 11 0 -17 0 27 0 -14-9 -1 6 6 2 0-9 -6-1 5 2 -1 4 3 1 0 4 -3-5 -1-1 0 5 3-1 -2-1 -4 2 4-9 -3 0 2 8 3 0 0-6 -1 6 -2-9 1-6 4 5 -6-5 -3-2 1 6 1 1 0-2 7-5 -6-3 5 5 -1 6 -5-7 6 6 0 1 0-5 -5 2 -2 3 1-5 3-4 -4-1 2-1 13 22 -9-36 -1-3 -2-21 -2-11 2-40 158 105 18 3 9-4 -19-3 5 8 -4-4 6 0 -15-5 7 1 13 2 -7 7 -8-2 18-8 -8 6 -14 3 21-5 -11-2 -10-1 12 7 -1-1 10-5 -8-15 -9 9 6 2 -9-9 -1-5 22 5 -11 8 -3-9 13 9 4-10 -18 2 1 3 7-2 -14 0 4 2 8 6 2-9 -14 7 19-10 -16 10 7-12 6-7 8 1 -9 1 6 4 -10-6 -2-3 2 4 -9 0 21-8 -23 8 2-8 8 2 1 7 13-4 -12-1 3 1 -11 5 11-10 6 6 -22-4 3-1 7-30 0 11 -1 16 -2-4 4-28 -2 7 2-1 6 6 -3-11 2-3 -3 34 -5-9 5-9 4-6 -5 12 -5 12 10-43 -8 5 5 12 3 18 -1 6 -4-44 -4 88 5-92 0-1 0-3 0-2 -3-3 191 100 2-2 1 2 -21 2 6 0 14-6 -11 0 -10 0 22 4 -3-2 -22-3 2 0 11 4 -6-1 -11 2 12-6 -5 3 15 4 -7-4 6 3 -5-5 -5-5 8 0 -10-7 9-4 -7 4 2 11 13-2 -10-2 11-5 -19 3 7-7 -3 8 9-6 -1 3 -1-7 -13 14 4-1 6-2 -2-5 -8-1 6 4 -4-22 12-4 -8 3 1 4 10-2 -12-1 10-1 5 9 -8-2 -9-8 16 14 -15-15 5 13 1-5 8-5 -14 6 3-6 -3 0 13 6 -5-6 2 5 -8-13 5-13 0-6 5 21 -2-36 -6 34 0-13 4-15 4 23 -2 4 -6-33 1 28 0-14 -2 23 2-13 4-8 -5-17 6 36 2 2 -11-1 8-9 -1-28 6 79 -8-93 4-8 -7-4 5-2 191 107 -19 0 30 0 -5 0 -19 0 6 0 -14 0 8 0 -2 0 0 0 1 0 2 0 -2 0 3 0 7 0 3 0 -4 0 -18 0 19 0 12 0 3 0 -18-3 2-4 -5 1 2-3 -3 8 5 0 4-2 -1 1 -4-2 -2-2 6-2 -6 2 0 6 -1-8 0 4 7-5 -6 7 1 2 -2-5 5 1 -4 1 0-11 4 4 -4-2 0 2 3-9 1 5 -3 2 3-10 1 6 -5 1 4 4 -4-4 3-2 1 1 1 6 -5-12 4 4 -5 9 7-7 -3-6 1 8 -3-26 3 4 -3 11 1-18 -1 13 0 4 3-16 1 14 -1 3 -4 2 4-1 -2-10 -1-12 -1 21 3 2 2-7 -4-16 5 4 -6 14 1-20 3 11 -2-13 -14 50 14-59 0-2 -2-7 183 66 -8 2 0 0 7-2 2-2 -8 4 7-3 3-1 16 3 -22-2 18 0 -13 0 6-1 8 1 5 3 -8-1 1 0 7-3 0 1 -4 1 -8-3 -12-11 9 7 8 0 -16 0 16 3 1-2 -12 0 11 3 1-1 -8-8 -5 1 4 4 -7-8 5 10 3-9 6 0 -14 5 15 2 -3-7 -7 1 -3 9 9-15 0-3 3-7 -4-2 4 10 -14-6 2-2 11-3 -12-1 8 9 -8-9 1 7 0-8 3 14 3-16 -5 0 -1 12 8-8 -6 1 5 1 -9 7 9-32 0-18 -2 28 2-16 -1 3 0 12 1-10 -1 0 -1-5 1-6 0 10 1 2 -2-25 -4 21 7-29 0 50 1-6 0-43 -6 47 0-34 5 16 -3-30 2 90 0-97 -4-9 4-3 177 103 -24 1 22 0 -12 3 -9 0 25-2 -26 1 26-3 -20-1 17 5 -16-1 5 3 4-7 4 4 -4-1 -10-1 3 1 -5 0 26-2 -13 0 -7-1 2-7 20 4 -6-4 -18 3 1 2 -8-5 5 5 7-6 16 2 1 3 -22-3 7 5 1-6 -15 3 23-1 -19 1 6 2 10-6 -20 7 23-5 -14-1 7-12 -5 9 1-1 13-8 -11 0 10 7 -17-9 -2 10 12-5 7-7 -9 9 -4-9 9 6 -3-9 -10 1 10 14 1-11 2 11 0-11 -5 3 -2 5 -4-19 9 5 -4-2 -1 2 -1-24 7 6 -2-9 -4 22 0-10 6-5 2 21 -12 0 3-10 8 6 0 3 -1-1 -4-21 3 20 1-17 -3-2 0 22 -2-33 -3 67 7-78 -1-6 0-4 -5-3 189 91 9 0 -17 0 5 0 13 0 -28 0 -4 0 19 0 -10 0 8 0 -5 0 18 0 -4 0 -20 0 18 0 -13 0 -1 0 -1 0 19 0 -1 0 -12 0 -8 0 19 0 -6 0 -15 0 17 0 8 0 -11 0 -2 0 3 0 -14 0 16 0 -10 0 -10 0 18 0 5 0 -23 0 -5 0 25 0 2 0 -26 0 28 0 -12-6 4 5 0-7 -4-1 0 6 -2-6 -1-7 7-7 -7 16 4-4 0 10 0-22 1 20 -3-5 -2-14 6 19 -3-14 0-10 2 18 -4 3 4-4 -4-45 5 17 0-21 0 30 -5-34 0 24 2 2 -3-10 2 16 5-1 -6-12 0 10 2-19 0 8 -1-5 -1 6 3 8 -5-1 9-8 -6-2 0 18 1-44 -13 73 11-80 0-6 0-3 5-5 -1250 270 17 0 -21 0 14 0 -3 0 13 0 -18 0 -6 0 -7 0 11 0 16 0 6 0 -35 0 20 0 -10 0 2 0 22 0 -20 0 20 0 0 0 -25 0 0 0 15 0 0 0 -1 0 8 0 -13 0 6 0 -21 0 12 0 19 0 -16 0 -7 0 24 0 -14 0 -6 0 -16 0 14 0 -7 0 19 0 9 0 -16 0 -6 0 -12 0 3 0 -3 0 12 0 6 0 -7 0 18 0 5 0 -15 0 1 0 -7 0 17 0 -13 0 -12 0 1 0 16 0 -23 0 5 0 -4 0 33 0 -23 0 25 0 -5 0 -3 0 -1 0 -14 0 12 0 -21 0 0 0 24 0 -16 0 11 0 -16 0 26 0 -21 0 20 0 -29 0 9 0 14 0 -8 0 -16 0 16-22 0-5 -1-2 3-32 -3-16 0-13 0-19 166 97 -6 10 6-10 6 4 5-5 -13 6 19-8 -18 14 4-2 -9-7 16-3 1-2 -2 6 6 8 -13-8 -2 5 -4-1 17-1 0-4 -19 5 2-7 1-13 22 5 -3-5 -13 6 -2-4 12 3 8 1 -28-5 13 2 3 5 3-4 -20 3 18-6 5-1 -16 6 11-6 9 10 -19-4 18-2 -26-4 -1 8 3-11 0-5 11 0 -9 3 19-4 2-2 -4 7 -11-8 -4 9 9 1 -9-6 8 2 12 2 -7-6 -9-1 17 3 -10 4 10 0 -11-9 8 5 -18-5 5-17 4-10 0-12 5 37 -10-9 3-7 -1-21 4 7 -7 30 11 1 -7-3 4-9 1-30 -8 27 5-14 -6 22 10-36 -4 19 -3-9 6-8 -6 3 2-5 7 82 -9-108 171 107 0-1 3-15 -5 12 4-3 6-8 -15 2 1 0 12 6 -11 6 5-3 4-12 0 7 -11 7 10-8 -8 4 7-8 3 7 0 0 8 3 -10-5 -4-15 -7 3 -2 1 24-1 -24 3 21-1 -24-1 28 2 0-4 -18-1 -4-2 26 0 -21 6 14-6 -25 3 20-4 -13 1 24 0 -28 3 7-5 4 1 5-9 1 1 6 3 -18 3 15-5 -8-1 -7-7 3 2 1 3 -5-5 5 3 3 5 13-2 -10 0 -11-4 12 3 -1 5 -6-5 6-3 -8 5 15-5 -11-2 5-17 -5-10 0 4 -3 16 6 5 -3-1 5-19 -1-2 -2 4 1 6 -6 0 12 11 -11-1 0-15 4 2 1-8 -7 24 2-8 4 8 -7-2 7-29 -5 74 4-80 1-13 2-18 159 111 31 0 -26 0 17 0 5 0 -6 0 3 0 6 0 -20 0 -6 0 22 0 -23 0 21 0 -8 0 -4 0 7 0 12 0 0 0 -11 0 -12 0 -6 0 16-1 7-1 -9-1 -1 2 9-2 -2 0 -9 0 5 0 -7 1 8 0 -7-1 8 2 -10-1 1-1 10 0 -11 1 1-2 3 1 4 1 3 2 -2-3 0-13 3 4 -2-3 -3 1 1 7 -2 0 -1-2 4 0 2-7 -1 11 -1-12 2 0 -1 11 -7-10 6 4 -5-4 1 11 -1-10 3 6 3 5 -3-8 -1-23 2 10 -1-4 4-13 -4 16 2-15 -4 3 -1 15 7-10 0 10 -2 0 -6-5 5 6 -3-6 6-10 -4 2 -3 17 1-12 -2-2 1 3 0 2 4-17 -12 45 10-53 5-3 -1-3 -2-3 0-4 -1-24 174 84 5 5 13-2 -2-4 3 1 6 0 -2-1 -26 6 15-4 -14 1 27-1 -16 4 2-3 17 2 -16-5 -15 3 20 2 -6-4 13 0 5 0 -15 0 5-12 -15 9 11-8 -11 9 -1-10 14 5 -1-5 -3 6 9 2 -14 1 8-4 6 5 -16-3 7-1 4 0 0-5 3 7 -8-5 8 2 -14-4 13 7 -8-15 5-5 -14 2 10 4 1 3 -5-11 5 4 -3-3 -3-1 -4 6 8 0 0 0 9-4 -7-2 1 1 -10 3 6-1 -7 1 20 7 -19-1 3-8 7-37 -2 31 -4 2 6-15 3 16 -5-24 -2 14 7 10 -3-5 4 3 -6-16 -2-10 4 3 0 23 -1-27 -3 18 0 2 0 4 -2-20 0 16 1 7 4-33 3 68 -2-76 1-8 -6-5 7-4 -3-4 -3-13 2-2 172 112 -2 0 13 0 19 0 -10 0 0 0 -13 0 12 0 -19 0 -3 0 34 0 -12 0 -15 0 -4 0 22 0 -24 0 8 0 -2 0 22 0 -15 0 5 0 -11 0 -6 0 1 0 14 0 18 0 -19 0 14 0 -22 0 -2 0 1 0 12 0 -15 0 9 0 -10 0 11 0 2 0 -14 0 22 0 8 0 -25 0 -2 0 20 0 -16 0 17 0 2 0 -28 0 5 0 19 0 4 0 -17 0 9 0 12 0 -28 0 28 0 -12 0 10 0 -5 0 -1 0 -21 0 1 0 -3 0 14 0 0 0 -14 0 7 0 -4 0 24 0 -4 0 -7 0 -1 0 -15 0 14 0 -10 0 5 0 21 0 -19 0 -3 0 2 0 3 0 11 0 -20 0 20 0 -16 0 8-53 4-4 -6-3 174 53 0 5 -7 1 -9-2 24-1 1-3 -12 2 4 0 13 2 -8-1 -8-3 -6 1 8-1 -6 6 -8 0 19-2 -11-5 21 5 -5 2 -4-2 6-1 -3-7 1 2 3 0 -4-1 -13-3 -10 2 3-4 15 5 12 0 -30 1 16-1 2-1 5-3 2 5 -8-1 -6 2 17-5 -23 5 6-3 2 3 -2-1 13-10 -10-5 -2 0 -7 3 6 2 5-4 4 5 -7-7 5 6 -12-12 15 4 -2 12 -1-9 5-1 -6-1 5 6 -18 0 10-10 6 11 -10-5 12-6 -6-5 -1-18 2-2 1 7 -9 8 2 7 6-29 -9 31 4-4 1-6 0-6 -1 5 0 3 4 3 2-6 -3-20 3 10 -8 8 7 8 1-8 -5-3 0-17 5 64 -7-67 6-1 -6-13 4-16 166 90 15-8 -14-2 4-1 15 15 -10-14 -3 5 0 5 13 1 -4-9 -14 5 3 2 0 1 3-8 4 10 -12 1 7-8 7 6 9-1 -6-7 -6-4 -12 0 21-4 -11-3 5 4 -19-2 30 0 -30-1 20 5 1-1 7-2 -8 1 -6-1 -4 1 6 2 12 1 -4-8 -8 2 -6 3 -7-4 -1 7 10-1 13-17 -13 6 0-9 -3 1 7 3 5-1 -12 0 7 6 9-1 -10 1 -3-8 7 0 -13-4 0 14 14-7 -10 5 10-7 2 1 3-4 -4 3 -4 4 2-39 -5 2 9 25 -8-18 4 10 -4-9 7 14 -6-3 4-17 -7 8 8 9 2 4 -9-10 5 6 1 0 -7-23 -3 29 5-26 -4 27 6-30 0 7 0-15 -7 79 -1242 174 16 1 -14-1 11-4 -10-2 13-4 -12 12 12-2 -22 0 2-6 18-1 -17-3 -4-1 13 3 -10 8 2-1 0 0 12 4 2-12 -2-1 0 10 -10-20 4 6 -15 0 5-5 -1 3 20-1 8 5 -32 0 32-5 -6 0 -8 4 -6-7 20 7 -25-1 10 0 -10-2 -7 1 25-4 -20 7 5-3 -10-5 5-5 11 0 0 4 3 1 -2 0 -11-9 -1-4 5 1 -2 7 13-10 -8 9 -8 3 11-12 10 10 -3-1 -9 2 5 3 8-15 -6 2 -12 7 10-4 1-12 -8-15 3 20 3 0 -3-30 -3 16 5 1 4 12 -4-21 -6 23 2-30 7 23 -4 5 -1-25 2 21 2 2 -6 3 7-6 -5-2 -5 6 2-29 5-1 7 74 -6-77 -4-5 4-4 182 83 3-4 -27-6 24 11 -13-6 4 4 -11-5 -6 0 7-1 -4 8 13 1 -1-12 -15 6 10-5 3 6 -8-6 20 11 -3-1 -23 0 29-3 -2 2 -5-23 -12 3 2-2 15 6 3 4 -12-1 -13 0 -4-7 -3-4 19 6 10 2 -19 2 -2-9 15 8 5 4 -17-9 19 4 -8 0 -18-8 21 10 -22 1 17-26 -16 13 16-3 3-13 -19 11 23 0 -7 6 -9-17 1 11 -9-2 23-6 -3 12 -11 2 1-7 0 7 3-7 2 3 -14 2 25 1 -5-7 -8 7 -1-53 -5 29 -1 4 4 2 -4-1 5-26 5 2 1 7 -6-1 0-7 8 27 1-13 -2 12 -3-33 -7 34 4-1 -2-30 2 22 0-9 3-5 -5-10 4-4 4 83 -4-102 172 102 -11 0 17 0 8 0 -21 0 -9 0 33 0 -33 0 -1 0 23 0 11 0 -36 0 18 0 -10 0 -5 0 15 0 -2 0 -9 0 24 0 -17 0 -5 0 5-3 5 2 -4 0 4-1 -2 1 5 1 -9-3 0 1 9 1 -1-1 -7 0 6 1 -6-1 7-1 1 2 -9-2 8 0 -4 1 -3-1 6 2 3-1 -8-8 0 5 -1-1 4 1 -2-2 2 1 2-3 -4 3 5-3 -3 5 -4 0 1-1 5 0 -6-2 7-2 -1 5 -2-7 2 1 2 2 -3 4 -4-2 6-16 -2 11 -1-3 2-9 -6 12 3-3 -3-3 1-5 -2 6 2-6 3 11 -4-2 4 1 -5-12 8 13 -1-12 -1 0 -4 10 4-1 3-1 -3-5 -2-4 -17 24 17-25 1-7 2-3 1-10 -4-3 -1-23 5-28 179 99 7 0 -14 0 9 0 11 0 -12 0 5 0 -4 0 12 0 -9 0 -11 0 15 0 -13 0 -2 0 11 0 -1 0 -11 0 -3 0 21 0 -18 0 14 0 -6-2 -8-6 8 6 -2-3 -3-4 4 8 -3-8 2 1 -3 3 4 1 -7 3 0-6 4-1 3 7 -7 1 6-4 1 3 0-1 -3-6 -1 3 -1 4 4-13 -5-3 4 1 -1 3 0 2 3-7 0 6 -6-7 -1 7 4 1 -3 1 5-9 -1 5 -3-4 3 0 1-1 -2 6 1 3 -5-6 7 0 0 7 -2-13 -4-22 2 11 0 7 3 0 0-6 -1-6 1 14 -4-2 -3-15 1 16 8 2 -7-14 0-6 0-3 2 23 0-8 -1 4 2 6 4 0 -1-6 -2-20 -17 47 15-60 2-19 2-11 -4-4 4-4 183 97 -11 0 -6 0 1 0 32-1 -30 0 13 0 -10 1 9 0 11-1 -10 2 -11-2 4 1 -6 1 11-2 6 1 -1 0 -17-1 1 2 22-1 -10-1 6-6 0 1 -10-1 10 3 -1-8 -6-3 2 3 0 5 2-7 2 1 -7 11 3-1 2-3 -3-9 4 5 -5 6 8-10 -9 5 8 2 -6-2 2 4 -4-11 2-4 3 0 -2-6 1-3 -3 8 8-6 -2 5 -1 0 -2 6 0 0 -1-11 3 4 1 5 -8-5 9-2 -7 7 -1-8 6-1 -3 4 4-4 -1-21 1 11 -4-28 3 34 -1-29 -2 17 -1 13 -3-23 6 7 1 6 -2-7 -4-2 2 4 0 9 0 3 4-10 -6 7 8 3 -7-4 2-8 0-4 -1-19 -1 69 197 0 -18 0 17 0 -20 0 2 0 17 0 -24 0 32 0 -9 0 10 0 -1 0 -18 0 -13 0 15 0 -8 0 -8 0 27 0 1 0 -16 0 7 0 1 0 12 0 -27 0 15 0 0 0 7 0 -18 0 24 0 -21 0 -11 0 4 0 12 0 -13 0 13 0 -8 0 5 0 10 0 11 0 -29 0 19 0 4 0 -20 0 9-8 -3 7 -1-4 7 0 -4-3 2 1 -5-1 0 1 4 0 0 5 0-1 -3-2 1-1 3 0 -2 5 3-4 -1-2 -1 6 1-6 0 6 0-5 -4-2 4 0 -5-3 7 3 -6 0 -1-1 5-1 0-5 -5 6 3-6 -3 4 6 3 -6-2 2 2 6-5 -5 0 -2 1 3 1 3 2 -7 0 -1 1 5-7 12 15 -12-21 2-5 -5-4 5-3 -2-5 -3-10 0-3 1-2 5-25 170 76 8 0 -8 2 1-1 -2-1 7 0 -6-1 -9 2 -1 0 -4-1 18 1 -2-2 -17 1 6 0 8-2 -3 3 -12 0 10-1 5 0 -16-1 17 2 -5-4 7-2 -7 3 1-2 7-2 -17 3 17 0 -1 1 -12-3 -3 0 8-1 16 3 -10-1 -12-1 1 0 -5 2 1-2 2 0 -3 2 19-2 -14 2 0-7 7 0 1-7 -7 4 6 4 -5-1 3 2 1 0 7 1 -4-9 -7 6 9-4 -10-2 7 1 5 4 1 0 1 4 -2-2 -10-2 5 3 -1 1 -1-22 -1 8 2 0 -1-2 7 4 -2-10 -1 11 -2-4 0 1 3 0 -7-5 0 5 7-8 -6 8 2 2 1-3 -2-1 7 1 -4-4 2 1 4 6 -8-11 5 32 -4-37 -3-4 3-4 -2-10 0-2 5-5 0-30 -4-2 3-16 181 110 -7 0 -1 0 11 0 -1 0 -12 0 6 0 -9 0 -2 0 2 0 25 0 -19 0 13 0 -24 0 -2 0 -2 0 25 0 -3 0 -1 0 -13 0 -4 0 15-5 0-3 0 3 -6 1 0-4 8 2 -8 1 7 3 -4-5 -3-1 3 0 2 1 1 5 -5-3 5 0 3-1 -5 5 3-7 -5 7 6-4 0 3 0-15 -7-4 5-1 2 10 -4 1 2-12 0 6 2 6 -3-5 -2 2 5-1 -5-6 4 1 -6-3 3 13 4 1 -3-13 3 2 -1-3 -5 13 2-9 2-9 0-21 -2-3 4 8 -4 0 0-2 -1-7 3 21 -2-10 0-6 -1-4 -1 28 3-5 1-4 -1 2 4-10 -8 13 2-5 4 5 -5-23 -2 26 6-31 5 56 -8-58 4-10 0-21 -4-2 -2-3 6-10 -1762 272 -13 2 -2-3 15 3 2 1 -2-2 -12-8 0 11 9-7 5-4 -5 7 -6-6 0 9 3-9 -14 7 -4 1 21 1 -8-7 -9 5 2-4 -7 9 12-22 -15 2 19 4 -9 1 -3-2 -5-2 22-5 -3 0 -8 3 12-3 -6-1 -14 11 23-9 -8 6 -2-6 -4 9 -4-9 18 6 -18-2 17-3 -15 4 12-7 -11-5 14 0 -1-7 -16 1 -7 1 12 10 0-10 -6-2 12 6 6-1 -3 7 4-3 -6-9 6 7 -23-5 12 10 9-11 -10-1 -10 5 23 1 -14-37 2 27 5 0 0-1 -6-19 -1 20 4-4 -7 6 10 0 -6-18 1-8 0-3 1 26 1-25 -5 7 -3 17 6 4 2-11 -1 11 1-16 -1-8 -2-6 5 69 -3-81 0-11 0-8 177 81 -16 7 1-12 6 15 9-16 -18 17 12-17 9 12 -9 5 -6-9 4 3 6 4 -7 3 5-4 -10-2 1 7 4-2 2-8 -5 6 10-7 -5 1 -16-16 21 2 8-1 -9-2 -12-1 17 5 -5-1 -17-4 18-1 5-1 5 8 -9-4 -4-1 -4 2 -10 1 12-5 2-1 8 2 -4-3 7 10 -29-8 5-4 7-3 9-8 6-1 2 11 -15-1 8-6 -14-1 15 1 3-1 -5 6 -4-8 6 6 5 2 -12 1 -2 0 2-6 -10-1 8 4 -8 6 -2-9 13-17 2-13 -1 25 -6-3 -4 2 2-4 0-5 3 11 6-2 -6-25 3 24 -1-12 1-19 -5 5 8-1 -5-5 -2 16 3 1 4 10 -8-2 4-20 -1-5 7 81 -5-86 -3-15 173 102 5-1 4 0 6 2 -15 1 12 2 -8-5 -19 3 -1-4 7 4 25 2 -23-6 6 2 -4 4 10-7 10 1 -28 6 11-2 8-4 7 2 -8 2 5-7 -8-2 -9-2 -1-3 12-5 -6 5 8-4 1 10 -18-8 22 2 -19 1 19-6 -11 6 10-6 -21 10 12-4 -3-7 11 12 -3-7 -5 3 1-2 1-18 -8 9 -4-5 9-6 4 6 -11 0 14-6 0 1 -5 2 -7 0 2 2 1 1 3 0 9-4 -4 8 -17-2 2-8 -1-1 16 9 -2 3 6-10 -8-29 -1 25 1 1 1-27 -4 13 8 14 -10-20 3 4 0 15 -4-21 3 22 -2-13 2-19 2 6 -1 17 -3-9 9 17 -4-18 -1 18 0-7 -3 0 2-24 -3 71 2-73 0-16 175 88 24 0 -7-2 -7 1 2 1 -10 0 24-1 -17 1 -7 1 -4 0 13-1 10 0 -14-1 -2 2 9-2 13 1 -19-2 0 3 14 0 7-1 -1-1 -20-4 9-2 -4-12 2 10 -3-4 5 8 -3-7 0-5 1 2 -6 12 7-3 -6 3 1 1 1-2 2-9 -6-2 2 6 0-4 7-5 -3 7 3 6 -2-21 -7 0 8 7 -1-11 -7 7 7-5 -1 9 -3-3 6 1 -3-4 2-8 0 2 -6-3 6 1 -8 2 1 8 6-11 -3 11 -4-7 1 4 2-10 -3-34 3 30 1-9 4-22 -4 21 4 3 -6-5 7 14 0-1 -7-31 0 9 3 18 3 2 -1 2 -3-9 2 10 -5-13 6-1 -6 7 0-6 6 12 -1-33 2 73 -5-110 158 110 19 0 -20 0 24 0 -18 0 10 0 1 0 -11 0 13 0 -1 0 -4 0 -1 0 -7 0 17 0 -3 0 -19 0 25 0 -6 0 -13 0 -6 0 1 0 14-5 0-5 2-10 1 14 -3-7 -1 4 0 7 0-16 0 7 5-8 -2 6 0 6 -5 6 -1-1 3-10 3 2 -2-3 1-4 -2 13 3-7 -2-6 -1-16 1 5 1-8 -5 8 1 0 1 3 1 2 -1-2 4-13 1 13 -5-1 -1 2 2-11 2 8 0-10 -5 15 4-9 3-4 -4 6 2-8 -1 7 2-51 -6 10 3 10 4-8 -5 29 5-27 -6 25 3-2 -2-10 -1-3 2-27 -1 38 3-20 0 10 3 11 0-3 -7 5 4-1 0-19 3-11 -5-5 0-5 -5 84 5-91 3-4 157 93 20 0 -3 1 4 0 -20 0 -5-2 9 2 18 0 -1-1 -15 1 -2 0 2 0 3 0 18-1 -10 0 9 1 -20-1 14 2 1 0 4-3 -28 3 18-6 -3-1 -2-3 2-6 -7 5 8 8 -8-12 6 4 -4 4 5 1 -7 2 8-6 -4-6 7 3 -9 8 -3 2 0-5 10-2 -7 3 5-4 -8 0 5-12 -3-2 2 3 0-3 7 5 -1-6 -10-5 8 7 4-4 -8 0 8 1 -1 8 -10 1 3-8 3 7 1-9 3 8 0 2 0-9 -2 3 -6-4 1-4 -1-7 2-15 1 7 -3 13 0-1 1-19 5 19 -6-19 0 21 4-19 -2 16 4-9 -1 7 -1-7 -3 13 4-7 -5-4 4 9 -3-2 6-13 -4-6 1 55 -1-57 4-24 -5-4 0-16 165 101 24 0 4 0 -19 0 -1 0 7 0 -13 0 1 0 11 0 -5 0 18 0 -4 0 8 0 1 0 -23 0 7 0 -12 0 20 0 5 0 -26 0 28 0 -19 0 4 0 -11 0 15 0 13 0 -33 0 8 0 25 0 -24 0 17 0 -1 0 5 0 -12 0 -16 0 10 0 16 0 -29 0 4 0 25 0 -27 0 28 0 -12-2 0-3 -1-7 -3 11 7-20 -8 19 6 1 -1-9 -2-12 0 16 -2-11 4 16 -5-23 4 20 -1-3 -2 0 3 2 3-14 -5 5 5 9 -7-4 6-58 -1 11 -4 12 1 15 3-18 1 5 2-5 -1-13 -3 1 -3 22 3 5 3-22 1 3 -8 16 0-9 5-7 -5 10 6 10 -2-12 -3 13 3-2 -1-36 -13 68 12-88 187 88 2 0 -16 0 15 0 6 0 -24 0 2 0 8 0 2 0 13 0 -24 0 6 0 9 0 10 0 -12 0 -7 0 8 0 19 0 -24 0 22 0 -26 0 12 0 -11 0 12 0 -16 0 25 0 5 0 -33 0 0 0 13 0 7 0 -4 0 -15 0 19 0 -2 0 -15 0 18 0 -17 0 17 0 -12 0 -5 0 28 0 -2 0 -18 0 13 0 -1 0 6 0 -12 0 16 0 -6 0 -20 0 9 0 -17 0 25 0 -23 0 18 0 -3 0 -16 0 10 0 6 0 18 0 -11 0 -9 0 16 0 -15 0 -1 0 8 0 -14 0 10 0 -8 0 11 0 13 0 0 0 -22 0 -8 0 19 0 0 0 7 0 -8 0 -20 0 7 0 12 0 -12 0 2 0 174 0 2 0 4 0 28 0 -12 0 -18 0 -1 0 10 0 -2 0 18 0 -17 0 21 0 -2 0 -20 0 -11 0 18 0 -4 0 13 0 -8 0 3 0 6 0 -24 0 28 0 -28 0 -4 0 7 0 -4 0 10 0 -13 0 26 0 -25 0 11 0 -10 0 7 0 14 0 -19 0 22 0 3 0 -10 0 -14 0 21 0 -24 0 14-14 3 14 1-8 -2-2 2 1 -4 1 2 2 -5-5 0 10 2-5 0 0 5 4 -4-5 1 7 3-3 -2 2 -5-7 3 8 3-7 1 1 1-5 -4-13 3 9 1-9 -2 6 1-5 -7 7 7-2 -5-9 -1 6 7-9 -1 6 0 1 -1-1 1-5 -7 10 7-3 -4-7 2 8 -5 2 6 4 -1-11 -1-7 9 33 -10-42 -1-22 2-3 -3-2 5-6 -1-9 -3-5 1-6 176 93 6 0 0 0 -24-1 1-1 25 3 -6-1 -19 0 11 0 9 2 5-2 -13-1 11 1 -15 0 -5 0 13 0 2 2 -11 0 5-4 -7 2 24 0 -7-6 -8 2 5-4 7-1 -19 0 5 3 -10 3 8-1 -2-2 -6 3 11-5 0 1 13 1 -22-3 12 3 9 4 -18-5 -3-1 14 6 -11-7 4 0 1-14 6 12 -1-4 1-9 0 11 -6-5 3 5 -1-6 5 7 -1-5 -4-3 6 9 -14-11 14 8 1-8 -7 10 -2-12 3 12 5-10 -10-2 8 6 0-34 0 27 -3-10 0 11 -6-2 1-21 -1 19 4-16 3 10 -7 2 6-17 -4 25 2-6 5-24 -5 20 -1-4 -2 5 7 3 -1-4 -7 3 5 7 1-31 -8 57 3-61 4-4 0-3 0-5 -1-7 4-13 184 93 -19 0 -5 0 18 0 1 0 -15 0 29 0 0 0 -13 0 -12 0 21 0 -27 0 19 0 -16 0 17 0 -2 0 0 0 -19 0 8 0 1 0 9 0 -8-2 -1-4 10 5 -4 0 4 0 -5-2 3 0 -3 0 1 1 -5-3 0 2 3-1 3 4 1-6 -6 5 7-4 -3-1 0 3 -1-4 -2 1 4 1 0-11 -5-1 4 0 0-2 -4-7 -1 4 3 13 0-11 1 9 0-3 -2 2 0-13 3 4 -4 13 1-3 1-8 -1 2 4 5 1 1 1-13 -2 2 2-14 -4 6 -1 0 3-23 1 14 -7 2 1-11 1-1 1 4 3 17 -2-25 2-5 -5 28 -1 2 2-27 5-6 -4 28 4 1 -6-23 2-5 5 4 -3-6 17 62 -15-65 0-2 -1789 241 30 1 0-3 -32 2 15-1 4 0 2 0 9 1 -6 0 -11 0 13 0 -6 0 10-1 -4-1 -23 2 19 0 -16 0 -5 1 16-3 -10 2 -7 1 19-4 -6-7 -4 0 9-1 2 1 5 5 -3 3 -12-9 6-1 -2 1 0 1 4 5 0-4 -9 5 4-4 12 5 -10-7 -3 5 10-4 -2 2 5 0 -2-17 -5-1 -5 0 4 4 0 1 -6 8 5-13 2 3 4 6 0-7 0 5 -10-8 -2 8 1-1 8 0 -2 6 -4-11 5 2 -7-2 7 4 -4-4 6-11 -7 3 5 4 0 0 0 1 0-12 -3-12 -2 19 7 5 0 1 -8-25 8 17 -4-9 -3-3 4-5 3 10 -7-1 2 2 -3-2 5 15 -2-16 0-10 -2 54 5-77 1-14 -5-1 4-17 165 109 -5 0 -4 0 32 0 -23 0 -5 0 9 0 -12 0 1 0 28 0 -6 0 -26 0 2 0 21 0 5 0 -8 0 -15 0 14 0 -2 0 11 0 -24 0 24 0 -15 0 11 0 -12 0 11 0 -12 0 18 0 -1 0 -5 0 -23 0 8 0 1 0 6 0 8 0 5 0 -22 0 -4 0 8 0 0 0 18 0 -4 0 -9-3 1-2 -2 3 2-3 4 1 -5 1 1 1 3 2 -7-4 3 4 3 0 -2-5 0 1 3-1 -4 2 1 3 3-1 -4-3 -3 2 5 0 1 2 -1-6 -5 0 9-2 -2 2 -3-5 4 2 -1-1 0 2 -5-1 2-2 -1 0 5 4 -5-3 3 3 -2-3 -2 4 6-2 -5-2 3 0 -2 4 -1-3 1-3 -16 12 18-13 -4-3 3-3 0-4 3-8 -1-2 1-6 -2-46 -3-7 169 87 6-4 13 2 -3 5 -29-6 32 1 -20 1 -3 2 18 2 -13-4 -7 5 13-1 0 1 10 0 -4-7 -24 7 18-8 -2 4 7 1 -23-1 19 4 0-12 -5-3 -9-3 -5 8 24-2 -10-4 16 1 -2 1 -1-4 -23 6 1-4 15 1 3-2 -6 5 1-5 -17 7 21-2 -3 3 -1-1 -19-5 3 2 16-23 -12 2 1-3 0 15 17-1 -2-5 -12-3 -1 3 0 0 8-8 -12 13 18-7 -16 4 0 4 8-5 1-1 6 8 -15-10 6 0 2 4 -6 6 8-24 0-32 -1-1 -2 21 3 17 -2-20 -2 7 -4 14 5 0 6-9 -10-10 -1 11 8-4 -4-6 -1-1 6-15 -4 6 0 6 -4-1 5 17 5 1 -5-35 -4 79 1-98 178 96 19-2 2 3 -6-3 11 3 -30-5 17 4 -15-4 16 4 -16-1 0-2 28 1 -24 0 18 0 -17 3 19-1 -28 2 19-3 5 2 6-1 -3 0 -18-11 0-2 -1-5 16 5 2 3 -16 2 14-9 3 10 -12-6 3-3 4 4 -9 4 -2-7 -5 9 17-9 -16-2 17 0 0 4 -7 5 -3-8 3 9 3-18 6 1 -5 5 5-15 -14 12 6-10 -4 0 -4 9 1-7 11 6 -14-2 6-8 2 9 -5 4 5 2 -5-11 4-4 -3 4 5 12 -9-11 3 5 3-12 5-13 -5-9 -2 9 9-11 -4 11 -3-23 -3 36 1-36 9 34 -2-7 -6-26 2 10 1 4 -2 19 7-12 -9-9 6-8 -2 30 3 1 -2-27 -1-10 0 75 0-90 -1-9 166 96 19-2 -4-1 -16 3 -8-1 29 4 -27-2 -1 1 25 0 -4-5 -14 2 13 2 -16 2 24-3 -9 2 5-2 3 2 -14-4 -14 2 25-3 -15 1 -3-11 16 0 -2 9 -12-3 -2-2 0-3 12 0 8 8 -12-8 8-2 5 3 -9 2 2-1 -4 4 -10-1 -1 0 11-4 -4 5 -2-5 1 1 2 5 6-29 -11 7 12-6 -9 7 -1-6 -4 6 14 4 -10 7 -4-18 15 16 -14 0 5-10 -4 4 9-13 0 0 -7 6 9-5 -6 6 -4 7 -1 7 13-3 -5-19 -5-8 8-7 -2-8 2 8 -1 4 -1-8 -2 5 5 14 -8-12 0 1 6-5 -7-13 0-6 -1 35 6-29 0-1 1 25 0-21 2 18 -10 8 5-39 -1 79 1-92 182 88 -15-1 9 2 -18 1 11 0 13-1 -5 3 -8-4 -12 2 21 1 -15-2 18 3 -1-5 -11 1 -7 2 21 0 4-2 -6 1 1-2 -19 0 25 4 -6-6 -3-8 -1 1 -14 3 6-3 -3 7 11-6 -10 0 13-6 -11 10 1-3 0-1 8 2 -14 3 8-10 7 9 -13 0 13 4 -18-10 19 3 -15-4 10-5 4-6 -13-4 -5 6 17-4 -7 3 9 5 -12-3 6 5 3-10 -14 4 4 5 7-7 -4-1 -5-3 6 3 3 3 -13 5 13-8 7-3 -12 1 6-17 1 13 -1-11 -3-15 2 7 -5 19 4-27 -3 24 -1-21 3 7 -4 19 3-18 4 5 -5 13 -2-11 7-4 -1 1 -3 14 -2-23 2 18 0-9 1-18 1 64 -2-69 -3-7 1-12 -1-16 196 102 -16 2 -11 0 15 0 -4-1 7-1 -19 0 24-1 -24 1 26 0 -23 0 22 1 -22 1 7-1 9 1 0 0 5 0 -21-1 -1 0 20-1 -14 1 9-5 -7-1 -2-4 3 7 -3-5 5 0 -6 2 11-5 -1 6 -3-6 -8 6 15-2 -13 2 -1-5 2-4 2 9 0 2 3-6 -5 0 -2-3 4 4 0-15 0 5 2 3 6-9 -1 6 -5-3 -4 3 2-1 1-3 6 4 -10 2 6-9 -1 0 4 8 2-3 -3-10 -5 6 -2-6 3 6 -2-5 7-1 0-3 -1-7 -1-28 1 22 -2-18 -2 7 5 12 -6-12 1-10 -1 24 2-12 4 18 0-19 -8 20 8-16 -2 14 -1 1 -2 1 -3-29 3 23 4 2 -3-34 8 75 -8-81 -2-31 181 112 6 0 11 0 4 0 -27 0 3 0 -7 0 1 0 11 0 23 0 -28 0 -1 0 13 0 -8 0 20 0 -9 0 1 0 -9 0 -10 0 13 0 5 0 0 0 -7-6 1 4 -2-1 1-7 1 0 1 3 -4 1 7 4 1-8 -4 6 3-6 -1 6 -1-5 1 3 -5 4 3 0 1-4 1-4 1 9 -1-3 0-20 0 8 1 1 -6 3 2 1 5-6 -2-8 -4 3 2 1 -2 7 3 2 1 1 -2-8 -2 8 0-11 2 1 2 3 -3 3 3-7 -2-2 0 10 -2-18 3-6 -4 12 3-31 3 7 -1-3 0 0 -3 25 -1-1 -1-12 0-2 4 17 -3-7 1-20 0-7 2 6 1 27 -2-6 4-9 -1 14 -3 1 0-34 6 61 -6-74 -3-26 194 100 2 0 -4 0 -15 0 25 0 3 0 -21 0 -1 0 10 0 -1 0 11 0 -9 0 -16 0 4 0 5 0 17 0 -29 0 27 0 1 0 -18 0 4 0 6-1 -3-1 0 1 -4-3 3 0 4-1 0 3 -6-1 4 2 -1-3 -3 3 4-1 -1-2 3 3 -8-2 6 0 -4-1 -2 0 6 1 -2 3 0-1 -6-5 4-10 2-1 1 11 -7-1 5-5 -4 4 5 0 1 1 0-1 -5-4 5-3 -3 8 2 1 3-9 -8-2 7 3 -1 7 -5 1 6 0 -2 0 -4-35 2-3 -1 20 3-14 -4 1 2 18 3-18 0 18 -5-7 -1-3 3 9 -3-23 2 21 2 2 -1-10 4-10 -8 14 2 7 -1-13 6 7 -5 7 1-26 -5 44 8-56 -3-3 0-3 2-11 -3-13 176 86 9 0 -22 0 20 0 3 0 -29 0 30 0 -4 0 -26 0 26 0 -22 0 28 0 -21 0 17 0 -21 0 21 0 0 0 -18 0 8 0 8 0 -27 0 28 0 -19 0 15 0 2 0 -7 0 3 0 -7 0 15 0 -13 0 -7 0 -9 0 14 0 9 0 -11 0 0 0 14 0 -26 0 7 0 -6 0 23 0 1 0 -13-15 2-3 0 2 4 14 2-3 -1 0 -2-2 -4-3 6-14 1 3 -6 17 3-11 0-2 -4 2 6 4 -5-1 1-2 -2-11 5 6 -3 8 1 11 3-43 -4-15 5 15 -6 11 -1 6 4-15 1 14 -4 0 5-27 -1 8 -4-10 1 24 -1 6 0-10 2-8 2-11 0 4 -4 10 0 14 1 0 5-3 -4-28 -8 58 7-61 3-9 1-2 -4-3 -1-20 0-3 -1-5 167 103 28 0 -11 0 6 0 2 0 8 0 -13 0 -2 0 1 0 1 0 -19 0 27 0 2 0 -17 0 14 0 -18 0 7 0 8 0 -6 0 2 0 -17 0 13-4 -2 3 3 0 -1 1 3-2 -7-3 2 5 -2-3 2 1 2 0 -3-1 1 1 0 2 5 0 -5-5 5 1 0 3 -3 0 -1 1 3-4 1 2 -7-6 7-5 -8 4 7 2 -6-1 7-6 -6 2 -1-1 3 0 2-1 -4 7 4-5 -1 0 -4 4 7-4 -6 4 3-6 2 4 -5-3 0 7 1-1 5-10 0 0 -5 1 -2-1 4-1 -4 2 -1-1 6-2 -2 0 4-5 -1 8 -1-2 1-1 -6-3 -1 0 0 6 4-4 -3 3 0-1 3 2 1 0 -2-9 -6 25 5-49 4-2 2-4 -5-3 -2-17 6-11 -3-14 -1781 269 16-1 6 7 -20-11 19 9 -1 2 -20-1 17-4 -20-5 18 7 -6-5 1 6 8-7 3 2 2-2 -8 1 -17 7 4 0 3 1 -5 0 20-5 -12-17 -5 7 17-4 4 2 -27 0 4 1 -2-4 7 0 17-1 -15 4 4-3 -18 0 25 4 -9 0 -10-1 8 2 8-1 3-2 -4 1 -8-3 14 1 -23-8 2 2 13-11 -11 0 12 13 -2-9 8-7 -5 13 -8-14 13 8 -2-3 -18 8 2 1 2-11 2-2 10 2 -16-1 9-4 11 13 -12-2 4 3 6-17 -2 3 -7-7 3 4 -1 3 -2-4 -2 3 6-14 0 15 -3-20 -2 5 -4 5 3 10 0-8 -2-7 8 4 -9 0 5 3 -2 4 -5-3 -2 7 9-23 5 66 -1-88 -3-2 -3-9 4-6 -5-6 188 111 -30 0 8 0 -1 0 22 0 -19 0 1 0 20 0 -5 0 -7 0 -2 0 -5 0 -2 0 25 0 -12 0 -10 0 14 0 -10 0 14 0 -4 0 -6 0 -5-1 -3-2 2-1 3 3 -3-3 -1 1 -1 2 7 1 -2-1 0 0 -1-2 -2 0 7 2 -1-1 1 2 -3-3 -6 2 2-2 4 1 -2 0 -2-2 -1-6 6 2 -2-5 -3 0 5 2 -5-1 3 1 2 1 -6-4 0 6 3 2 1-9 -2 10 4-9 -3 2 3 2 -1 4 -3 1 -2-2 5-6 -5 0 6-5 -2-1 -3-3 6 6 -5 1 2-6 0-2 2 3 2 5 -1-7 -1 3 -3 1 3-1 -3 4 4 0 0-8 0-4 -6 11 4-2 -6 1 1-10 3-1 -11 28 12-35 -1-2 2-4 1-2 0-9 -2-12 1-6 -1-2 2-12 168 84 -16 0 30 0 -9 0 -17 0 8 0 -13 0 12 0 10 0 -5 0 13 0 -13 0 -9 0 26 0 0 0 -6 0 -14 0 0 0 7 0 -17 0 20 0 -10-4 4 3 -1-1 4-3 1 0 -4 3 -5 0 1 0 8-2 -10-1 5 3 3 2 1-1 -3-1 0-1 -4-1 5 2 2 1 -1 0 -2-2 2 1 -4-6 2 0 0-1 -3-3 0 2 -1-3 3 5 1 0 -1 0 -3-6 3 2 -1 4 3 2 1-4 -6-2 4 2 -3 2 0-5 1 2 0 4 1-1 -3-10 0-12 5 13 -1 2 -1-11 -1 11 1-2 -3 1 -1-12 3 3 4-4 2 6 -4 0 2-4 -5 8 1 3 1-4 4 5 -8-13 0 11 6-13 -1-1 8 31 -12-37 4-6 -3-22 0-3 -1-9 4-14 -4-8 200 91 -2 4 0 2 -11 1 4-3 -5 3 1-1 9 1 -1-7 -5 0 -13 3 11 2 -5-3 15 5 -16-7 8 5 9-1 1-1 -16 3 0 0 2 1 15-13 -1 0 -15 0 12 2 -10-1 3 2 -1-1 7 1 10-2 -8 2 -8-1 -13 2 8-1 -8 2 2-5 2 3 7 0 -3-3 7 3 8-3 -20 4 13-8 -12-7 5-3 6 13 -9-11 9 8 3-1 -1-3 -13 2 15-9 -10 11 6-2 -3 4 -7-2 11-4 -6 0 -5 4 1-3 9-4 -6-2 4 12 -6-17 5-8 3-13 -3 13 5-3 -2-13 -5 12 -2 5 7-4 -2 14 2-15 2 8 -3 1 -4-19 0 24 -1-13 7-7 -2 20 -6-10 1 8 5-18 -1-6 4 56 -3-61 -2-14 0-11 2-8 155 90 17 3 6-1 -15 1 19 0 -6-1 10-1 -24 0 17 1 -11-1 -3 1 19 2 -4-3 -23 1 23 0 -21 0 4 0 22-1 -24 2 6-1 -1-1 -5-2 15-1 -15-1 1 1 3 1 -3 1 0 0 7 0 0-1 -6 0 21-2 -21 2 2-1 10-1 -21 3 8-2 11 1 12-1 -12 2 12-1 -1-1 -18-10 10-1 -10 7 4 0 1 1 -5 1 9-6 -2-1 -3 0 5 6 -3-9 0 0 2-1 -5 7 0 4 7-5 -1 2 -5-3 -4 3 1-1 0-5 5-6 -7 3 3-6 6-5 -8 8 2 2 6-5 -2 2 -2-7 -4 11 1-1 -1-4 7-7 -5 4 0-2 1 4 0-12 3 9 -2 5 -4-3 5 6 -2-20 -4 41 2-45 6-3 -2-5 0-5 -5-3 2-5 -1-13 2-13 0-1 171 87 -9 3 -1-9 13 5 -3 4 -3-2 8-2 -9 3 8-2 10 1 -14 1 11-5 -8 8 5-5 6-3 -13 6 9 0 -2-9 -15 6 -1 1 7-4 7-10 9 6 -11-8 6 8 -2 0 -4-2 10-7 -26 3 19-1 -14 3 13-4 -9 5 17-3 1 4 -26-5 26 1 -28-1 23 5 -2 1 6 1 -4-3 4-6 -29-5 32-4 -23 1 7 6 12 0 -12-2 9 1 7 1 -29-4 21 3 -2 3 -20-6 12 5 12-6 -22 5 -4-4 30 1 -23-3 -4 7 28-8 -18-9 4 8 -9-1 3-7 3 3 8 0 -11 2 6 2 -1-15 0 10 5-3 1 3 -2 3 -1-7 -6-1 11 9 -5 3 -6-15 9 14 1-5 -5-13 -1-8 -8 58 5-61 3-10 -4-3 2-8 -2-7 1-4 2-5 3-6 187 101 -27-2 21 2 -16 0 7 1 12-1 -24-1 -1-1 0 3 25 0 -3 0 11-2 -12 0 -3 3 -2 0 -12-1 25-2 -27 3 18-1 -14-2 13 2 6-7 -18-3 5 7 -2-6 1 1 -1-5 6 2 8 0 -11 0 10 3 1 0 -1 0 -5 3 1-6 -10 7 17-4 -4 3 -13-3 8-3 -1 4 7-4 -13-6 2-6 11 1 -4 0 -2-10 2 16 -5-9 3 1 6-5 -8-6 7 10 -3 10 -3-11 -5-6 3 15 7-13 -9 8 10-4 -2 0 2-10 -2 20 -7-36 1 4 5 7 -2-12 -2-21 6 19 -4-11 -3 7 3 19 3-9 -1 11 -1-9 -6 9 1-19 8-15 0 33 -5-34 -2 17 6 20 -3-12 -5-16 3-12 8 78 -9-94 6-8 -2-6 -2-1 200 106 -9-1 -7 2 1 1 -1-3 -2 3 11 1 4-3 -26-1 5 3 23-1 -22-1 -1 0 4 2 8-2 -4 0 -1 0 2 1 -9 0 1 0 8-1 2-10 6 8 -9-3 0-6 4 6 1 1 -8-4 -1 4 10 1 0-8 6-1 -11 4 2-3 9 7 -17-5 13-3 -9 5 6 4 0 0 -7-5 9 4 -10-22 11 7 -2-5 1-4 -8-7 3 22 4-7 -6-7 7-3 -4-6 -4 17 4-11 -1 10 5-9 -7 0 3-3 -3 2 7-1 -4 15 -3-19 6 12 -7-54 7 25 -4 6 4 2 0 4 -3-23 3-13 -6 26 3-15 -3-2 6 29 -1-36 -5-5 3 27 3 8 -4-11 1-19 0 25 4-1 -8 4 -1-9 6-25 6 83 -5-93 -3-14 173 102 15-1 -17 4 28-1 -23 2 11 0 -8-5 11 0 0 0 13 3 -25-1 11 3 12-3 1 0 -5 1 -16 0 20-1 -8 2 -21-2 27 3 -8-3 -13-7 14-1 -3 6 -6-9 -7 6 21-4 0 2 -15 1 0-2 3 5 7-4 -4-2 9 4 -15-1 12 0 1-5 -7 0 4 5 -6 3 9-8 1 7 -10-9 -3-8 9-1 -6 7 -5-6 4 8 2-5 -11 6 8-7 8 3 2-4 -18 3 8-2 5 0 3-2 -14 1 14-2 -10 0 6 8 0 0 7-1 -12-28 9 16 -4 4 -1 0 2-17 -5 4 1-3 1 5 4 11 1 0 2 0 -11-5 1-2 -2 7 3-17 0 17 3-19 -2 0 0 17 -3-2 1-19 5-3 -5 53 6-63 -1-1 -5-18 1-4 0-7 4-15 -2-3 188 111 -12 0 -21 0 4 0 5 0 8 0 -1 0 12 0 -9 0 -12 0 10 0 -10 0 9 0 12 0 -27 0 26 0 -11 0 2 0 3 0 -9 0 -4 0 9-7 -1 0 -3-2 6 8 2 0 -5-6 3 4 -2-2 1-2 -6 4 5 1 4-5 -7 2 1-2 1 1 0 0 1 1 -4-2 0 3 8-2 -3 1 0-10 -5-2 6-4 -6-6 7 16 -6-11 0 12 3 1 3-10 -7 1 1 1 -1 4 7-2 -2-12 -4 16 6-16 0 10 0 2 -6 6 1-9 -2 9 0-30 5-7 -3 17 5-35 -8 25 5 10 3-13 -2-9 -5 19 5-4 -2-19 0 1 2-11 0 9 1 27 2-10 -8 5 -1-17 9-8 -1 21 -4-18 0-11 -4 67 8-72 -5-2 3-3 -1-12 2-2 -1053 267 -16 9 0-10 15-1 -23 10 10-4 6-9 10 12 -31-8 9 3 -5-1 -2 4 13-5 8 2 -9-2 -8 8 18-6 -16-10 23 17 -17-3 0 2 9-19 -5-5 15 5 -16 0 8-4 -4-3 -17-2 2-1 27 2 -14-2 -14 8 11-7 -12 8 19 1 -13-2 -8-7 29 9 -25-9 8 0 -5 0 -1 0 11-10 8-5 -17-12 1 18 -2-17 19 6 -2 8 -20 2 5 4 -1-21 8 9 -2-5 0 15 -7-7 17-8 -11 7 12-5 -4 19 3-4 -2-6 -6-14 7-3 -4-30 -2 23 4-7 -1-5 -2 7 -8 4 -1-9 11 17 -10-20 10 3 -15 16 12-24 -8 3 13 18 -11-15 -4 5 3-2 6 14 -11-4 10 6 -3-34 7 93 169 0 0 0 25 0 -4 0 -13 0 21 0 -21 0 13 0 -12 0 -3 0 -13 0 24 0 4 0 0 0 -7 0 -22 0 33 0 -6 0 -14 0 -10 0 28 0 -11-1 -7-14 8 1 -8-1 8 3 -1 0 -2-3 2 15 -4-6 2-5 2 3 -2-8 5 16 -4-2 -2-11 -1 12 2 0 -2-9 2 8 -2-4 1-1 0-10 -4-3 9-3 0 1 0-13 -8 10 3-7 0 3 -3 13 8-13 1 3 -10 0 3-5 7-2 -1 13 -2-9 -3 7 2 3 3-9 -6 5 2-2 -2-43 4 13 -2-4 1 7 4-10 -9 0 7 15 0 6 0-22 -8-9 9 34 -6 0 6-11 0 0 -6 12 1-23 -4 1 2 20 2-16 3-11 1 0 -2-7 -6 73 8-93 -2-14 1 0 -187 283 -13 0 31 0 -11 0 -26 0 27 0 -23 0 16 0 -17 0 -1 0 -2 0 40 0 -18 0 15 0 -21 0 -9 0 5 0 7 0 -15 0 -5 0 29 0 -15-2 5 1 -1-1 -6 0 14 2 -6-1 8 1 -4-2 -7 0 8-1 0 2 1 0 -8 1 5-2 7 2 -18-1 13 1 5-1 -15-1 2 2 -4-2 3-7 0-10 9-1 -1 9 -3 7 4-14 -3 14 -2-16 5 8 -5 6 0 0 3-5 -3-5 -3 0 2-2 -1 1 5 11 -1-10 -4 0 2 13 5-12 -1-15 -8-10 10 9 -10 6 3-17 -2-1 3 6 3 13 -5-8 0 6 1-7 1 9 -3-14 6 13 -7 0 6 1 -7-16 6 9 5-3 -7-9 -2 12 3-13 15 44 -11-46 -7-14 2-1 5-28 184 89 14 0 -32 0 35 0 -5 0 -21 0 26 0 -4 0 2 0 -12 0 -9 0 13 0 -19 0 27 0 -23 0 -16 0 6 0 6 0 27 0 -8 0 -18 0 11 0 -18 0 23 0 -25 0 1 0 25 0 9 0 -33 0 9 0 26 0 -1 0 -5 0 -26 0 9 0 -3 0 5 0 12 0 7 0 -4 0 -11 0 -22 0 22-24 -6 2 2 6 4-15 -7 8 7 7 -7-3 4-7 4 18 0-5 -8-18 8 1 0 18 -1-12 -2 2 -1-9 -2 17 5 4 1-10 -4 3 3 12 -2-76 -6 41 6-16 -6 0 2-4 -3 12 4-26 6 33 -6 3 5 2 -5-2 -3 6 10-37 -2 14 -6-2 7-4 -3 18 -2 9 3-42 0 1 3 41 -5-47 -8 81 11-103 0-2 -194 281 -9 0 10 0 26 0 -17 0 -3 0 -1 0 18 0 -11 0 -13 0 -3 0 6 0 25 0 -9 0 -23 0 14 0 16 0 0 0 0 0 -1 0 -35 0 19-3 0-5 -7 4 3 1 5-5 -3 4 -3 3 -1-9 -1-3 3 6 3-6 -4 11 6-2 -4 1 3 2 -4-8 5 7 -8-7 9 5 -7 1 -2-3 5-24 1 5 -2 10 5-15 -3 10 -1-4 0 10 -1-4 0 3 -3-17 1 5 4 11 -4-4 6-2 -5-4 6 8 -9-1 0-2 1-10 8 0 -7 16 1-56 2-4 3 40 -3-17 -1 8 6 0 -4-19 -2 15 -4-16 1 27 0-7 9-12 -6 13 6-26 -7 32 5-18 -4-14 -3 28 1-17 5 16 1-3 -5-31 -4 76 10-78 -8-2 6-4 -1-16 -3-10 171 101 25 3 1-2 -8 0 2 2 1-11 -13 10 2-8 4-2 -4 10 -6-5 1 2 -2-2 -1-2 19 2 0 6 -7-11 -2 3 -3-1 -8 11 12-5 -2-20 -10 9 18 1 -17-6 26-3 -3 9 -16-9 3 3 -13 3 28-5 -4 8 -19 1 6-5 0-8 8 4 4 0 8 3 -10-4 -2 9 -21-1 25-1 -4-13 -17-2 17-9 12 11 -32-13 31 4 -15-3 17 9 -21 1 -6-5 15-1 -9 7 1 1 10-1 8-13 -30 0 25 6 -22 7 26-13 -21 6 6-2 4-7 -2-37 7 38 -3-37 1 21 -8 13 -3-6 -1-7 4 11 -3 2 6 3 -7-12 4 11 5-40 -7 23 5 13 -4-34 2 18 0-17 1 36 3-40 0-1 4 90 -8-95 -685 273 5 0 -25 0 26 0 -22 0 28 0 -3 0 -15 0 -1 0 -10 0 19 0 -18 0 14 0 -20 0 27 0 -7 0 -12 0 10 0 -12 0 4 0 0 0 2-5 5 0 2-3 -5 4 -4 0 1-2 8 5 -1-7 -7 2 5 4 0 1 -5-3 8 0 -9 0 4-1 -3 1 6-3 -7 3 5-5 -2 6 -2-2 5-5 0-13 -2 7 1-9 1 16 -1-13 -1 6 4 2 -1-1 0-3 -5-2 0 2 4 0 -5-2 3-3 5 5 -1-2 -1-3 3 5 -5 5 0-6 5-9 -2-21 0 16 -3-21 -4 24 5-17 3 18 -1-23 1 24 -6-16 2-6 2 2 3 11 0-11 -9 16 0-18 2 8 7-5 -2 16 0 1 1-18 -4-9 -14 57 18-85 -2-24 203 109 -29 0 7 0 13 0 0 0 0 0 4 0 -1 0 -24 0 28 0 8 0 -16 0 -7 0 24 0 -16 0 -3 0 16 0 -35 0 32 0 -18 0 2 0 4-4 0 1 1 2 -9-2 6 2 -7-2 6 1 4 1 -7 0 6-1 6 1 -14-2 12 1 -8-1 -3 1 6 1 5-2 -4 2 -10-2 17 3 -5 0 -3-5 2 1 1-7 -6 7 4-14 -6 6 3-5 -2 11 2-3 0-1 6-4 1 2 -1-6 -1 0 -2-1 4 8 -10-9 2 1 5 1 -4 7 1-3 5-7 -1-8 -7-17 -1 1 9 24 -7-21 -2 9 10 13 -9-21 3 17 3 3 3 0 -3-20 -4 21 3-2 -1-8 -3 7 0-4 0 5 8-6 -8 5 1-25 19 48 -20-50 4-28 -1-19 -1-10 -2-3 1190-414 11-1 -1 1 -7-7 -14 7 -1-12 -1 19 1 1 -1-10 17-7 3-3 -12 10 -3 3 12-9 -13 7 -5-11 24 6 -1 7 -18-7 21 0 -19 13 -3-23 -1-2 12-6 2 4 -12 2 6-1 20 6 -33-13 25 6 -10-6 6 1 -12 7 15 2 -5-2 1-4 -18 6 22-3 -24 5 17-6 -6 3 -4 1 21-19 -24-12 8-1 -2 12 -4-7 20 9 -3-1 -5-4 6-4 0 15 -21-16 0 2 3-5 13 19 6-2 1-11 -20 8 -4-8 17 2 -7-8 9 10 -3-35 -4-2 7-2 -3 4 -4-9 7 19 -1 8 -8-2 0 0 5-7 3-14 -9 27 11 0 -2-28 -4 14 4-1 -4-15 5 23 -4 4 3-19 -6 2 2-14 4 92 159-2 2 0 4 1 3 1 16-1 7 1 -21-2 -10 0 7 1 17 0 -5-1 5 2 -4-2 -13-1 -7 2 19-1 5 1 5 0 -6-2 -1 0 -12 2 4-15 4 3 -8-8 8 10 -2-4 -1 7 -4-17 6 5 -5 10 4-4 -7-9 1 15 4-4 4 0 0-10 -8 1 6 1 1 16 -5-19 6 0 0 16 0-30 -6 11 2-15 -5 9 -1-6 4-1 8 13 -10-7 7-6 -3 12 4-6 1-11 -10 7 6 10 -1-12 1-4 -5 9 1-3 5-4 -1-2 -3 17 5-49 -4 25 4-1 -3-12 -1 18 -3-3 4-11 2 12 -5-16 4 15 0-1 1-10 -6 8 1-2 -1-17 1 10 0-11 1-5 -3-6 6 29 -2-2 2-34 -8 89 198-1 -15-5 1 2 16 3 -1-5 14 6 -28-1 31-3 -15 4 -3-5 6 1 -20 3 13-2 14-2 -13 3 0-3 12 3 3-1 2 2 -15 0 -11-1 -4-4 2-4 22 2 -15 0 -7-4 12 5 8-1 -11-2 0 4 3-7 -14 4 18 1 3-3 -14-3 11 1 0 1 -12-1 1 3 9-1 -9 1 5 1 1-13 -5-9 12 3 -11 10 5-16 -4 3 8 7 -7-2 2-7 9 9 -12 9 3 0 7-18 1 5 -2 12 -8-7 7 5 3-5 -6-13 0 1 3 7 -2-9 -5-7 -1-4 8-10 -3 13 -3-27 4 7 -2 21 -2-1 6 8 -6-12 6-9 -2-10 -1 20 4-26 -5 33 -2-8 4 12 -1-18 -1 2 4 10 -4-33 -8 76 11-96 -1-3 -362 270 -16-10 -2 4 -6 3 7-3 9 2 -5-7 1 3 -3 7 17-1 -16-4 13-3 -4 3 -14 6 24-5 -15-1 0 2 8 3 -17-10 -6 1 6 4 25-9 0-1 -27 0 1-1 -6 2 29-5 -15 2 9 5 -22-2 17-2 0 2 -5-4 16 4 -1-7 -10 6 11-1 -4 0 -17-4 7 0 8 2 -9 4 3-14 -2-10 10-2 -13 3 10 10 5-4 -20 8 20-7 -22 0 4 9 18-6 -9-13 -5 12 -1-9 7 4 -9 0 12 5 -7 6 -4-7 9-4 5 7 -14-32 4 15 -2-36 7 32 -5 4 4-39 -5 17 3 4 -1-5 -4 5 -1 17 2-23 7 0 -4 15 1-4 5 8 -4-13 -4-7 6 17 -6-13 2 7 0-27 -7 85 6-102 163 102 6 0 20 0 -8 0 4 0 -19 0 -2 0 31 0 -3 0 -13 0 -10 0 14 0 -9 0 3 0 6 0 12 0 -18 0 -8 0 4 0 -2 0 25 0 -7 0 -14 0 17 0 4 0 -13 0 -16 0 5 0 1 0 3 0 14 0 -25 0 25 0 -6 0 -21 0 30 0 -11 0 4 0 -16 0 6 0 -7 0 20 0 -8-1 0-11 -5-12 5 7 -2-5 2 16 0-5 1-8 -4 19 -2-11 2 5 2-7 0-8 -5 16 8 0 -6-13 3 14 -4-13 4 4 3 3 -1-15 -3-8 -3-5 2 2 -3-7 6 16 -3 1 0-27 -1 18 2-4 4 2 -8-10 5 13 -3-10 -1-7 7 23 -4-12 0-14 -2 4 0 7 4 16 -6-5 4-26 11 58 -14-60 4-15 -4-5 0-13 2-12 179 105 6 0 -10 0 7 0 24 0 -19 0 19 0 -9 0 4 0 -12 0 15 0 -14 0 1 0 9 0 -20 0 11 0 13 0 -11 0 -9 0 1 0 14 0 7 0 -3 0 -12 0 -12 0 33 0 -37 0 35 0 -2 0 -3 0 4 0 -8 0 -11 0 -2 0 21 0 -3 0 -24 0 -6 0 15 0 15 0 -13 0 8 0 -2 0 9 0 -32 0 3 0 16 0 -12 0 -4 0 13 0 17 0 -34 0 36 0 -33 0 14 0 3 0 11 0 -10 0 7 0 4 0 -1 0 5 0 -1 0 -28 0 24 0 -11 0 5 0 -7 0 7 0 -2 0 -11 0 -7 0 3 0 -1 0 23 0 6 0 -33 0 13 0 -4 0 -3 0 7 0 20 0 -32 0 5 0 -364 171 19 0 -16 0 1 0 15 0 1 0 -28 0 14 0 -15 0 4 0 8 0 5 0 -7 0 8 0 -15 0 10 0 -6 0 1 0 15 0 6 0 -8 0 -2 0 -23 0 27 0 -1 0 -4 0 -15 0 7 0 4 0 10 0 -13 0 -5 0 15 0 -7 0 7 0 -12 0 19 0 -15 0 6 0 -19 0 -2 0 28 0 -15-9 2 5 0 1 -2 0 -3-8 0-1 0 0 2 11 6-10 -2-1 -4 11 -1 1 2-14 1 7 -4-6 2 3 2 5 3 0 -4 1 -3 3 3-3 2-26 -4 13 6-2 -4-4 4 7 -6-8 3 5 4-10 -9 10 2 0 4 2 -5 0 2-4 4-6 0-3 0 10 -5-8 7 12 -6-4 1 5 -2 0 4-16 -19 31 21-33 -2-3 1-25 -2-12 1-5 -4-6 7-11 163 92 7 1 -7 1 22-2 -26 2 5-3 20 2 -26 1 6 0 -3-1 17 0 -18 1 13-2 -2 2 14-2 -3 1 -13-2 22 1 -21 0 19 3 -27-1 17-11 -4-2 3 5 5-5 -1 6 -9 2 7-6 -9 7 -2 1 3-7 6 6 -6-2 -5 2 14-4 0 5 -5-1 -3-8 7 5 -14-2 4 0 2 2 8-10 0-8 -11 5 5-3 3 10 -8-5 7 3 6-9 -11 0 6 7 -6-4 2 2 -2 5 1-5 -3-4 2 9 -5-11 5 8 7-1 -3 3 0-6 -3-7 1-24 -1 26 2-6 3-16 -3 20 4-1 -4-4 -2-4 2-10 4 11 -4-10 -2-1 4 7 3-3 -3 16 -2-20 -4 5 3-10 -3 19 2 7 3-27 6 54 -6-56 1-7 -6-6 7-35 1-1 181 105 -11 0 2 0 -1 0 3 0 13 0 -5 0 7 0 16 0 -6 0 -27 0 26 0 -2 0 -17 0 6 0 -8 0 26 0 1 0 -21 0 3 0 14 0 -6-5 -6-1 3 3 -5 2 0-2 1 2 -4-4 1 1 6 3 -5-4 2 1 4 2 3 1 -8-3 3 2 1-2 0 0 -6-1 8 4 -8-3 0 1 5-23 -1 19 0-15 1-6 -1 22 -3-5 0 4 3-1 -3-7 -1-9 0-3 3 12 3-10 -2 5 -1 12 2-9 1-7 -5 4 -1 13 8-17 -8-3 5-2 4-8 -3 7 -2-27 -1 4 1 18 4-21 -4 12 3 11 1 4 -8-29 5 26 -1-27 0 30 -1 0 4-19 -2 8 0-4 -6-13 3 15 7-12 -4-5 0 59 0-81 -4-28 -860 278 -4 0 1-1 8 2 -23-1 0 1 7-1 -8 0 19 0 -3 1 3-1 9 2 -25-2 -5 2 15-1 15-1 -13 0 17 0 -3 0 -27 2 0-2 16-2 -3 0 -1-2 1 1 4 0 4 2 -19-3 9 0 -1 3 -1 0 8-2 -9 0 10-2 -5 0 8 3 -8-4 3 2 -10 1 9 0 -7 0 10-1 -13-10 10 8 -8-2 13-6 -10 8 2-4 6-2 -5 5 -1-3 -6-5 9 6 0-3 -3-3 2 0 4 1 -12 5 0 1 2 2 8-3 -11 1 2 0 7-14 -3 6 -1-13 5 13 0-6 -3 1 4-1 -2 5 -5-4 4 4 -2-9 2 10 3-9 0-1 -8 8 1 1 3-1 5-2 -8 2 0 0 1 0 2-14 2 34 -5-39 4-10 1-3 0-8 -4-15 -1-6 178 81 -13 0 -5 0 10 0 -3 0 -8 0 13 0 7 0 -22 0 -4 0 21 0 10 0 -29 0 30 0 -19 0 -12 0 6 0 20 0 -4 0 -24 0 22 0 4 0 2 0 -25 0 -4 0 34 0 -30 0 -3 0 22 0 4 0 -4 0 -19 0 8 0 -2 0 11 0 -5 0 -16 0 19 0 10 0 3 0 -28 0 3 0 10 0 2-3 -5 2 4 0 -5-1 0 0 2 2 3-2 -2 0 -1-1 1 0 -1 0 4 2 0-1 1 2 -4 0 4-2 0 0 -6 0 -1 0 7 0 -3-3 -4 2 6 0 -2 0 -4-1 0-1 -1 2 5 0 -1 0 -4-1 5 1 -3 0 3-2 -4 2 2-2 0 2 6-1 -9 1 8-2 -3 1 -1 0 0-1 0 5 2-7 -3-3 2-4 0-10 -4-7 5-2 2-17 0-15 -7-5 1-14 169 77 6-1 -16 6 19-6 -12 1 -9 4 13 2 5-8 -4 7 5 1 -19-2 -4-4 10 3 3-5 -6 5 9 1 -7-1 12 1 -12-1 2 3 -3-5 2-5 15-2 -2 1 -14 2 16-3 2-1 -13 1 10 4 -18-3 19 2 -7-1 10 1 -18-3 -14 3 32-2 -18 1 13-3 -2 3 -6-2 10 0 -29 0 17-7 3 0 -10 4 19-2 -8 0 1 3 -18-6 21 4 -2-4 -8 6 -1-6 -12 3 29-2 -7 1 -9 3 -9-4 13-1 -17 6 15-2 -10-5 13 4 0-5 0-5 -7 0 9 3 -3-6 -4 3 9 1 -16 3 2-2 7 0 -7 4 4-2 3-4 1 2 4 1 -3-1 -6-5 2-2 1 10 1-4 1 4 -3-13 -7 36 5-41 2-9 -1-2 5-9 -1-11 0-5 -1-13 172 90 -4-7 8-7 -7-2 3-1 -12 6 17 5 -1-5 -19 5 23-9 -17-1 13 9 -17-1 16-2 -5 7 5-11 -7 5 -7 4 21-8 -18 3 -3 7 -4-18 -4-4 6 3 17 2 -1-6 -5-2 3 9 11-8 -4 5 -13 1 20 0 -1 3 -19-1 0-5 9 6 -5-3 9 2 -16-9 2 9 1-5 8-4 -14-15 11 7 -3-9 11 2 -6 3 -7-5 5 1 -6 7 6-9 1 12 -14-9 19 10 -11 2 10-2 0-2 -8-13 12 2 -5 7 0-11 -8 8 2 8 5-32 -2 2 3 3 -2-2 1-9 3 21 -8-40 -1 26 4-4 -4 4 -2 7 -3 8 1-19 3 6 -3-6 5-20 4 8 -1 14 -4 13 -1-4 2-6 -1-29 -3 93 183-2 -3-4 -14 2 16 0 11 3 -11-1 9-3 -10 3 -14-2 19 3 -5-4 4-2 -17-1 -2 0 17-2 -6 3 4 2 7-4 -3 6 2 2 9-9 -22-10 7 3 4 7 -16-9 14 0 1-7 0 16 9-15 0 10 -5-9 5 7 -20-2 13-5 -8 2 -5 1 18 10 3-1 -1-9 -5-3 3 6 -11 3 13-15 0-9 -21 3 15 10 0-3 4-3 0-6 -13-2 -2 9 9-10 0 15 -11-7 -4-2 22-4 -19 8 5-11 8 8 -14-8 13 14 2-8 -6 4 0-56 -2 20 2-14 5 4 -6 2 -3 29 1-12 9 5 0 4 -10-6 10 11 -3-1 3-10 -2-16 2 18 -1-33 0 22 -9 17 5-29 1-9 3 40 -2-47 -4 93 -2-95 2-13 189 107 10 0 1 0 -3 0 -4-1 1 0 -15 1 27-1 -3 0 7 0 0 0 -1 1 -27 0 -3 1 -2-1 34 0 -33-1 16-1 3 2 7-2 -4 1 -12-7 2-1 5 5 7 1 -9-6 7 6 3-1 -16-7 14 7 -8-2 6 0 -4 3 -5-5 -1-1 7 0 4-2 -2 5 1-3 -4-2 1 3 -3-2 -2-8 -1 2 -1-4 -1 2 4-3 2-1 -6 0 4 1 -1-1 9 10 -9-13 8 1 -6 4 6-6 -10 11 10 1 -2-3 -6-2 4-6 0 8 3-6 -7-12 1-14 5 9 -3-7 3 12 1-17 -8 15 8-1 1 6 -4 0 -3-1 7-4 -2-21 0 20 -3-4 -3 11 1-9 4-1 -2-6 -1 15 2-16 0-10 -3 59 3-61 -1222 261 2-2 0 6 6-4 -16 4 -2-6 12 3 -2-1 5-2 -6 2 9 4 -1-2 -15-4 18-1 -21 5 9-1 -12-4 13 1 6 3 -16 3 1 0 0-13 18-1 -15 3 -3-2 14 1 -2-1 -10 3 -10-2 22 1 -20 0 -2-3 23 2 -16 2 15 1 -14-2 22-1 -21 2 8 0 -9 0 17-4 -2 3 -5-9 2 4 -12-3 -2-8 16 9 3-3 -13-2 -1-5 13 3 -1-1 -3-1 -12 7 10-1 5 2 0 4 -15-2 -1-9 7 10 4-4 -2-1 -6 3 4-33 1 18 -4-16 9 9 -9 9 0-5 8 7 -4-11 2-11 -5 16 6 5 2-18 -8 4 0 4 -3 9 10-20 -9 21 4-3 2 5 -2-5 3-1 -3-19 7 53 -3-65 0-10 -3-10 -1-2 -2-10 4-5 155 102 26 0 -7 0 8 0 -1 0 -21 0 12 0 6 0 6 0 -2 0 -3 0 1 0 -18 0 -7 0 20 0 1 0 13 0 -25 0 7 0 17 0 -23 0 17 0 -17 0 3 0 -12 0 20 0 3 0 8 0 -26 0 28 0 -26 0 25 0 -9 0 -14 0 11 0 -1 0 1 0 4 0 -9 0 -6 0 13 0 1 0 -2-5 -6 1 2-1 -3 2 6-9 -2 7 -5 4 3-5 1-1 1-5 -2 12 -1 0 3-3 2-1 -1-1 -4 1 1-8 2 6 -3 2 1-4 1 0 0-15 0 7 2 3 -2-11 1 2 -2 6 5-9 -9 11 2-7 1-1 3-1 -3 8 -3-6 3 8 -1-6 3 5 2-13 -7 6 7 6 0-8 -5-5 2 0 12 28 -9-44 -6-2 4-5 0-18 2-10 178 77 -10-8 17 9 -24-8 22 9 3 0 -19-1 7-6 -14 1 -3 0 -1 2 19 2 -17-2 4-1 11 4 -4-9 -12 4 18-4 -10 9 16-7 -16-1 9-7 7 0 0-3 -20 5 9-2 3-4 -10 5 8-7 -3 4 -7 7 17-11 2 2 -21 4 13-1 2 0 7-6 -9-1 0 5 -7 6 10-4 -7-3 1-8 8-13 -4 16 -4-11 3-8 -4 19 0-1 10-4 -10-12 -9 0 6 1 9 15 -1-9 3 9 1-15 3 5 -12 8 -8-14 11 11 6-6 3 7 -7-32 -3-27 -1 29 -4 6 2 4 -1-5 9-2 -6-1 2-20 -5-12 6 35 2-9 -1 15 -6-17 6 8 -3-34 -4 46 11 0 -4-16 3 17 -1-23 -5-26 1 94 187-1 -28-4 19 4 -9-6 10 2 -5-2 3 1 12 5 -4-7 -5 6 4-5 -4 1 -5-2 -3 7 -8-1 9 1 -7-4 2 3 21-1 -25-1 16-1 -13-17 9 13 6-3 -8 0 -10-2 -1 2 2 0 0 4 6-16 4 14 3-13 4 10 -18-2 2-8 12 14 -9-9 -1 0 5 8 1-8 4-2 -2-1 -7-19 11 1 -1 0 -6 4 -10-1 12-4 -1 0 -3 4 -1 1 -5-2 16-3 1 3 -16 1 3 7 4 0 5-3 2 1 -1-6 -8 6 12-10 -20 3 6-26 8 21 -2-4 -4-3 2 8 0-35 -1-5 3-5 -1 9 0 34 1-42 -2 9 3-10 1 7 -5 35 3-38 -3 2 2 7 2 9 -1-22 -1 36 -1-37 2 88 -1-92 -531 268 20 0 -21 0 2 0 5 0 6 0 -3 0 16 0 -29 0 2 0 5 0 8 0 -16 0 6 0 4 0 20 0 -22 0 19 0 -24 0 -3 0 -2 0 21-3 -6-1 6 0 -4-6 3 1 0 2 -2 6 0-6 -5 3 7 3 1-6 -1-1 -2 0 -3-2 6 1 -4 9 2 0 0-9 -4-2 1 6 2 5 -3-12 3-3 -3 0 5-6 -7-3 3 10 -3 0 2-11 4 9 -1 2 3-2 -4 1 1-2 1 4 1-1 -4-6 -3 1 7 6 0-5 -2 5 2-11 -4-4 -1-18 1 19 2-4 0-25 2 10 -4-12 2 30 -5-26 2 28 2-3 -3-17 1-13 3 8 2 24 -5-8 1-10 -1-8 -1 25 2-1 0-9 0-23 -1 61 4-62 158 60 -1 1 24 0 -26-3 5 1 4-1 6 4 -7-2 17 1 -12-4 16 0 -21 3 9 1 -4-3 -3 1 16 1 -16-2 6 3 -5 1 3 0 3-1 0-5 12-1 -14-3 12 2 -17-1 16-4 -20 1 16 0 -6-1 -7 1 -5 6 2-7 18 0 5 6 -14 0 4-3 5 1 4 3 -9-3 -7 3 14-7 -3-17 -12 16 10-2 1 0 -9-4 0-15 4 15 4-14 -4 3 6 16 -10-15 0 14 6 1 -5 0 9-18 -11 18 10-13 -7 9 -2-9 7 7 -5-9 3-34 0 18 -4-14 5 4 -5-11 7 29 0-3 -1-21 -3 23 -3-2 -1 3 4-20 0 1 -5 4 1 2 0 13 1-18 -2 11 7 5 1-18 -3-1 -1-8 0 67 3-87 -1-12 -4-8 178 100 4 5 -11-2 -11-2 25 2 -21-1 10-1 -7 0 9 6 0-2 7-2 8 3 -22-2 -7 1 24-5 0 4 1 2 -4 1 -17-2 18 2 6-2 -15-9 -14 1 7 0 3-2 4 1 8 1 -21-2 26-1 -20 2 -3-1 17-3 -20 3 -3 0 9 1 -2-1 -3 1 11 3 -7 0 3-5 18 1 -15 3 0-28 2 21 4-7 -2 1 -9-5 5-5 -4 3 3 7 3 3 -2-9 -2-2 12-4 -1 7 -4-6 -9-3 4 4 -2-1 5 7 6-3 0-1 -7-6 0-9 5-23 -9 17 1-5 5-3 -1 11 3-16 0 1 -1-4 2-2 1 29 -5-21 4 17 -6-12 7 15 -9-25 6 26 -1-12 -4 7 5 7 0-1 -4-33 2 72 1-83 -4-3 184 86 -20 0 9 0 9 0 -6 0 -6 0 5 0 2 0 -5 0 5 0 -13 0 25 0 3 0 2 0 -18 0 16 0 -9 0 -9 0 16 0 -5 0 6 0 -20 0 20 0 -20 0 16 0 -21 0 15 0 -9 0 -6 0 16 0 -10 0 -12 0 23 0 -10 0 -5 0 -7 0 3 0 11 0 4 0 -5 0 -8 0 7 0 4-17 3 7 -1-18 -4 19 4-1 -4-16 3 15 1-10 0 6 -1 2 -4-15 2 21 -3 2 6 5 -6-7 6-18 -5 7 1 13 3-3 -4-3 -2-11 8-18 -1-22 1 12 -5-9 -1 27 -2-7 6-3 2 11 -6-8 2 10 4-33 -2 14 -3 6 -2-10 1-5 5 8 -3-9 -1 13 -2 1 6-12 0 24 -4-31 -9 63 8-66 5-8 -4-3 3-23 -528 276 18 0 -22 0 20 0 -17 0 -11 0 23 0 9 0 -11 0 1 0 0 0 2 0 -8 0 18 0 1 0 -6 0 -11 0 4 0 0 0 7 0 -11 0 -11 0 -4 0 15 0 -10 0 21 0 -3 0 -24 0 -1 0 6 0 3 0 19 0 -14 0 16 0 -20 0 19 0 -11 0 5 0 -14 0 13 0 -22 0 10 0 19 0 4 0 -26 0 21 0 -20 0 -3 0 6 0 1 0 -6 0 28 0 0 0 -27 0 15 0 -17 0 6 0 19 0 -9 0 -6 0 -13 0 25 0 -25 0 1 0 22 0 5 0 -29 0 25 0 -1 0 -24 0 10 0 -1 0 18 0 -4 0 -19 0 -1 0 1 0 17 0 -13 0 12 0 -19 0 14 0 -10 0 8 0 3-37 1-2 -2-2 4-14 -3-38 -1-1 161 91 7-4 18-5 -25 1 9 1 17 2 -15 1 -7-1 7 6 15 1 -16-5 7-4 -12 7 9-2 -13 1 5-6 3 7 -7-8 15-3 4 10 -19-4 14-17 3 3 -17 4 22-5 -19 7 -5-8 4 2 21 2 -17-3 -8 0 0 5 8 0 9-1 -8 2 2 0 9 0 -3-7 -16 6 14-5 -13 1 -2 4 6-8 7-14 -2 1 -4 7 9-6 -10 11 13-11 5 1 0 11 -11-10 12-6 -19 11 11-10 -9 14 12-14 -7 0 5 0 1 14 -11-10 -3 5 20-7 -6-13 -6-11 -7 19 8 0 -7-8 3-24 9 32 -7-2 -5-6 10 4 -1-6 -6 4 3-19 7 21 -12 3 2-2 4-33 -6 29 5-16 4 9 0 4 -3-28 5 82 -8-88 5-4 -4-7 165 83 -1 15 12 1 8-6 -20-10 5 13 -2 2 13-15 -4 0 10 1 -22 3 10 12 9-5 -16-1 15-2 1-1 -7-8 -1-1 -8 17 9-16 -8 4 5-9 8-4 -14 5 5 0 15-6 -9 4 -8 2 -12 0 1 2 29 1 -6-2 -16-6 -4 7 28-3 -11-2 -19-2 10 4 0 3 -1-2 4 2 12-9 3-4 -4-3 -21 5 24-9 -11 7 8-3 -21-2 17 4 -7-1 0 4 -1-1 8-3 5-2 -7-3 -10 8 18-5 -11 3 -4 0 -5 4 16-3 -22-5 10-4 8-19 -9 16 10-15 -8 0 1-4 4 15 3-10 3 16 -10-10 4 11 1 2 -5-9 7-19 -9 11 2 11 -1 6 11-1 -2 0 -1-2 -3-2 0-26 3 70 -6-73 4-3 -6-21 7-12 185 109 -15 0 15 0 -13 0 4 0 -19 0 -3 0 31 0 -14 0 -18 0 15 0 14 0 -15 0 14 0 -7 0 8 0 -7 0 -19 0 25 0 -16 0 -13 0 22-1 -13-2 14 2 -8 1 -3-2 8 2 -11-1 11 1 0-2 -9 0 13 1 -1 1 -14-1 13-1 2 1 0 0 -7-1 2 2 -7-3 -3 2 5-1 1-17 6 2 0 11 -7-7 3-1 2 9 0-11 -4 13 4-3 2 1 -4-3 -3 1 6-4 -1 1 1-3 -1-6 2 4 0 10 -5-11 -1-4 4 16 3-17 -8-17 6 16 -6-23 8 23 -1-9 -8-10 9 1 -9 5 6 14 -4-19 4-10 -4 17 -1-1 0 11 3-4 -3 6 3-14 0 9 0-17 -3-2 3-6 -8 51 9-57 2-2 -3-2 3-9 0-29 -1-9 -1062 281 -19-3 10 4 18 0 -10 0 -23-6 10 6 22-3 -12 2 -6-2 9 0 -15 4 2-5 16 4 -10 1 0 0 8-5 0 1 -20-2 14 2 -5-2 -9-11 5 4 12-2 0 0 6 6 -11-6 -13 7 3-9 10 4 -1-2 10 5 -3-6 4 9 -12-10 9 3 -3 2 4 5 -17-4 13 2 2-8 -5 1 -6-9 -2 6 6-3 9-17 0 10 -7-11 -5 20 3-19 -5 10 4 1 10-8 -13-4 6 8 -6 1 10 2 1-9 -4 17 -3-12 -3 5 5-10 -7 18 4-22 2-13 5-2 -7 15 5-3 -4-32 -2 7 3-7 0 20 3-28 1 41 -8 2 8-30 -4 18 -1 11 6-1 -5-10 4-18 -2 20 -2 3 -2 6 3-50 6 94 -4-95 -3 0 202 95 2 0 -27 0 -6 0 9 0 9 0 7 0 -12 0 4 0 10 0 -28 0 31 0 -5 0 -9 0 -1 0 19 0 -3 0 -1 0 -19 0 17 0 -17 0 3 0 -1 0 -4 0 4 0 17 0 -17 0 -6 0 11 0 -14 0 10 0 -4 0 9 0 9 0 -7 0 7 0 3 0 -9 0 -20 0 10 0 1 0 1 0 3 0 4 0 -17 0 9 0 8 0 11 0 -30 0 0 0 11 0 -4 0 7 0 2 0 17 0 -3 0 -14 0 -12 0 8 0 21 0 0 0 -5 0 -3 0 -22 0 10 0 15 0 -6 0 -13 0 -1 0 6 0 -12 0 14 0 17 0 -7 0 -24 0 9 0 3 0 -8 0 1 0 6 0 -2 0 16 0 -3 0 -10 0 -1-58 5-37 162 89 6-2 4 4 1-1 -12-3 2 2 10-1 1 0 7-1 -2 1 -4-2 -2-1 3 8 -9 1 -6-1 17-2 -16-2 15 4 -3-3 1-4 -14 2 20-7 -26 2 8-2 22-1 -15 5 4-5 -8 5 3-4 10-1 -6 2 -9 0 5-2 10 4 -18-5 5 6 14-1 -22-2 16 1 -7 0 -10 2 0-5 7-4 14-1 -7-4 -2-1 7 5 -2-2 7-6 -9 12 3-5 -9 5 0-5 12-7 1 6 -2-2 -3-4 -5 0 -8 11 0 0 7-9 -3 6 6-4 1-11 -2-14 3 15 -5-17 8 17 -10-4 5-6 3-6 -7 16 3-25 -2 25 2 4 -2-26 4 13 -4-11 0 2 -4 19 3-1 -1-22 9-2 -5 4 1-6 2 60 -4-63 3-15 -1-2 175 74 1-1 15-9 -12-2 -4-2 23 11 -3 2 -12-14 7 1 1 5 3 9 -3-3 -10 3 -3-8 4-1 7 7 -3 0 6-4 0 8 -7-8 -2-1 -9-18 13 5 10-5 -5 8 5-4 -20-1 -1 2 8-5 7 1 -8 3 12-2 -5 7 -10-1 -2 0 -4-6 -2-1 24 0 -10 3 15 3 -5-9 -13 7 -5-20 17 11 -18-7 20-6 -8 10 -7 4 -4 0 7-5 -4-9 -7 2 24 13 -21-14 9-2 -1 5 -1-4 1 3 8-4 -19 11 8-10 1 1 3 0 1-6 -2-27 4 12 2-12 -2-6 -10 35 4-17 1 8 6-25 1 34 -4-5 -5 4 9-18 -6-15 7 29 -1-17 -5 0 0 21 5-10 -1 12 -4-15 0-22 10 84 -8-98 180 92 5 2 -5 2 -13-4 13-3 -19 1 21 7 -13-4 -1 1 -7-8 10 10 10 2 4-5 -1-3 -6 5 -8 3 15-11 -19 6 15 5 -9 0 -2-6 -1-11 20 0 0-2 -10-6 -8 8 -3 0 -7-5 7 4 17-2 -17 0 -11-4 4 4 13 2 -14-7 21 11 -12-10 -6 4 2-3 22 7 -4-4 -15 5 -6-15 4-3 6 0 -6 1 11-3 -8 1 4 4 2 5 -7-2 0-8 -5 5 -3 0 17-6 1 2 5 3 -22-1 3-3 17-1 -8 5 -4 3 12-8 -10-3 -4 1 2-12 -1 1 1 10 0-19 4 6 -4 3 -1 2 1-4 9 8 2 1 -11 2 7-17 1-4 -3 12 8 11 -12 0 6-9 -2 8 3-2 -4-23 -6 67 5-80 -1-8 162 75 12-3 13 13 -5-10 -3 5 -16 2 15-4 2 0 2-4 -3 13 -7-6 11 2 3-7 -4 2 -17-3 12 2 -10 8 12-12 -11 0 -5 6 23 6 -19-22 -1 6 12-1 3-6 -10 10 8-9 -16 7 13 1 6-9 -22-2 4 3 9 6 -11-9 0 7 26 1 -13-5 9 6 -22-5 12 0 -7 5 12-2 -3-28 7 8 -2 1 2-1 -13-7 14 2 -5-5 -8 9 10 6 -2-3 -7 6 8-1 -11-8 2-1 -4 15 11-8 -6-6 2 6 3-15 -8 18 1-12 0-14 12 6 -13-12 12 11 -7-13 3 12 1 3 -7-21 4 2 7 17 -5-24 3 22 -3-11 0 11 -6-17 5 15 -5-6 2-19 3 27 -7-7 12 8 -6-28 7 83 171 0 -1 0 -20 0 8 0 1 0 15 0 7 0 -17 0 -6 0 20 0 -4 0 9 0 -22 0 18 0 -3 0 -10 0 -18 0 24 0 11 0 -8 0 6 0 -18 0 5 0 1-1 -2 0 3 1 -1-3 -1 1 1 0 -4 0 5 1 -8-2 -1 1 7 0 -6 1 5 0 2-2 -4 1 4 0 -3-1 2 0 -7 3 2-8 3 4 -1-1 -2-3 0 4 6-2 -3 1 -4 0 5-3 -1 0 3-2 -3 2 -2 4 2-6 0 5 3-1 -5-3 -2-1 4 0 1 2 -4 1 -1-14 5 3 -4 7 -2-8 3 1 3 3 2-6 -4 5 -2-3 5 7 -2-2 3 3 -6-11 0 5 0 1 3 5 -2-7 2 7 3 0 -6-8 2 5 1-9 -11 23 13-25 0-2 -4-7 -1-4 1-3 -1-25 3-34 -3-3 -1072 279 -10 0 21 0 -4 0 -3 0 -1 0 -3 0 16 0 -4 0 -11 0 12 0 -4 0 3 0 8 0 -7 0 -24 0 26 0 -7 0 -1 0 7 0 -14 0 7-6 1 4 -1-1 -1 0 -3 3 3-3 4 1 -7 0 7-2 -8 1 4 1 0 2 2-2 -3-3 2 2 1-4 1 6 -2-6 2 3 -2 3 2-2 -6-7 6 1 -5-7 5 9 -4-7 0 3 3-1 0 5 2-4 -6 3 0-4 0-4 4 7 -1-4 3 3 0-5 -6 0 5 7 -3-2 -4 0 2 2 0-18 3 8 -2 2 5-3 -1-6 -2 2 -2-4 -3 11 8-3 0-4 -1-4 -6-4 0 11 4 4 3-6 -1 4 -5-5 2 2 4-6 -1 11 1-9 -4-7 3 32 -6-40 6-13 -4-12 -2-5 3-10 178 79 20-3 -17 3 -9-2 17-2 -7 3 14 1 -9-3 5 3 -11-1 -7 0 8 0 -9 2 13-3 3-2 8 1 -12 3 -9-3 -1-1 11 1 -3 4 11-11 -12-4 7 8 -9-9 11 9 2 0 -7-7 11 5 -3-7 -10 5 -5-8 18 6 -11-7 6 5 3 1 -11 5 7 3 5 0 -6-13 6 1 -15 10 6-17 -2 4 -5-4 3 1 0-6 12 6 -2-3 -10 2 -1-2 15 3 -17-2 12-6 -6 11 8-5 -11 2 4-5 -1-2 9 5 -15 5 -1-3 7-5 6-30 -2 8 -4 14 1-5 -3-15 5 15 -2-17 -3 1 4 15 3-7 -5 4 -1 7 7-22 -4 13 -2-3 -1 14 7-5 -3 4 4 1 -1-17 -3-7 1-1 5 62 -7-78 1-30 180 108 -26 0 19 0 -13 0 28 0 -18 0 -3 0 22 0 -8 0 8 0 -21 0 -2 0 20 0 -19 0 23 0 -5 0 -15 0 -13 0 16 0 4 0 8 0 -9-1 -5 0 -3 0 9-1 0 2 -9-2 4 1 1 0 -7 0 1 1 0-2 6 2 -6-1 9 1 -1-1 -8 0 4 1 1-2 1 2 -2 0 2-2 -3-5 1 3 1-2 2 2 2 1 0 0 -7-3 -1 2 4 1 4-1 -5-1 2-2 2 3 -4-2 1-1 3 0 1 3 -7-1 0-2 4 4 1-1 -5-9 7 5 -4 0 -3-7 4 3 3-2 -5 2 -2 4 7 0 -7 0 3-8 -1 4 -2 3 1 1 -2-2 8-4 -6 4 1 1 0 1 5-9 0 3 -4-3 -1 17 1-21 2-3 -4-3 5-6 -4-3 -2-4 1-1 2-5 -2-22 2-10 197 78 -5-1 -1-3 3-1 -17 2 0 2 0-2 17-1 -3 0 3 2 -16 1 11-2 -3-2 -7 1 20 3 -11-2 -7 2 -2 0 3 0 9 0 8-4 -8-1 13-1 -32 1 22-1 -13 2 20-1 -16 0 -8 0 15 1 -13-1 -1 0 20 1 -21-1 0 0 10 0 7 1 -20-2 25 2 -19-2 -5 2 10 0 -1-7 7-10 2 9 -1 5 -6-5 6-5 -3 4 -6-2 3-6 -2 9 9 2 -8-9 6 7 -6 5 4-2 -6-10 8 8 -6 2 3-2 -5-9 7 12 0-19 -4-1 6-11 0 15 -2 2 -5-4 5-6 -1 2 -5 8 7 0 -2-4 1-4 -4 3 3 5 -2-17 5 12 -5-1 4 7 2-2 0-12 -5 6 -1-11 -5 41 6-54 2-3 2-2 -2-3 -5-3 7-2 170 67 3 0 13 0 -26 0 24 0 -4 0 4 0 2 0 -29 0 9 0 -9 0 15 0 -4 0 -2 0 11 0 -3 0 -18 0 29 0 1 0 -11 0 -12 0 9-1 -4-1 -3-3 7-1 0 2 -6 3 6-1 -6 1 6-6 -2 4 3 2 -5-6 1 5 4-4 -5 4 0-6 1 0 4 5 0 2 -1-2 -6-5 2-5 -1-1 2 5 5-1 -8-9 7 9 -6-5 1-3 5 3 -4-5 -1 2 5-1 -3 4 -4 0 7 6 1-8 -9 8 8-9 -5 1 6 5 -7-6 4-24 -1 16 -4-9 3-7 4 19 -5-17 4 10 -4 7 5 2 -4-11 0 3 1-12 2 19 -1-8 -2-13 3 21 -7-11 7-1 -4 7 2-9 4 9 -5-16 -1 43 -1-53 0-8 6-5 -5-6 4-18 -5-9 181 96 -8-9 11 4 -1 4 2-4 -15 5 3-1 -11-5 17 4 8 0 -8-7 -16 0 19 4 -11-2 0 0 -3 5 -4-5 2 0 4 1 -10 3 20 0 2-7 -13-3 -9-3 24-3 4 3 -14-1 7 6 4-6 1 4 5 2 -22-8 20 1 3 7 -1-6 -3 4 -14 0 -9 0 22-2 -12-3 14 1 -7 2 -6-6 1-5 -11-9 0 9 1-1 15-10 -5 1 -8 5 3-4 -4 12 8-8 -2 6 -8-7 15 5 -6-3 2 2 -9 1 8 8 -3-4 0-8 -3 4 3-46 7 8 -1 4 2 17 -1-5 -1 7 -8-3 5-7 5 9 -10-27 6 9 -4 0 6 22 -3-13 0 11 6 1 -6-18 3-3 0 20 -3-16 0-21 1-1 2 80 0-98 -7-4 2-2 170 97 15-2 -11 1 9-4 -11 2 7-9 3 5 2-10 -19 20 16-1 4-13 -9 6 9 8 -14 0 2-10 9-8 -3-3 3 3 -13 0 15 16 -20-17 23-15 1 3 -7 8 9-1 -15-11 12 10 -8-10 -1 10 0 0 2-5 -10-4 -9 11 4-4 5-8 2 3 4 6 7-8 -9 0 -1 1 1 7 12-4 -17-15 4-2 14 3 2-5 -21 7 -1-3 11 3 12-3 -8 0 -12 9 19-6 -12-6 -11 12 8-7 7 7 -16-3 23 3 -2-4 -9-4 -5-3 4-2 3-1 -1 0 -7-15 -2 5 4-13 0 12 3-12 -3 22 5-8 0 7 -2-9 -4 6 0-12 -7 17 12-1 0-9 -5 10 3-23 -7 23 10-8 -14 8 11-24 -1 74 0-96" fill="none" stroke="none" marker-start="url(#mr)" marker-mid="url(#mr)" marker-end="url(#mr)"/><path d="M607.4 135.3h28.6" stroke="#1d2d78" stroke-width="2.1"/><path d="M653.7 145.8h28.6" stroke="#b8381f" stroke-width="2.1"/><path d="M778.7 157.4h28.6" stroke="#1d2d78" stroke-width="2.1"/><path d="M825 157.4h28.6" stroke="#b8381f" stroke-width="2.1"/><path d="M950.5 130.7h28.6" stroke="#1d2d78" stroke-width="2.1"/><path d="M996.8 129.5h28.6" stroke="#b8381f" stroke-width="2.1"/><path d="M1129.1 131h28.6" stroke="#1d2d78" stroke-width="2.1"/><path d="M1175.4 133h28.6" stroke="#b8381f" stroke-width="2.1"/><path d="M1314.9 148.7h28.6" stroke="#1d2d78" stroke-width="2.1"/><path d="M1361.2 147.5h28.6" stroke="#b8381f" stroke-width="2.1"/><path d="M1501.3 149.1h28.6" stroke="#1d2d78" stroke-width="2.1"/><path d="M1547.6 138.9h28.6" stroke="#b8381f" stroke-width="2.1"/><path d="M1672.3 144.4h28.6" stroke="#1d2d78" stroke-width="2.1"/><path d="M1718.6 141.8h28.6" stroke="#b8381f" stroke-width="2.1"/><path d="M1851 157.4h28.6" stroke="#1d2d78" stroke-width="2.1"/><path d="M1897.3 157.4h28.6" stroke="#b8381f" stroke-width="2.1"/><path d="M607.5 332.6h28.6" stroke="#1d2d78" stroke-width="2.1"/><path d="M653.8 332.6h28.6" stroke="#b8381f" stroke-width="2.1"/><path d="M778.8 307.3h28.6" stroke="#1d2d78" stroke-width="2.1"/><path d="M825.1 307.3h28.6" stroke="#b8381f" stroke-width="2.1"/><path d="M950.4 292h28.6" stroke="#1d2d78" stroke-width="2.1"/><path d="M996.7 304.3h28.6" stroke="#b8381f" stroke-width="2.1"/><path d="M1128.9 331h28.6" stroke="#1d2d78" stroke-width="2.1"/><path d="M1175.2 329.3h28.6" stroke="#b8381f" stroke-width="2.1"/><path d="M1315.2 318.9h28.6" stroke="#1d2d78" stroke-width="2.1"/><path d="M1361.5 312.4h28.6" stroke="#b8381f" stroke-width="2.1"/><path d="M1501.1 332.6h28.6" stroke="#1d2d78" stroke-width="2.1"/><path d="M1547.4 332.6h28.6" stroke="#b8381f" stroke-width="2.1"/><path d="M1672.3 304.3h28.6" stroke="#1d2d78" stroke-width="2.1"/><path d="M1718.6 318h28.6" stroke="#b8381f" stroke-width="2.1"/><path d="M1850.8 294.8h28.6" stroke="#1d2d78" stroke-width="2.1"/><path d="M1897.1 305.3h28.6" stroke="#b8381f" stroke-width="2.1"/><path d="M607.5 480.4h28.6" stroke="#1d2d78" stroke-width="2.1"/><path d="M653.8 484.2h28.6" stroke="#b8381f" stroke-width="2.1"/><path d="M778.8 476.9h28.6" stroke="#1d2d78" stroke-width="2.1"/><path d="M825.1 480.9h28.6" stroke="#b8381f" stroke-width="2.1"/><path d="M950.4 505.6h28.6" stroke="#1d2d78" stroke-width="2.1"/><path d="M996.7 504.5h28.6" stroke="#b8381f" stroke-width="2.1"/><path d="M1128.9 499.2h28.6" stroke="#1d2d78" stroke-width="2.1"/><path d="M1175.2 499.2h28.6" stroke="#b8381f" stroke-width="2.1"/><path d="M1315.2 488.9h28.6" stroke="#1d2d78" stroke-width="2.1"/><path d="M1361.5 492.2h28.6" stroke="#b8381f" stroke-width="2.1"/><path d="M1501.1 504.7h28.6" stroke="#1d2d78" stroke-width="2.1"/><path d="M1547.4 507.7h28.6" stroke="#b8381f" stroke-width="2.1"/><path d="M1672.3 496.3h28.6" stroke="#1d2d78" stroke-width="2.1"/><path d="M1718.6 499.5h28.6" stroke="#b8381f" stroke-width="2.1"/><path d="M1850.8 505.2h28.6" stroke="#1d2d78" stroke-width="2.1"/><path d="M1897.1 499.6h28.6" stroke="#b8381f" stroke-width="2.1"/><path d="M79 653.4h28.6" stroke="#1d2d78" stroke-width="2.1"/><path d="M125.3 657.5h28.6" stroke="#b8381f" stroke-width="2.1"/><path d="M250.3 638.3h28.6" stroke="#1d2d78" stroke-width="2.1"/><path d="M296.6 644.9h28.6" stroke="#b8381f" stroke-width="2.1"/><path d="M421.4 665.3h28.6" stroke="#1d2d78" stroke-width="2.1"/><path d="M467.7 659.3h28.6" stroke="#b8381f" stroke-width="2.1"/><path d="M607.7 671.4h28.6" stroke="#1d2d78" stroke-width="2.1"/><path d="M654 663.4h28.6" stroke="#b8381f" stroke-width="2.1"/><path d="M779.3 670.1h28.6" stroke="#1d2d78" stroke-width="2.1"/><path d="M825.6 661h28.6" stroke="#b8381f" stroke-width="2.1"/><path d="M950.3 669.4h28.6" stroke="#1d2d78" stroke-width="2.1"/><path d="M996.6 666.1h28.6" stroke="#b8381f" stroke-width="2.1"/><path d="M1129.1 683.1h28.6" stroke="#1d2d78" stroke-width="2.1"/><path d="M1175.4 683.1h28.6" stroke="#b8381f" stroke-width="2.1"/><path d="M1315.1 683.1h28.6" stroke="#1d2d78" stroke-width="2.1"/><path d="M1361.4 683.1h28.6" stroke="#b8381f" stroke-width="2.1"/><path d="M1500.3 683.1h28.6" stroke="#1d2d78" stroke-width="2.1"/><path d="M1546.6 683.1h28.6" stroke="#b8381f" stroke-width="2.1"/><path d="M1672.2 675.8h28.6" stroke="#1d2d78" stroke-width="2.1"/><path d="M1718.5 671.4h28.6" stroke="#b8381f" stroke-width="2.1"/><path d="M1850.6 679.1h28.6" stroke="#1d2d78" stroke-width="2.1"/><path d="M1896.9 675.1h28.6" stroke="#b8381f" stroke-width="2.1"/><path d="M78.8 844.2h28.6" stroke="#1d2d78" stroke-width="2.1"/><path d="M125.1 845.3h28.6" stroke="#b8381f" stroke-width="2.1"/><path d="M250.7 858.3h28.6" stroke="#1d2d78" stroke-width="2.1"/><path d="M297 858.3h28.6" stroke="#b8381f" stroke-width="2.1"/><path d="M421.7 838.1h28.6" stroke="#1d2d78" stroke-width="2.1"/><path d="M468 838.7h28.6" stroke="#b8381f" stroke-width="2.1"/><path d="M607.9 847.4h28.6" stroke="#1d2d78" stroke-width="2.1"/><path d="M654.2 838.4h28.6" stroke="#b8381f" stroke-width="2.1"/><path d="M778.9 842.4h28.6" stroke="#1d2d78" stroke-width="2.1"/><path d="M825.2 840.8h28.6" stroke="#b8381f" stroke-width="2.1"/><path d="M950.4 840.6h28.6" stroke="#1d2d78" stroke-width="2.1"/><path d="M996.7 839.3h28.6" stroke="#b8381f" stroke-width="2.1"/><path d="M1128.9 832.5h28.6" stroke="#1d2d78" stroke-width="2.1"/><path d="M1175.2 842.8h28.6" stroke="#b8381f" stroke-width="2.1"/><path d="M1315.1 847h28.6" stroke="#1d2d78" stroke-width="2.1"/><path d="M1361.4 848h28.6" stroke="#b8381f" stroke-width="2.1"/><path d="M1500.9 844.9h28.6" stroke="#1d2d78" stroke-width="2.1"/><path d="M1547.2 853.1h28.6" stroke="#b8381f" stroke-width="2.1"/><path d="M1671.9 847.9h28.6" stroke="#1d2d78" stroke-width="2.1"/><path d="M1718.2 858.3h28.6" stroke="#b8381f" stroke-width="2.1"/><path d="M1850.6 848h28.6" stroke="#1d2d78" stroke-width="2.1"/><path d="M1896.9 852.8h28.6" stroke="#b8381f" stroke-width="2.1"/><path d="M78.8 1004.5h28.6" stroke="#1d2d78" stroke-width="2.1"/><path d="M125.1 1010.4h28.6" stroke="#b8381f" stroke-width="2.1"/><path d="M250.7 1020.5h28.6" stroke="#1d2d78" stroke-width="2.1"/><path d="M297 1029.5h28.6" stroke="#b8381f" stroke-width="2.1"/><path d="M421.7 1020.3h28.6" stroke="#1d2d78" stroke-width="2.1"/><path d="M468 1029.2h28.6" stroke="#b8381f" stroke-width="2.1"/><path d="M607.9 1013.3h28.6" stroke="#1d2d78" stroke-width="2.1"/><path d="M654.2 1019.7h28.6" stroke="#b8381f" stroke-width="2.1"/><path d="M778.9 1026.3h28.6" stroke="#1d2d78" stroke-width="2.1"/><path d="M825.2 1027h28.6" stroke="#b8381f" stroke-width="2.1"/><path d="M950.4 1005.9h28.6" stroke="#1d2d78" stroke-width="2.1"/><path d="M996.7 1012.2h28.6" stroke="#b8381f" stroke-width="2.1"/><path d="M1128.9 1020.1h28.6" stroke="#1d2d78" stroke-width="2.1"/><path d="M1175.2 1017.7h28.6" stroke="#b8381f" stroke-width="2.1"/><path d="M1315.1 1016.1h28.6" stroke="#1d2d78" stroke-width="2.1"/><path d="M1361.4 1019.3h28.6" stroke="#b8381f" stroke-width="2.1"/><path d="M1500.9 1025.9h28.6" stroke="#1d2d78" stroke-width="2.1"/><path d="M1547.2 1018.2h28.6" stroke="#b8381f" stroke-width="2.1"/><path d="M1671.9 1028.8h28.6" stroke="#1d2d78" stroke-width="2.1"/><path d="M1718.2 1025.3h28.6" stroke="#b8381f" stroke-width="2.1"/><path d="M595.7 1173.6h34" stroke="#1d2d78" stroke-width="2.1"/><path d="M651.8 1188.3h34" stroke="#b8381f" stroke-width="2.1"/><path d="M779.8 1207.7h34" stroke="#1d2d78" stroke-width="2.1"/><path d="M835.9 1204.1h34" stroke="#b8381f" stroke-width="2.1"/><path d="M595.7 1389.6h34" stroke="#1d2d78" stroke-width="2.1"/><path d="M651.8 1393.4h34" stroke="#b8381f" stroke-width="2.1"/><path d="M779.8 1390.7h34" stroke="#1d2d78" stroke-width="2.1"/><path d="M835.9 1396.2h34" stroke="#b8381f" stroke-width="2.1"/><path d="M595.7 1554.8h34" stroke="#1d2d78" stroke-width="2.1"/><path d="M651.8 1558.4h34" stroke="#b8381f" stroke-width="2.1"/><path d="M779.8 1546.6h34" stroke="#1d2d78" stroke-width="2.1"/><path d="M835.9 1540.3h34" stroke="#b8381f" stroke-width="2.1"/><path d="M86.2 1724.8h34" stroke="#1d2d78" stroke-width="2.1"/><path d="M142.3 1738.2h34" stroke="#b8381f" stroke-width="2.1"/><path d="M278.7 1731.2h34" stroke="#1d2d78" stroke-width="2.1"/><path d="M334.8 1743.1h34" stroke="#b8381f" stroke-width="2.1"/><path d="M1473.6 1194.3h30.6" stroke="#1d2d78" stroke-width="2.1"/><path d="M1523.7 1196.2h30.6" stroke="#b8381f" stroke-width="2.1"/><path d="M1651.5 1204.6h30.6" stroke="#1d2d78" stroke-width="2.1"/><path d="M1701.6 1205.4h30.6" stroke="#b8381f" stroke-width="2.1"/><path d="M1843.8 1215.2h30.6" stroke="#1d2d78" stroke-width="2.1"/><path d="M1893.9 1216.9h30.6" stroke="#b8381f" stroke-width="2.1"/><path d="M1473.6 1378.3h30.6" stroke="#1d2d78" stroke-width="2.1"/><path d="M1523.7 1380.2h30.6" stroke="#b8381f" stroke-width="2.1"/><path d="M1651.5 1402.2h30.6" stroke="#1d2d78" stroke-width="2.1"/><path d="M1701.6 1402.2h30.6" stroke="#b8381f" stroke-width="2.1"/><path d="M1843.8 1402.2h30.6" stroke="#1d2d78" stroke-width="2.1"/><path d="M1893.9 1402.2h30.6" stroke="#b8381f" stroke-width="2.1"/><path d="M1473.6 1572.7h30.6" stroke="#1d2d78" stroke-width="2.1"/><path d="M1523.7 1572.7h30.6" stroke="#b8381f" stroke-width="2.1"/><path d="M1651.5 1561.5h30.6" stroke="#1d2d78" stroke-width="2.1"/><path d="M1701.6 1559h30.6" stroke="#b8381f" stroke-width="2.1"/><path d="M1843.8 1567.1h30.6" stroke="#1d2d78" stroke-width="2.1"/><path d="M1893.9 1567.4h30.6" stroke="#b8381f" stroke-width="2.1"/><path d="M976.2 1734.3h30.6" stroke="#1d2d78" stroke-width="2.1"/><path d="M1026.3 1736.1h30.6" stroke="#b8381f" stroke-width="2.1"/><path d="M1140.2 1743.9h30.6" stroke="#1d2d78" stroke-width="2.1"/><path d="M1190.3 1743.9h30.6" stroke="#b8381f" stroke-width="2.1"/><path d="M1302.8 1722.7h30.6" stroke="#1d2d78" stroke-width="2.1"/><path d="M1352.9 1729.3h30.6" stroke="#b8381f" stroke-width="2.1"/><path d="M1473.6 1717.9h30.6" stroke="#1d2d78" stroke-width="2.1"/><path d="M1523.7 1715.1h30.6" stroke="#b8381f" stroke-width="2.1"/><path d="M1651.5 1717.1h30.6" stroke="#1d2d78" stroke-width="2.1"/><path d="M1701.6 1718.4h30.6" stroke="#b8381f" stroke-width="2.1"/><path d="M1843.8 1728.5h30.6" stroke="#1d2d78" stroke-width="2.1"/><path d="M1893.9 1731.7h30.6" stroke="#b8381f" stroke-width="2.1"/><path d="M623.9 1924.6h29" stroke="#1d2d78" stroke-width="2.1"/><path d="M670.9 1933.3h29" stroke="#b8381f" stroke-width="2.1"/><path d="M797 1948.3h29" stroke="#1d2d78" stroke-width="2.1"/><path d="M844 1948.3h29" stroke="#b8381f" stroke-width="2.1"/><path d="M970.1 1928.4h29" stroke="#1d2d78" stroke-width="2.1"/><path d="M1017.1 1924.2h29" stroke="#b8381f" stroke-width="2.1"/><path d="M1143.4 1924.4h29" stroke="#1d2d78" stroke-width="2.1"/><path d="M1190.4 1923.8h29" stroke="#b8381f" stroke-width="2.1"/><path d="M623.9 2113.3h29" stroke="#1d2d78" stroke-width="2.1"/><path d="M670.9 2112.5h29" stroke="#b8381f" stroke-width="2.1"/><path d="M797 2116.9h29" stroke="#1d2d78" stroke-width="2.1"/><path d="M844 2110.3h29" stroke="#b8381f" stroke-width="2.1"/><path d="M970.1 2111.9h29" stroke="#1d2d78" stroke-width="2.1"/><path d="M1017.1 2109h29" stroke="#b8381f" stroke-width="2.1"/><path d="M1143.4 2124.5h29" stroke="#1d2d78" stroke-width="2.1"/><path d="M1190.4 2124.5h29" stroke="#b8381f" stroke-width="2.1"/><path d="M623.9 2300.2h29" stroke="#1d2d78" stroke-width="2.1"/><path d="M670.9 2300.2h29" stroke="#b8381f" stroke-width="2.1"/><path d="M797 2276.3h29" stroke="#1d2d78" stroke-width="2.1"/><path d="M844 2274.7h29" stroke="#b8381f" stroke-width="2.1"/><path d="M970.1 2266.5h29" stroke="#1d2d78" stroke-width="2.1"/><path d="M1017.1 2272.1h29" stroke="#b8381f" stroke-width="2.1"/><path d="M1143 2298.3h29" stroke="#1d2d78" stroke-width="2.1"/><path d="M1190 2297.3h29" stroke="#b8381f" stroke-width="2.1"/><path d="M74.8 2461.6h29" stroke="#1d2d78" stroke-width="2.1"/><path d="M121.8 2457.5h29" stroke="#b8381f" stroke-width="2.1"/><path d="M262.7 2475.7h29" stroke="#1d2d78" stroke-width="2.1"/><path d="M309.7 2475.7h29" stroke="#b8381f" stroke-width="2.1"/><path d="M435.6 2447.2h29" stroke="#1d2d78" stroke-width="2.1"/><path d="M482.6 2459.7h29" stroke="#b8381f" stroke-width="2.1"/><path d="M623.8 2434h29" stroke="#1d2d78" stroke-width="2.1"/><path d="M670.8 2442.8h29" stroke="#b8381f" stroke-width="2.1"/><path d="M797 2448.1h29" stroke="#1d2d78" stroke-width="2.1"/><path d="M844 2448.1h29" stroke="#b8381f" stroke-width="2.1"/><path d="M970.1 2442.8h29" stroke="#1d2d78" stroke-width="2.1"/><path d="M1017.1 2448.1h29" stroke="#b8381f" stroke-width="2.1"/><path d="M1143 2473.4h29" stroke="#1d2d78" stroke-width="2.1"/><path d="M1190 2472.3h29" stroke="#b8381f" stroke-width="2.1"/><path d="M74.8 2646.9h29" stroke="#1d2d78" stroke-width="2.1"/><path d="M121.8 2644.8h29" stroke="#b8381f" stroke-width="2.1"/><path d="M262.7 2631.2h29" stroke="#1d2d78" stroke-width="2.1"/><path d="M309.7 2632h29" stroke="#b8381f" stroke-width="2.1"/><path d="M435.6 2649.1h29" stroke="#1d2d78" stroke-width="2.1"/><path d="M482.6 2650.1h29" stroke="#b8381f" stroke-width="2.1"/><path d="M623.8 2640.1h29" stroke="#1d2d78" stroke-width="2.1"/><path d="M670.8 2644.4h29" stroke="#b8381f" stroke-width="2.1"/><path d="M797 2649.3h29" stroke="#1d2d78" stroke-width="2.1"/><path d="M844 2643.5h29" stroke="#b8381f" stroke-width="2.1"/><path d="M970.1 2621.2h29" stroke="#1d2d78" stroke-width="2.1"/><path d="M1017.1 2630h29" stroke="#b8381f" stroke-width="2.1"/><path d="M1143 2605h29" stroke="#1d2d78" stroke-width="2.1"/><path d="M1190 2610.5h29" stroke="#b8381f" stroke-width="2.1"/></svg></body></html>
